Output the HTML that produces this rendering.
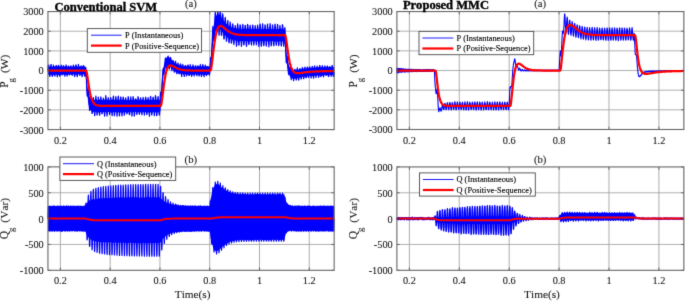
<!DOCTYPE html>
<html><head><meta charset="utf-8"><title>Fig</title>
<style>
html,body{margin:0;padding:0;background:#fff;}
svg{display:block;font-family:"Liberation Serif",serif;font-kerning:none;}
text{fill:#1a1a1a;stroke:#1a1a1a;stroke-width:0.1px;}
</style></head><body>
<svg width="685" height="302" viewBox="0 0 685 302">
<defs><filter id="sf" x="0" y="0" width="685" height="302" filterUnits="userSpaceOnUse" color-interpolation-filters="sRGB"><feConvolveMatrix order="3" kernelMatrix="0.0113 0.0838 0.0113 0.0838 0.6193 0.0838 0.0113 0.0838 0.0113" edgeMode="duplicate" preserveAlpha="false"/></filter></defs>
<rect width="685" height="302" fill="#fff"/>
<g filter="url(#sf)">

<line x1="60.39" y1="11.55" x2="60.39" y2="129.6" stroke="#8a8a8a" stroke-width="0.7"/>
<line x1="110.17" y1="11.55" x2="110.17" y2="129.6" stroke="#8a8a8a" stroke-width="0.7"/>
<line x1="159.94" y1="11.55" x2="159.94" y2="129.6" stroke="#8a8a8a" stroke-width="0.7"/>
<line x1="209.72" y1="11.55" x2="209.72" y2="129.6" stroke="#8a8a8a" stroke-width="0.7"/>
<line x1="259.49" y1="11.55" x2="259.49" y2="129.6" stroke="#8a8a8a" stroke-width="0.7"/>
<line x1="309.26" y1="11.55" x2="309.26" y2="129.6" stroke="#8a8a8a" stroke-width="0.7"/>
<line x1="47.95" y1="109.92" x2="334.15" y2="109.92" stroke="#a2a2a2" stroke-width="0.85"/>
<line x1="47.95" y1="90.25" x2="334.15" y2="90.25" stroke="#a2a2a2" stroke-width="0.85"/>
<line x1="47.95" y1="70.57" x2="334.15" y2="70.57" stroke="#a2a2a2" stroke-width="0.85"/>
<line x1="47.95" y1="50.90" x2="334.15" y2="50.90" stroke="#a2a2a2" stroke-width="0.85"/>
<line x1="47.95" y1="31.22" x2="334.15" y2="31.22" stroke="#a2a2a2" stroke-width="0.85"/>
<line x1="409.38" y1="11.55" x2="409.38" y2="129.5" stroke="#8a8a8a" stroke-width="0.7"/>
<line x1="459.28" y1="11.55" x2="459.28" y2="129.5" stroke="#8a8a8a" stroke-width="0.7"/>
<line x1="509.18" y1="11.55" x2="509.18" y2="129.5" stroke="#8a8a8a" stroke-width="0.7"/>
<line x1="559.09" y1="11.55" x2="559.09" y2="129.5" stroke="#8a8a8a" stroke-width="0.7"/>
<line x1="608.99" y1="11.55" x2="608.99" y2="129.5" stroke="#8a8a8a" stroke-width="0.7"/>
<line x1="658.90" y1="11.55" x2="658.90" y2="129.5" stroke="#8a8a8a" stroke-width="0.7"/>
<line x1="396.9" y1="109.84" x2="683.85" y2="109.84" stroke="#a2a2a2" stroke-width="0.85"/>
<line x1="396.9" y1="90.18" x2="683.85" y2="90.18" stroke="#a2a2a2" stroke-width="0.85"/>
<line x1="396.9" y1="70.53" x2="683.85" y2="70.53" stroke="#a2a2a2" stroke-width="0.85"/>
<line x1="396.9" y1="50.87" x2="683.85" y2="50.87" stroke="#a2a2a2" stroke-width="0.85"/>
<line x1="396.9" y1="31.21" x2="683.85" y2="31.21" stroke="#a2a2a2" stroke-width="0.85"/>
<line x1="60.39" y1="166.9" x2="60.39" y2="270.3" stroke="#8a8a8a" stroke-width="0.7"/>
<line x1="110.17" y1="166.9" x2="110.17" y2="270.3" stroke="#8a8a8a" stroke-width="0.7"/>
<line x1="159.94" y1="166.9" x2="159.94" y2="270.3" stroke="#8a8a8a" stroke-width="0.7"/>
<line x1="209.72" y1="166.9" x2="209.72" y2="270.3" stroke="#8a8a8a" stroke-width="0.7"/>
<line x1="259.49" y1="166.9" x2="259.49" y2="270.3" stroke="#8a8a8a" stroke-width="0.7"/>
<line x1="309.26" y1="166.9" x2="309.26" y2="270.3" stroke="#8a8a8a" stroke-width="0.7"/>
<line x1="47.95" y1="244.45" x2="334.15" y2="244.45" stroke="#a2a2a2" stroke-width="0.85"/>
<line x1="47.95" y1="218.60" x2="334.15" y2="218.60" stroke="#a2a2a2" stroke-width="0.85"/>
<line x1="47.95" y1="192.75" x2="334.15" y2="192.75" stroke="#a2a2a2" stroke-width="0.85"/>
<line x1="409.38" y1="166.95" x2="409.38" y2="270.3" stroke="#8a8a8a" stroke-width="0.7"/>
<line x1="459.28" y1="166.95" x2="459.28" y2="270.3" stroke="#8a8a8a" stroke-width="0.7"/>
<line x1="509.18" y1="166.95" x2="509.18" y2="270.3" stroke="#8a8a8a" stroke-width="0.7"/>
<line x1="559.09" y1="166.95" x2="559.09" y2="270.3" stroke="#8a8a8a" stroke-width="0.7"/>
<line x1="608.99" y1="166.95" x2="608.99" y2="270.3" stroke="#8a8a8a" stroke-width="0.7"/>
<line x1="658.90" y1="166.95" x2="658.90" y2="270.3" stroke="#8a8a8a" stroke-width="0.7"/>
<line x1="396.9" y1="244.46" x2="683.85" y2="244.46" stroke="#a2a2a2" stroke-width="0.85"/>
<line x1="396.9" y1="218.62" x2="683.85" y2="218.62" stroke="#a2a2a2" stroke-width="0.85"/>
<line x1="396.9" y1="192.79" x2="683.85" y2="192.79" stroke="#a2a2a2" stroke-width="0.85"/>
<polygon fill="#0000ff" stroke="none" points="48.0,66.7 48.2,66.3 48.4,67.1 48.7,67.1 48.9,66.9 49.2,66.9 49.4,67.1 49.7,66.1 49.9,66.2 50.2,66.2 50.4,66.2 50.7,66.0 50.9,66.9 51.2,66.5 51.4,66.7 51.7,66.7 51.9,66.3 52.2,66.7 52.4,66.0 52.7,67.0 52.9,66.9 53.2,66.1 53.4,66.8 53.7,66.7 53.9,66.6 54.2,66.3 54.4,66.1 54.7,66.3 54.9,66.9 55.2,66.1 55.4,66.8 55.7,67.0 55.9,67.1 56.2,66.1 56.4,66.5 56.7,66.8 56.9,67.0 57.2,66.0 57.4,66.2 57.7,66.2 57.9,66.6 58.2,66.9 58.4,66.7 58.7,66.4 58.9,66.4 59.1,67.0 59.4,66.1 59.6,66.4 59.9,66.5 60.1,66.4 60.4,66.5 60.6,66.0 60.9,66.9 61.1,66.3 61.4,66.4 61.6,66.0 61.9,66.3 62.1,66.9 62.4,66.7 62.6,66.1 62.9,67.0 63.1,66.2 63.4,66.5 63.6,67.1 63.9,66.2 64.1,66.9 64.4,66.7 64.6,66.5 64.9,66.7 65.1,66.1 65.4,66.0 65.6,66.0 65.9,66.5 66.1,66.2 66.4,66.8 66.6,66.6 66.9,66.5 67.1,66.6 67.4,66.9 67.6,66.1 67.9,66.4 68.1,66.7 68.4,66.8 68.6,67.0 68.9,66.6 69.1,66.7 69.4,66.1 69.6,67.0 69.9,66.9 70.1,66.4 70.3,66.8 70.6,66.7 70.8,66.0 71.1,66.9 71.3,66.9 71.6,66.7 71.8,66.7 72.1,66.5 72.3,66.3 72.6,67.0 72.8,66.9 73.1,66.0 73.3,66.3 73.6,67.0 73.8,66.4 74.1,66.1 74.3,66.8 74.6,66.6 74.8,66.2 75.1,66.8 75.3,66.3 75.6,66.6 75.8,66.4 76.1,66.4 76.3,67.0 76.6,66.3 76.8,66.2 77.1,66.9 77.3,67.0 77.6,66.5 77.8,66.5 78.1,66.6 78.3,66.1 78.6,67.1 78.8,66.4 79.1,66.1 79.3,66.2 79.6,66.3 79.8,66.9 80.1,66.9 80.3,66.6 80.6,66.2 80.8,67.0 81.0,67.1 81.3,66.1 81.5,66.7 81.8,66.4 82.0,66.0 82.3,67.0 82.5,66.7 82.8,66.1 83.0,66.9 83.3,66.1 83.5,66.3 83.8,66.7 84.0,66.2 84.3,66.6 84.5,66.1 84.8,66.0 85.0,66.4 85.3,66.3 85.5,67.6 85.8,69.4 86.0,71.5 86.3,74.2 86.5,76.7 86.8,79.7 87.0,81.7 87.3,84.2 87.5,86.7 87.8,88.7 88.0,89.8 88.3,90.8 88.5,92.1 88.8,93.2 89.0,94.8 89.3,95.0 89.5,96.7 89.8,97.4 90.0,97.8 90.3,98.3 90.5,98.5 90.8,98.4 91.0,98.2 91.3,98.6 91.5,99.0 91.8,99.7 92.0,99.1 92.2,99.2 92.5,99.1 92.7,99.5 93.0,99.8 93.2,99.9 93.5,99.7 93.7,100.0 94.0,99.2 94.2,100.2 94.5,99.6 94.7,99.9 95.0,99.9 95.2,99.8 95.5,100.0 95.7,99.6 96.0,99.7 96.2,99.9 96.5,99.9 96.7,99.8 97.0,99.6 97.2,100.2 97.5,100.3 97.7,100.2 98.0,100.0 98.2,99.8 98.5,99.9 98.7,99.5 99.0,99.7 99.2,99.7 99.5,99.8 99.7,99.3 100.0,100.4 100.2,99.9 100.5,100.0 100.7,99.3 101.0,100.1 101.2,100.0 101.5,99.6 101.7,99.9 102.0,100.3 102.2,100.2 102.5,99.8 102.7,100.0 103.0,99.8 103.2,100.2 103.4,99.3 103.7,100.0 103.9,100.0 104.2,99.7 104.4,99.4 104.7,99.4 104.9,99.8 105.2,99.4 105.4,99.7 105.7,100.0 105.9,99.9 106.2,100.1 106.4,99.5 106.7,99.8 106.9,99.8 107.2,100.0 107.4,99.6 107.7,100.1 107.9,100.1 108.2,100.4 108.4,100.3 108.7,100.1 108.9,100.1 109.2,99.9 109.4,99.7 109.7,100.1 109.9,100.2 110.2,99.7 110.4,99.6 110.7,99.4 110.9,99.8 111.2,100.4 111.4,100.0 111.7,99.6 111.9,100.0 112.2,100.3 112.4,99.3 112.7,99.4 112.9,100.1 113.2,100.3 113.4,99.9 113.7,100.1 113.9,99.8 114.1,99.6 114.4,100.1 114.6,100.0 114.9,99.7 115.1,99.8 115.4,100.4 115.6,100.1 115.9,100.3 116.1,99.4 116.4,99.9 116.6,99.5 116.9,100.1 117.1,100.4 117.4,99.4 117.6,99.4 117.9,99.8 118.1,100.3 118.4,100.4 118.6,99.7 118.9,99.8 119.1,100.0 119.4,99.8 119.6,100.4 119.9,100.2 120.1,99.3 120.4,99.9 120.6,99.9 120.9,99.3 121.1,99.9 121.4,100.4 121.6,99.6 121.9,99.8 122.1,100.1 122.4,99.8 122.6,100.1 122.9,99.6 123.1,99.3 123.4,100.4 123.6,99.6 123.9,99.4 124.1,99.6 124.4,99.8 124.6,100.1 124.9,100.0 125.1,100.3 125.3,100.4 125.6,99.6 125.8,100.3 126.1,100.4 126.3,100.1 126.6,100.4 126.8,99.7 127.1,99.8 127.3,99.9 127.6,100.3 127.8,99.8 128.1,99.6 128.3,100.0 128.6,100.1 128.8,99.9 129.1,100.1 129.3,100.0 129.6,99.8 129.8,100.4 130.1,100.1 130.3,100.3 130.6,100.2 130.8,99.5 131.1,100.0 131.3,99.9 131.6,100.1 131.8,99.3 132.1,99.4 132.3,100.4 132.6,100.1 132.8,99.9 133.1,99.5 133.3,100.1 133.6,100.2 133.8,100.3 134.1,99.4 134.3,100.0 134.6,100.0 134.8,99.9 135.1,99.3 135.3,99.6 135.6,100.2 135.8,100.2 136.0,100.3 136.3,99.4 136.5,99.9 136.8,99.6 137.0,99.4 137.3,100.4 137.5,100.2 137.8,100.0 138.0,99.5 138.3,99.9 138.5,100.1 138.8,100.4 139.0,99.9 139.3,100.2 139.5,99.3 139.8,99.4 140.0,100.0 140.3,100.3 140.5,100.0 140.8,99.3 141.0,99.7 141.3,99.9 141.5,100.0 141.8,100.2 142.0,100.3 142.3,99.9 142.5,99.3 142.8,99.3 143.0,99.4 143.3,100.0 143.5,99.7 143.8,100.2 144.0,100.1 144.3,100.2 144.5,100.0 144.8,100.4 145.0,99.4 145.3,99.3 145.5,100.2 145.8,100.1 146.0,100.2 146.3,99.6 146.5,99.3 146.8,99.3 147.0,100.4 147.2,99.3 147.5,99.9 147.7,100.3 148.0,100.1 148.2,99.8 148.5,100.0 148.7,99.7 149.0,100.3 149.2,99.7 149.5,100.0 149.7,99.4 150.0,99.7 150.2,100.4 150.5,99.3 150.7,100.2 151.0,99.8 151.2,100.0 151.5,99.8 151.7,100.3 152.0,100.1 152.2,100.2 152.5,99.9 152.7,100.0 153.0,100.0 153.2,100.0 153.5,100.0 153.7,99.5 154.0,99.9 154.2,99.7 154.5,99.8 154.7,99.8 155.0,99.4 155.2,99.3 155.5,100.4 155.7,100.0 156.0,99.3 156.2,100.2 156.5,99.8 156.7,100.0 157.0,99.7 157.2,99.5 157.5,99.7 157.7,100.2 158.0,99.7 158.2,99.6 158.4,100.3 158.7,99.7 158.9,100.4 159.2,100.0 159.4,100.0 159.7,100.3 159.9,99.6 160.2,98.9 160.4,97.2 160.7,94.7 160.9,91.9 161.2,89.1 161.4,85.7 161.7,83.3 161.9,80.6 162.2,77.8 162.4,76.1 162.7,73.1 162.9,71.5 163.2,70.1 163.4,68.5 163.7,67.0 163.9,64.8 164.2,64.3 164.4,63.4 164.7,61.5 164.9,61.4 165.2,60.5 165.4,59.8 165.7,59.4 165.9,58.9 166.2,57.7 166.4,57.3 166.7,58.1 166.9,57.5 167.2,56.8 167.4,57.4 167.7,57.6 167.9,56.6 168.2,56.8 168.4,57.7 168.7,56.9 168.9,57.4 169.1,57.4 169.4,58.1 169.6,58.0 169.9,57.5 170.1,58.3 170.4,58.6 170.6,58.3 170.9,58.8 171.1,59.2 171.4,60.0 171.6,59.4 171.9,60.2 172.1,60.4 172.4,60.7 172.6,60.8 172.9,60.5 173.1,61.1 173.4,61.0 173.6,61.1 173.9,61.6 174.1,62.4 174.4,62.6 174.6,63.0 174.9,62.2 175.1,63.2 175.4,62.6 175.6,63.5 175.9,62.9 176.1,64.0 176.4,63.4 176.6,63.3 176.9,64.0 177.1,64.3 177.4,64.1 177.6,63.9 177.9,65.0 178.1,64.4 178.4,64.8 178.6,64.4 178.9,65.3 179.1,64.7 179.4,65.1 179.6,65.1 179.9,65.3 180.1,65.5 180.3,65.8 180.6,65.3 180.8,65.6 181.1,65.1 181.3,66.1 181.6,66.2 181.8,65.6 182.1,65.5 182.3,65.7 182.6,66.0 182.8,66.5 183.1,66.5 183.3,66.1 183.6,65.6 183.8,66.5 184.1,65.9 184.3,65.8 184.6,65.8 184.8,66.0 185.1,66.1 185.3,66.0 185.6,66.3 185.8,66.2 186.1,65.8 186.3,66.0 186.6,66.8 186.8,66.5 187.1,66.6 187.3,66.9 187.6,66.9 187.8,66.5 188.1,66.7 188.3,65.8 188.6,66.7 188.8,66.7 189.1,67.0 189.3,66.2 189.6,65.9 189.8,66.1 190.1,66.0 190.3,67.0 190.6,66.9 190.8,66.7 191.1,66.6 191.3,66.9 191.5,67.0 191.8,66.5 192.0,65.9 192.3,66.6 192.5,66.9 192.8,66.8 193.0,66.9 193.3,67.1 193.5,66.3 193.8,66.3 194.0,66.0 194.3,66.6 194.5,67.0 194.8,67.0 195.0,66.5 195.3,66.2 195.5,67.0 195.8,66.2 196.0,66.9 196.3,67.1 196.5,67.0 196.8,66.3 197.0,67.1 197.3,66.5 197.5,66.0 197.8,66.6 198.0,66.0 198.3,66.8 198.5,66.3 198.8,66.0 199.0,66.8 199.3,66.1 199.5,66.1 199.8,66.1 200.0,66.6 200.3,67.1 200.5,66.8 200.8,66.7 201.0,66.8 201.3,66.3 201.5,66.4 201.8,66.9 202.0,66.6 202.2,66.1 202.5,66.4 202.7,66.2 203.0,66.1 203.2,66.5 203.5,66.3 203.7,66.5 204.0,66.9 204.2,67.0 204.5,66.5 204.7,66.2 205.0,66.1 205.2,66.2 205.5,66.6 205.7,66.3 206.0,66.6 206.2,66.2 206.5,66.8 206.7,66.6 207.0,66.3 207.2,66.1 207.5,66.2 207.7,67.0 208.0,67.0 208.2,66.9 208.5,66.8 208.7,67.0 209.0,66.0 209.2,66.5 209.5,67.1 209.7,66.7 210.0,65.8 210.2,63.4 210.5,60.6 210.7,58.1 211.0,54.6 211.2,50.5 211.5,47.7 211.7,44.3 212.0,40.8 212.2,38.6 212.5,36.4 212.7,33.4 213.0,31.5 213.2,29.4 213.4,27.4 213.7,25.6 213.9,24.3 214.2,22.2 214.4,21.9 214.7,19.6 214.9,19.0 215.2,18.5 215.4,18.0 215.7,17.1 215.9,15.7 216.2,15.9 216.4,15.4 216.7,15.4 216.9,14.5 217.2,14.7 217.4,14.6 217.7,14.8 217.9,14.7 218.2,14.7 218.4,13.8 218.7,14.4 218.9,14.1 219.2,15.0 219.4,15.0 219.7,14.8 219.9,15.2 220.2,15.7 220.4,15.9 220.7,16.9 220.9,16.2 221.2,16.5 221.4,17.1 221.7,17.9 221.9,18.3 222.2,18.7 222.4,19.2 222.7,19.7 222.9,20.1 223.2,19.9 223.4,20.2 223.7,20.8 223.9,20.9 224.1,20.6 224.4,21.8 224.6,21.4 224.9,22.4 225.1,22.4 225.4,22.6 225.6,23.5 225.9,22.9 226.1,24.0 226.4,24.0 226.6,24.1 226.9,23.9 227.1,24.1 227.4,25.0 227.6,24.9 227.9,25.5 228.1,25.5 228.4,25.8 228.6,25.7 228.9,26.1 229.1,25.5 229.4,26.5 229.6,26.0 229.9,26.0 230.1,26.3 230.4,26.3 230.6,26.5 230.9,27.2 231.1,27.1 231.4,26.9 231.6,27.4 231.9,27.2 232.1,27.3 232.4,27.5 232.6,28.1 232.9,28.0 233.1,27.5 233.4,28.1 233.6,28.0 233.9,28.5 234.1,28.1 234.4,27.7 234.6,28.0 234.9,27.8 235.1,27.9 235.3,28.5 235.6,28.8 235.8,28.1 236.1,28.0 236.3,28.3 236.6,28.8 236.8,28.3 237.1,28.6 237.3,29.1 237.6,28.8 237.8,28.4 238.1,28.6 238.3,28.7 238.6,29.1 238.8,28.8 239.1,29.1 239.3,28.7 239.6,28.8 239.8,29.4 240.1,28.8 240.3,29.2 240.6,28.6 240.8,28.4 241.1,28.7 241.3,28.7 241.6,29.3 241.8,29.2 242.1,29.4 242.3,28.5 242.6,28.4 242.8,28.4 243.1,28.8 243.3,28.7 243.6,28.8 243.8,28.5 244.1,28.6 244.3,29.0 244.6,29.0 244.8,28.6 245.1,29.3 245.3,28.8 245.6,29.1 245.8,28.8 246.1,29.1 246.3,29.3 246.5,28.6 246.8,29.0 247.0,28.8 247.3,28.9 247.5,28.6 247.8,28.7 248.0,28.4 248.3,28.8 248.5,28.6 248.8,28.6 249.0,28.8 249.3,28.4 249.5,29.4 249.8,29.4 250.0,29.0 250.3,28.7 250.5,28.8 250.8,28.5 251.0,28.8 251.3,29.2 251.5,29.3 251.8,28.4 252.0,28.8 252.3,29.6 252.5,29.2 252.8,29.0 253.0,29.1 253.3,28.5 253.5,29.3 253.8,29.3 254.0,29.6 254.3,28.8 254.5,29.1 254.8,29.5 255.0,28.9 255.3,29.4 255.5,29.4 255.8,28.7 256.0,29.6 256.3,28.5 256.5,28.6 256.8,29.3 257.0,29.3 257.2,29.0 257.5,29.5 257.7,28.6 258.0,29.0 258.2,28.6 258.5,28.6 258.7,28.9 259.0,28.8 259.2,28.4 259.5,29.3 259.7,29.3 260.0,29.0 260.2,29.4 260.5,28.8 260.7,28.5 261.0,28.9 261.2,29.2 261.5,28.9 261.7,28.9 262.0,29.6 262.2,28.7 262.5,29.3 262.7,29.3 263.0,29.5 263.2,28.7 263.5,28.7 263.7,29.4 264.0,29.1 264.2,28.7 264.5,29.0 264.7,28.8 265.0,29.1 265.2,28.7 265.5,28.7 265.7,28.7 266.0,29.5 266.2,29.0 266.5,28.9 266.7,29.5 267.0,28.9 267.2,28.7 267.5,28.9 267.7,28.5 268.0,29.3 268.2,28.7 268.4,28.7 268.7,28.7 268.9,29.1 269.2,28.9 269.4,28.6 269.7,28.4 269.9,29.2 270.2,29.2 270.4,29.4 270.7,29.3 270.9,29.3 271.2,29.2 271.4,29.3 271.7,29.4 271.9,28.9 272.2,28.9 272.4,29.2 272.7,28.8 272.9,29.3 273.2,29.1 273.4,29.5 273.7,29.5 273.9,28.9 274.2,28.7 274.4,28.5 274.7,29.5 274.9,29.6 275.2,29.1 275.4,28.8 275.7,28.5 275.9,29.1 276.2,29.0 276.4,29.6 276.7,29.3 276.9,28.5 277.2,29.3 277.4,28.6 277.7,29.4 277.9,29.4 278.2,29.2 278.4,29.2 278.7,29.1 278.9,29.1 279.1,28.9 279.4,29.3 279.6,29.0 279.9,28.9 280.1,28.7 280.4,28.4 280.6,29.0 280.9,28.6 281.1,28.6 281.4,28.9 281.6,28.5 281.9,29.5 282.1,29.3 282.4,28.7 282.6,29.5 282.9,29.4 283.1,29.5 283.4,28.6 283.6,29.1 283.9,29.3 284.1,28.6 284.4,28.8 284.6,30.2 284.9,32.3 285.1,34.4 285.4,37.2 285.6,41.3 285.9,44.8 286.1,46.7 286.4,49.8 286.6,53.0 286.9,55.2 287.1,57.2 287.4,59.1 287.6,60.0 287.9,61.2 288.1,63.1 288.4,64.4 288.6,65.3 288.9,65.4 289.1,66.3 289.4,66.6 289.6,67.2 289.9,68.2 290.1,68.6 290.3,68.2 290.6,68.4 290.8,69.5 291.1,69.5 291.3,69.6 291.6,69.3 291.8,70.0 292.1,69.7 292.3,69.8 292.6,69.4 292.8,70.5 293.1,70.0 293.3,70.0 293.6,70.1 293.8,70.5 294.1,70.1 294.3,69.8 294.6,69.4 294.8,69.5 295.1,69.5 295.3,69.5 295.6,70.5 295.8,69.5 296.1,70.2 296.3,69.5 296.6,69.6 296.8,69.4 297.1,69.8 297.3,69.8 297.6,69.6 297.8,69.2 298.1,69.4 298.3,69.6 298.6,69.9 298.8,69.4 299.1,68.9 299.3,69.7 299.6,69.0 299.8,69.0 300.1,68.7 300.3,68.9 300.6,69.0 300.8,69.1 301.1,69.2 301.3,68.9 301.5,69.3 301.8,69.2 302.0,68.5 302.3,69.4 302.5,68.3 302.8,68.5 303.0,69.3 303.3,68.7 303.5,68.7 303.8,68.5 304.0,68.7 304.3,68.0 304.5,68.6 304.8,69.0 305.0,68.7 305.3,68.7 305.5,68.8 305.8,68.9 306.0,67.9 306.3,68.8 306.5,68.7 306.8,68.7 307.0,68.0 307.3,68.2 307.5,68.2 307.8,67.8 308.0,68.1 308.3,68.1 308.5,67.8 308.8,68.2 309.0,68.3 309.3,67.5 309.5,68.5 309.8,67.7 310.0,68.4 310.3,68.3 310.5,68.2 310.8,68.1 311.0,67.7 311.3,67.6 311.5,67.2 311.8,67.4 312.0,68.3 312.2,67.8 312.5,67.4 312.7,67.1 313.0,67.7 313.2,68.1 313.5,68.1 313.7,67.3 314.0,67.3 314.2,67.5 314.5,67.4 314.7,67.2 315.0,67.5 315.2,67.8 315.5,67.3 315.7,67.9 316.0,67.2 316.2,67.6 316.5,67.5 316.7,67.3 317.0,67.2 317.2,67.6 317.5,66.9 317.7,66.9 318.0,66.8 318.2,66.9 318.5,67.3 318.7,67.6 319.0,66.9 319.2,67.3 319.5,67.6 319.7,67.3 320.0,67.4 320.2,67.3 320.5,66.7 320.7,67.3 321.0,67.4 321.2,67.0 321.5,66.8 321.7,67.0 322.0,67.7 322.2,67.4 322.5,66.7 322.7,67.1 323.0,67.7 323.2,67.0 323.4,67.0 323.7,67.5 323.9,66.9 324.2,67.5 324.4,66.6 324.7,67.0 324.9,67.6 325.2,67.1 325.4,66.7 325.7,67.5 325.9,66.7 326.2,66.7 326.4,67.6 326.7,66.7 326.9,67.7 327.2,67.0 327.4,67.0 327.7,66.5 327.9,67.0 328.2,67.1 328.4,67.4 328.7,66.8 328.9,66.6 329.2,67.2 329.4,66.5 329.7,66.7 329.9,67.1 330.2,67.4 330.4,67.2 330.7,67.0 330.9,67.5 331.2,66.5 331.4,67.2 331.7,67.3 331.9,66.9 332.2,66.7 332.4,67.4 332.7,67.1 332.9,67.1 333.2,66.6 333.4,67.3 333.7,67.1 333.9,67.3 334.2,67.0 334.2,74.8 333.9,75.6 333.7,75.2 333.4,74.7 333.2,75.5 332.9,75.2 332.7,75.1 332.4,75.2 332.2,75.2 331.9,75.7 331.7,75.0 331.4,75.4 331.2,74.8 330.9,75.6 330.7,74.8 330.4,74.6 330.2,75.1 329.9,75.2 329.7,74.8 329.4,74.8 329.2,74.8 328.9,75.6 328.7,75.7 328.4,75.3 328.2,75.7 327.9,75.5 327.7,75.3 327.4,75.2 327.2,75.3 326.9,75.8 326.7,75.6 326.4,74.8 326.2,75.5 325.9,74.7 325.7,75.0 325.4,75.8 325.2,75.2 324.9,75.2 324.7,75.6 324.4,75.0 324.2,75.0 323.9,74.8 323.7,75.7 323.4,75.3 323.2,75.9 323.0,75.8 322.7,74.9 322.5,75.9 322.2,76.0 322.0,75.9 321.7,75.4 321.5,75.7 321.2,74.9 321.0,75.0 320.7,76.0 320.5,76.0 320.2,75.3 320.0,75.8 319.7,74.9 319.5,76.0 319.2,75.4 319.0,75.1 318.7,75.1 318.5,75.4 318.2,75.2 318.0,75.7 317.7,75.3 317.5,75.2 317.2,75.3 317.0,75.6 316.7,76.2 316.5,75.2 316.2,75.7 316.0,75.5 315.7,75.9 315.5,75.3 315.2,76.0 315.0,76.2 314.7,76.1 314.5,75.5 314.2,75.9 314.0,75.9 313.7,76.3 313.5,76.4 313.2,75.3 313.0,76.3 312.7,76.2 312.5,76.4 312.2,75.9 312.0,76.1 311.8,76.5 311.5,76.2 311.3,76.5 311.0,75.9 310.8,76.0 310.5,76.3 310.3,75.8 310.0,76.0 309.8,76.0 309.5,75.7 309.3,75.6 309.0,76.1 308.8,76.3 308.5,76.9 308.3,76.8 308.0,75.8 307.8,76.3 307.5,76.5 307.3,75.9 307.0,77.0 306.8,76.0 306.5,76.1 306.3,76.5 306.0,76.2 305.8,76.4 305.5,77.2 305.3,76.8 305.0,76.6 304.8,76.8 304.5,76.8 304.3,77.4 304.0,76.8 303.8,76.9 303.5,77.1 303.3,76.9 303.0,77.2 302.8,76.8 302.5,76.7 302.3,76.9 302.0,76.8 301.8,77.7 301.5,77.0 301.3,77.6 301.1,77.8 300.8,77.6 300.6,77.9 300.3,77.1 300.1,78.0 299.8,77.5 299.6,77.3 299.3,77.7 299.1,78.0 298.8,78.2 298.6,77.7 298.3,78.1 298.1,78.2 297.8,77.9 297.6,78.1 297.3,78.7 297.1,78.1 296.8,78.4 296.6,77.9 296.3,78.9 296.1,78.0 295.8,78.0 295.6,78.6 295.3,79.0 295.1,78.5 294.8,78.5 294.6,79.1 294.3,78.1 294.1,79.0 293.8,78.9 293.6,78.6 293.3,78.3 293.1,78.7 292.8,78.5 292.6,78.9 292.3,78.2 292.1,78.8 291.8,78.0 291.6,78.0 291.3,78.2 291.1,77.2 290.8,77.1 290.6,76.8 290.3,76.7 290.1,76.8 289.9,76.3 289.6,75.6 289.4,75.8 289.1,74.4 288.9,73.4 288.6,73.0 288.4,71.9 288.1,71.7 287.9,70.6 287.6,68.7 287.4,67.7 287.1,65.9 286.9,63.7 286.6,61.7 286.4,59.9 286.1,57.9 285.9,55.0 285.6,52.0 285.4,48.7 285.1,46.1 284.9,43.9 284.6,41.7 284.4,41.6 284.1,41.7 283.9,41.6 283.6,41.8 283.4,41.1 283.1,41.6 282.9,41.2 282.6,41.3 282.4,41.1 282.1,41.4 281.9,41.9 281.6,41.7 281.4,41.5 281.1,41.4 280.9,41.1 280.6,41.0 280.4,41.6 280.1,41.2 279.9,41.1 279.6,41.0 279.4,41.5 279.1,40.8 278.9,40.9 278.7,41.4 278.4,40.7 278.2,41.5 277.9,41.9 277.7,41.9 277.4,41.3 277.2,40.7 276.9,41.0 276.7,41.8 276.4,41.7 276.2,40.8 275.9,41.3 275.7,41.7 275.4,41.0 275.2,41.0 274.9,41.7 274.7,41.3 274.4,41.1 274.2,41.6 273.9,41.7 273.7,40.9 273.4,40.7 273.2,41.9 272.9,41.0 272.7,40.9 272.4,40.9 272.2,41.8 271.9,41.5 271.7,41.5 271.4,41.7 271.2,40.9 270.9,40.8 270.7,41.0 270.4,40.8 270.2,41.4 269.9,41.2 269.7,41.8 269.4,40.9 269.2,41.5 268.9,41.1 268.7,41.3 268.4,41.6 268.2,41.7 268.0,40.9 267.7,40.7 267.5,41.6 267.2,41.1 267.0,41.5 266.7,41.1 266.5,41.4 266.2,41.2 266.0,40.7 265.7,41.3 265.5,41.0 265.2,41.4 265.0,41.1 264.7,41.3 264.5,40.9 264.2,41.4 264.0,41.1 263.7,41.5 263.5,41.6 263.2,41.5 263.0,41.0 262.7,41.5 262.5,40.9 262.2,41.8 262.0,41.5 261.7,41.4 261.5,41.8 261.2,41.7 261.0,40.7 260.7,40.8 260.5,41.0 260.2,41.2 260.0,41.9 259.7,41.6 259.5,41.6 259.2,41.0 259.0,41.7 258.7,41.8 258.5,41.5 258.2,41.1 258.0,40.9 257.7,41.6 257.5,41.8 257.2,41.0 257.0,41.8 256.8,41.1 256.5,41.3 256.3,40.7 256.0,41.0 255.8,41.2 255.5,40.8 255.3,41.6 255.0,40.9 254.8,41.6 254.5,41.3 254.3,41.1 254.0,41.6 253.8,41.1 253.5,41.6 253.3,41.7 253.0,41.5 252.8,41.3 252.5,41.6 252.3,41.0 252.0,41.6 251.8,41.1 251.5,41.7 251.3,41.7 251.0,41.0 250.8,41.6 250.5,41.3 250.3,40.7 250.0,41.0 249.8,41.3 249.5,41.2 249.3,41.0 249.0,41.5 248.8,41.8 248.5,41.3 248.3,40.9 248.0,41.1 247.8,41.6 247.5,41.2 247.3,41.4 247.0,41.6 246.8,40.9 246.5,41.1 246.3,41.6 246.1,41.1 245.8,40.9 245.6,41.5 245.3,41.0 245.1,41.3 244.8,41.2 244.6,40.9 244.3,41.1 244.1,40.8 243.8,41.3 243.6,41.3 243.3,41.0 243.1,41.3 242.8,41.0 242.6,41.0 242.3,40.7 242.1,41.1 241.8,41.3 241.6,41.0 241.3,41.7 241.1,40.8 240.8,41.4 240.6,41.3 240.3,41.0 240.1,41.1 239.8,40.9 239.6,41.6 239.3,40.5 239.1,40.7 238.8,41.5 238.6,41.2 238.3,40.5 238.1,40.8 237.8,41.4 237.6,41.6 237.3,41.4 237.1,40.5 236.8,41.1 236.6,40.6 236.3,40.6 236.1,40.9 235.8,40.6 235.6,40.2 235.3,40.3 235.1,40.5 234.9,40.5 234.6,40.8 234.4,40.2 234.1,41.1 233.9,40.2 233.6,40.3 233.4,40.9 233.1,40.3 232.9,40.6 232.6,40.3 232.4,39.8 232.1,39.6 231.9,39.8 231.6,40.3 231.4,39.8 231.1,39.6 230.9,39.3 230.6,38.9 230.4,38.8 230.1,39.4 229.9,38.9 229.6,39.4 229.4,38.3 229.1,38.9 228.9,38.7 228.6,38.3 228.4,38.1 228.1,38.5 227.9,38.1 227.6,37.4 227.4,37.6 227.1,37.1 226.9,37.7 226.6,36.5 226.4,36.7 226.1,36.5 225.9,35.7 225.6,36.2 225.4,35.4 225.1,34.9 224.9,34.8 224.6,35.3 224.4,35.0 224.1,34.5 223.9,33.7 223.7,33.9 223.4,32.9 223.2,33.0 222.9,33.0 222.7,32.2 222.4,32.5 222.2,31.4 221.9,31.5 221.7,31.2 221.4,30.7 221.2,30.4 220.9,30.3 220.7,29.5 220.4,29.7 220.2,29.5 219.9,29.2 219.7,29.1 219.4,29.3 219.2,28.8 218.9,28.0 218.7,28.7 218.4,28.0 218.2,28.0 217.9,28.1 217.7,27.8 217.4,28.5 217.2,27.9 216.9,28.1 216.7,28.5 216.4,29.0 216.2,29.8 215.9,30.4 215.7,30.9 215.4,31.4 215.2,32.3 214.9,32.2 214.7,33.8 214.4,33.9 214.2,35.3 213.9,36.9 213.7,38.4 213.4,40.2 213.2,41.9 213.0,43.4 212.7,45.6 212.5,47.9 212.2,49.6 212.0,52.3 211.7,55.1 211.5,58.3 211.2,61.2 211.0,64.1 210.7,66.3 210.5,70.1 210.2,72.0 210.0,74.2 209.7,75.2 209.5,74.2 209.2,75.1 209.0,74.8 208.7,75.1 208.5,74.2 208.2,74.2 208.0,74.6 207.7,74.3 207.5,74.5 207.2,74.6 207.0,74.9 206.7,74.8 206.5,75.0 206.2,74.6 206.0,75.0 205.7,74.7 205.5,74.3 205.2,75.0 205.0,74.5 204.7,74.6 204.5,74.1 204.2,74.7 204.0,74.5 203.7,74.8 203.5,74.4 203.2,74.5 203.0,75.2 202.7,74.5 202.5,74.4 202.2,74.6 202.0,74.1 201.8,74.2 201.5,74.6 201.3,74.7 201.0,75.1 200.8,74.9 200.5,74.1 200.3,74.3 200.0,74.9 199.8,74.7 199.5,74.5 199.3,75.0 199.0,74.9 198.8,74.1 198.5,74.5 198.3,74.9 198.0,74.3 197.8,74.2 197.5,74.6 197.3,74.7 197.0,74.6 196.8,75.1 196.5,74.0 196.3,74.2 196.0,74.9 195.8,74.1 195.5,74.5 195.3,75.0 195.0,74.1 194.8,74.8 194.5,74.5 194.3,75.1 194.0,74.8 193.8,75.1 193.5,74.6 193.3,74.9 193.0,74.2 192.8,75.2 192.5,74.4 192.3,74.6 192.0,75.0 191.8,74.8 191.5,74.9 191.3,74.5 191.1,74.5 190.8,74.8 190.6,74.0 190.3,75.0 190.1,75.0 189.8,74.1 189.6,74.2 189.3,74.5 189.1,74.1 188.8,75.0 188.6,74.6 188.3,74.1 188.1,75.0 187.8,75.0 187.6,74.1 187.3,74.5 187.1,74.9 186.8,74.9 186.6,74.5 186.3,74.9 186.1,74.1 185.8,74.3 185.6,73.9 185.3,73.9 185.1,74.4 184.8,73.8 184.6,74.4 184.3,74.6 184.1,74.6 183.8,74.4 183.6,73.8 183.3,74.4 183.1,74.4 182.8,74.2 182.6,73.9 182.3,73.6 182.1,73.9 181.8,74.2 181.6,74.2 181.3,73.4 181.1,74.0 180.8,73.2 180.6,73.6 180.3,74.0 180.1,74.0 179.9,74.0 179.6,74.0 179.4,72.8 179.1,73.6 178.9,73.2 178.6,72.6 178.4,73.6 178.1,73.1 177.9,72.6 177.6,72.8 177.4,73.1 177.1,72.4 176.9,72.0 176.6,72.2 176.4,72.1 176.1,72.1 175.9,72.0 175.6,71.7 175.4,71.3 175.1,71.8 174.9,71.1 174.6,70.9 174.4,70.6 174.1,71.1 173.9,70.6 173.6,70.2 173.4,70.4 173.1,69.8 172.9,69.1 172.6,69.0 172.4,69.3 172.1,68.8 171.9,68.3 171.6,68.0 171.4,68.3 171.1,68.1 170.9,67.8 170.6,67.2 170.4,67.1 170.1,67.4 169.9,67.4 169.6,67.3 169.4,67.1 169.1,67.1 168.9,66.7 168.7,66.7 168.4,66.6 168.2,66.8 167.9,66.6 167.7,66.5 167.4,65.9 167.2,66.0 166.9,66.3 166.7,67.2 166.4,66.7 166.2,66.8 165.9,67.4 165.7,67.6 165.4,68.0 165.2,68.9 164.9,69.3 164.7,70.4 164.4,71.7 164.2,72.6 163.9,73.8 163.7,74.8 163.4,76.1 163.2,78.4 162.9,80.3 162.7,82.7 162.4,85.1 162.2,87.7 161.9,91.0 161.7,94.1 161.4,96.6 161.2,99.9 160.9,103.5 160.7,106.5 160.4,109.8 160.2,111.6 159.9,112.2 159.7,111.6 159.4,112.5 159.2,112.1 158.9,112.3 158.7,112.1 158.4,112.5 158.2,112.6 158.0,112.0 157.7,112.2 157.5,112.2 157.2,111.6 157.0,111.6 156.7,112.4 156.5,111.6 156.2,111.8 156.0,112.6 155.7,112.1 155.5,112.4 155.2,112.3 155.0,111.8 154.7,112.6 154.5,111.7 154.2,111.6 154.0,112.6 153.7,111.5 153.5,111.5 153.2,112.1 153.0,111.9 152.7,112.1 152.5,112.5 152.2,111.7 152.0,112.3 151.7,112.3 151.5,111.8 151.2,112.5 151.0,112.1 150.7,112.6 150.5,112.1 150.2,112.5 150.0,112.4 149.7,112.7 149.5,111.6 149.2,112.5 149.0,112.2 148.7,112.4 148.5,112.7 148.2,112.4 148.0,112.5 147.7,112.6 147.5,111.7 147.2,112.7 147.0,112.5 146.8,111.8 146.5,112.1 146.3,111.7 146.0,111.8 145.8,111.8 145.5,112.6 145.3,111.9 145.0,112.3 144.8,111.8 144.5,112.2 144.3,112.1 144.0,111.8 143.8,111.8 143.5,112.1 143.3,111.7 143.0,112.4 142.8,112.5 142.5,111.8 142.3,112.0 142.0,112.6 141.8,111.8 141.5,111.9 141.3,111.6 141.0,112.5 140.8,111.9 140.5,111.6 140.3,112.2 140.0,112.6 139.8,112.1 139.5,111.7 139.3,111.6 139.0,111.7 138.8,112.6 138.5,112.0 138.3,111.9 138.0,111.7 137.8,111.8 137.5,112.4 137.3,112.5 137.0,111.8 136.8,112.0 136.5,112.3 136.3,111.7 136.0,112.0 135.8,112.0 135.6,111.6 135.3,112.2 135.1,112.0 134.8,111.6 134.6,112.0 134.3,111.7 134.1,112.6 133.8,111.5 133.6,112.3 133.3,112.4 133.1,112.0 132.8,112.1 132.6,112.2 132.3,112.7 132.1,111.8 131.8,112.1 131.6,112.4 131.3,111.8 131.1,111.6 130.8,111.6 130.6,112.3 130.3,112.7 130.1,112.2 129.8,112.4 129.6,112.6 129.3,111.8 129.1,112.6 128.8,112.0 128.6,112.3 128.3,112.4 128.1,112.6 127.8,112.4 127.6,112.2 127.3,111.7 127.1,112.1 126.8,112.6 126.6,111.6 126.3,111.8 126.1,111.8 125.8,112.6 125.6,112.5 125.3,111.9 125.1,111.7 124.9,112.5 124.6,112.2 124.4,112.7 124.1,112.2 123.9,112.4 123.6,112.6 123.4,112.5 123.1,112.2 122.9,111.9 122.6,112.6 122.4,112.6 122.1,111.8 121.9,111.8 121.6,111.6 121.4,111.6 121.1,112.1 120.9,112.5 120.6,112.4 120.4,112.5 120.1,112.6 119.9,112.4 119.6,112.7 119.4,111.9 119.1,112.3 118.9,111.9 118.6,111.9 118.4,112.3 118.1,112.2 117.9,112.6 117.6,112.1 117.4,111.7 117.1,112.7 116.9,111.7 116.6,112.6 116.4,111.6 116.1,111.6 115.9,112.2 115.6,111.8 115.4,112.5 115.1,112.0 114.9,111.7 114.6,112.6 114.4,111.8 114.1,111.6 113.9,112.6 113.7,112.4 113.4,111.6 113.2,112.2 112.9,112.4 112.7,112.1 112.4,112.5 112.2,112.5 111.9,112.2 111.7,111.9 111.4,112.0 111.2,111.9 110.9,112.4 110.7,112.3 110.4,112.5 110.2,112.2 109.9,112.7 109.7,111.8 109.4,112.1 109.2,111.9 108.9,112.1 108.7,111.6 108.4,112.1 108.2,112.3 107.9,112.5 107.7,112.0 107.4,112.3 107.2,112.4 106.9,112.3 106.7,112.6 106.4,112.4 106.2,111.8 105.9,112.1 105.7,111.6 105.4,111.7 105.2,112.4 104.9,112.5 104.7,111.7 104.4,112.5 104.2,111.6 103.9,112.6 103.7,111.8 103.4,112.2 103.2,112.4 103.0,112.3 102.7,112.3 102.5,112.2 102.2,112.4 102.0,112.6 101.7,112.1 101.5,111.9 101.2,111.8 101.0,111.9 100.7,112.5 100.5,111.9 100.2,112.0 100.0,112.0 99.7,112.1 99.5,112.0 99.2,112.4 99.0,112.7 98.7,112.3 98.5,112.5 98.2,112.5 98.0,112.5 97.7,112.5 97.5,112.6 97.2,112.5 97.0,112.4 96.7,112.0 96.5,111.6 96.2,112.2 96.0,111.7 95.7,111.6 95.5,112.0 95.2,112.2 95.0,112.5 94.7,112.1 94.5,111.5 94.2,112.2 94.0,112.1 93.7,111.5 93.5,112.5 93.2,112.0 93.0,111.3 92.7,111.8 92.5,111.2 92.2,111.4 92.0,112.0 91.8,111.7 91.5,111.1 91.3,110.4 91.0,110.8 90.8,110.0 90.5,110.4 90.3,110.0 90.0,109.8 89.8,108.2 89.5,108.0 89.3,107.1 89.0,106.8 88.8,105.2 88.5,104.3 88.3,102.8 88.0,100.8 87.8,99.0 87.5,96.9 87.3,94.0 87.0,92.0 86.8,88.9 86.5,86.5 86.3,83.1 86.0,79.6 85.8,76.9 85.5,75.5 85.3,74.1 85.0,74.4 84.8,74.7 84.5,74.9 84.3,74.8 84.0,74.2 83.8,74.1 83.5,74.1 83.3,74.4 83.0,75.1 82.8,75.2 82.5,74.9 82.3,75.0 82.0,74.9 81.8,74.5 81.5,74.3 81.3,74.7 81.0,74.2 80.8,74.2 80.6,74.2 80.3,74.9 80.1,74.4 79.8,74.2 79.6,75.1 79.3,74.5 79.1,74.3 78.8,74.0 78.6,74.3 78.3,74.8 78.1,74.3 77.8,75.0 77.6,75.1 77.3,74.4 77.1,74.5 76.8,75.2 76.6,74.2 76.3,74.4 76.1,74.5 75.8,74.5 75.6,74.5 75.3,74.2 75.1,74.1 74.8,74.4 74.6,74.4 74.3,74.5 74.1,74.1 73.8,74.2 73.6,74.1 73.3,74.6 73.1,74.1 72.8,74.7 72.6,75.0 72.3,75.1 72.1,74.9 71.8,74.3 71.6,74.3 71.3,74.7 71.1,74.1 70.8,74.7 70.6,74.1 70.3,75.0 70.1,74.2 69.9,74.0 69.6,74.6 69.4,74.0 69.1,74.8 68.9,74.3 68.6,74.6 68.4,74.9 68.1,75.1 67.9,74.5 67.6,74.2 67.4,74.6 67.1,75.1 66.9,74.8 66.6,74.8 66.4,75.1 66.1,74.2 65.9,74.6 65.6,75.2 65.4,74.6 65.1,75.2 64.9,74.5 64.6,74.7 64.4,74.4 64.1,74.2 63.9,74.9 63.6,74.7 63.4,74.0 63.1,74.7 62.9,74.1 62.6,74.4 62.4,74.2 62.1,74.9 61.9,74.7 61.6,74.9 61.4,74.9 61.1,74.1 60.9,74.2 60.6,74.9 60.4,75.0 60.1,75.2 59.9,74.8 59.6,74.2 59.4,74.4 59.1,74.2 58.9,74.8 58.7,75.2 58.4,75.0 58.2,74.7 57.9,74.8 57.7,74.6 57.4,74.9 57.2,74.4 56.9,75.0 56.7,74.8 56.4,74.1 56.2,74.7 55.9,75.0 55.7,74.1 55.4,74.3 55.2,75.1 54.9,75.2 54.7,74.8 54.4,75.2 54.2,74.7 53.9,74.7 53.7,75.1 53.4,75.0 53.2,74.7 52.9,74.5 52.7,74.9 52.4,74.1 52.2,75.0 51.9,74.1 51.7,75.0 51.4,74.6 51.2,74.8 50.9,74.9 50.7,75.1 50.4,75.1 50.2,74.3 49.9,74.4 49.7,75.0 49.4,75.0 49.2,74.4 48.9,75.0 48.7,75.0 48.4,74.8 48.2,74.4 48.0,74.7"/>
<polyline fill="none" stroke="#0000ff" stroke-width="1.25" stroke-linejoin="round" points="48.0,71.5 48.0,71.3 48.1,67.0 48.1,69.4 48.2,65.9 48.3,68.1 48.3,67.7 48.4,65.4 48.4,66.0 48.5,66.8 48.6,67.6 48.6,65.1 48.7,67.9 48.8,65.2 48.8,70.3 48.9,68.6 48.9,68.5 49.0,66.5 49.1,70.9 49.1,68.3 49.2,69.6 49.3,69.9 49.3,70.9 49.4,69.5 49.4,73.5 49.5,73.5 49.6,74.9 49.6,76.1 49.7,75.4 49.8,71.6 49.8,72.4 49.9,76.4 49.9,73.6 50.0,74.0 50.1,73.1 50.1,72.3 50.2,73.9 50.3,69.7 50.3,71.9 50.4,70.4 50.4,69.8 50.5,71.8 50.6,71.9 50.6,69.4 50.7,66.9 50.7,66.2 50.8,66.3 50.9,69.4 50.9,64.7 51.0,65.2 51.1,64.7 51.1,66.7 51.2,64.7 51.2,69.8 51.3,70.2 51.4,70.6 51.4,69.8 51.5,70.3 51.6,71.2 51.6,69.6 51.7,73.2 51.7,70.7 51.8,73.6 51.9,71.3 51.9,75.5 52.0,74.3 52.1,71.1 52.1,73.7 52.2,72.4 52.2,73.4 52.3,73.5 52.4,75.8 52.4,73.5 52.5,76.3 52.6,71.8 52.6,70.5 52.7,70.7 52.7,74.7 52.8,72.6 52.9,72.2 52.9,72.7 53.0,69.3 53.1,67.8 53.1,70.0 53.2,66.4 53.2,66.4 53.3,69.8 53.4,65.9 53.4,65.0 53.5,68.8 53.5,66.6 53.6,66.3 53.7,66.6 53.7,69.7 53.8,66.8 53.9,67.3 53.9,66.7 54.0,67.3 54.0,70.4 54.1,68.8 54.2,68.5 54.2,68.9 54.3,73.6 54.4,74.8 54.4,71.8 54.5,74.7 54.5,73.1 54.6,71.3 54.7,74.6 54.7,75.5 54.8,74.2 54.9,73.1 54.9,76.1 55.0,74.3 55.0,75.4 55.1,72.1 55.2,70.7 55.2,72.8 55.3,72.3 55.4,70.9 55.4,72.2 55.5,71.5 55.5,70.5 55.6,69.3 55.7,70.9 55.7,66.7 55.8,67.4 55.9,68.7 55.9,69.7 56.0,65.7 56.0,69.2 56.1,69.3 56.2,69.4 56.2,69.9 56.3,65.5 56.3,69.5 56.4,69.7 56.5,67.2 56.5,68.8 56.6,71.8 56.7,70.9 56.7,69.0 56.8,72.3 56.8,70.9 56.9,74.8 57.0,71.7 57.0,71.8 57.1,71.8 57.2,72.8 57.2,74.7 57.3,76.8 57.3,74.2 57.4,72.7 57.5,75.6 57.5,74.9 57.6,73.0 57.7,71.4 57.7,70.0 57.8,73.8 57.8,72.9 57.9,68.9 58.0,69.2 58.0,68.2 58.1,66.1 58.2,65.9 58.2,66.0 58.3,66.0 58.3,67.8 58.4,66.2 58.5,68.7 58.5,65.4 58.6,65.4 58.7,65.8 58.7,67.6 58.8,68.2 58.8,68.4 58.9,71.0 59.0,66.9 59.0,69.2 59.1,70.6 59.1,70.3 59.2,69.9 59.3,72.4 59.3,70.4 59.4,70.4 59.5,73.9 59.5,75.6 59.6,72.4 59.6,71.4 59.7,76.2 59.8,72.4 59.8,71.8 59.9,71.1 60.0,75.4 60.0,75.3 60.1,70.0 60.1,74.5 60.2,73.8 60.3,71.1 60.3,71.4 60.4,69.2 60.5,71.8 60.5,67.3 60.6,70.8 60.6,67.3 60.7,70.8 60.8,68.3 60.8,70.5 60.9,68.7 61.0,68.6 61.0,66.3 61.1,67.8 61.1,70.2 61.2,65.1 61.3,65.9 61.3,66.1 61.4,70.2 61.5,69.8 61.5,71.2 61.6,72.2 61.6,73.2 61.7,71.0 61.8,73.6 61.8,73.8 61.9,70.3 61.9,72.8 62.0,74.8 62.1,72.3 62.1,74.8 62.2,73.4 62.3,74.8 62.3,73.4 62.4,72.7 62.4,73.0 62.5,73.6 62.6,71.1 62.6,70.2 62.7,73.7 62.8,73.5 62.8,73.2 62.9,67.9 62.9,67.6 63.0,71.2 63.1,66.6 63.1,70.5 63.2,68.4 63.3,68.2 63.3,65.6 63.4,70.3 63.4,68.7 63.5,67.0 63.6,70.1 63.6,69.2 63.7,68.1 63.8,66.0 63.8,67.0 63.9,67.0 63.9,67.8 64.0,68.5 64.1,68.1 64.1,69.6 64.2,69.7 64.3,72.6 64.3,73.8 64.4,70.9 64.4,74.6 64.5,70.6 64.6,72.7 64.6,74.4 64.7,71.1 64.7,75.9 64.8,73.9 64.9,76.1 64.9,71.0 65.0,72.9 65.1,71.3 65.1,73.8 65.2,70.4 65.2,70.5 65.3,70.3 65.4,68.0 65.4,70.4 65.5,70.0 65.6,68.0 65.6,66.7 65.7,69.1 65.7,66.9 65.8,69.2 65.9,67.1 65.9,65.7 66.0,69.6 66.1,65.9 66.1,70.1 66.2,65.0 66.2,68.0 66.3,68.7 66.4,67.3 66.4,68.9 66.5,68.2 66.6,72.4 66.6,70.2 66.7,70.8 66.7,69.2 66.8,74.7 66.9,72.8 66.9,72.2 67.0,73.0 67.1,76.0 67.1,73.3 67.2,75.5 67.2,75.2 67.3,71.3 67.4,75.0 67.4,73.4 67.5,71.5 67.5,71.5 67.6,72.0 67.7,70.2 67.7,71.7 67.8,70.4 67.9,68.8 67.9,69.1 68.0,68.9 68.0,69.8 68.1,68.6 68.2,69.1 68.2,66.9 68.3,68.7 68.4,68.0 68.4,66.3 68.5,67.7 68.5,68.6 68.6,66.0 68.7,68.7 68.7,66.3 68.8,66.9 68.9,69.2 68.9,68.1 69.0,72.3 69.0,70.7 69.1,68.6 69.2,70.6 69.2,71.1 69.3,71.0 69.4,71.3 69.4,72.1 69.5,73.4 69.5,74.9 69.6,74.5 69.7,74.6 69.7,73.8 69.8,70.6 69.9,74.1 69.9,73.4 70.0,73.6 70.0,72.2 70.1,69.8 70.2,69.7 70.2,72.2 70.3,72.3 70.3,68.4 70.4,70.2 70.5,68.6 70.5,71.7 70.6,66.8 70.7,69.6 70.7,68.3 70.8,69.7 70.8,68.3 70.9,65.9 71.0,65.9 71.0,67.9 71.1,66.3 71.2,68.2 71.2,69.0 71.3,68.3 71.3,70.6 71.4,70.3 71.5,68.5 71.5,68.6 71.6,73.1 71.7,69.7 71.7,69.7 71.8,72.2 71.8,74.7 71.9,71.6 72.0,74.3 72.0,72.3 72.1,74.0 72.2,72.6 72.2,75.2 72.3,74.0 72.3,73.6 72.4,72.8 72.5,74.9 72.5,70.3 72.6,73.7 72.7,73.2 72.7,73.0 72.8,73.5 72.8,71.0 72.9,68.5 73.0,68.4 73.0,70.8 73.1,70.7 73.1,69.2 73.2,66.4 73.3,67.7 73.3,65.1 73.4,66.4 73.5,66.6 73.5,65.8 73.6,66.0 73.6,68.5 73.7,69.3 73.8,68.6 73.8,68.7 73.9,71.1 74.0,69.9 74.0,69.3 74.1,72.6 74.1,73.1 74.2,73.4 74.3,73.3 74.3,69.9 74.4,75.6 74.5,75.0 74.5,75.4 74.6,73.9 74.6,76.6 74.7,74.1 74.8,75.7 74.8,75.0 74.9,71.8 75.0,75.0 75.0,72.2 75.1,73.0 75.1,72.5 75.2,69.8 75.3,73.0 75.3,68.2 75.4,67.9 75.5,68.6 75.5,71.6 75.6,67.7 75.6,67.7 75.7,66.4 75.8,69.3 75.8,64.9 75.9,65.2 75.9,69.5 76.0,68.4 76.1,70.1 76.1,65.8 76.2,65.6 76.3,65.5 76.3,68.0 76.4,68.2 76.4,68.6 76.5,69.7 76.6,68.0 76.6,70.5 76.7,72.5 76.8,72.0 76.8,75.2 76.9,71.6 76.9,72.1 77.0,73.9 77.1,71.7 77.1,72.4 77.2,75.2 77.3,76.6 77.3,76.1 77.4,75.6 77.4,74.6 77.5,73.5 77.6,70.3 77.6,73.5 77.7,69.5 77.8,70.1 77.8,68.6 77.9,70.5 77.9,72.2 78.0,67.3 78.1,69.8 78.1,70.0 78.2,65.9 78.2,66.3 78.3,68.7 78.4,68.2 78.4,64.4 78.5,68.2 78.6,65.9 78.6,69.4 78.7,65.8 78.7,70.1 78.8,68.3 78.9,71.5 78.9,69.2 79.0,68.1 79.1,72.9 79.1,72.4 79.2,70.2 79.2,71.6 79.3,73.8 79.4,72.5 79.4,73.8 79.5,71.8 79.6,75.2 79.6,72.8 79.7,73.2 79.7,72.6 79.8,74.5 79.9,72.4 79.9,72.2 80.0,73.6 80.1,75.2 80.1,69.5 80.2,70.4 80.2,72.8 80.3,69.3 80.4,71.3 80.4,69.7 80.5,67.0 80.6,68.9 80.6,69.3 80.7,68.9 80.7,69.9 80.8,68.9 80.9,68.5 80.9,69.0 81.0,69.7 81.0,67.5 81.1,69.1 81.2,66.5 81.2,65.8 81.3,69.8 81.4,68.6 81.4,69.5 81.5,72.4 81.5,72.7 81.6,69.0 81.7,71.8 81.7,70.4 81.8,75.0 81.9,72.5 81.9,71.3 82.0,71.6 82.0,76.6 82.1,73.8 82.2,74.6 82.2,72.4 82.3,76.1 82.4,74.8 82.4,71.5 82.5,73.1 82.5,72.8 82.6,69.5 82.7,72.6 82.7,73.7 82.8,71.2 82.9,72.0 82.9,71.9 83.0,68.7 83.0,66.1 83.1,67.8 83.2,67.1 83.2,68.6 83.3,67.0 83.4,65.9 83.4,66.8 83.5,65.6 83.5,67.1 83.6,69.3 83.7,67.4 83.7,68.3 83.8,70.5 83.8,68.4 83.9,67.8 84.0,72.1 84.0,70.3 84.1,69.8 84.2,72.1 84.2,73.4 84.3,73.2 84.3,72.7 84.4,72.2 84.5,73.2 84.5,75.9 84.6,72.1 84.7,71.5 84.7,76.1 84.8,75.1 84.8,75.3 84.9,71.3 85.0,70.6 85.0,75.1 85.1,73.0 85.2,73.3 85.2,71.3 85.3,68.2 85.3,72.5 85.4,71.6 85.5,69.6 85.5,69.2 85.6,67.9 85.7,69.6 85.7,71.3 85.8,70.4 85.8,67.5 85.9,69.2 86.0,73.0 86.0,70.2 86.1,73.5 86.2,72.2 86.2,76.8 86.3,74.1 86.3,78.5 86.4,78.6 86.5,79.2 86.5,81.3 86.6,84.2 86.6,85.8 86.7,86.8 86.8,89.1 86.8,89.9 86.9,91.6 87.0,91.8 87.0,93.3 87.1,93.7 87.1,94.8 87.2,96.0 87.3,95.7 87.3,94.9 87.4,96.2 87.5,95.8 87.5,94.8 87.6,95.3 87.6,93.7 87.7,93.1 87.8,94.1 87.8,92.5 87.9,93.1 88.0,92.9 88.0,91.6 88.1,90.8 88.1,89.6 88.2,91.4 88.3,89.9 88.3,90.6 88.4,91.7 88.5,89.9 88.5,91.2 88.6,93.4 88.6,92.2 88.7,95.3 88.8,96.4 88.8,97.0 88.9,96.7 89.0,100.4 89.0,99.4 89.1,101.6 89.1,104.4 89.2,104.3 89.3,105.7 89.3,106.5 89.4,107.0 89.4,107.9 89.5,107.7 89.6,110.4 89.6,108.4 89.7,109.6 89.8,108.5 89.8,107.9 89.9,107.2 89.9,108.6 90.0,107.4 90.1,105.3 90.1,104.4 90.2,105.1 90.3,102.5 90.3,103.0 90.4,102.1 90.4,100.2 90.5,100.1 90.6,99.4 90.6,99.0 90.7,98.3 90.8,98.8 90.8,98.8 90.9,96.9 90.9,97.6 91.0,97.6 91.1,97.7 91.1,99.9 91.2,100.7 91.3,101.4 91.3,102.3 91.4,102.1 91.4,104.3 91.5,105.6 91.6,105.8 91.6,108.2 91.7,109.5 91.8,108.8 91.8,109.5 91.9,111.6 91.9,111.2 92.0,113.4 92.1,112.6 92.1,112.6 92.2,113.5 92.2,113.0 92.3,111.8 92.4,111.3 92.4,111.8 92.5,109.4 92.6,110.2 92.6,106.6 92.7,107.6 92.7,106.3 92.8,105.3 92.9,102.0 92.9,102.9 93.0,101.0 93.1,99.1 93.1,98.4 93.2,100.4 93.2,98.6 93.3,98.1 93.4,97.7 93.4,98.9 93.5,99.2 93.6,100.6 93.6,101.1 93.7,100.4 93.7,102.6 93.8,103.3 93.9,104.0 93.9,105.9 94.0,107.2 94.1,105.8 94.1,108.4 94.2,110.1 94.2,109.7 94.3,112.6 94.4,112.7 94.4,111.2 94.5,111.9 94.6,112.9 94.6,115.6 94.7,114.9 94.7,115.4 94.8,114.4 94.9,114.2 94.9,113.1 95.0,110.6 95.0,111.0 95.1,109.6 95.2,106.1 95.2,106.4 95.3,105.1 95.4,104.5 95.4,101.2 95.5,100.4 95.5,99.7 95.6,98.7 95.7,99.4 95.7,98.5 95.8,97.2 95.9,96.1 95.9,96.6 96.0,97.4 96.0,98.3 96.1,100.4 96.2,98.8 96.2,102.2 96.3,103.1 96.4,102.8 96.4,103.7 96.5,105.2 96.5,107.5 96.6,109.5 96.7,111.2 96.7,110.0 96.8,110.7 96.9,113.7 96.9,112.6 97.0,114.4 97.0,115.0 97.1,113.5 97.2,114.8 97.2,113.3 97.3,113.5 97.4,111.4 97.4,111.3 97.5,109.3 97.5,108.3 97.6,108.8 97.7,107.8 97.7,104.7 97.8,104.8 97.8,104.8 97.9,103.9 98.0,100.2 98.0,100.5 98.1,101.2 98.2,99.3 98.2,98.8 98.3,98.8 98.3,97.2 98.4,97.3 98.5,99.9 98.5,100.3 98.6,100.2 98.7,99.7 98.7,101.2 98.8,101.9 98.8,103.5 98.9,105.6 99.0,105.1 99.0,108.5 99.1,107.7 99.2,110.3 99.2,110.5 99.3,109.9 99.3,111.9 99.4,113.9 99.5,113.3 99.5,112.9 99.6,115.1 99.7,114.5 99.7,114.8 99.8,112.9 99.8,112.7 99.9,111.5 100.0,111.2 100.0,109.1 100.1,109.4 100.2,106.1 100.2,104.7 100.3,104.8 100.3,103.7 100.4,101.4 100.5,102.0 100.5,99.6 100.6,100.2 100.6,98.4 100.7,99.0 100.8,97.9 100.8,96.9 100.9,99.5 101.0,97.6 101.0,98.9 101.1,100.0 101.1,100.9 101.2,102.6 101.3,103.1 101.3,103.2 101.4,105.9 101.5,105.5 101.5,105.9 101.6,107.1 101.6,108.5 101.7,109.7 101.8,112.5 101.8,111.0 101.9,113.8 102.0,112.4 102.0,112.7 102.1,112.7 102.1,112.9 102.2,113.5 102.3,112.2 102.3,112.3 102.4,112.0 102.5,111.2 102.5,108.3 102.6,107.0 102.6,108.1 102.7,107.4 102.8,105.6 102.8,104.8 102.9,103.7 103.0,101.6 103.0,101.2 103.1,100.5 103.1,100.5 103.2,98.8 103.3,99.6 103.3,99.2 103.4,99.1 103.4,98.1 103.5,100.4 103.6,99.7 103.6,101.5 103.7,100.7 103.8,103.1 103.8,103.8 103.9,103.8 103.9,105.5 104.0,108.2 104.1,109.2 104.1,107.8 104.2,111.5 104.3,111.5 104.3,110.4 104.4,113.7 104.4,113.7 104.5,113.8 104.6,116.1 104.6,114.9 104.7,114.2 104.8,114.4 104.8,114.3 104.9,111.4 104.9,110.4 105.0,109.9 105.1,109.8 105.1,107.3 105.2,105.6 105.3,104.8 105.3,102.2 105.4,102.3 105.4,100.7 105.5,100.8 105.6,98.6 105.6,97.3 105.7,96.9 105.7,97.9 105.8,95.7 105.9,96.6 105.9,97.7 106.0,98.3 106.1,98.0 106.1,100.6 106.2,100.4 106.2,101.3 106.3,103.2 106.4,103.5 106.4,106.1 106.5,107.5 106.6,109.4 106.6,108.8 106.7,111.7 106.7,111.7 106.8,113.4 106.9,112.7 106.9,113.2 107.0,116.1 107.1,112.0 107.1,113.0 107.2,114.2 107.2,112.6 107.3,113.2 107.4,111.1 107.4,111.2 107.5,109.7 107.6,108.8 107.6,106.9 107.7,105.1 107.7,103.6 107.8,104.2 107.9,102.4 107.9,103.1 108.0,101.1 108.1,98.7 108.1,100.5 108.2,97.9 108.2,98.3 108.3,99.2 108.4,97.9 108.4,99.6 108.5,98.3 108.5,101.2 108.6,101.8 108.7,100.9 108.7,102.8 108.8,104.7 108.9,104.8 108.9,106.6 109.0,107.0 109.0,107.6 109.1,108.3 109.2,111.6 109.2,111.0 109.3,110.6 109.4,112.7 109.4,112.3 109.5,114.4 109.5,112.6 109.6,113.3 109.7,112.2 109.7,112.0 109.8,111.1 109.9,112.7 109.9,109.9 110.0,110.3 110.0,109.0 110.1,107.7 110.2,105.7 110.2,104.4 110.3,102.4 110.4,103.9 110.4,102.4 110.5,101.0 110.5,98.9 110.6,99.0 110.7,98.7 110.7,97.7 110.8,97.9 110.9,99.0 110.9,99.9 111.0,99.3 111.0,98.7 111.1,100.3 111.2,102.8 111.2,102.7 111.3,104.0 111.3,104.6 111.4,105.7 111.5,105.9 111.5,108.8 111.6,109.7 111.7,110.2 111.7,110.3 111.8,111.6 111.8,112.9 111.9,112.4 112.0,113.6 112.0,113.7 112.1,115.5 112.2,115.6 112.2,113.1 112.3,113.9 112.3,111.4 112.4,111.0 112.5,110.1 112.5,109.9 112.6,106.6 112.7,107.2 112.7,103.3 112.8,102.1 112.8,102.5 112.9,101.8 113.0,98.5 113.0,98.8 113.1,99.0 113.2,97.4 113.2,97.8 113.3,97.2 113.3,96.7 113.4,96.2 113.5,97.1 113.5,99.7 113.6,99.7 113.7,100.7 113.7,100.5 113.8,104.4 113.8,104.5 113.9,104.8 114.0,107.7 114.0,109.5 114.1,109.9 114.1,111.8 114.2,111.1 114.3,114.5 114.3,114.9 114.4,115.7 114.5,114.3 114.5,114.8 114.6,112.9 114.6,112.7 114.7,112.0 114.8,113.3 114.8,113.2 114.9,111.1 115.0,108.4 115.0,107.8 115.1,108.5 115.1,105.4 115.2,103.5 115.3,102.1 115.3,101.7 115.4,100.1 115.5,99.2 115.5,99.8 115.6,99.8 115.6,97.6 115.7,98.9 115.8,98.1 115.8,96.5 115.9,98.0 116.0,98.6 116.0,98.1 116.1,100.8 116.1,99.8 116.2,101.1 116.3,103.8 116.3,105.2 116.4,107.1 116.5,106.1 116.5,109.4 116.6,111.1 116.6,109.7 116.7,111.5 116.8,112.1 116.8,112.6 116.9,115.1 116.9,115.2 117.0,114.9 117.1,116.1 117.1,114.5 117.2,113.3 117.3,112.8 117.3,112.0 117.4,112.5 117.4,110.8 117.5,107.6 117.6,108.5 117.6,105.9 117.7,105.9 117.8,102.0 117.8,102.9 117.9,101.0 117.9,99.5 118.0,98.1 118.1,96.8 118.1,96.8 118.2,97.6 118.3,98.3 118.3,96.6 118.4,96.1 118.4,99.4 118.5,98.0 118.6,100.6 118.6,100.9 118.7,101.9 118.8,102.9 118.8,103.2 118.9,105.5 118.9,107.7 119.0,108.1 119.1,110.1 119.1,111.5 119.2,112.7 119.3,113.2 119.3,114.6 119.4,115.2 119.4,115.8 119.5,114.6 119.6,114.9 119.6,113.1 119.7,112.6 119.7,113.3 119.8,111.6 119.9,109.8 119.9,110.2 120.0,108.5 120.1,107.5 120.1,105.6 120.2,103.4 120.2,104.4 120.3,100.8 120.4,100.5 120.4,99.2 120.5,98.8 120.6,97.4 120.6,98.4 120.7,97.0 120.7,98.2 120.8,97.6 120.9,97.4 120.9,99.3 121.0,100.4 121.1,99.2 121.1,100.1 121.2,101.7 121.2,103.9 121.3,104.2 121.4,107.2 121.4,106.9 121.5,108.4 121.6,109.5 121.6,111.1 121.7,112.8 121.7,112.2 121.8,113.6 121.9,113.4 121.9,114.7 122.0,115.9 122.1,114.5 122.1,113.9 122.2,112.5 122.2,111.9 122.3,113.4 122.4,110.3 122.4,110.6 122.5,108.1 122.5,107.7 122.6,106.5 122.7,104.7 122.7,103.2 122.8,101.5 122.9,100.5 122.9,99.3 123.0,99.3 123.0,97.7 123.1,98.2 123.2,97.1 123.2,97.4 123.3,97.2 123.4,99.1 123.4,98.2 123.5,99.7 123.5,100.2 123.6,102.1 123.7,101.6 123.7,102.2 123.8,105.0 123.9,107.1 123.9,107.0 124.0,109.7 124.0,108.8 124.1,112.2 124.2,112.5 124.2,113.0 124.3,114.8 124.4,114.8 124.4,115.2 124.5,112.6 124.5,111.8 124.6,113.3 124.7,111.6 124.7,112.9 124.8,110.9 124.9,110.4 124.9,109.9 125.0,107.3 125.0,106.4 125.1,107.0 125.2,105.4 125.2,102.8 125.3,101.3 125.3,101.4 125.4,99.8 125.5,98.7 125.5,98.8 125.6,98.7 125.7,99.6 125.7,99.1 125.8,98.5 125.8,97.9 125.9,100.1 126.0,100.4 126.0,102.2 126.1,101.2 126.2,102.9 126.2,102.9 126.3,105.6 126.3,105.5 126.4,106.6 126.5,108.3 126.5,110.2 126.6,110.5 126.7,110.4 126.7,112.7 126.8,113.6 126.8,113.0 126.9,113.9 127.0,113.4 127.0,113.2 127.1,112.6 127.2,112.4 127.2,112.2 127.3,112.7 127.3,109.9 127.4,109.1 127.5,107.8 127.5,106.7 127.6,105.1 127.7,105.3 127.7,102.9 127.8,102.2 127.8,101.6 127.9,100.6 128.0,100.3 128.0,98.7 128.1,98.5 128.1,98.1 128.2,96.7 128.3,97.3 128.3,97.6 128.4,97.3 128.5,100.1 128.5,100.1 128.6,102.3 128.6,102.5 128.7,102.2 128.8,105.9 128.8,105.3 128.9,106.2 129.0,108.5 129.0,108.9 129.1,111.0 129.1,112.2 129.2,112.7 129.3,114.2 129.3,114.4 129.4,114.7 129.5,112.8 129.5,114.5 129.6,114.5 129.6,112.0 129.7,113.6 129.8,110.4 129.8,109.8 129.9,109.3 130.0,108.7 130.0,108.1 130.1,107.1 130.1,105.8 130.2,103.9 130.3,102.5 130.3,100.0 130.4,100.1 130.5,98.0 130.5,98.1 130.6,99.2 130.6,97.8 130.7,98.8 130.8,99.2 130.8,96.9 130.9,99.2 130.9,100.3 131.0,101.3 131.1,100.8 131.1,102.4 131.2,104.9 131.3,104.1 131.3,106.7 131.4,106.5 131.4,108.5 131.5,109.6 131.6,110.9 131.6,111.3 131.7,111.2 131.8,112.4 131.8,115.0 131.9,114.1 131.9,115.7 132.0,116.0 132.1,115.4 132.1,114.7 132.2,112.0 132.3,111.7 132.3,110.3 132.4,109.5 132.4,109.3 132.5,107.7 132.6,106.2 132.6,105.2 132.7,103.4 132.8,101.1 132.8,101.9 132.9,100.3 132.9,98.8 133.0,97.5 133.1,97.0 133.1,96.5 133.2,98.1 133.3,98.0 133.3,98.0 133.4,98.6 133.4,98.0 133.5,98.2 133.6,100.2 133.6,103.2 133.7,103.8 133.7,103.7 133.8,104.8 133.9,107.1 133.9,109.2 134.0,110.5 134.1,110.9 134.1,111.3 134.2,113.7 134.2,114.9 134.3,116.0 134.4,115.9 134.4,112.8 134.5,113.4 134.6,112.1 134.6,114.2 134.7,112.7 134.7,110.7 134.8,110.1 134.9,110.8 134.9,108.7 135.0,106.8 135.1,105.5 135.1,104.9 135.2,104.5 135.2,101.1 135.3,101.5 135.4,99.8 135.4,99.5 135.5,100.2 135.6,99.3 135.6,99.5 135.7,99.0 135.7,99.1 135.8,98.8 135.9,99.5 135.9,100.0 136.0,99.5 136.0,102.7 136.1,103.6 136.2,102.7 136.2,104.7 136.3,106.2 136.4,107.9 136.4,108.3 136.5,110.3 136.5,109.6 136.6,110.6 136.7,112.8 136.7,114.3 136.8,112.4 136.9,114.3 136.9,113.9 137.0,113.2 137.0,113.1 137.1,112.4 137.2,112.8 137.2,110.9 137.3,111.0 137.4,110.5 137.4,108.6 137.5,107.8 137.5,105.2 137.6,103.7 137.7,104.4 137.7,103.1 137.8,101.4 137.9,100.2 137.9,97.9 138.0,97.3 138.0,96.7 138.1,97.1 138.2,97.1 138.2,98.4 138.3,98.4 138.4,99.9 138.4,98.3 138.5,100.7 138.5,102.3 138.6,102.7 138.7,103.9 138.7,104.0 138.8,107.4 138.8,108.1 138.9,107.5 139.0,108.8 139.0,110.5 139.1,111.7 139.2,113.6 139.2,112.4 139.3,113.2 139.3,114.2 139.4,114.1 139.5,113.9 139.5,113.2 139.6,112.9 139.7,113.0 139.7,111.3 139.8,110.4 139.8,109.9 139.9,108.5 140.0,107.6 140.0,106.3 140.1,104.5 140.2,103.8 140.2,103.6 140.3,100.9 140.3,100.9 140.4,100.3 140.5,99.0 140.5,98.4 140.6,97.9 140.7,97.9 140.7,98.4 140.8,98.5 140.8,100.6 140.9,99.6 141.0,101.6 141.0,102.5 141.1,103.8 141.2,104.1 141.2,106.2 141.3,105.5 141.3,106.4 141.4,107.4 141.5,110.3 141.5,109.8 141.6,110.1 141.6,113.1 141.7,113.3 141.8,113.5 141.8,113.2 141.9,114.8 142.0,113.7 142.0,114.0 142.1,112.6 142.1,112.3 142.2,111.1 142.3,111.4 142.3,109.0 142.4,107.8 142.5,106.6 142.5,107.2 142.6,103.5 142.6,103.3 142.7,103.0 142.8,101.5 142.8,100.3 142.9,99.5 143.0,99.7 143.0,99.1 143.1,98.6 143.1,97.3 143.2,98.4 143.3,99.8 143.3,99.1 143.4,100.4 143.5,101.8 143.5,100.0 143.6,103.0 143.6,103.4 143.7,105.2 143.8,107.3 143.8,106.1 143.9,107.2 144.0,110.5 144.0,110.9 144.1,111.9 144.1,113.3 144.2,112.6 144.3,112.7 144.3,113.1 144.4,113.3 144.4,115.0 144.5,114.1 144.6,112.9 144.6,111.7 144.7,111.8 144.8,110.7 144.8,108.5 144.9,109.7 144.9,107.9 145.0,106.6 145.1,103.4 145.1,104.4 145.2,103.8 145.3,101.7 145.3,100.1 145.4,100.7 145.4,98.1 145.5,99.5 145.6,97.7 145.6,99.2 145.7,97.2 145.8,99.5 145.8,98.4 145.9,98.7 145.9,101.2 146.0,102.6 146.1,102.2 146.1,103.6 146.2,104.8 146.3,105.2 146.3,107.3 146.4,108.4 146.4,109.6 146.5,110.7 146.6,111.7 146.6,113.2 146.7,113.5 146.8,114.0 146.8,114.4 146.9,112.6 146.9,114.4 147.0,113.8 147.1,112.5 147.1,112.5 147.2,111.9 147.2,110.7 147.3,109.3 147.4,107.8 147.4,105.8 147.5,105.0 147.6,105.0 147.6,103.8 147.7,102.9 147.7,102.4 147.8,99.5 147.9,101.2 147.9,100.3 148.0,98.5 148.1,98.4 148.1,99.2 148.2,97.5 148.2,99.2 148.3,99.1 148.4,101.2 148.4,99.7 148.5,102.8 148.6,102.9 148.6,102.6 148.7,103.6 148.7,104.8 148.8,106.2 148.9,109.0 148.9,110.7 149.0,110.5 149.1,112.5 149.1,110.7 149.2,114.0 149.2,113.5 149.3,114.1 149.4,116.2 149.4,114.8 149.5,115.6 149.6,112.8 149.6,112.6 149.7,112.6 149.7,110.2 149.8,109.2 149.9,109.2 149.9,106.4 150.0,104.8 150.0,104.3 150.1,103.7 150.2,100.8 150.2,99.5 150.3,100.2 150.4,100.0 150.4,97.0 150.5,97.1 150.5,98.0 150.6,96.9 150.7,97.8 150.7,96.4 150.8,98.5 150.9,99.7 150.9,101.0 151.0,101.2 151.0,100.6 151.1,104.1 151.2,104.7 151.2,104.6 151.3,108.8 151.4,109.3 151.4,109.1 151.5,112.4 151.5,111.0 151.6,112.2 151.7,114.9 151.7,114.2 151.8,114.6 151.9,113.3 151.9,114.3 152.0,113.8 152.0,113.8 152.1,113.0 152.2,112.5 152.2,109.5 152.3,108.5 152.4,108.8 152.4,106.7 152.5,106.0 152.5,105.4 152.6,104.0 152.7,101.1 152.7,101.8 152.8,100.2 152.8,98.3 152.9,99.5 153.0,97.6 153.0,99.3 153.1,97.4 153.2,97.3 153.2,97.5 153.3,97.6 153.3,99.0 153.4,99.1 153.5,102.0 153.5,102.3 153.6,104.4 153.7,105.9 153.7,106.2 153.8,106.6 153.8,107.6 153.9,110.9 154.0,109.4 154.0,112.3 154.1,113.0 154.2,112.1 154.2,112.4 154.3,113.1 154.3,115.7 154.4,115.2 154.5,113.8 154.5,114.6 154.6,112.6 154.7,111.7 154.7,111.5 154.8,109.1 154.8,109.2 154.9,106.7 155.0,105.6 155.0,105.0 155.1,103.0 155.2,101.5 155.2,100.5 155.3,100.6 155.3,97.1 155.4,96.4 155.5,98.5 155.5,95.6 155.6,96.7 155.6,97.9 155.7,96.3 155.8,98.0 155.8,97.9 155.9,98.5 156.0,100.5 156.0,103.1 156.1,102.2 156.1,104.0 156.2,104.8 156.3,108.1 156.3,108.0 156.4,109.1 156.5,111.8 156.5,112.8 156.6,113.9 156.6,115.6 156.7,115.5 156.8,115.6 156.8,115.5 156.9,113.5 157.0,114.2 157.0,113.2 157.1,113.4 157.1,112.3 157.2,110.2 157.3,109.9 157.3,108.3 157.4,107.5 157.5,105.8 157.5,103.6 157.6,104.1 157.6,102.1 157.7,100.5 157.8,101.3 157.8,97.9 157.9,98.5 158.0,98.8 158.0,97.0 158.1,96.7 158.1,97.4 158.2,96.9 158.3,99.7 158.3,99.1 158.4,99.4 158.4,99.9 158.5,101.8 158.6,103.1 158.6,105.0 158.7,105.8 158.8,107.1 158.8,107.4 158.9,108.9 158.9,110.2 159.0,110.7 159.1,114.0 159.1,112.7 159.2,114.0 159.3,113.5 159.3,115.0 159.4,114.4 159.4,113.1 159.5,114.8 159.6,113.4 159.6,112.0 159.7,109.9 159.8,110.5 159.8,107.7 159.9,108.0 159.9,106.5 160.0,104.5 160.1,102.8 160.1,100.7 160.2,99.3 160.3,99.7 160.3,97.0 160.4,96.2 160.4,95.9 160.5,94.0 160.6,93.0 160.6,93.6 160.7,92.1 160.8,94.0 160.8,93.9 160.9,92.4 160.9,93.8 161.0,93.3 161.1,93.9 161.1,95.2 161.2,94.0 161.2,94.4 161.3,96.2 161.4,96.2 161.4,95.0 161.5,94.7 161.6,94.8 161.6,95.4 161.7,95.3 161.7,94.5 161.8,94.5 161.9,92.7 161.9,92.4 162.0,91.4 162.1,89.5 162.1,89.2 162.2,86.4 162.2,84.1 162.3,82.7 162.4,80.0 162.4,78.9 162.5,78.5 162.6,76.0 162.6,76.7 162.7,74.0 162.7,75.3 162.8,73.2 162.9,70.3 162.9,71.4 163.0,71.3 163.1,69.4 163.1,71.5 163.2,68.6 163.2,72.7 163.3,71.5 163.4,71.8 163.4,71.5 163.5,67.9 163.5,73.1 163.6,71.8 163.7,70.5 163.7,69.9 163.8,69.7 163.9,72.1 163.9,73.2 164.0,69.9 164.0,73.9 164.1,74.3 164.2,73.4 164.2,71.9 164.3,69.4 164.4,70.3 164.4,70.8 164.5,70.6 164.5,69.2 164.6,68.9 164.7,69.6 164.7,70.0 164.8,68.6 164.9,64.9 164.9,64.7 165.0,63.0 165.0,65.8 165.1,60.8 165.2,62.5 165.2,59.1 165.3,60.0 165.4,59.7 165.4,58.0 165.5,58.5 165.5,58.0 165.6,60.3 165.7,58.3 165.7,59.6 165.8,61.1 165.9,61.2 165.9,60.1 166.0,61.7 166.0,60.1 166.1,63.6 166.2,64.8 166.2,61.2 166.3,64.9 166.3,64.7 166.4,66.7 166.5,67.2 166.5,66.9 166.6,65.6 166.7,69.1 166.7,65.8 166.8,64.5 166.8,66.2 166.9,66.9 167.0,67.1 167.0,66.9 167.1,65.8 167.2,63.0 167.2,65.9 167.3,61.9 167.3,61.7 167.4,63.7 167.5,62.7 167.5,59.2 167.6,58.8 167.7,59.7 167.7,56.8 167.8,59.1 167.8,57.8 167.9,58.8 168.0,56.4 168.0,58.7 168.1,58.4 168.2,56.1 168.2,57.5 168.3,57.2 168.3,57.4 168.4,58.5 168.5,60.9 168.5,59.5 168.6,62.7 168.7,62.8 168.7,62.8 168.8,64.9 168.8,65.7 168.9,64.0 169.0,64.2 169.0,66.2 169.1,66.6 169.1,67.7 169.2,66.5 169.3,66.7 169.3,65.2 169.4,68.9 169.5,64.9 169.5,64.1 169.6,66.5 169.6,64.3 169.7,63.2 169.8,63.3 169.8,64.2 169.9,62.0 170.0,60.2 170.0,62.9 170.1,60.6 170.1,62.0 170.2,57.9 170.3,57.7 170.3,60.7 170.4,57.3 170.5,57.5 170.5,60.0 170.6,58.3 170.6,57.8 170.7,59.8 170.8,59.5 170.8,57.9 170.9,60.0 171.0,61.3 171.0,64.0 171.1,64.6 171.1,62.0 171.2,63.3 171.3,63.6 171.3,65.5 171.4,66.2 171.5,67.0 171.5,66.6 171.6,68.9 171.6,68.4 171.7,68.8 171.8,67.7 171.8,69.8 171.9,70.6 171.9,70.1 172.0,69.4 172.1,65.8 172.1,66.0 172.2,65.3 172.3,66.2 172.3,67.3 172.4,65.0 172.4,62.5 172.5,63.6 172.6,62.5 172.6,63.2 172.7,63.9 172.8,61.2 172.8,61.6 172.9,62.1 172.9,62.5 173.0,60.4 173.1,62.3 173.1,61.3 173.2,63.1 173.3,61.1 173.3,63.4 173.4,63.5 173.4,61.8 173.5,63.5 173.6,64.1 173.6,66.7 173.7,64.9 173.8,67.8 173.8,65.4 173.9,66.4 173.9,68.1 174.0,67.7 174.1,69.5 174.1,68.8 174.2,72.0 174.3,68.0 174.3,68.9 174.4,72.1 174.4,71.4 174.5,69.4 174.6,68.1 174.6,70.8 174.7,66.2 174.7,68.8 174.8,64.9 174.9,65.6 174.9,66.4 175.0,66.5 175.1,67.3 175.1,66.9 175.2,63.7 175.2,62.6 175.3,61.7 175.4,64.3 175.4,61.3 175.5,64.6 175.6,61.3 175.6,61.6 175.7,65.9 175.7,62.6 175.8,63.8 175.9,64.3 175.9,64.1 176.0,66.3 176.1,67.1 176.1,68.4 176.2,66.4 176.2,66.9 176.3,71.3 176.4,68.6 176.4,71.7 176.5,72.6 176.6,72.9 176.6,71.1 176.7,72.9 176.7,72.8 176.8,73.6 176.9,72.3 176.9,69.7 177.0,73.5 177.1,70.7 177.1,69.7 177.2,72.2 177.2,70.5 177.3,66.8 177.4,65.8 177.4,66.1 177.5,69.2 177.5,65.6 177.6,66.9 177.7,68.0 177.7,66.1 177.8,63.5 177.9,63.5 177.9,66.1 178.0,67.8 178.0,63.4 178.1,63.1 178.2,65.9 178.2,67.7 178.3,66.3 178.4,65.9 178.4,67.5 178.5,68.7 178.5,69.8 178.6,70.1 178.7,71.9 178.7,71.3 178.8,68.0 178.9,73.6 178.9,70.1 179.0,70.1 179.0,72.5 179.1,71.7 179.2,73.8 179.2,72.3 179.3,72.0 179.4,71.8 179.4,72.9 179.5,70.0 179.5,70.1 179.6,71.3 179.7,70.2 179.7,71.8 179.8,67.6 179.9,68.6 179.9,66.6 180.0,69.4 180.0,65.0 180.1,69.3 180.2,66.5 180.2,68.4 180.3,67.7 180.3,64.3 180.4,68.0 180.5,66.3 180.5,67.4 180.6,63.9 180.7,68.4 180.7,67.4 180.8,64.9 180.8,66.3 180.9,66.8 181.0,65.8 181.0,71.7 181.1,68.8 181.2,69.0 181.2,69.6 181.3,70.3 181.3,74.4 181.4,74.8 181.5,71.4 181.5,72.7 181.6,74.8 181.7,76.4 181.7,72.8 181.8,75.2 181.8,71.5 181.9,73.6 182.0,70.8 182.0,74.4 182.1,71.8 182.2,73.6 182.2,69.4 182.3,70.1 182.3,71.4 182.4,66.9 182.5,68.0 182.5,69.5 182.6,66.2 182.7,68.5 182.7,65.0 182.8,68.4 182.8,64.4 182.9,69.4 183.0,65.6 183.0,68.1 183.1,67.5 183.1,66.5 183.2,70.1 183.3,69.4 183.3,70.5 183.4,67.4 183.5,70.7 183.5,69.6 183.6,71.1 183.6,72.1 183.7,68.7 183.8,71.5 183.8,71.2 183.9,71.2 184.0,70.9 184.0,74.3 184.1,75.5 184.1,73.4 184.2,75.6 184.3,76.4 184.3,71.2 184.4,72.7 184.5,73.6 184.5,74.7 184.6,70.9 184.6,71.7 184.7,73.2 184.8,68.1 184.8,67.8 184.9,67.3 185.0,67.4 185.0,68.5 185.1,69.3 185.1,67.0 185.2,69.4 185.3,66.5 185.3,69.4 185.4,69.6 185.5,65.6 185.5,67.7 185.6,65.9 185.6,65.6 185.7,65.6 185.8,67.2 185.8,66.3 185.9,67.9 185.9,66.9 186.0,67.6 186.1,72.9 186.1,72.2 186.2,72.1 186.3,73.3 186.3,74.2 186.4,70.8 186.4,75.9 186.5,75.3 186.6,72.3 186.6,75.4 186.7,74.9 186.8,70.9 186.8,71.9 186.9,73.5 186.9,75.0 187.0,73.9 187.1,69.6 187.1,70.2 187.2,73.8 187.3,69.8 187.3,71.1 187.4,68.7 187.4,70.6 187.5,71.1 187.6,71.3 187.6,69.4 187.7,65.9 187.8,65.5 187.8,66.4 187.9,66.0 187.9,69.0 188.0,68.2 188.1,65.2 188.1,64.9 188.2,68.2 188.3,66.7 188.3,66.2 188.4,66.3 188.4,70.6 188.5,69.1 188.6,71.1 188.6,71.2 188.7,71.7 188.7,73.1 188.8,75.0 188.9,71.2 188.9,71.9 189.0,71.4 189.1,75.4 189.1,75.1 189.2,73.6 189.2,71.7 189.3,74.1 189.4,75.4 189.4,72.9 189.5,70.5 189.6,70.6 189.6,69.9 189.7,72.1 189.7,72.4 189.8,68.4 189.9,68.3 189.9,67.4 190.0,69.5 190.1,69.6 190.1,69.4 190.2,65.5 190.2,64.9 190.3,67.8 190.4,64.8 190.4,67.5 190.5,67.2 190.6,66.7 190.6,68.8 190.7,68.9 190.7,69.2 190.8,69.7 190.9,68.8 190.9,71.6 191.0,68.4 191.1,72.3 191.1,71.4 191.2,70.9 191.2,74.2 191.3,73.2 191.4,72.8 191.4,73.2 191.5,71.6 191.5,72.4 191.6,76.3 191.7,72.1 191.7,73.7 191.8,72.8 191.9,75.5 191.9,73.5 192.0,71.9 192.0,70.9 192.1,70.4 192.2,73.2 192.2,69.2 192.3,70.2 192.4,69.1 192.4,67.5 192.5,69.5 192.5,66.2 192.6,66.0 192.7,66.0 192.7,68.1 192.8,67.1 192.9,69.0 192.9,65.6 193.0,64.9 193.0,69.2 193.1,66.1 193.2,66.7 193.2,70.7 193.3,66.2 193.4,69.1 193.4,70.8 193.5,72.6 193.5,69.0 193.6,72.0 193.7,71.5 193.7,73.8 193.8,72.0 193.8,73.6 193.9,71.6 194.0,72.7 194.0,72.6 194.1,75.4 194.2,76.0 194.2,71.4 194.3,70.9 194.3,72.4 194.4,70.6 194.5,71.5 194.5,71.7 194.6,72.4 194.7,72.3 194.7,71.1 194.8,72.1 194.8,70.5 194.9,69.6 195.0,71.8 195.0,69.4 195.1,69.7 195.2,67.4 195.2,66.2 195.3,67.1 195.3,66.7 195.4,67.0 195.5,69.0 195.5,68.4 195.6,66.0 195.7,65.7 195.7,70.3 195.8,71.6 195.8,66.6 195.9,67.6 196.0,69.5 196.0,68.8 196.1,70.5 196.2,69.2 196.2,73.4 196.3,72.6 196.3,71.7 196.4,74.6 196.5,72.0 196.5,74.7 196.6,72.3 196.6,72.5 196.7,74.6 196.8,71.3 196.8,73.0 196.9,72.1 197.0,75.8 197.0,74.9 197.1,71.0 197.1,69.2 197.2,70.4 197.3,68.3 197.3,72.5 197.4,67.3 197.5,66.8 197.5,67.7 197.6,68.4 197.6,66.5 197.7,68.8 197.8,66.2 197.8,65.9 197.9,66.7 198.0,68.3 198.0,69.9 198.1,69.1 198.1,65.8 198.2,69.6 198.3,70.8 198.3,70.4 198.4,69.3 198.5,69.5 198.5,68.5 198.6,69.1 198.6,69.1 198.7,70.1 198.8,73.0 198.8,75.1 198.9,70.9 199.0,75.3 199.0,73.3 199.1,75.5 199.1,72.5 199.2,75.9 199.3,74.5 199.3,75.4 199.4,71.5 199.4,72.5 199.5,72.0 199.6,73.3 199.6,73.5 199.7,69.1 199.8,69.1 199.8,68.7 199.9,66.6 199.9,68.6 200.0,70.2 200.1,67.3 200.1,68.8 200.2,67.2 200.3,67.3 200.3,66.6 200.4,64.5 200.4,65.2 200.5,67.5 200.6,65.5 200.6,65.6 200.7,66.4 200.8,68.1 200.8,66.7 200.9,69.5 200.9,72.2 201.0,71.9 201.1,70.3 201.1,72.4 201.2,72.7 201.3,73.3 201.3,74.9 201.4,75.8 201.4,76.4 201.5,73.1 201.6,75.2 201.6,74.5 201.7,71.8 201.8,73.3 201.8,72.1 201.9,72.1 201.9,70.6 202.0,75.2 202.1,72.9 202.1,69.2 202.2,71.3 202.2,68.1 202.3,71.8 202.4,71.9 202.4,66.7 202.5,68.9 202.6,67.9 202.6,65.2 202.7,68.9 202.7,64.5 202.8,67.5 202.9,68.3 202.9,68.4 203.0,67.0 203.1,67.5 203.1,65.4 203.2,70.5 203.2,71.0 203.3,70.9 203.4,68.8 203.4,68.4 203.5,70.7 203.6,70.5 203.6,70.9 203.7,74.9 203.7,74.2 203.8,70.4 203.9,74.5 203.9,71.3 204.0,74.1 204.1,75.7 204.1,76.7 204.2,75.5 204.2,74.8 204.3,73.9 204.4,73.6 204.4,72.7 204.5,72.7 204.6,74.7 204.6,72.9 204.7,68.5 204.7,73.2 204.8,68.7 204.9,69.7 204.9,67.9 205.0,69.5 205.0,68.9 205.1,67.8 205.2,65.3 205.2,68.3 205.3,69.6 205.4,69.8 205.4,65.1 205.5,68.4 205.5,69.7 205.6,67.3 205.7,66.3 205.7,68.0 205.8,71.0 205.9,70.1 205.9,71.4 206.0,73.3 206.0,68.5 206.1,71.8 206.2,74.1 206.2,70.4 206.3,70.2 206.4,71.5 206.4,75.0 206.5,75.5 206.5,73.8 206.6,73.1 206.7,71.4 206.7,70.8 206.8,70.9 206.9,73.9 206.9,72.2 207.0,74.4 207.0,71.8 207.1,73.9 207.2,73.2 207.2,72.7 207.3,71.2 207.4,70.7 207.4,68.1 207.5,71.2 207.5,70.6 207.6,67.3 207.7,67.0 207.7,66.6 207.8,66.4 207.8,66.7 207.9,67.3 208.0,66.4 208.0,70.3 208.1,69.8 208.2,67.1 208.2,70.5 208.3,69.1 208.3,71.0 208.4,70.5 208.5,68.7 208.5,70.1 208.6,71.8 208.7,73.2 208.7,70.6 208.8,71.8 208.8,73.3 208.9,71.2 209.0,72.3 209.0,70.8 209.1,72.7 209.2,71.3 209.2,73.2 209.3,72.1 209.3,71.1 209.4,75.0 209.5,72.5 209.5,71.4 209.6,74.0 209.7,69.4 209.7,69.4 209.8,67.6 209.8,70.1 209.9,68.9 210.0,65.7 210.0,67.6 210.1,64.5 210.2,65.9 210.2,65.4 210.3,64.9 210.3,64.4 210.4,62.5 210.5,63.1 210.5,59.3 210.6,58.2 210.6,61.7 210.7,61.5 210.8,61.4 210.8,57.4 210.9,60.8 211.0,58.4 211.0,59.8 211.1,60.2 211.1,60.1 211.2,58.8 211.3,60.8 211.3,58.5 211.4,59.2 211.5,59.8 211.5,59.4 211.6,59.3 211.6,58.6 211.7,58.4 211.8,57.2 211.8,55.5 211.9,52.9 212.0,52.1 212.0,49.4 212.1,48.0 212.1,46.1 212.2,44.2 212.3,41.5 212.3,39.9 212.4,37.2 212.5,36.7 212.5,34.5 212.6,31.3 212.6,31.1 212.7,28.7 212.8,27.4 212.8,27.6 212.9,28.5 213.0,26.5 213.0,26.8 213.1,28.2 213.1,27.1 213.2,28.9 213.3,31.1 213.3,32.2 213.4,32.9 213.4,33.1 213.5,33.9 213.6,37.2 213.6,38.7 213.7,38.1 213.8,39.7 213.8,40.5 213.9,40.0 213.9,40.1 214.0,40.0 214.1,39.4 214.1,41.3 214.2,40.2 214.3,38.0 214.3,35.7 214.4,37.0 214.4,34.1 214.5,32.8 214.6,30.9 214.6,29.4 214.7,27.5 214.8,25.6 214.8,24.1 214.9,20.9 214.9,19.5 215.0,17.1 215.1,16.0 215.1,13.8 215.2,14.9 215.3,12.5 215.3,13.7 215.4,12.8 215.4,12.6 215.5,14.3 215.6,14.9 215.6,15.3 215.7,18.2 215.8,18.2 215.8,21.1 215.9,22.3 215.9,22.6 216.0,23.2 216.1,24.7 216.1,28.6 216.2,30.4 216.2,30.5 216.3,31.9 216.4,32.9 216.4,32.3 216.5,32.8 216.6,32.2 216.6,31.8 216.7,31.5 216.7,30.5 216.8,28.8 216.9,27.6 216.9,26.2 217.0,25.1 217.1,26.0 217.1,23.3 217.2,20.5 217.2,20.4 217.3,17.8 217.4,18.0 217.4,16.1 217.5,14.2 217.6,14.2 217.6,12.1 217.7,12.1 217.7,11.6 217.8,11.6 217.9,11.6 217.9,11.6 218.0,11.7 218.1,14.2 218.1,14.7 218.2,14.7 218.2,17.5 218.3,18.8 218.4,19.2 218.4,21.3 218.5,23.7 218.6,24.4 218.6,25.7 218.7,29.0 218.7,29.6 218.8,30.5 218.9,29.6 218.9,32.9 219.0,32.4 219.0,35.2 219.1,33.5 219.2,32.7 219.2,34.4 219.3,30.8 219.4,30.1 219.4,30.2 219.5,26.3 219.5,26.6 219.6,23.1 219.7,23.5 219.7,20.4 219.8,18.4 219.9,15.4 219.9,13.9 220.0,13.5 220.0,13.8 220.1,11.7 220.2,11.6 220.2,11.6 220.3,11.6 220.4,11.6 220.4,11.6 220.5,11.6 220.5,14.3 220.6,13.4 220.7,15.4 220.7,17.9 220.8,18.9 220.9,21.8 220.9,24.7 221.0,25.8 221.0,28.9 221.1,30.7 221.2,31.3 221.2,31.6 221.3,34.9 221.3,35.0 221.4,34.3 221.5,35.3 221.5,34.6 221.6,35.2 221.7,35.1 221.7,34.6 221.8,33.6 221.8,33.0 221.9,32.0 222.0,30.9 222.0,29.9 222.1,27.3 222.2,24.3 222.2,23.3 222.3,22.9 222.3,19.3 222.4,20.3 222.5,16.2 222.5,16.0 222.6,15.5 222.7,15.4 222.7,13.8 222.8,16.3 222.8,16.5 222.9,15.4 223.0,16.9 223.0,17.6 223.1,18.4 223.2,21.3 223.2,20.0 223.3,22.7 223.3,26.2 223.4,26.1 223.5,28.6 223.5,29.9 223.6,31.4 223.7,32.2 223.7,36.3 223.8,34.8 223.8,37.4 223.9,38.9 224.0,38.9 224.0,38.9 224.1,37.2 224.1,38.0 224.2,38.8 224.3,36.0 224.3,35.7 224.4,33.5 224.5,34.4 224.5,30.5 224.6,28.8 224.6,29.9 224.7,26.9 224.8,26.4 224.8,23.7 224.9,23.6 225.0,20.0 225.0,21.1 225.1,18.9 225.1,18.4 225.2,19.0 225.3,19.3 225.3,17.4 225.4,20.5 225.5,20.6 225.5,21.3 225.6,21.7 225.6,23.7 225.7,25.9 225.8,26.2 225.8,27.4 225.9,29.2 226.0,31.5 226.0,33.7 226.1,36.2 226.1,36.1 226.2,37.2 226.3,38.8 226.3,38.2 226.4,41.2 226.5,39.8 226.5,39.7 226.6,39.1 226.6,38.7 226.7,40.2 226.8,37.4 226.8,38.0 226.9,36.0 226.9,33.9 227.0,33.6 227.1,32.2 227.1,32.2 227.2,29.2 227.3,28.8 227.3,27.0 227.4,25.7 227.4,22.9 227.5,22.9 227.6,21.9 227.6,23.0 227.7,22.3 227.8,20.5 227.8,22.9 227.9,20.9 227.9,23.1 228.0,24.1 228.1,24.7 228.1,26.2 228.2,27.4 228.3,29.0 228.3,29.8 228.4,32.6 228.4,34.5 228.5,35.2 228.6,37.7 228.6,38.0 228.7,39.0 228.8,39.2 228.8,42.0 228.9,41.8 228.9,41.1 229.0,42.6 229.1,41.1 229.1,41.1 229.2,42.5 229.3,40.7 229.3,38.7 229.4,38.2 229.4,36.5 229.5,34.2 229.6,33.7 229.6,32.6 229.7,30.2 229.7,30.0 229.8,29.8 229.9,27.8 229.9,25.7 230.0,23.7 230.1,24.0 230.1,24.4 230.2,22.0 230.2,23.6 230.3,24.3 230.4,23.7 230.4,24.9 230.5,26.4 230.6,25.7 230.6,27.0 230.7,27.5 230.7,31.3 230.8,30.6 230.9,32.5 230.9,35.6 231.0,36.4 231.1,37.4 231.1,39.6 231.2,41.4 231.2,40.3 231.3,43.1 231.4,42.7 231.4,43.2 231.5,41.6 231.6,42.5 231.6,42.6 231.7,40.4 231.7,41.5 231.8,39.5 231.9,39.9 231.9,37.1 232.0,35.9 232.1,34.3 232.1,33.8 232.2,33.2 232.2,30.6 232.3,28.5 232.4,29.0 232.4,28.8 232.5,27.4 232.5,24.5 232.6,26.7 232.7,26.2 232.7,26.0 232.8,23.9 232.9,25.7 232.9,25.4 233.0,26.1 233.0,27.8 233.1,28.1 233.2,30.1 233.2,31.2 233.3,33.3 233.4,35.6 233.4,35.3 233.5,37.7 233.5,39.0 233.6,38.5 233.7,41.1 233.7,42.7 233.8,42.0 233.9,42.8 233.9,44.5 234.0,43.3 234.0,42.4 234.1,43.1 234.2,40.6 234.2,40.4 234.3,40.4 234.4,38.2 234.4,39.6 234.5,37.8 234.5,34.6 234.6,34.4 234.7,34.0 234.7,31.6 234.8,29.9 234.9,29.2 234.9,29.7 235.0,28.9 235.0,27.2 235.1,27.8 235.2,27.3 235.2,25.6 235.3,26.3 235.3,27.6 235.4,25.9 235.5,28.1 235.5,27.5 235.6,29.3 235.7,30.4 235.7,32.2 235.8,32.8 235.8,35.4 235.9,36.7 236.0,36.2 236.0,39.4 236.1,40.0 236.2,40.0 236.2,42.0 236.3,42.6 236.3,41.6 236.4,43.9 236.5,46.2 236.5,44.2 236.6,45.6 236.7,44.8 236.7,42.3 236.8,42.8 236.8,39.6 236.9,38.7 237.0,37.1 237.0,37.2 237.1,35.6 237.2,32.4 237.2,30.5 237.3,30.7 237.3,29.3 237.4,28.0 237.5,27.2 237.5,25.5 237.6,24.6 237.7,23.9 237.7,25.4 237.8,25.1 237.8,25.7 237.9,26.0 238.0,27.1 238.0,26.0 238.1,28.9 238.1,31.0 238.2,31.1 238.3,31.9 238.3,34.0 238.4,36.1 238.5,38.6 238.5,40.0 238.6,41.8 238.6,41.6 238.7,42.7 238.8,44.5 238.8,44.1 238.9,45.1 239.0,44.0 239.0,45.1 239.1,44.8 239.1,44.3 239.2,41.5 239.3,40.9 239.3,39.5 239.4,38.4 239.5,37.1 239.5,36.6 239.6,34.2 239.6,34.4 239.7,31.6 239.8,31.9 239.8,28.0 239.9,27.1 240.0,28.2 240.0,25.7 240.1,24.9 240.1,26.8 240.2,25.2 240.3,25.7 240.3,25.5 240.4,25.3 240.5,26.6 240.5,29.0 240.6,29.2 240.6,30.5 240.7,33.4 240.8,34.6 240.8,35.4 240.9,37.4 240.9,38.7 241.0,38.9 241.1,39.4 241.1,41.9 241.2,42.4 241.3,42.9 241.3,43.7 241.4,44.1 241.4,46.3 241.5,43.7 241.6,45.3 241.6,44.7 241.7,43.0 241.8,41.7 241.8,40.1 241.9,40.1 241.9,36.8 242.0,36.2 242.1,34.1 242.1,33.6 242.2,33.3 242.3,32.0 242.3,28.9 242.4,28.3 242.4,27.3 242.5,26.8 242.6,26.7 242.6,25.5 242.7,26.0 242.8,24.3 242.8,26.7 242.9,25.0 242.9,26.1 243.0,28.5 243.1,28.5 243.1,30.4 243.2,32.2 243.3,32.7 243.3,34.2 243.4,37.5 243.4,37.0 243.5,40.9 243.6,42.3 243.6,42.1 243.7,43.6 243.7,44.1 243.8,44.5 243.9,44.9 243.9,43.2 244.0,43.0 244.1,44.3 244.1,43.9 244.2,42.1 244.2,42.5 244.3,40.8 244.4,38.7 244.4,39.4 244.5,35.8 244.6,34.4 244.6,34.0 244.7,33.0 244.7,30.8 244.8,30.3 244.9,27.7 244.9,27.4 245.0,27.5 245.1,25.5 245.1,25.7 245.2,27.0 245.2,26.3 245.3,26.4 245.4,25.7 245.4,28.2 245.5,28.8 245.6,28.4 245.6,31.2 245.7,31.3 245.7,34.8 245.8,35.4 245.9,37.5 245.9,36.9 246.0,39.2 246.1,41.3 246.1,42.8 246.2,42.8 246.2,44.5 246.3,43.9 246.4,43.6 246.4,46.0 246.5,46.3 246.5,45.4 246.6,45.3 246.7,42.5 246.7,43.6 246.8,40.5 246.9,40.3 246.9,37.7 247.0,36.0 247.0,36.2 247.1,32.8 247.2,30.7 247.2,30.3 247.3,28.6 247.4,28.3 247.4,27.7 247.5,25.2 247.5,24.4 247.6,25.8 247.7,25.9 247.7,25.3 247.8,24.9 247.9,26.3 247.9,25.5 248.0,27.0 248.0,27.9 248.1,30.2 248.2,31.2 248.2,32.2 248.3,36.5 248.4,36.5 248.4,39.2 248.5,39.0 248.5,42.0 248.6,41.8 248.7,44.0 248.7,43.9 248.8,44.5 248.8,44.2 248.9,42.5 249.0,43.6 249.0,42.6 249.1,43.6 249.2,43.1 249.2,40.5 249.3,38.9 249.3,38.3 249.4,37.7 249.5,36.1 249.5,34.5 249.6,33.6 249.7,32.9 249.7,30.3 249.8,30.6 249.8,28.0 249.9,27.5 250.0,26.8 250.0,26.2 250.1,25.5 250.2,25.3 250.2,26.8 250.3,27.5 250.3,27.0 250.4,27.0 250.5,28.8 250.5,31.6 250.6,32.6 250.7,32.7 250.7,33.0 250.8,34.1 250.8,36.8 250.9,37.7 251.0,38.9 251.0,41.3 251.1,42.5 251.2,41.9 251.2,42.6 251.3,42.1 251.3,44.4 251.4,43.5 251.5,45.0 251.5,43.9 251.6,42.9 251.6,43.7 251.7,40.5 251.8,39.3 251.8,38.1 251.9,39.5 252.0,36.2 252.0,34.7 252.1,32.6 252.1,33.1 252.2,32.0 252.3,28.8 252.3,29.2 252.4,28.8 252.5,28.0 252.5,25.9 252.6,25.8 252.6,25.1 252.7,25.1 252.8,27.7 252.8,25.6 252.9,26.5 253.0,27.3 253.0,28.9 253.1,31.2 253.1,33.0 253.2,32.5 253.3,35.4 253.3,36.7 253.4,37.5 253.5,38.9 253.5,40.1 253.6,41.4 253.6,42.7 253.7,42.7 253.8,44.3 253.8,45.1 253.9,42.4 254.0,42.5 254.0,42.6 254.1,43.6 254.1,43.3 254.2,39.9 254.3,38.9 254.3,39.6 254.4,37.4 254.4,37.8 254.5,35.5 254.6,33.3 254.6,32.9 254.7,30.5 254.8,29.0 254.8,30.2 254.9,27.8 254.9,28.0 255.0,28.1 255.1,27.3 255.1,26.8 255.2,25.7 255.3,26.4 255.3,29.1 255.4,29.6 255.4,27.8 255.5,30.0 255.6,31.0 255.6,33.0 255.7,32.9 255.8,35.0 255.8,36.2 255.9,38.5 255.9,38.2 256.0,40.9 256.1,42.2 256.1,41.7 256.2,41.7 256.3,43.8 256.3,44.0 256.4,44.8 256.4,43.4 256.5,42.6 256.6,44.0 256.6,42.1 256.7,41.2 256.8,41.4 256.8,39.0 256.9,38.5 256.9,37.4 257.0,33.8 257.1,35.0 257.1,32.9 257.2,30.9 257.2,30.3 257.3,30.4 257.4,27.1 257.4,28.2 257.5,27.2 257.6,25.4 257.6,25.1 257.7,25.4 257.7,27.2 257.8,26.7 257.9,27.1 257.9,29.9 258.0,28.7 258.1,32.4 258.1,32.0 258.2,34.5 258.2,36.0 258.3,37.5 258.4,36.6 258.4,40.2 258.5,39.1 258.6,42.2 258.6,42.7 258.7,43.7 258.7,42.0 258.8,44.9 258.9,45.0 258.9,46.5 259.0,44.3 259.1,44.2 259.1,44.7 259.2,42.8 259.2,42.5 259.3,40.4 259.4,39.9 259.4,36.4 259.5,34.9 259.6,34.1 259.6,33.2 259.7,29.0 259.7,29.8 259.8,27.9 259.9,27.7 259.9,25.8 260.0,25.1 260.0,24.3 260.1,24.7 260.2,25.1 260.2,24.0 260.3,26.1 260.4,26.8 260.4,27.5 260.5,29.4 260.5,29.6 260.6,33.0 260.7,34.0 260.7,35.4 260.8,37.6 260.9,37.6 260.9,40.5 261.0,41.8 261.0,43.0 261.1,43.0 261.2,45.7 261.2,44.6 261.3,44.7 261.4,45.9 261.4,46.1 261.5,43.9 261.5,44.7 261.6,44.1 261.7,43.5 261.7,40.8 261.8,38.5 261.9,37.2 261.9,36.5 262.0,35.3 262.0,32.2 262.1,31.6 262.2,29.3 262.2,28.7 262.3,27.5 262.4,26.4 262.4,27.2 262.5,26.3 262.5,26.4 262.6,23.8 262.7,23.8 262.7,25.3 262.8,27.1 262.8,28.1 262.9,28.2 263.0,29.5 263.0,31.4 263.1,33.2 263.2,33.2 263.2,34.3 263.3,38.0 263.3,38.8 263.4,40.3 263.5,41.0 263.5,42.0 263.6,43.6 263.7,43.1 263.7,45.1 263.8,45.7 263.8,43.9 263.9,43.6 264.0,43.1 264.0,44.6 264.1,43.7 264.2,42.0 264.2,39.4 264.3,39.1 264.3,37.7 264.4,37.1 264.5,33.8 264.5,34.6 264.6,32.1 264.7,30.4 264.7,28.7 264.8,27.6 264.8,27.8 264.9,27.4 265.0,24.8 265.0,25.6 265.1,26.3 265.2,26.8 265.2,25.3 265.3,25.7 265.3,27.3 265.4,28.8 265.5,29.1 265.5,29.5 265.6,32.0 265.6,32.9 265.7,34.1 265.8,35.9 265.8,38.1 265.9,40.4 266.0,40.2 266.0,40.9 266.1,41.5 266.1,44.6 266.2,45.3 266.3,44.1 266.3,44.0 266.4,46.0 266.5,44.1 266.5,44.5 266.6,41.6 266.6,42.4 266.7,42.1 266.8,38.8 266.8,38.7 266.9,36.9 267.0,36.2 267.0,34.1 267.1,33.2 267.1,31.4 267.2,29.2 267.3,28.8 267.3,26.8 267.4,25.3 267.5,25.7 267.5,26.9 267.6,24.1 267.6,26.4 267.7,26.3 267.8,26.4 267.8,26.9 267.9,28.7 268.0,29.6 268.0,30.4 268.1,32.3 268.1,34.3 268.2,35.4 268.3,37.0 268.3,38.8 268.4,39.3 268.4,40.8 268.5,42.3 268.6,42.4 268.6,42.9 268.7,44.0 268.8,45.2 268.8,44.6 268.9,46.8 268.9,44.4 269.0,44.9 269.1,44.1 269.1,41.7 269.2,41.0 269.3,38.7 269.3,37.4 269.4,37.9 269.4,35.2 269.5,32.7 269.6,33.1 269.6,30.2 269.7,27.5 269.8,28.4 269.8,27.6 269.9,26.3 269.9,25.5 270.0,25.2 270.1,24.7 270.1,23.7 270.2,25.0 270.3,25.4 270.3,27.6 270.4,28.9 270.4,27.6 270.5,30.8 270.6,30.6 270.6,34.0 270.7,34.8 270.8,36.4 270.8,39.6 270.9,41.2 270.9,41.6 271.0,43.8 271.1,44.4 271.1,45.5 271.2,45.8 271.2,45.8 271.3,45.0 271.4,44.8 271.4,44.0 271.5,42.9 271.6,44.0 271.6,40.3 271.7,40.8 271.7,38.2 271.8,39.4 271.9,37.9 271.9,36.3 272.0,32.5 272.1,32.5 272.1,30.0 272.2,29.2 272.2,29.8 272.3,28.1 272.4,27.4 272.4,26.5 272.5,25.3 272.6,27.1 272.6,24.8 272.7,26.4 272.7,27.3 272.8,27.1 272.9,29.2 272.9,29.1 273.0,31.2 273.1,32.4 273.1,34.6 273.2,36.0 273.2,35.6 273.3,37.8 273.4,39.6 273.4,39.8 273.5,40.5 273.6,43.6 273.6,42.0 273.7,45.4 273.7,44.0 273.8,45.7 273.9,45.7 273.9,44.6 274.0,43.7 274.0,43.4 274.1,41.6 274.2,39.7 274.2,40.6 274.3,39.0 274.4,36.4 274.4,35.4 274.5,34.1 274.5,32.1 274.6,30.1 274.7,28.2 274.7,26.9 274.8,26.2 274.9,26.8 274.9,24.6 275.0,24.8 275.0,26.2 275.1,24.1 275.2,26.4 275.2,25.8 275.3,26.6 275.4,27.0 275.4,28.9 275.5,29.3 275.5,33.3 275.6,34.9 275.7,36.0 275.7,36.5 275.8,38.4 275.9,40.8 275.9,41.8 276.0,41.9 276.0,43.5 276.1,43.2 276.2,44.7 276.2,43.9 276.3,44.6 276.4,45.2 276.4,45.2 276.5,45.0 276.5,44.0 276.6,42.8 276.7,41.5 276.7,40.7 276.8,38.4 276.8,37.9 276.9,34.1 277.0,33.4 277.0,33.2 277.1,31.0 277.2,29.9 277.2,29.0 277.3,27.0 277.3,27.0 277.4,26.5 277.5,24.5 277.5,25.2 277.6,24.6 277.7,25.6 277.7,26.1 277.8,27.5 277.8,28.2 277.9,29.2 278.0,31.0 278.0,31.1 278.1,34.3 278.2,36.0 278.2,37.2 278.3,37.5 278.3,38.8 278.4,40.9 278.5,42.7 278.5,43.0 278.6,43.3 278.7,45.6 278.7,44.7 278.8,43.9 278.8,44.7 278.9,45.0 279.0,43.1 279.0,43.5 279.1,42.1 279.1,40.5 279.2,38.1 279.3,39.0 279.3,37.8 279.4,35.0 279.5,32.4 279.5,33.6 279.6,30.5 279.6,31.0 279.7,28.4 279.8,28.7 279.8,26.4 279.9,26.7 280.0,25.5 280.0,26.6 280.1,27.2 280.1,27.2 280.2,27.5 280.3,28.6 280.3,29.4 280.4,29.6 280.5,31.1 280.5,31.4 280.6,33.7 280.6,35.0 280.7,36.0 280.8,37.0 280.8,39.1 280.9,41.9 281.0,41.8 281.0,44.0 281.1,43.1 281.1,45.2 281.2,44.2 281.3,45.9 281.3,43.8 281.4,45.6 281.5,43.4 281.5,42.4 281.6,42.7 281.6,40.6 281.7,40.1 281.8,38.9 281.8,37.4 281.9,36.5 281.9,33.1 282.0,33.4 282.1,31.6 282.1,30.6 282.2,27.4 282.3,27.2 282.3,26.6 282.4,25.7 282.4,24.7 282.5,25.1 282.6,25.5 282.6,26.4 282.7,26.4 282.8,25.9 282.8,28.1 282.9,29.5 282.9,29.6 283.0,33.4 283.1,34.9 283.1,34.3 283.2,35.4 283.3,39.4 283.3,40.9 283.4,42.3 283.4,41.8 283.5,44.1 283.6,43.7 283.6,43.9 283.7,46.1 283.8,44.5 283.8,46.1 283.9,44.9 283.9,44.8 284.0,44.0 284.1,42.8 284.1,42.7 284.2,40.1 284.3,39.0 284.3,37.2 284.4,36.1 284.4,34.1 284.5,31.6 284.6,29.6 284.6,30.8 284.7,28.1 284.7,28.3 284.8,29.5 284.9,29.8 284.9,27.7 285.0,30.1 285.1,31.3 285.1,30.9 285.2,32.2 285.2,33.3 285.3,36.1 285.4,38.5 285.4,40.5 285.5,42.9 285.6,44.0 285.6,45.4 285.7,49.6 285.7,50.9 285.8,52.9 285.9,55.4 285.9,55.8 286.0,56.4 286.1,59.3 286.1,59.4 286.2,59.8 286.2,62.2 286.3,60.8 286.4,61.4 286.4,61.7 286.5,63.0 286.6,62.5 286.6,62.7 286.7,59.6 286.7,59.4 286.8,61.6 286.9,59.4 286.9,60.2 287.0,57.6 287.1,58.1 287.1,56.2 287.2,57.0 287.2,59.6 287.3,58.5 287.4,57.8 287.4,56.6 287.5,59.5 287.5,60.9 287.6,61.1 287.7,62.0 287.7,63.2 287.8,63.2 287.9,64.6 287.9,64.3 288.0,63.3 288.0,64.0 288.1,69.0 288.2,67.8 288.2,68.2 288.3,71.8 288.4,70.6 288.4,73.0 288.5,72.7 288.5,73.5 288.6,71.2 288.7,74.7 288.7,72.5 288.8,72.4 288.9,73.8 288.9,70.4 289.0,73.7 289.0,73.5 289.1,71.3 289.2,72.2 289.2,70.6 289.3,73.4 289.4,73.1 289.4,69.5 289.5,71.1 289.5,68.2 289.6,71.3 289.7,70.9 289.7,67.3 289.8,69.9 289.9,71.1 289.9,70.5 290.0,67.6 290.0,70.4 290.1,69.0 290.2,67.8 290.2,69.4 290.3,69.0 290.3,68.3 290.4,72.4 290.5,69.9 290.5,72.2 290.6,74.6 290.7,75.5 290.7,75.1 290.8,76.6 290.8,73.8 290.9,75.4 291.0,78.5 291.0,74.4 291.1,76.2 291.2,77.1 291.2,79.6 291.3,77.9 291.3,75.5 291.4,77.0 291.5,77.3 291.5,76.2 291.6,76.0 291.7,75.1 291.7,76.7 291.8,76.3 291.8,76.4 291.9,71.5 292.0,75.1 292.0,73.2 292.1,71.0 292.2,70.9 292.2,68.5 292.3,71.6 292.3,71.9 292.4,71.5 292.5,69.8 292.5,70.9 292.6,70.2 292.7,69.3 292.7,71.5 292.8,70.2 292.8,74.1 292.9,72.0 293.0,70.8 293.0,71.3 293.1,73.8 293.1,72.4 293.2,76.9 293.3,77.2 293.3,77.1 293.4,77.3 293.5,76.2 293.5,78.4 293.6,80.7 293.6,77.6 293.7,79.1 293.8,75.7 293.8,79.0 293.9,78.3 294.0,78.9 294.0,77.7 294.1,75.8 294.1,77.0 294.2,77.6 294.3,74.4 294.3,73.1 294.4,75.7 294.5,73.6 294.5,74.9 294.6,74.8 294.6,72.5 294.7,72.6 294.8,69.4 294.8,73.5 294.9,70.2 295.0,69.7 295.0,71.4 295.1,71.0 295.1,72.5 295.2,72.8 295.3,74.1 295.3,70.2 295.4,75.1 295.5,75.0 295.5,72.6 295.6,74.4 295.6,74.7 295.7,76.3 295.8,77.5 295.8,74.6 295.9,78.5 295.9,77.9 296.0,75.9 296.1,78.4 296.1,75.2 296.2,80.0 296.3,78.1 296.3,77.9 296.4,77.8 296.4,76.1 296.5,79.4 296.6,76.3 296.6,74.5 296.7,77.7 296.8,74.5 296.8,74.4 296.9,73.9 296.9,72.6 297.0,71.5 297.1,70.6 297.1,69.1 297.2,69.9 297.3,67.8 297.3,69.2 297.4,71.1 297.4,71.7 297.5,72.1 297.6,71.2 297.6,72.2 297.7,69.7 297.8,70.0 297.8,70.9 297.9,72.6 297.9,72.8 298.0,74.5 298.1,71.7 298.1,77.0 298.2,76.0 298.3,75.3 298.3,77.9 298.4,74.9 298.4,77.2 298.5,78.1 298.6,79.9 298.6,78.9 298.7,77.4 298.7,78.9 298.8,80.0 298.9,77.0 298.9,78.1 299.0,74.8 299.1,75.1 299.1,74.4 299.2,72.9 299.2,72.7 299.3,74.5 299.4,72.6 299.4,73.6 299.5,73.3 299.6,72.7 299.6,72.7 299.7,71.6 299.7,71.3 299.8,68.7 299.9,70.8 299.9,71.8 300.0,69.9 300.1,71.2 300.1,68.8 300.2,71.6 300.2,70.3 300.3,72.7 300.4,71.7 300.4,70.2 300.5,73.8 300.6,73.2 300.6,74.3 300.7,76.9 300.7,77.7 300.8,73.9 300.9,77.0 300.9,75.6 301.0,77.4 301.1,75.4 301.1,78.9 301.2,76.7 301.2,76.3 301.3,74.9 301.4,78.7 301.4,76.7 301.5,75.7 301.5,74.7 301.6,76.6 301.7,74.0 301.7,72.7 301.8,71.9 301.9,74.1 301.9,72.4 302.0,72.7 302.0,71.7 302.1,71.5 302.2,68.0 302.2,72.7 302.3,67.5 302.4,72.2 302.4,71.9 302.5,71.3 302.5,71.0 302.6,68.2 302.7,68.5 302.7,68.3 302.8,71.6 302.9,74.0 302.9,71.3 303.0,70.3 303.0,75.0 303.1,71.7 303.2,76.6 303.2,73.2 303.3,74.9 303.4,73.1 303.4,73.6 303.5,78.2 303.5,76.0 303.6,77.5 303.7,76.7 303.7,78.7 303.8,76.9 303.9,76.5 303.9,78.3 304.0,75.4 304.0,72.8 304.1,76.7 304.2,71.5 304.2,73.4 304.3,74.3 304.3,69.7 304.4,71.7 304.5,71.4 304.5,71.3 304.6,68.1 304.7,71.8 304.7,71.0 304.8,70.4 304.8,71.5 304.9,67.2 305.0,69.2 305.0,68.7 305.1,67.4 305.2,69.8 305.2,71.3 305.3,70.3 305.3,71.0 305.4,72.5 305.5,73.4 305.5,73.3 305.6,71.8 305.7,75.4 305.7,71.5 305.8,76.0 305.8,76.2 305.9,77.4 306.0,76.2 306.0,76.5 306.1,75.0 306.2,74.2 306.2,77.7 306.3,74.5 306.3,76.9 306.4,76.1 306.5,77.2 306.5,72.6 306.6,74.8 306.6,72.5 306.7,75.5 306.8,71.3 306.8,73.2 306.9,71.4 307.0,69.6 307.0,71.8 307.1,69.4 307.1,67.4 307.2,70.7 307.3,68.8 307.3,70.2 307.4,70.3 307.5,68.5 307.5,68.8 307.6,68.0 307.6,67.2 307.7,68.4 307.8,70.8 307.8,70.6 307.9,70.1 308.0,69.8 308.0,71.2 308.1,72.8 308.1,75.4 308.2,72.0 308.3,75.6 308.3,75.4 308.4,73.2 308.5,77.2 308.5,73.6 308.6,77.4 308.6,77.4 308.7,75.1 308.8,73.5 308.8,75.4 308.9,72.8 309.0,74.8 309.0,72.2 309.1,75.6 309.1,74.2 309.2,74.6 309.3,70.8 309.3,71.8 309.4,70.3 309.4,72.1 309.5,69.0 309.6,67.2 309.6,71.8 309.7,70.3 309.8,67.1 309.8,67.1 309.9,66.9 309.9,70.5 310.0,68.8 310.1,71.5 310.1,69.9 310.2,69.4 310.3,71.5 310.3,71.0 310.4,71.8 310.4,73.7 310.5,74.3 310.6,70.9 310.6,75.6 310.7,70.7 310.8,71.6 310.8,71.4 310.9,72.8 310.9,77.3 311.0,76.9 311.1,75.9 311.1,77.3 311.2,77.9 311.3,73.1 311.3,72.9 311.4,73.4 311.4,75.8 311.5,72.1 311.6,71.8 311.6,73.9 311.7,74.4 311.8,73.8 311.8,71.8 311.9,68.9 311.9,72.5 312.0,70.1 312.1,70.1 312.1,66.8 312.2,70.5 312.2,67.5 312.3,69.2 312.4,67.4 312.4,66.5 312.5,66.6 312.6,66.7 312.6,70.0 312.7,70.4 312.7,71.7 312.8,71.5 312.9,72.7 312.9,69.6 313.0,74.2 313.1,74.0 313.1,71.3 313.2,71.9 313.2,71.3 313.3,74.9 313.4,77.1 313.4,73.3 313.5,76.3 313.6,73.8 313.6,78.1 313.7,78.0 313.7,74.7 313.8,74.0 313.9,74.4 313.9,74.2 314.0,73.4 314.1,75.4 314.1,75.2 314.2,73.1 314.2,71.4 314.3,72.5 314.4,72.3 314.4,70.2 314.5,69.9 314.6,70.3 314.6,66.3 314.7,65.9 314.7,70.6 314.8,68.0 314.9,69.3 314.9,68.8 315.0,70.6 315.0,70.6 315.1,71.1 315.2,71.0 315.2,68.6 315.3,72.2 315.4,68.3 315.4,69.4 315.5,72.9 315.5,71.1 315.6,70.3 315.7,75.4 315.7,73.4 315.8,74.4 315.9,75.6 315.9,76.1 316.0,77.4 316.0,74.4 316.1,76.7 316.2,75.4 316.2,72.5 316.3,75.5 316.4,75.4 316.4,71.6 316.5,73.1 316.5,72.7 316.6,74.1 316.7,71.3 316.7,72.2 316.8,70.7 316.9,71.0 316.9,72.2 317.0,67.4 317.0,68.0 317.1,66.2 317.2,69.5 317.2,69.4 317.3,70.1 317.4,69.1 317.4,69.0 317.5,69.9 317.5,69.7 317.6,69.8 317.7,67.1 317.7,69.7 317.8,68.2 317.8,72.9 317.9,72.6 318.0,69.0 318.0,74.5 318.1,74.9 318.2,72.9 318.2,74.6 318.3,75.6 318.3,73.6 318.4,73.9 318.5,76.4 318.5,74.6 318.6,75.3 318.7,73.1 318.7,77.3 318.8,76.1 318.8,74.0 318.9,76.6 319.0,71.7 319.0,70.5 319.1,73.5 319.2,70.5 319.2,72.8 319.3,68.4 319.3,71.9 319.4,72.5 319.5,71.6 319.5,69.1 319.6,71.0 319.7,65.5 319.7,67.2 319.8,67.4 319.8,67.1 319.9,68.2 320.0,65.8 320.0,67.0 320.1,68.8 320.2,70.0 320.2,71.2 320.3,70.7 320.3,71.1 320.4,73.1 320.5,69.0 320.5,73.3 320.6,72.3 320.6,75.4 320.7,73.2 320.8,73.1 320.8,76.6 320.9,72.0 321.0,76.7 321.0,76.2 321.1,73.2 321.1,75.4 321.2,72.3 321.3,75.6 321.3,74.9 321.4,72.5 321.5,71.2 321.5,70.7 321.6,73.5 321.6,71.6 321.7,71.8 321.8,69.9 321.8,71.8 321.9,68.0 322.0,68.3 322.0,70.9 322.1,69.8 322.1,69.4 322.2,65.9 322.3,68.4 322.3,67.5 322.4,65.8 322.5,68.9 322.5,66.0 322.6,69.9 322.6,71.7 322.7,71.6 322.8,68.8 322.8,71.0 322.9,69.0 323.0,71.1 323.0,70.8 323.1,73.1 323.1,72.2 323.2,72.0 323.3,74.2 323.3,73.9 323.4,72.2 323.4,71.9 323.5,75.2 323.6,76.8 323.6,72.5 323.7,74.5 323.8,71.5 323.8,72.3 323.9,74.2 323.9,71.2 324.0,72.4 324.1,71.0 324.1,69.6 324.2,70.8 324.3,68.3 324.3,70.8 324.4,70.5 324.4,68.6 324.5,69.6 324.6,67.6 324.6,68.3 324.7,66.9 324.8,66.3 324.8,67.7 324.9,65.9 324.9,66.7 325.0,66.5 325.1,71.4 325.1,71.7 325.2,68.6 325.3,70.7 325.3,68.2 325.4,71.3 325.4,69.9 325.5,73.1 325.6,71.5 325.6,70.4 325.7,71.0 325.8,74.1 325.8,73.8 325.9,73.8 325.9,75.0 326.0,74.4 326.1,71.9 326.1,72.3 326.2,75.3 326.2,73.1 326.3,71.4 326.4,74.3 326.4,71.2 326.5,71.0 326.6,70.1 326.6,74.0 326.7,68.8 326.7,68.0 326.8,71.6 326.9,69.0 326.9,71.5 327.0,68.3 327.1,67.4 327.1,66.9 327.2,66.1 327.2,69.1 327.3,70.0 327.4,66.2 327.4,70.7 327.5,69.7 327.6,70.0 327.6,67.3 327.7,69.6 327.7,67.8 327.8,69.2 327.9,68.7 327.9,69.6 328.0,69.6 328.1,73.4 328.1,73.4 328.2,72.3 328.2,73.0 328.3,72.2 328.4,72.3 328.4,75.3 328.5,76.5 328.6,72.9 328.6,73.1 328.7,75.3 328.7,76.3 328.8,76.3 328.9,74.7 328.9,74.2 329.0,74.1 329.0,74.6 329.1,73.4 329.2,72.0 329.2,72.9 329.3,71.8 329.4,70.1 329.4,67.4 329.5,66.9 329.5,69.1 329.6,70.4 329.7,69.5 329.7,67.1 329.8,68.5 329.9,67.7 329.9,66.9 330.0,67.5 330.0,66.6 330.1,71.2 330.2,70.4 330.2,72.3 330.3,70.0 330.4,70.0 330.4,72.5 330.5,74.0 330.5,72.2 330.6,74.3 330.7,74.6 330.7,73.9 330.8,71.1 330.9,74.6 330.9,72.9 331.0,74.8 331.0,74.8 331.1,76.3 331.2,75.9 331.2,72.5 331.3,74.1 331.4,74.6 331.4,70.3 331.5,70.4 331.5,73.4 331.6,71.9 331.7,70.7 331.7,72.4 331.8,70.5 331.8,70.8 331.9,67.4 332.0,71.0 332.0,65.7 332.1,69.6 332.2,68.9 332.2,70.2 332.3,65.5 332.3,66.0 332.4,70.4 332.5,68.0 332.5,69.0 332.6,68.2 332.7,70.1 332.7,67.1 332.8,71.6 332.8,68.8 332.9,72.3 333.0,70.7 333.0,72.4 333.1,72.4 333.2,72.8 333.2,72.6 333.3,76.0 333.3,76.4 333.4,71.5 333.5,75.6 333.5,75.6 333.6,76.2 333.7,73.8 333.7,71.7 333.8,74.6 333.8,74.7 333.9,74.1 334.0,75.4 334.0,74.5 334.1,74.1 334.2,72.0"/>
<polyline fill="none" stroke="#ff0000" stroke-width="2.25" stroke-linejoin="round" points="47.95,70.57 48.45,70.57 48.95,70.57 49.44,70.57 49.94,70.57 50.44,70.57 50.94,70.57 51.43,70.57 51.93,70.57 52.43,70.57 52.93,70.57 53.43,70.57 53.92,70.57 54.42,70.57 54.92,70.57 55.42,70.57 55.91,70.57 56.41,70.57 56.91,70.57 57.41,70.57 57.90,70.57 58.40,70.57 58.90,70.57 59.40,70.57 59.90,70.57 60.39,70.57 60.89,70.57 61.39,70.57 61.89,70.57 62.38,70.57 62.88,70.57 63.38,70.57 63.88,70.57 64.38,70.57 64.87,70.57 65.37,70.57 65.87,70.57 66.37,70.57 66.86,70.57 67.36,70.57 67.86,70.57 68.36,70.57 68.86,70.57 69.35,70.57 69.85,70.57 70.35,70.57 70.85,70.57 71.34,70.57 71.84,70.57 72.34,70.57 72.84,70.57 73.33,70.57 73.83,70.57 74.33,70.57 74.83,70.57 75.33,70.57 75.82,70.57 76.32,70.57 76.82,70.57 77.32,70.57 77.81,70.57 78.31,70.57 78.81,70.57 79.31,70.57 79.81,70.57 80.30,70.57 80.80,70.57 81.30,70.57 81.80,70.57 82.29,70.57 82.79,70.57 83.29,70.57 83.79,70.57 84.28,70.57 84.78,70.57 85.28,70.57 85.78,70.57 86.28,70.86 86.77,72.75 87.27,75.69 87.77,79.07 88.27,82.52 88.76,85.84 89.26,88.89 89.76,91.61 90.26,94.00 90.76,96.06 91.25,97.81 91.75,99.28 92.25,100.52 92.75,101.54 93.24,102.38 93.74,103.08 94.24,103.64 94.74,104.10 95.24,104.48 95.73,104.78 96.23,105.02 96.73,105.22 97.23,105.38 97.72,105.50 98.22,105.60 98.72,105.68 99.22,105.75 99.71,105.80 100.21,105.84 100.71,105.87 101.21,105.90 101.71,105.92 102.20,105.93 102.70,105.94 103.20,105.95 103.70,105.96 104.19,105.97 104.69,105.97 105.19,105.98 105.69,105.98 106.19,105.98 106.68,105.98 107.18,105.98 107.68,105.99 108.18,105.99 108.67,105.99 109.17,105.99 109.67,105.99 110.17,105.99 110.67,105.99 111.16,105.99 111.66,105.99 112.16,105.99 112.66,105.99 113.15,105.99 113.65,105.99 114.15,105.99 114.65,105.99 115.14,105.99 115.64,105.99 116.14,105.99 116.64,105.99 117.14,105.99 117.63,105.99 118.13,105.99 118.63,105.99 119.13,105.99 119.62,105.99 120.12,105.99 120.62,105.99 121.12,105.99 121.62,105.99 122.11,105.99 122.61,105.99 123.11,105.99 123.61,105.99 124.10,105.99 124.60,105.99 125.10,105.99 125.60,105.99 126.10,105.99 126.59,105.99 127.09,105.99 127.59,105.99 128.09,105.99 128.58,105.99 129.08,105.99 129.58,105.99 130.08,105.99 130.57,105.99 131.07,105.99 131.57,105.99 132.07,105.99 132.57,105.99 133.06,105.99 133.56,105.99 134.06,105.99 134.56,105.99 135.05,105.99 135.55,105.99 136.05,105.99 136.55,105.99 137.05,105.99 137.54,105.99 138.04,105.99 138.54,105.99 139.04,105.99 139.53,105.99 140.03,105.99 140.53,105.99 141.03,105.99 141.52,105.99 142.02,105.99 142.52,105.99 143.02,105.99 143.52,105.99 144.01,105.99 144.51,105.99 145.01,105.99 145.51,105.99 146.00,105.99 146.50,105.99 147.00,105.99 147.50,105.99 148.00,105.99 148.49,105.99 148.99,105.99 149.49,105.99 149.99,105.99 150.48,105.99 150.98,105.99 151.48,105.99 151.98,105.99 152.48,105.99 152.97,105.99 153.47,105.99 153.97,105.99 154.47,105.99 154.96,105.99 155.46,105.99 155.96,105.99 156.46,105.99 156.95,105.99 157.45,105.99 157.95,105.99 158.45,105.99 158.95,105.99 159.44,105.99 159.94,105.99 160.44,105.99 160.94,105.70 161.43,103.72 161.93,100.52 162.43,96.69 162.93,92.63 163.43,88.60 163.92,84.78 164.42,81.28 164.92,78.17 165.42,75.45 165.91,73.12 166.41,71.18 166.91,69.59 167.41,68.33 167.91,67.34 168.40,66.60 168.90,66.08 169.40,65.73 169.90,65.54 170.39,65.46 170.89,65.49 171.39,65.59 171.89,65.76 172.38,65.96 172.88,66.20 173.38,66.46 173.88,66.73 174.38,67.00 174.87,67.27 175.37,67.54 175.87,67.79 176.37,68.04 176.86,68.27 177.36,68.49 177.86,68.69 178.36,68.88 178.86,69.05 179.35,69.21 179.85,69.36 180.35,69.49 180.85,69.61 181.34,69.72 181.84,69.82 182.34,69.90 182.84,69.98 183.34,70.05 183.83,70.12 184.33,70.17 184.83,70.22 185.33,70.26 185.82,70.30 186.32,70.34 186.82,70.37 187.32,70.39 187.81,70.42 188.31,70.44 188.81,70.46 189.31,70.47 189.81,70.49 190.30,70.50 190.80,70.51 191.30,70.52 191.80,70.52 192.29,70.53 192.79,70.54 193.29,70.54 193.79,70.55 194.29,70.55 194.78,70.55 195.28,70.56 195.78,70.56 196.28,70.56 196.77,70.56 197.27,70.57 197.77,70.57 198.27,70.57 198.76,70.57 199.26,70.57 199.76,70.57 200.26,70.57 200.76,70.57 201.25,70.57 201.75,70.57 202.25,70.57 202.75,70.57 203.24,70.57 203.74,70.57 204.24,70.57 204.74,70.57 205.24,70.57 205.73,70.57 206.23,70.57 206.73,70.57 207.23,70.57 207.72,70.57 208.22,70.57 208.72,70.57 209.22,70.57 209.72,70.57 210.21,70.57 210.71,70.28 211.21,68.29 211.71,65.06 212.20,61.15 212.70,56.95 213.20,52.73 213.70,48.68 214.19,44.89 214.69,41.46 215.19,38.40 215.69,35.72 216.19,33.43 216.68,31.51 217.18,29.93 217.68,28.66 218.18,27.67 218.67,26.94 219.17,26.42 219.67,26.10 220.17,25.94 220.67,25.92 221.16,26.01 221.66,26.19 222.16,26.45 222.66,26.77 223.15,27.13 223.65,27.52 224.15,27.93 224.65,28.35 225.15,28.78 225.64,29.20 226.14,29.61 226.64,30.02 227.14,30.41 227.63,30.78 228.13,31.14 228.63,31.47 229.13,31.79 229.62,32.08 230.12,32.36 230.62,32.61 231.12,32.85 231.62,33.07 232.11,33.27 232.61,33.46 233.11,33.63 233.61,33.78 234.10,33.92 234.60,34.05 235.10,34.16 235.60,34.27 236.10,34.36 236.59,34.45 237.09,34.53 237.59,34.60 238.09,34.66 238.58,34.71 239.08,34.76 239.58,34.81 240.08,34.85 240.58,34.88 241.07,34.92 241.57,34.94 242.07,34.97 242.57,34.99 243.06,35.01 243.56,35.03 244.06,35.04 244.56,35.06 245.05,35.07 245.55,35.08 246.05,35.09 246.55,35.10 247.05,35.11 247.54,35.11 248.04,35.12 248.54,35.12 249.04,35.13 249.53,35.13 250.03,35.14 250.53,35.14 251.03,35.14 251.53,35.14 252.02,35.15 252.52,35.15 253.02,35.15 253.52,35.15 254.01,35.15 254.51,35.15 255.01,35.15 255.51,35.15 256.00,35.16 256.50,35.16 257.00,35.16 257.50,35.16 258.00,35.16 258.49,35.16 258.99,35.16 259.49,35.16 259.99,35.16 260.48,35.16 260.98,35.16 261.48,35.16 261.98,35.16 262.48,35.16 262.97,35.16 263.47,35.16 263.97,35.16 264.47,35.16 264.96,35.16 265.46,35.16 265.96,35.16 266.46,35.16 266.96,35.16 267.45,35.16 267.95,35.16 268.45,35.16 268.95,35.16 269.44,35.16 269.94,35.16 270.44,35.16 270.94,35.16 271.43,35.16 271.93,35.16 272.43,35.16 272.93,35.16 273.43,35.16 273.92,35.16 274.42,35.16 274.92,35.16 275.42,35.16 275.91,35.16 276.41,35.16 276.91,35.16 277.41,35.16 277.91,35.16 278.40,35.16 278.90,35.16 279.40,35.16 279.90,35.16 280.39,35.16 280.89,35.16 281.39,35.16 281.89,35.16 282.39,35.16 282.88,35.16 283.38,35.16 283.88,35.16 284.38,35.16 284.87,35.16 285.37,35.49 285.87,37.55 286.37,40.71 286.86,44.35 287.36,48.10 287.86,51.70 288.36,55.04 288.86,58.03 289.35,60.67 289.85,62.95 290.35,64.91 290.85,66.56 291.34,67.93 291.84,69.08 292.34,70.02 292.84,70.78 293.34,71.40 293.83,71.89 294.33,72.27 294.83,72.57 295.33,72.79 295.82,72.96 296.32,73.07 296.82,73.14 297.32,73.19 297.82,73.20 298.31,73.19 298.81,73.17 299.31,73.14 299.81,73.09 300.30,73.03 300.80,72.97 301.30,72.91 301.80,72.84 302.29,72.77 302.79,72.70 303.29,72.63 303.79,72.56 304.29,72.49 304.78,72.43 305.28,72.36 305.78,72.30 306.28,72.24 306.77,72.18 307.27,72.12 307.77,72.07 308.27,72.02 308.77,71.97 309.26,71.92 309.76,71.87 310.26,71.83 310.76,71.79 311.25,71.75 311.75,71.71 312.25,71.68 312.75,71.64 313.24,71.61 313.74,71.58 314.24,71.55 314.74,71.52 315.24,71.49 315.73,71.47 316.23,71.44 316.73,71.42 317.23,71.40 317.72,71.38 318.22,71.35 318.72,71.34 319.22,71.32 319.72,71.30 320.21,71.28 320.71,71.26 321.21,71.25 321.71,71.23 322.20,71.22 322.70,71.20 323.20,71.19 323.70,71.18 324.20,71.16 324.69,71.15 325.19,71.14 325.69,71.13 326.19,71.12 326.68,71.10 327.18,71.09 327.68,71.08 328.18,71.07 328.67,71.06 329.17,71.05 329.67,71.04 330.17,71.03 330.67,71.02 331.16,71.02 331.66,71.01 332.16,71.00 332.66,70.99 333.15,70.98 333.65,70.97 334.15,70.97"/>
<polyline fill="none" stroke="#0000ff" stroke-width="1.1" stroke-linejoin="round" points="396.9,68.0 397.0,72.4 397.0,70.3 397.1,72.1 397.1,72.9 397.2,68.8 397.3,72.4 397.3,72.4 397.4,68.9 397.5,71.8 397.5,72.0 397.6,68.3 397.6,72.1 397.7,68.9 397.8,71.5 397.8,70.2 397.9,71.5 398.0,71.3 398.0,68.4 398.1,68.5 398.1,72.1 398.2,69.4 398.3,72.3 398.3,71.5 398.4,72.6 398.5,69.8 398.5,69.5 398.6,69.4 398.6,69.2 398.7,71.0 398.8,72.0 398.8,72.8 398.9,70.8 399.0,68.5 399.0,70.8 399.1,70.0 399.1,68.6 399.2,68.9 399.3,69.5 399.3,70.1 399.4,71.7 399.5,69.4 399.5,70.9 399.6,69.6 399.6,71.7 399.7,68.6 399.8,72.0 399.8,69.3 399.9,68.9 400.0,72.0 400.0,69.0 400.1,69.9 400.1,70.1 400.2,71.6 400.3,71.2 400.3,71.6 400.4,70.8 400.5,69.9 400.5,69.6 400.6,69.7 400.6,71.1 400.7,71.2 400.8,69.5 400.8,68.6 400.9,71.6 401.0,70.9 401.0,71.4 401.1,68.6 401.1,72.4 401.2,69.0 401.3,69.5 401.3,71.2 401.4,69.8 401.5,71.0 401.5,70.0 401.6,70.8 401.6,68.9 401.7,70.7 401.8,69.3 401.8,70.2 401.9,71.0 402.0,68.8 402.0,71.7 402.1,69.0 402.1,68.7 402.2,69.2 402.3,70.1 402.3,70.1 402.4,69.0 402.5,70.8 402.5,69.3 402.6,69.5 402.6,69.2 402.7,70.7 402.8,70.0 402.8,72.0 402.9,72.0 403.0,71.9 403.0,69.7 403.1,71.0 403.1,69.1 403.2,72.0 403.3,71.7 403.3,69.4 403.4,70.8 403.4,71.5 403.5,69.6 403.6,71.4 403.6,68.9 403.7,71.3 403.8,69.3 403.8,70.6 403.9,69.1 403.9,71.2 404.0,69.1 404.1,71.2 404.1,70.7 404.2,70.1 404.3,70.3 404.3,70.0 404.4,69.9 404.4,71.3 404.5,72.1 404.6,69.8 404.6,70.2 404.7,70.3 404.8,70.5 404.8,69.2 404.9,71.2 404.9,69.2 405.0,71.6 405.1,69.9 405.1,69.1 405.2,71.6 405.3,69.7 405.3,71.2 405.4,71.9 405.4,70.7 405.5,69.9 405.6,71.2 405.6,69.1 405.7,72.0 405.8,71.2 405.8,71.0 405.9,70.9 405.9,71.1 406.0,72.0 406.1,71.4 406.1,71.2 406.2,70.0 406.3,70.9 406.3,69.9 406.4,70.7 406.4,71.0 406.5,71.5 406.6,71.3 406.6,69.3 406.7,70.7 406.8,71.1 406.8,71.3 406.9,69.4 406.9,69.9 407.0,70.0 407.1,69.6 407.1,71.3 407.2,69.9 407.3,71.7 407.3,70.1 407.4,71.0 407.4,70.1 407.5,71.3 407.6,70.9 407.6,70.0 407.7,69.3 407.8,71.0 407.8,71.4 407.9,71.6 407.9,70.1 408.0,69.4 408.1,71.9 408.1,71.0 408.2,71.4 408.3,69.3 408.3,71.5 408.4,71.7 408.4,69.8 408.5,69.2 408.6,69.8 408.6,71.6 408.7,70.8 408.8,70.5 408.8,69.5 408.9,69.8 408.9,71.7 409.0,70.6 409.1,69.8 409.1,70.4 409.2,70.1 409.3,69.3 409.3,69.3 409.4,69.6 409.4,70.3 409.5,71.0 409.6,71.4 409.6,71.4 409.7,70.2 409.8,69.8 409.8,69.6 409.9,69.5 409.9,71.1 410.0,70.9 410.1,71.3 410.1,70.4 410.2,69.4 410.2,69.9 410.3,70.7 410.4,71.4 410.4,69.7 410.5,69.5 410.6,69.9 410.6,71.0 410.7,70.8 410.7,70.3 410.8,69.5 410.9,71.2 410.9,70.7 411.0,71.6 411.1,71.8 411.1,71.2 411.2,69.8 411.2,70.1 411.3,70.6 411.4,70.7 411.4,71.1 411.5,69.9 411.6,70.6 411.6,71.6 411.7,70.2 411.7,69.3 411.8,71.6 411.9,69.3 411.9,71.5 412.0,71.0 412.1,69.4 412.1,69.4 412.2,71.3 412.2,70.0 412.3,70.3 412.4,70.8 412.4,69.9 412.5,70.2 412.6,71.2 412.6,70.5 412.7,70.0 412.7,70.2 412.8,70.4 412.9,70.0 412.9,71.4 413.0,71.6 413.1,71.6 413.1,70.2 413.2,70.7 413.2,69.7 413.3,69.4 413.4,71.4 413.4,70.8 413.5,70.7 413.6,70.4 413.6,69.6 413.7,70.3 413.7,71.0 413.8,70.2 413.9,70.9 413.9,70.4 414.0,71.4 414.1,70.4 414.1,70.6 414.2,70.2 414.2,70.4 414.3,70.4 414.4,70.0 414.4,71.3 414.5,70.0 414.6,70.2 414.6,70.1 414.7,70.7 414.7,71.4 414.8,69.6 414.9,69.8 414.9,69.5 415.0,70.6 415.1,69.7 415.1,69.7 415.2,70.4 415.2,69.6 415.3,69.8 415.4,71.4 415.4,71.3 415.5,70.7 415.6,70.5 415.6,70.2 415.7,70.4 415.7,69.7 415.8,69.9 415.9,71.4 415.9,70.9 416.0,69.7 416.1,70.0 416.1,71.6 416.2,70.3 416.2,71.3 416.3,70.5 416.4,69.5 416.4,71.4 416.5,69.8 416.5,70.6 416.6,69.5 416.7,69.8 416.7,71.5 416.8,70.2 416.9,69.8 416.9,71.0 417.0,70.1 417.0,71.0 417.1,71.1 417.2,70.9 417.2,71.0 417.3,69.5 417.4,71.1 417.4,70.7 417.5,70.6 417.5,70.1 417.6,69.5 417.7,70.3 417.7,69.8 417.8,71.3 417.9,70.2 417.9,71.2 418.0,69.8 418.0,70.3 418.1,71.3 418.2,69.8 418.2,70.5 418.3,70.6 418.4,71.4 418.4,69.7 418.5,70.5 418.5,69.8 418.6,71.4 418.7,70.2 418.7,70.8 418.8,70.4 418.9,70.3 418.9,69.9 419.0,69.7 419.0,71.2 419.1,69.8 419.2,71.3 419.2,71.5 419.3,70.9 419.4,71.0 419.4,70.0 419.5,70.4 419.5,70.8 419.6,69.9 419.7,69.6 419.7,70.2 419.8,70.2 419.9,69.8 419.9,70.9 420.0,69.5 420.0,71.2 420.1,71.4 420.2,69.9 420.2,71.2 420.3,70.9 420.4,70.5 420.4,71.3 420.5,70.7 420.5,70.8 420.6,71.4 420.7,70.3 420.7,70.6 420.8,71.2 420.9,69.9 420.9,70.7 421.0,71.5 421.0,69.8 421.1,70.7 421.2,71.3 421.2,70.9 421.3,71.0 421.4,71.4 421.4,70.9 421.5,71.2 421.5,71.1 421.6,70.2 421.7,71.2 421.7,71.5 421.8,71.2 421.9,70.9 421.9,71.2 422.0,70.3 422.0,69.8 422.1,69.9 422.2,70.6 422.2,70.0 422.3,70.0 422.4,70.3 422.4,69.9 422.5,70.8 422.5,70.0 422.6,70.5 422.7,70.1 422.7,70.1 422.8,71.4 422.9,69.9 422.9,71.4 423.0,70.7 423.0,70.3 423.1,69.9 423.2,71.4 423.2,70.2 423.3,70.8 423.3,71.4 423.4,70.9 423.5,70.3 423.5,71.3 423.6,69.9 423.7,71.4 423.7,71.0 423.8,70.9 423.8,71.4 423.9,69.7 424.0,69.6 424.0,69.7 424.1,71.1 424.2,69.9 424.2,70.8 424.3,70.9 424.3,70.2 424.4,71.3 424.5,71.5 424.5,69.7 424.6,70.8 424.7,70.0 424.7,70.7 424.8,71.3 424.8,70.6 424.9,71.2 425.0,71.3 425.0,71.4 425.1,70.7 425.2,71.0 425.2,70.8 425.3,69.6 425.3,69.9 425.4,70.1 425.5,71.0 425.5,70.0 425.6,70.1 425.7,70.5 425.7,71.0 425.8,71.1 425.8,70.7 425.9,70.9 426.0,69.8 426.0,70.6 426.1,70.2 426.2,69.8 426.2,70.3 426.3,71.2 426.3,70.9 426.4,69.7 426.5,71.4 426.5,71.1 426.6,70.3 426.7,69.9 426.7,69.9 426.8,70.1 426.8,70.1 426.9,70.8 427.0,71.4 427.0,70.3 427.1,71.3 427.2,70.0 427.2,71.2 427.3,71.4 427.3,69.6 427.4,71.1 427.5,70.4 427.5,71.3 427.6,69.6 427.7,71.4 427.7,70.2 427.8,69.9 427.8,70.9 427.9,71.4 428.0,71.4 428.0,71.3 428.1,70.0 428.2,70.5 428.2,69.8 428.3,70.3 428.3,70.3 428.4,71.1 428.5,71.0 428.5,69.6 428.6,69.7 428.7,70.6 428.7,70.0 428.8,70.1 428.8,70.9 428.9,71.1 429.0,70.1 429.0,69.7 429.1,69.6 429.2,70.8 429.2,71.3 429.3,70.9 429.3,71.3 429.4,69.6 429.5,70.9 429.5,69.9 429.6,71.0 429.6,69.7 429.7,70.5 429.8,69.9 429.8,70.3 429.9,70.0 430.0,71.3 430.0,71.3 430.1,70.8 430.1,69.8 430.2,69.8 430.3,70.1 430.3,70.3 430.4,71.4 430.5,69.7 430.5,70.2 430.6,70.3 430.6,69.9 430.7,71.0 430.8,70.3 430.8,70.2 430.9,70.1 431.0,71.3 431.0,70.1 431.1,69.8 431.1,70.3 431.2,71.1 431.3,69.8 431.3,71.3 431.4,71.0 431.5,69.9 431.5,70.4 431.6,70.8 431.6,70.0 431.7,70.3 431.8,71.2 431.8,71.0 431.9,70.0 432.0,70.0 432.0,71.3 432.1,70.5 432.1,70.1 432.2,70.8 432.3,71.3 432.3,70.7 432.4,69.7 432.5,70.1 432.5,71.0 432.6,69.9 432.6,70.2 432.7,70.9 432.8,70.9 432.8,71.1 432.9,70.7 433.0,70.8 433.0,70.9 433.1,69.8 433.1,70.0 433.2,70.5 433.3,69.7 433.3,70.2 433.4,69.7 433.5,69.9 433.5,70.3 433.6,70.2 433.6,70.0 433.7,70.1 433.8,69.8 433.8,70.8 433.9,70.8 434.0,71.0 434.0,69.8 434.1,69.8 434.1,70.6 434.2,70.7 434.3,71.2 434.3,70.3 434.4,70.8 434.5,71.6 434.5,73.0 434.6,74.5 434.6,75.8 434.7,77.2 434.8,78.7 434.8,80.3 434.9,81.4 435.0,82.3 435.0,83.5 435.1,84.2 435.1,85.2 435.2,85.7 435.3,86.7 435.3,87.3 435.4,87.7 435.5,87.8 435.5,88.2 435.6,88.1 435.6,88.8 435.7,89.8 435.8,91.1 435.8,91.9 435.9,92.2 436.0,92.9 436.0,92.0 436.1,93.7 436.1,93.3 436.2,93.0 436.3,93.7 436.3,92.5 436.4,92.3 436.4,92.8 436.5,92.2 436.6,91.3 436.6,90.6 436.7,90.5 436.8,90.6 436.8,91.1 436.9,89.7 436.9,89.6 437.0,89.6 437.1,90.2 437.1,89.7 437.2,90.3 437.3,91.4 437.3,91.9 437.4,93.0 437.4,92.9 437.5,94.2 437.6,93.9 437.6,95.9 437.7,97.2 437.8,97.3 437.8,98.9 437.9,99.4 437.9,101.1 438.0,101.7 438.1,104.0 438.1,105.0 438.2,106.4 438.3,106.1 438.3,107.6 438.4,107.8 438.4,109.2 438.5,108.9 438.6,109.5 438.6,110.5 438.7,111.4 438.8,111.6 438.8,111.5 438.9,111.7 438.9,110.9 439.0,110.8 439.1,110.5 439.1,110.8 439.2,110.5 439.3,109.7 439.3,108.8 439.4,109.0 439.4,108.6 439.5,109.0 439.6,109.3 439.6,109.0 439.7,108.8 439.8,109.2 439.8,108.0 439.9,108.5 439.9,108.3 440.0,108.0 440.1,108.2 440.1,107.8 440.2,107.8 440.3,108.7 440.3,108.3 440.4,108.7 440.4,109.1 440.5,109.1 440.6,109.5 440.6,110.1 440.7,109.7 440.8,109.8 440.8,111.0 440.9,110.0 440.9,110.8 441.0,109.8 441.1,110.3 441.1,111.1 441.2,111.0 441.3,110.5 441.3,110.9 441.4,109.9 441.4,109.9 441.5,109.2 441.6,110.0 441.6,109.1 441.7,108.7 441.8,108.1 441.8,107.4 441.9,108.1 441.9,107.7 442.0,106.9 442.1,107.1 442.1,106.7 442.2,105.3 442.3,105.3 442.3,105.5 442.4,106.2 442.4,104.5 442.5,105.8 442.6,105.8 442.6,106.5 442.7,106.2 442.7,106.8 442.8,105.9 442.9,106.8 442.9,107.0 443.0,106.2 443.1,108.0 443.1,107.4 443.2,107.4 443.2,107.9 443.3,107.9 443.4,108.9 443.4,109.5 443.5,109.1 443.6,108.7 443.6,108.9 443.7,109.3 443.7,108.7 443.8,109.2 443.9,108.6 443.9,108.3 444.0,109.2 444.1,109.0 444.1,106.9 444.2,108.0 444.2,107.1 444.3,106.8 444.4,105.6 444.4,106.5 444.5,105.4 444.6,104.9 444.6,105.2 444.7,104.2 444.7,103.5 444.8,104.4 444.9,104.0 444.9,103.5 445.0,103.8 445.1,103.4 445.1,104.4 445.2,104.6 445.2,104.5 445.3,104.0 445.4,105.4 445.4,105.8 445.5,105.3 445.6,106.0 445.6,107.5 445.7,107.5 445.7,106.9 445.8,108.7 445.9,108.0 445.9,109.0 446.0,108.5 446.1,109.7 446.1,108.9 446.2,108.7 446.2,109.7 446.3,108.0 446.4,109.2 446.4,109.2 446.5,107.7 446.6,108.0 446.6,108.4 446.7,106.9 446.7,106.3 446.8,105.1 446.9,104.8 446.9,104.5 447.0,104.6 447.1,103.6 447.1,103.7 447.2,103.8 447.2,102.9 447.3,103.7 447.4,103.3 447.4,103.9 447.5,103.6 447.6,102.9 447.6,102.7 447.7,103.3 447.7,104.6 447.8,104.3 447.9,105.1 447.9,105.7 448.0,105.6 448.1,105.8 448.1,105.8 448.2,107.7 448.2,107.4 448.3,107.3 448.4,108.3 448.4,108.5 448.5,108.3 448.6,109.7 448.6,108.4 448.7,109.4 448.7,108.6 448.8,108.5 448.9,108.4 448.9,108.0 449.0,108.1 449.1,108.6 449.1,107.5 449.2,106.9 449.2,106.9 449.3,105.7 449.4,105.3 449.4,104.7 449.5,104.0 449.5,104.3 449.6,103.4 449.7,104.2 449.7,102.8 449.8,102.4 449.9,102.6 449.9,102.3 450.0,103.0 450.0,103.2 450.1,102.7 450.2,104.1 450.2,103.4 450.3,104.8 450.4,103.9 450.4,104.7 450.5,105.0 450.5,106.7 450.6,106.7 450.7,106.9 450.7,107.6 450.8,107.2 450.9,108.8 450.9,108.9 451.0,109.6 451.0,108.5 451.1,109.2 451.2,109.0 451.2,108.7 451.3,109.9 451.4,108.7 451.4,108.3 451.5,107.3 451.5,108.5 451.6,108.0 451.7,107.2 451.7,106.1 451.8,106.4 451.9,104.5 451.9,104.4 452.0,105.3 452.0,103.8 452.1,103.8 452.2,103.9 452.2,102.6 452.3,102.5 452.4,102.6 452.4,103.0 452.5,103.1 452.5,103.6 452.6,103.8 452.7,103.4 452.7,104.1 452.8,104.5 452.9,104.0 452.9,105.5 453.0,106.0 453.0,106.1 453.1,106.6 453.2,106.7 453.2,108.1 453.3,108.6 453.4,109.1 453.4,108.5 453.5,107.8 453.5,108.7 453.6,108.4 453.7,108.8 453.7,109.5 453.8,109.1 453.9,109.0 453.9,108.9 454.0,107.9 454.0,107.5 454.1,107.3 454.2,107.6 454.2,106.0 454.3,105.5 454.4,105.4 454.4,104.7 454.5,103.9 454.5,104.2 454.6,104.0 454.7,102.7 454.7,102.6 454.8,102.2 454.9,102.9 454.9,101.5 455.0,102.6 455.0,102.2 455.1,102.0 455.2,103.2 455.2,103.7 455.3,103.8 455.4,104.7 455.4,105.4 455.5,104.8 455.5,105.7 455.6,107.4 455.7,106.9 455.7,107.7 455.8,107.4 455.8,108.3 455.9,109.3 456.0,108.6 456.0,108.2 456.1,108.9 456.2,108.5 456.2,109.9 456.3,109.5 456.3,108.3 456.4,108.9 456.5,108.5 456.5,107.9 456.6,107.6 456.7,106.6 456.7,106.0 456.8,105.6 456.8,105.1 456.9,104.6 457.0,103.5 457.0,104.1 457.1,103.9 457.2,102.2 457.2,102.4 457.3,102.2 457.3,101.9 457.4,102.2 457.5,102.6 457.5,102.5 457.6,103.2 457.7,103.8 457.7,104.0 457.8,103.6 457.8,104.8 457.9,105.8 458.0,105.7 458.0,105.6 458.1,105.7 458.2,107.1 458.2,106.7 458.3,108.2 458.3,107.9 458.4,108.4 458.5,108.8 458.5,108.8 458.6,108.8 458.7,109.1 458.7,109.4 458.8,108.2 458.8,108.6 458.9,108.8 459.0,108.6 459.0,108.0 459.1,107.8 459.2,106.7 459.2,106.4 459.3,106.1 459.3,105.0 459.4,104.8 459.5,103.7 459.5,104.4 459.6,104.2 459.7,102.8 459.7,102.3 459.8,102.8 459.8,102.9 459.9,103.4 460.0,102.8 460.0,102.0 460.1,103.3 460.2,103.7 460.2,102.7 460.3,104.4 460.3,105.0 460.4,104.6 460.5,104.7 460.5,105.4 460.6,107.0 460.7,107.4 460.7,107.3 460.8,108.3 460.8,108.1 460.9,108.9 461.0,108.9 461.0,109.5 461.1,109.6 461.2,109.0 461.2,109.4 461.3,109.0 461.3,109.3 461.4,108.2 461.5,107.8 461.5,108.0 461.6,108.4 461.7,107.5 461.7,106.2 461.8,106.0 461.8,104.9 461.9,105.2 462.0,104.4 462.0,104.2 462.1,103.2 462.1,103.3 462.2,102.6 462.3,102.3 462.3,102.4 462.4,102.4 462.5,103.4 462.5,102.3 462.6,103.4 462.6,103.6 462.7,102.9 462.8,103.0 462.8,104.1 462.9,105.5 463.0,104.7 463.0,106.9 463.1,107.4 463.1,106.7 463.2,107.1 463.3,107.9 463.3,107.8 463.4,108.4 463.5,109.6 463.5,109.2 463.6,108.7 463.6,109.2 463.7,108.9 463.8,109.1 463.8,109.7 463.9,107.9 464.0,108.7 464.0,108.6 464.1,107.9 464.1,107.1 464.2,106.6 464.3,106.4 464.3,105.8 464.4,104.8 464.5,105.1 464.5,104.1 464.6,104.3 464.6,103.5 464.7,103.5 464.8,102.0 464.8,102.2 464.9,101.7 465.0,102.0 465.0,102.5 465.1,102.8 465.1,103.0 465.2,103.4 465.3,103.3 465.3,104.7 465.4,104.2 465.5,104.4 465.5,105.2 465.6,106.2 465.6,106.7 465.7,107.0 465.8,108.2 465.8,107.9 465.9,109.6 466.0,109.6 466.0,109.0 466.1,108.8 466.1,110.0 466.2,109.0 466.3,108.9 466.3,109.6 466.4,109.5 466.5,108.4 466.5,107.3 466.6,106.4 466.6,106.8 466.7,106.7 466.8,105.3 466.8,106.1 466.9,105.0 467.0,104.4 467.0,104.4 467.1,104.0 467.1,103.1 467.2,102.1 467.3,102.8 467.3,103.3 467.4,102.6 467.5,102.4 467.5,102.7 467.6,101.9 467.6,103.1 467.7,103.0 467.8,103.4 467.8,104.7 467.9,105.0 468.0,105.3 468.0,106.4 468.1,106.9 468.1,107.7 468.2,108.1 468.3,108.7 468.3,108.7 468.4,109.5 468.5,108.4 468.5,109.5 468.6,110.1 468.6,109.1 468.7,108.8 468.8,108.3 468.8,109.3 468.9,108.9 468.9,108.0 469.0,107.8 469.1,107.3 469.1,106.2 469.2,105.4 469.3,106.5 469.3,105.8 469.4,104.1 469.4,105.3 469.5,104.1 469.6,102.9 469.6,103.7 469.7,102.9 469.8,102.0 469.8,102.6 469.9,103.2 469.9,103.0 470.0,102.7 470.1,103.7 470.1,102.8 470.2,104.0 470.3,103.9 470.3,103.7 470.4,104.7 470.4,104.9 470.5,106.3 470.6,106.8 470.6,107.0 470.7,107.7 470.8,107.3 470.8,108.7 470.9,108.1 470.9,109.2 471.0,109.2 471.1,108.7 471.1,108.6 471.2,109.6 471.3,108.6 471.3,108.9 471.4,108.3 471.4,108.6 471.5,107.4 471.6,108.4 471.6,106.2 471.7,106.1 471.8,105.6 471.8,106.1 471.9,104.7 471.9,104.9 472.0,103.4 472.1,103.3 472.1,103.8 472.2,102.4 472.3,102.3 472.3,102.7 472.4,102.1 472.4,102.1 472.5,102.9 472.6,102.7 472.6,102.8 472.7,103.0 472.8,103.4 472.8,105.0 472.9,104.4 472.9,104.9 473.0,105.7 473.1,105.6 473.1,107.3 473.2,108.3 473.3,108.0 473.3,108.7 473.4,109.2 473.4,109.0 473.5,108.3 473.6,109.0 473.6,108.5 473.7,109.5 473.8,109.2 473.8,109.5 473.9,109.6 473.9,108.0 474.0,107.9 474.1,107.6 474.1,106.5 474.2,106.1 474.3,106.2 474.3,104.7 474.4,104.5 474.4,105.1 474.5,103.2 474.6,103.9 474.6,102.7 474.7,102.4 474.8,101.9 474.8,103.0 474.9,102.1 474.9,102.7 475.0,102.2 475.1,103.4 475.1,102.3 475.2,102.8 475.2,103.7 475.3,104.3 475.4,104.7 475.4,104.7 475.5,106.8 475.6,106.1 475.6,107.4 475.7,107.6 475.7,107.3 475.8,108.8 475.9,109.4 475.9,108.8 476.0,109.0 476.1,109.7 476.1,109.1 476.2,109.7 476.2,110.1 476.3,109.1 476.4,109.2 476.4,108.1 476.5,108.1 476.6,107.8 476.6,106.2 476.7,106.4 476.7,106.6 476.8,104.5 476.9,104.6 476.9,103.4 477.0,103.7 477.1,103.4 477.1,103.2 477.2,102.3 477.2,103.0 477.3,101.9 477.4,102.9 477.4,102.1 477.5,102.3 477.6,102.6 477.6,103.6 477.7,102.7 477.7,104.1 477.8,104.9 477.9,104.7 477.9,106.0 478.0,105.6 478.1,106.0 478.1,107.2 478.2,107.8 478.2,108.5 478.3,108.2 478.4,108.4 478.4,108.2 478.5,109.3 478.6,109.8 478.6,109.0 478.7,108.7 478.7,108.6 478.8,108.9 478.9,109.0 478.9,107.8 479.0,107.3 479.1,107.8 479.1,106.4 479.2,106.1 479.2,105.0 479.3,105.7 479.4,105.0 479.4,104.9 479.5,104.2 479.6,102.8 479.6,103.3 479.7,102.0 479.7,102.7 479.8,102.0 479.9,102.8 479.9,102.4 480.0,102.6 480.1,103.2 480.1,103.5 480.2,103.8 480.2,104.4 480.3,103.7 480.4,104.2 480.4,104.8 480.5,106.8 480.6,105.8 480.6,106.4 480.7,106.9 480.7,107.9 480.8,109.0 480.9,108.9 480.9,109.4 481.0,109.5 481.1,110.2 481.1,108.5 481.2,109.6 481.2,108.8 481.3,109.7 481.4,108.3 481.4,107.9 481.5,108.5 481.6,108.0 481.6,106.6 481.7,107.1 481.7,106.8 481.8,106.0 481.9,105.4 481.9,104.0 482.0,103.6 482.0,103.1 482.1,103.6 482.2,102.1 482.2,102.2 482.3,103.2 482.4,102.8 482.4,102.4 482.5,102.5 482.5,103.1 482.6,103.2 482.7,103.7 482.7,104.0 482.8,104.7 482.9,104.3 482.9,104.8 483.0,106.0 483.0,105.7 483.1,106.5 483.2,107.2 483.2,107.9 483.3,108.1 483.4,107.9 483.4,108.4 483.5,109.9 483.5,109.8 483.6,108.5 483.7,108.7 483.7,109.2 483.8,109.1 483.9,107.8 483.9,109.1 484.0,108.6 484.0,108.0 484.1,106.3 484.2,106.0 484.2,105.6 484.3,105.7 484.4,105.2 484.4,105.1 484.5,104.4 484.5,104.0 484.6,103.2 484.7,103.1 484.7,101.7 484.8,101.9 484.9,102.5 484.9,103.1 485.0,102.7 485.0,103.5 485.1,103.1 485.2,103.7 485.2,103.2 485.3,104.9 485.4,104.0 485.4,105.3 485.5,105.9 485.5,106.6 485.6,106.6 485.7,108.1 485.7,108.6 485.8,109.3 485.9,108.8 485.9,108.7 486.0,109.1 486.0,108.6 486.1,109.2 486.2,109.3 486.2,109.4 486.3,109.6 486.4,108.5 486.4,108.7 486.5,108.8 486.5,108.3 486.6,107.3 486.7,106.2 486.7,106.5 486.8,105.6 486.9,105.2 486.9,103.6 487.0,104.2 487.0,103.7 487.1,103.7 487.2,102.9 487.2,102.7 487.3,101.7 487.4,101.6 487.4,102.8 487.5,101.8 487.5,103.4 487.6,103.0 487.7,102.9 487.7,104.7 487.8,103.4 487.9,104.9 487.9,105.5 488.0,105.3 488.0,106.0 488.1,107.5 488.2,107.3 488.2,107.6 488.3,108.5 488.3,107.8 488.4,109.7 488.5,108.6 488.5,109.0 488.6,109.4 488.7,109.0 488.7,109.4 488.8,109.0 488.8,109.4 488.9,108.0 489.0,108.2 489.0,107.8 489.1,106.3 489.2,106.6 489.2,105.1 489.3,105.6 489.3,104.6 489.4,104.2 489.5,103.9 489.5,102.6 489.6,102.8 489.7,102.1 489.7,102.5 489.8,103.3 489.8,102.8 489.9,103.2 490.0,102.3 490.0,102.2 490.1,103.0 490.2,103.3 490.2,104.3 490.3,104.6 490.3,105.5 490.4,105.4 490.5,105.9 490.5,106.0 490.6,107.2 490.7,106.6 490.7,108.6 490.8,108.8 490.8,108.3 490.9,109.1 491.0,109.6 491.0,109.5 491.1,109.5 491.2,108.8 491.2,109.8 491.3,109.4 491.3,108.4 491.4,108.2 491.5,107.9 491.5,107.8 491.6,107.2 491.7,105.9 491.7,105.1 491.8,105.9 491.8,104.2 491.9,104.6 492.0,103.8 492.0,104.0 492.1,104.0 492.2,103.4 492.2,103.2 492.3,102.5 492.3,102.6 492.4,102.0 492.5,103.0 492.5,102.5 492.6,103.6 492.7,103.6 492.7,104.4 492.8,103.9 492.8,105.0 492.9,105.2 493.0,106.0 493.0,106.7 493.1,107.2 493.2,107.2 493.2,108.1 493.3,108.7 493.3,109.6 493.4,109.1 493.5,109.2 493.5,109.5 493.6,110.0 493.7,108.5 493.7,109.1 493.8,109.5 493.8,108.1 493.9,109.0 494.0,107.4 494.0,107.0 494.1,107.7 494.2,105.4 494.2,105.3 494.3,105.8 494.3,104.6 494.4,104.1 494.5,104.6 494.5,104.1 494.6,103.4 494.7,102.6 494.7,102.4 494.8,101.7 494.8,102.6 494.9,102.4 495.0,102.7 495.0,103.3 495.1,102.8 495.1,103.3 495.2,103.4 495.3,105.2 495.3,105.0 495.4,105.1 495.5,105.8 495.5,105.7 495.6,107.1 495.6,107.7 495.7,108.4 495.8,108.3 495.8,109.0 495.9,108.7 496.0,109.2 496.0,110.0 496.1,109.8 496.1,109.2 496.2,108.7 496.3,108.4 496.3,108.5 496.4,109.1 496.5,108.5 496.5,106.7 496.6,106.7 496.6,107.0 496.7,105.9 496.8,106.1 496.8,104.2 496.9,103.8 497.0,103.4 497.0,103.4 497.1,103.3 497.1,102.0 497.2,102.8 497.3,102.2 497.3,102.8 497.4,103.0 497.5,102.4 497.5,103.0 497.6,102.8 497.6,103.4 497.7,103.2 497.8,103.9 497.8,104.8 497.9,105.4 498.0,106.2 498.0,106.9 498.1,106.1 498.1,107.3 498.2,107.6 498.3,108.2 498.3,109.2 498.4,108.7 498.5,109.5 498.5,108.8 498.6,110.0 498.6,109.7 498.7,108.9 498.8,108.4 498.8,109.0 498.9,107.7 499.0,107.6 499.0,107.7 499.1,107.9 499.1,105.5 499.2,105.6 499.3,104.9 499.3,105.1 499.4,104.9 499.5,103.8 499.5,103.2 499.6,103.3 499.6,102.1 499.7,102.5 499.8,103.0 499.8,102.8 499.9,101.8 500.0,102.2 500.0,102.6 500.1,103.7 500.1,103.1 500.2,103.6 500.3,104.3 500.3,104.5 500.4,105.6 500.5,105.4 500.5,107.4 500.6,107.4 500.6,107.3 500.7,108.2 500.8,107.9 500.8,108.4 500.9,108.6 501.0,109.3 501.0,109.2 501.1,109.3 501.1,109.7 501.2,109.7 501.3,109.2 501.3,108.4 501.4,108.0 501.4,108.2 501.5,108.0 501.6,107.7 501.6,107.2 501.7,106.3 501.8,105.1 501.8,104.1 501.9,104.3 501.9,104.3 502.0,103.3 502.1,103.6 502.1,103.5 502.2,103.5 502.3,102.5 502.3,102.2 502.4,102.9 502.4,102.1 502.5,103.2 502.6,103.4 502.6,103.4 502.7,104.7 502.8,104.5 502.8,104.8 502.9,105.0 502.9,105.4 503.0,106.3 503.1,107.8 503.1,108.2 503.2,107.3 503.3,109.1 503.3,109.2 503.4,108.3 503.4,109.6 503.5,108.5 503.6,109.2 503.6,109.5 503.7,109.4 503.8,108.7 503.8,108.3 503.9,108.6 503.9,108.2 504.0,107.7 504.1,106.5 504.1,106.9 504.2,106.1 504.3,104.6 504.3,104.6 504.4,104.0 504.4,103.5 504.5,103.3 504.6,103.2 504.6,102.5 504.7,102.1 504.8,103.0 504.8,102.9 504.9,102.7 504.9,102.4 505.0,102.9 505.1,103.1 505.1,103.7 505.2,103.0 505.3,105.2 505.3,105.3 505.4,104.8 505.4,105.8 505.5,106.7 505.6,106.2 505.6,108.2 505.7,108.9 505.8,107.6 505.8,107.9 505.9,109.1 505.9,109.3 506.0,108.9 506.1,109.8 506.1,109.6 506.2,109.6 506.3,109.2 506.3,109.3 506.4,108.5 506.4,108.1 506.5,106.6 506.6,107.4 506.6,106.1 506.7,106.4 506.8,105.5 506.8,105.4 506.9,103.5 506.9,104.6 507.0,103.5 507.1,102.6 507.1,102.2 507.2,102.3 507.3,103.0 507.3,102.0 507.4,102.4 507.4,102.7 507.5,102.3 507.6,103.7 507.6,103.0 507.7,103.4 507.8,103.8 507.8,105.1 507.9,104.9 507.9,106.1 508.0,106.7 508.1,106.4 508.1,106.9 508.2,108.4 508.2,108.3 508.3,108.4 508.4,108.8 508.4,109.7 508.5,109.4 508.6,109.0 508.6,108.9 508.7,109.7 508.7,109.4 508.8,108.3 508.9,108.5 508.9,108.2 509.0,107.8 509.1,107.3 509.1,107.2 509.2,105.9 509.2,105.2 509.3,103.1 509.4,102.3 509.4,100.2 509.5,97.1 509.6,96.2 509.6,94.1 509.7,93.4 509.7,91.0 509.8,91.0 509.9,88.6 509.9,88.3 510.0,87.6 510.1,88.0 510.1,87.1 510.2,86.7 510.2,87.4 510.3,87.2 510.4,88.3 510.4,87.9 510.5,87.5 510.6,87.3 510.6,87.6 510.7,87.1 510.7,87.1 510.8,87.2 510.9,86.7 510.9,86.8 511.0,87.0 511.1,86.8 511.1,86.6 511.2,86.4 511.2,86.8 511.3,86.5 511.4,86.8 511.4,86.3 511.5,86.7 511.6,86.1 511.6,86.1 511.7,85.7 511.7,85.4 511.8,84.9 511.9,84.3 511.9,83.6 512.0,82.7 512.1,81.9 512.1,80.8 512.2,79.6 512.2,78.6 512.3,77.6 512.4,76.6 512.4,75.4 512.5,74.5 512.6,73.9 512.6,72.8 512.7,71.7 512.7,71.2 512.8,70.2 512.9,69.4 512.9,68.7 513.0,68.1 513.1,67.3 513.1,66.9 513.2,66.1 513.2,65.8 513.3,65.4 513.4,64.8 513.4,64.3 513.5,63.8 513.6,63.7 513.6,63.4 513.7,63.2 513.7,62.9 513.8,62.8 513.9,62.4 513.9,62.1 514.0,62.1 514.1,62.2 514.1,62.2 514.2,61.6 514.2,61.4 514.3,60.7 514.4,60.1 514.4,59.7 514.5,59.6 514.5,59.1 514.6,59.2 514.7,58.9 514.7,59.0 514.8,59.4 514.9,59.1 514.9,59.7 515.0,59.5 515.0,60.4 515.1,60.4 515.2,61.1 515.2,61.4 515.3,62.0 515.4,62.2 515.4,63.0 515.5,63.3 515.5,63.7 515.6,64.6 515.7,64.7 515.7,65.4 515.8,65.4 515.9,65.6 515.9,66.3 516.0,66.1 516.0,66.4 516.1,66.6 516.2,66.3 516.2,66.6 516.3,66.6 516.4,66.5 516.4,66.0 516.5,65.8 516.5,66.0 516.6,65.8 516.7,65.5 516.7,65.2 516.8,65.5 516.9,65.0 516.9,64.7 517.0,65.0 517.0,64.9 517.1,64.6 517.2,64.9 517.2,65.0 517.3,64.9 517.4,65.2 517.4,65.3 517.5,65.7 517.5,65.8 517.6,66.2 517.7,66.3 517.7,66.8 517.8,66.8 517.9,67.4 517.9,67.5 518.0,68.1 518.0,68.2 518.1,68.7 518.2,68.8 518.2,69.0 518.3,69.5 518.4,69.5 518.4,69.4 518.5,69.9 518.5,69.8 518.6,69.6 518.7,69.9 518.7,70.1 518.8,69.7 518.9,69.7 518.9,69.3 519.0,69.4 519.0,69.2 519.1,69.3 519.2,68.8 519.2,68.7 519.3,69.0 519.4,68.6 519.4,68.4 519.5,68.4 519.5,68.2 519.6,68.6 519.7,68.4 519.7,68.4 519.8,68.6 519.9,68.4 519.9,68.6 520.0,68.6 520.0,68.7 520.1,68.8 520.2,69.3 520.2,69.5 520.3,69.3 520.4,69.5 520.4,70.0 520.5,70.2 520.5,70.1 520.6,70.4 520.7,70.2 520.7,70.7 520.8,70.4 520.8,70.6 520.9,70.7 521.0,70.7 521.0,70.7 521.1,70.9 521.2,70.8 521.2,71.0 521.3,70.9 521.3,70.4 521.4,70.4 521.5,70.3 521.5,70.6 521.6,70.2 521.7,70.1 521.7,70.1 521.8,70.1 521.8,69.8 521.9,70.1 522.0,69.8 522.0,69.9 522.1,69.7 522.2,69.6 522.2,69.7 522.3,69.5 522.3,69.5 522.4,69.6 522.5,69.6 522.5,69.8 522.6,70.0 522.7,69.8 522.7,70.3 522.8,70.1 522.8,70.2 522.9,70.6 523.0,70.6 523.0,70.4 523.1,70.4 523.2,70.8 523.2,70.7 523.3,70.7 523.3,70.8 523.4,70.9 523.5,70.8 523.5,70.8 523.6,70.7 523.7,70.8 523.7,70.8 523.8,71.0 523.8,70.9 523.9,70.5 524.0,70.8 524.0,70.6 524.1,70.3 524.2,70.6 524.2,70.3 524.3,70.5 524.3,70.2 524.4,70.1 524.5,70.0 524.5,70.0 524.6,70.1 524.7,70.1 524.7,70.3 524.8,70.3 524.8,70.0 524.9,70.4 525.0,69.9 525.0,70.4 525.1,70.1 525.2,70.3 525.2,70.3 525.3,70.2 525.3,70.6 525.4,70.3 525.5,70.4 525.5,70.6 525.6,70.6 525.7,70.7 525.7,70.5 525.8,70.8 525.8,70.9 525.9,70.8 526.0,70.6 526.0,70.6 526.1,70.7 526.2,70.8 526.2,70.6 526.3,70.7 526.3,70.5 526.4,70.5 526.5,70.5 526.5,70.3 526.6,70.5 526.7,70.2 526.7,70.4 526.8,70.6 526.8,70.3 526.9,70.2 527.0,70.4 527.0,70.5 527.1,70.4 527.2,70.1 527.2,70.4 527.3,70.6 527.3,70.1 527.4,70.0 527.5,70.1 527.5,70.2 527.6,70.2 527.6,70.4 527.7,70.3 527.8,70.3 527.8,70.6 527.9,70.7 528.0,70.4 528.0,70.5 528.1,70.3 528.1,70.7 528.2,70.7 528.3,70.9 528.3,71.0 528.4,70.9 528.5,70.6 528.5,70.4 528.6,70.9 528.6,70.9 528.7,70.6 528.8,70.8 528.8,70.9 528.9,70.4 529.0,70.8 529.0,70.6 529.1,70.4 529.1,70.4 529.2,70.2 529.3,70.4 529.3,70.6 529.4,70.7 529.5,70.3 529.5,70.4 529.6,70.5 529.6,70.6 529.7,70.5 529.8,70.5 529.8,70.5 529.9,70.5 530.0,70.3 530.0,70.4 530.1,70.2 530.1,70.4 530.2,70.6 530.3,70.3 530.3,70.4 530.4,70.3 530.5,70.7 530.5,70.3 530.6,70.5 530.6,70.7 530.7,70.7 530.8,70.8 530.8,70.9 530.9,70.8 531.0,70.7 531.0,70.6 531.1,70.7 531.1,70.9 531.2,70.8 531.3,70.9 531.3,70.8 531.4,70.7 531.5,70.5 531.5,70.7 531.6,70.3 531.6,70.3 531.7,70.4 531.8,70.7 531.8,70.7 531.9,70.5 532.0,70.2 532.0,70.2 532.1,70.3 532.1,70.2 532.2,70.7 532.3,70.4 532.3,70.5 532.4,70.6 532.5,70.4 532.5,70.4 532.6,70.2 532.6,70.7 532.7,70.6 532.8,70.7 532.8,70.7 532.9,70.6 533.0,70.6 533.0,70.3 533.1,70.7 533.1,70.6 533.2,70.8 533.3,70.7 533.3,70.7 533.4,70.6 533.5,70.7 533.5,70.7 533.6,70.6 533.6,70.9 533.7,70.4 533.8,70.8 533.8,70.6 533.9,70.3 533.9,70.7 534.0,70.8 534.1,70.5 534.1,70.5 534.2,70.6 534.3,70.7 534.3,70.4 534.4,70.4 534.4,70.6 534.5,70.4 534.6,70.3 534.6,70.5 534.7,70.5 534.8,70.4 534.8,70.5 534.9,70.7 534.9,70.3 535.0,70.7 535.1,70.4 535.1,70.5 535.2,70.3 535.3,70.5 535.3,70.3 535.4,70.5 535.4,70.7 535.5,70.4 535.6,70.4 535.6,70.5 535.7,70.3 535.8,70.4 535.8,70.3 535.9,70.7 535.9,70.3 536.0,70.4 536.1,70.3 536.1,70.6 536.2,70.5 536.3,70.3 536.3,70.5 536.4,70.7 536.4,70.7 536.5,70.3 536.6,70.4 536.6,70.8 536.7,70.7 536.8,70.5 536.8,70.7 536.9,70.5 536.9,70.4 537.0,70.7 537.1,70.6 537.1,70.3 537.2,70.7 537.3,70.7 537.3,70.3 537.4,70.4 537.4,70.5 537.5,70.3 537.6,70.7 537.6,70.8 537.7,70.3 537.8,70.4 537.8,70.6 537.9,70.5 537.9,70.8 538.0,70.6 538.1,70.5 538.1,70.4 538.2,70.6 538.3,70.8 538.3,70.8 538.4,70.7 538.4,70.5 538.5,70.4 538.6,70.4 538.6,70.3 538.7,70.4 538.8,70.4 538.8,70.5 538.9,70.4 538.9,70.4 539.0,70.3 539.1,70.7 539.1,70.4 539.2,70.7 539.3,70.7 539.3,70.3 539.4,70.6 539.4,70.5 539.5,70.7 539.6,70.5 539.6,70.8 539.7,70.5 539.8,70.3 539.8,70.4 539.9,70.4 539.9,70.5 540.0,70.6 540.1,70.4 540.1,70.6 540.2,70.6 540.3,70.5 540.3,70.3 540.4,70.4 540.4,70.4 540.5,70.7 540.6,70.4 540.6,70.6 540.7,70.5 540.7,70.5 540.8,70.4 540.9,70.8 540.9,70.8 541.0,70.7 541.1,70.7 541.1,70.4 541.2,70.7 541.2,70.8 541.3,70.5 541.4,70.8 541.4,70.4 541.5,70.6 541.6,70.6 541.6,70.5 541.7,70.3 541.7,70.6 541.8,70.7 541.9,70.6 541.9,70.4 542.0,70.3 542.1,70.7 542.1,70.8 542.2,70.6 542.2,70.6 542.3,70.4 542.4,70.4 542.4,70.4 542.5,70.6 542.6,70.6 542.6,70.3 542.7,70.8 542.7,70.8 542.8,70.8 542.9,70.4 542.9,70.5 543.0,70.4 543.1,70.4 543.1,70.4 543.2,70.5 543.2,70.6 543.3,70.7 543.4,70.6 543.4,70.7 543.5,70.3 543.6,70.4 543.6,70.7 543.7,70.5 543.7,70.5 543.8,70.5 543.9,70.3 543.9,70.7 544.0,70.5 544.1,70.5 544.1,70.3 544.2,70.7 544.2,70.4 544.3,70.7 544.4,70.5 544.4,70.3 544.5,70.4 544.6,70.8 544.6,70.3 544.7,70.5 544.7,70.5 544.8,70.3 544.9,70.5 544.9,70.7 545.0,70.6 545.1,70.4 545.1,70.6 545.2,70.7 545.2,70.6 545.3,70.7 545.4,70.7 545.4,70.7 545.5,70.5 545.6,70.6 545.6,70.7 545.7,70.4 545.7,70.5 545.8,70.4 545.9,70.7 545.9,70.5 546.0,70.7 546.1,70.5 546.1,70.6 546.2,70.5 546.2,70.5 546.3,70.3 546.4,70.5 546.4,70.6 546.5,70.4 546.6,70.7 546.6,70.4 546.7,70.5 546.7,70.7 546.8,70.4 546.9,70.7 546.9,70.8 547.0,70.6 547.0,70.5 547.1,70.4 547.2,70.6 547.2,70.5 547.3,70.3 547.4,70.2 547.4,70.4 547.5,70.6 547.5,70.5 547.6,70.4 547.7,70.3 547.7,70.3 547.8,70.6 547.9,70.6 547.9,70.6 548.0,70.4 548.0,70.3 548.1,70.5 548.2,70.6 548.2,70.4 548.3,70.6 548.4,70.5 548.4,70.7 548.5,70.7 548.5,70.6 548.6,70.7 548.7,70.7 548.7,70.3 548.8,70.4 548.9,70.6 548.9,70.3 549.0,70.7 549.0,70.6 549.1,70.3 549.2,70.3 549.2,70.4 549.3,70.7 549.4,70.5 549.4,70.8 549.5,70.8 549.5,70.3 549.6,70.8 549.7,70.7 549.7,70.7 549.8,70.4 549.9,70.5 549.9,70.7 550.0,70.6 550.0,70.3 550.1,70.7 550.2,70.8 550.2,70.4 550.3,70.7 550.4,70.5 550.4,70.7 550.5,70.8 550.5,70.4 550.6,70.4 550.7,70.6 550.7,70.7 550.8,70.3 550.9,70.7 550.9,70.7 551.0,70.6 551.0,70.7 551.1,70.7 551.2,70.3 551.2,70.8 551.3,70.3 551.4,70.5 551.4,70.8 551.5,70.7 551.5,70.4 551.6,70.5 551.7,70.7 551.7,70.6 551.8,70.3 551.9,70.4 551.9,70.4 552.0,70.3 552.0,70.7 552.1,70.6 552.2,70.3 552.2,70.6 552.3,70.6 552.4,70.4 552.4,70.2 552.5,70.3 552.5,70.4 552.6,70.6 552.7,70.4 552.7,70.7 552.8,70.7 552.9,70.7 552.9,70.4 553.0,70.3 553.0,70.4 553.1,70.7 553.2,70.4 553.2,70.6 553.3,70.3 553.4,70.5 553.4,70.7 553.5,70.6 553.5,70.8 553.6,70.6 553.7,70.6 553.7,70.5 553.8,70.4 553.8,70.3 553.9,70.4 554.0,70.5 554.0,70.6 554.1,70.7 554.2,70.5 554.2,70.8 554.3,70.8 554.3,70.4 554.4,70.7 554.5,70.3 554.5,70.4 554.6,70.5 554.7,70.3 554.7,70.7 554.8,70.6 554.8,70.5 554.9,70.3 555.0,70.8 555.0,70.5 555.1,70.3 555.2,70.7 555.2,70.4 555.3,70.4 555.3,70.6 555.4,70.5 555.5,70.3 555.5,70.5 555.6,70.5 555.7,70.5 555.7,70.8 555.8,70.4 555.8,70.8 555.9,70.3 556.0,70.3 556.0,70.4 556.1,70.3 556.2,70.5 556.2,70.6 556.3,70.5 556.3,70.4 556.4,70.7 556.5,70.4 556.5,70.6 556.6,70.5 556.7,70.7 556.7,70.6 556.8,70.3 556.8,70.4 556.9,70.8 557.0,70.4 557.0,70.3 557.1,70.4 557.2,70.4 557.2,70.7 557.3,70.4 557.3,70.6 557.4,70.3 557.5,70.4 557.5,70.6 557.6,70.3 557.7,70.4 557.7,70.7 557.8,70.7 557.8,70.8 557.9,70.4 558.0,70.8 558.0,70.6 558.1,70.4 558.2,70.6 558.2,70.6 558.3,70.8 558.3,70.8 558.4,70.5 558.5,70.7 558.5,70.3 558.6,70.8 558.7,70.6 558.7,70.7 558.8,70.3 558.8,70.4 558.9,70.7 559.0,70.8 559.0,70.8 559.1,70.4 559.2,70.0 559.2,69.2 559.3,68.0 559.3,66.6 559.4,65.0 559.5,63.8 559.5,62.0 559.6,60.7 559.7,59.5 559.7,58.7 559.8,57.7 559.8,56.4 559.9,55.6 560.0,55.0 560.0,54.4 560.1,54.0 560.1,53.3 560.2,53.0 560.3,50.8 560.3,51.7 560.4,52.3 560.5,53.1 560.5,52.9 560.6,54.4 560.6,54.6 560.7,55.5 560.8,55.4 560.8,55.7 560.9,55.6 561.0,55.4 561.0,56.1 561.1,55.6 561.1,55.3 561.2,54.4 561.3,54.1 561.3,52.6 561.4,52.1 561.5,50.8 561.5,50.3 561.6,48.8 561.6,47.1 561.7,46.0 561.8,44.7 561.8,42.4 561.9,41.7 562.0,40.2 562.0,38.8 562.1,37.2 562.1,35.9 562.2,35.4 562.3,33.6 562.3,33.5 562.4,32.6 562.5,32.3 562.5,31.4 562.6,31.0 562.6,31.4 562.7,31.7 562.8,31.5 562.8,32.2 562.9,31.5 563.0,32.4 563.0,33.3 563.1,33.3 563.1,33.1 563.2,33.0 563.3,33.6 563.3,33.0 563.4,32.2 563.5,32.5 563.5,31.8 563.6,31.9 563.6,31.1 563.7,30.4 563.8,29.7 563.8,27.8 563.9,27.3 564.0,26.4 564.0,25.1 564.1,24.1 564.1,22.8 564.2,20.5 564.3,19.0 564.3,17.5 564.4,16.8 564.5,16.4 564.5,14.5 564.6,15.1 564.6,14.7 564.7,13.9 564.8,14.0 564.8,14.4 564.9,15.0 565.0,16.0 565.0,17.7 565.1,17.9 565.1,19.5 565.2,21.1 565.3,21.9 565.3,23.2 565.4,25.6 565.5,26.3 565.5,27.9 565.6,28.9 565.6,30.4 565.7,30.4 565.8,32.0 565.8,32.0 565.9,33.1 566.0,33.2 566.0,32.5 566.1,32.8 566.1,31.3 566.2,30.7 566.3,30.5 566.3,29.6 566.4,29.1 566.5,26.9 566.5,26.0 566.6,25.0 566.6,23.2 566.7,22.5 566.8,21.5 566.8,19.9 566.9,19.4 566.9,18.9 567.0,18.3 567.1,18.1 567.1,18.1 567.2,17.0 567.3,17.3 567.3,17.6 567.4,18.5 567.4,19.3 567.5,20.4 567.6,21.4 567.6,22.2 567.7,23.8 567.8,25.5 567.8,25.9 567.9,27.0 567.9,28.2 568.0,30.1 568.1,30.6 568.1,31.4 568.2,32.5 568.3,33.1 568.3,33.4 568.4,33.5 568.4,34.4 568.5,34.1 568.6,33.9 568.6,33.6 568.7,32.7 568.8,31.9 568.8,31.5 568.9,29.9 568.9,29.3 569.0,28.7 569.1,27.4 569.1,25.6 569.2,24.9 569.3,23.3 569.3,22.8 569.4,21.5 569.4,21.6 569.5,20.5 569.6,20.5 569.6,20.5 569.7,20.5 569.8,20.0 569.8,21.4 569.9,20.8 569.9,22.1 570.0,22.4 570.1,23.1 570.1,24.0 570.2,25.3 570.3,26.7 570.3,27.5 570.4,28.4 570.4,29.8 570.5,31.2 570.6,32.5 570.6,33.6 570.7,33.2 570.8,34.0 570.8,34.5 570.9,35.0 570.9,34.6 571.0,35.3 571.1,35.3 571.1,34.6 571.2,33.4 571.3,33.1 571.3,32.0 571.4,32.0 571.4,30.1 571.5,29.2 571.6,28.6 571.6,28.0 571.7,26.3 571.8,25.6 571.8,24.3 571.9,23.4 571.9,22.7 572.0,23.3 572.1,22.1 572.1,22.2 572.2,21.6 572.3,22.0 572.3,22.6 572.4,23.2 572.4,23.5 572.5,24.0 572.6,24.4 572.6,26.4 572.7,26.7 572.8,28.0 572.8,29.6 572.9,30.0 572.9,30.9 573.0,32.5 573.1,33.3 573.1,33.8 573.2,34.1 573.2,34.7 573.3,35.3 573.4,36.1 573.4,35.5 573.5,35.8 573.6,35.8 573.6,35.2 573.7,35.0 573.7,33.7 573.8,33.4 573.9,32.4 573.9,31.1 574.0,30.1 574.1,29.2 574.1,28.6 574.2,27.7 574.2,27.3 574.3,26.0 574.4,25.4 574.4,24.7 574.5,23.7 574.6,23.8 574.6,23.4 574.7,24.2 574.7,23.6 574.8,23.7 574.9,24.1 574.9,25.6 575.0,25.4 575.1,25.9 575.1,27.8 575.2,28.2 575.2,29.9 575.3,30.0 575.4,30.8 575.4,32.5 575.5,33.0 575.6,34.6 575.6,34.6 575.7,35.8 575.7,36.2 575.8,36.3 575.9,37.0 575.9,37.2 576.0,36.9 576.1,36.8 576.1,36.8 576.2,36.1 576.2,35.1 576.3,34.3 576.4,34.1 576.4,32.7 576.5,31.5 576.6,31.2 576.6,30.0 576.7,29.4 576.7,27.9 576.8,27.4 576.9,26.4 576.9,25.8 577.0,25.4 577.1,25.1 577.1,25.3 577.2,24.9 577.2,25.2 577.3,25.3 577.4,25.6 577.4,26.3 577.5,26.5 577.6,27.3 577.6,29.0 577.7,29.4 577.7,30.3 577.8,31.5 577.9,32.5 577.9,33.2 578.0,34.1 578.1,35.3 578.1,35.5 578.2,36.1 578.2,36.9 578.3,37.1 578.4,37.6 578.4,37.7 578.5,37.4 578.6,37.2 578.6,37.0 578.7,36.6 578.7,35.8 578.8,35.1 578.9,34.2 578.9,33.8 579.0,32.7 579.1,31.9 579.1,31.1 579.2,29.4 579.2,28.5 579.3,28.2 579.4,27.4 579.4,27.7 579.5,25.8 579.5,26.3 579.6,25.8 579.7,26.2 579.7,26.5 579.8,26.3 579.9,26.3 579.9,26.7 580.0,27.4 580.0,28.6 580.1,29.3 580.2,30.5 580.2,31.6 580.3,32.0 580.4,33.6 580.4,34.4 580.5,35.5 580.5,36.3 580.6,36.5 580.7,37.1 580.7,37.5 580.8,37.9 580.9,38.5 580.9,38.0 581.0,39.0 581.0,38.6 581.1,38.5 581.2,37.0 581.2,37.0 581.3,35.6 581.4,35.3 581.4,34.7 581.5,33.1 581.5,32.4 581.6,31.3 581.7,31.0 581.7,30.0 581.8,29.6 581.9,28.5 581.9,27.9 582.0,27.4 582.0,27.0 582.1,26.7 582.2,26.4 582.2,27.3 582.3,27.3 582.4,26.8 582.4,28.0 582.5,28.0 582.5,28.8 582.6,29.9 582.7,30.9 582.7,31.7 582.8,33.1 582.9,33.4 582.9,34.4 583.0,35.5 583.0,36.9 583.1,37.8 583.2,37.7 583.2,38.3 583.3,38.9 583.4,39.1 583.4,39.2 583.5,38.6 583.5,38.3 583.6,38.1 583.7,38.2 583.7,37.3 583.8,36.5 583.9,36.2 583.9,35.2 584.0,33.6 584.0,33.9 584.1,31.7 584.2,31.6 584.2,30.4 584.3,29.9 584.4,29.3 584.4,28.4 584.5,28.3 584.5,27.9 584.6,27.4 584.7,27.0 584.7,27.8 584.8,27.7 584.9,27.4 584.9,28.1 585.0,28.6 585.0,29.7 585.1,30.3 585.2,31.4 585.2,32.4 585.3,33.2 585.4,34.5 585.4,35.5 585.5,36.4 585.5,37.0 585.6,37.7 585.7,38.0 585.7,38.7 585.8,39.1 585.9,39.2 585.9,40.0 586.0,39.2 586.0,39.5 586.1,38.4 586.2,38.1 586.2,38.2 586.3,37.1 586.3,36.8 586.4,35.8 586.5,34.6 586.5,33.6 586.6,32.7 586.7,32.0 586.7,30.7 586.8,30.1 586.8,29.5 586.9,29.1 587.0,28.6 587.0,28.0 587.1,28.2 587.2,27.4 587.2,27.8 587.3,27.6 587.3,28.6 587.4,29.2 587.5,29.3 587.5,29.8 587.6,31.2 587.7,31.8 587.7,32.5 587.8,33.5 587.8,34.7 587.9,35.8 588.0,36.5 588.0,37.6 588.1,38.0 588.2,38.2 588.2,38.5 588.3,39.8 588.3,39.4 588.4,40.0 588.5,39.3 588.5,39.4 588.6,39.4 588.7,38.0 588.7,38.5 588.8,37.1 588.8,36.8 588.9,35.2 589.0,34.9 589.0,33.6 589.1,33.2 589.2,32.0 589.2,31.0 589.3,30.1 589.3,29.4 589.4,29.2 589.5,28.5 589.5,28.1 589.6,27.5 589.7,27.9 589.7,28.6 589.8,28.5 589.8,28.2 589.9,29.7 590.0,29.9 590.0,30.1 590.1,30.8 590.2,32.0 590.2,33.1 590.3,34.2 590.3,34.5 590.4,35.7 590.5,36.6 590.5,37.4 590.6,37.4 590.7,38.5 590.7,39.0 590.8,39.8 590.8,39.9 590.9,40.1 591.0,40.2 591.0,39.9 591.1,39.4 591.2,38.7 591.2,38.2 591.3,37.2 591.3,37.3 591.4,35.7 591.5,34.3 591.5,34.1 591.6,33.5 591.7,31.5 591.7,31.7 591.8,30.3 591.8,29.6 591.9,28.5 592.0,28.5 592.0,27.9 592.1,28.5 592.2,27.3 592.2,28.2 592.3,28.1 592.3,28.3 592.4,28.9 592.5,29.8 592.5,30.8 592.6,30.8 592.6,32.2 592.7,32.5 592.8,33.8 592.8,35.3 592.9,36.2 593.0,36.5 593.0,37.4 593.1,38.6 593.1,38.2 593.2,38.7 593.3,39.7 593.3,39.3 593.4,39.6 593.5,39.9 593.5,39.4 593.6,39.1 593.6,38.8 593.7,38.8 593.8,36.9 593.8,36.6 593.9,35.8 594.0,34.9 594.0,33.6 594.1,33.4 594.1,31.6 594.2,31.5 594.3,30.1 594.3,29.4 594.4,29.9 594.5,29.1 594.5,28.7 594.6,28.5 594.6,28.3 594.7,27.6 594.8,28.0 594.8,28.5 594.9,29.5 595.0,30.0 595.0,30.5 595.1,31.0 595.1,31.7 595.2,32.7 595.3,34.3 595.3,34.9 595.4,35.9 595.5,36.7 595.5,37.2 595.6,38.3 595.6,38.9 595.7,39.2 595.8,40.0 595.8,39.6 595.9,39.9 596.0,40.5 596.0,39.4 596.1,38.8 596.1,38.7 596.2,38.3 596.3,37.1 596.3,36.8 596.4,36.0 596.5,34.8 596.5,33.6 596.6,33.0 596.6,32.1 596.7,31.8 596.8,30.4 596.8,29.5 596.9,29.6 597.0,29.4 597.0,29.1 597.1,27.6 597.1,27.9 597.2,28.5 597.3,27.8 597.3,28.2 597.4,29.6 597.5,29.9 597.5,30.7 597.6,31.4 597.6,32.1 597.7,32.7 597.8,34.2 597.8,34.7 597.9,36.6 598.0,36.9 598.0,37.7 598.1,38.8 598.1,38.9 598.2,40.0 598.3,39.2 598.3,39.7 598.4,40.1 598.5,40.0 598.5,39.9 598.6,39.2 598.6,39.2 598.7,38.6 598.8,37.1 598.8,36.5 598.9,35.5 599.0,35.7 599.0,34.7 599.1,33.0 599.1,31.6 599.2,32.0 599.3,30.6 599.3,29.9 599.4,29.7 599.4,29.0 599.5,28.5 599.6,28.0 599.6,28.5 599.7,28.5 599.8,28.9 599.8,28.7 599.9,28.9 599.9,29.9 600.0,30.3 600.1,32.0 600.1,32.5 600.2,33.1 600.3,34.3 600.3,35.1 600.4,36.2 600.4,37.0 600.5,37.4 600.6,37.9 600.6,38.6 600.7,39.1 600.8,39.8 600.8,39.5 600.9,39.8 600.9,39.8 601.0,39.6 601.1,39.6 601.1,38.6 601.2,38.4 601.3,37.8 601.3,36.8 601.4,35.6 601.4,35.0 601.5,34.6 601.6,33.6 601.6,32.1 601.7,31.2 601.8,30.8 601.8,30.1 601.9,29.7 601.9,29.3 602.0,28.4 602.1,28.4 602.1,28.2 602.2,28.0 602.3,28.5 602.3,28.7 602.4,29.2 602.4,30.4 602.5,30.3 602.6,31.5 602.6,32.5 602.7,32.7 602.8,33.9 602.8,34.8 602.9,35.4 602.9,37.3 603.0,38.1 603.1,38.1 603.1,39.3 603.2,38.8 603.3,39.0 603.3,39.7 603.4,39.8 603.4,39.9 603.5,39.4 603.6,39.3 603.6,39.3 603.7,38.2 603.8,37.6 603.8,37.2 603.9,36.1 603.9,34.9 604.0,33.6 604.1,33.6 604.1,31.9 604.2,31.3 604.3,30.9 604.3,30.1 604.4,29.4 604.4,29.3 604.5,28.6 604.6,28.5 604.6,28.1 604.7,28.6 604.8,28.6 604.8,29.0 604.9,29.0 604.9,29.8 605.0,30.8 605.1,31.6 605.1,32.4 605.2,33.1 605.3,34.6 605.3,34.8 605.4,36.4 605.4,36.6 605.5,37.9 605.6,38.5 605.6,38.9 605.7,39.3 605.7,40.0 605.8,39.7 605.9,39.3 605.9,39.7 606.0,40.0 606.1,40.1 606.1,38.4 606.2,38.6 606.2,37.4 606.3,36.7 606.4,35.6 606.4,35.0 606.5,34.2 606.6,33.7 606.6,32.8 606.7,32.1 606.7,31.0 606.8,29.5 606.9,29.8 606.9,29.1 607.0,28.6 607.1,28.1 607.1,27.9 607.2,28.2 607.2,28.2 607.3,28.6 607.4,29.3 607.4,29.9 607.5,30.2 607.6,31.6 607.6,32.0 607.7,33.3 607.7,34.5 607.8,34.9 607.9,36.1 607.9,36.7 608.0,37.6 608.1,38.1 608.1,39.0 608.2,40.1 608.2,39.8 608.3,39.6 608.4,40.2 608.4,39.6 608.5,40.2 608.6,39.0 608.6,39.0 608.7,38.3 608.7,37.6 608.8,37.0 608.9,36.4 608.9,34.8 609.0,34.0 609.1,33.1 609.1,32.5 609.2,31.1 609.2,30.3 609.3,30.3 609.4,28.8 609.4,29.2 609.5,28.4 609.6,29.0 609.6,27.9 609.7,28.7 609.7,28.1 609.8,29.1 609.9,29.8 609.9,30.0 610.0,30.5 610.1,31.7 610.1,31.9 610.2,33.0 610.2,34.1 610.3,35.0 610.4,35.8 610.4,37.3 610.5,37.6 610.6,38.4 610.6,38.9 610.7,39.6 610.7,39.9 610.8,40.2 610.9,40.1 610.9,39.8 611.0,39.3 611.1,40.1 611.1,39.0 611.2,38.9 611.2,38.0 611.3,36.8 611.4,36.0 611.4,34.6 611.5,33.8 611.6,33.5 611.6,32.5 611.7,32.0 611.7,31.0 611.8,29.8 611.9,29.1 611.9,28.6 612.0,28.2 612.1,28.5 612.1,27.9 612.2,28.0 612.2,28.0 612.3,29.5 612.4,29.3 612.4,30.1 612.5,30.3 612.5,31.5 612.6,32.6 612.7,32.8 612.7,34.0 612.8,34.6 612.9,35.5 612.9,36.8 613.0,37.1 613.0,38.1 613.1,39.5 613.2,39.5 613.2,39.7 613.3,39.6 613.4,40.1 613.4,39.6 613.5,40.0 613.5,38.7 613.6,38.8 613.7,37.9 613.7,38.0 613.8,36.8 613.9,36.0 613.9,35.1 614.0,34.1 614.0,32.8 614.1,31.9 614.2,31.6 614.2,31.1 614.3,29.7 614.4,28.8 614.4,28.5 614.5,28.6 614.5,28.2 614.6,27.8 614.7,28.1 614.7,28.4 614.8,28.8 614.9,29.2 614.9,29.8 615.0,30.5 615.0,31.6 615.1,32.6 615.2,32.8 615.2,33.8 615.3,35.4 615.4,35.6 615.4,36.6 615.5,38.0 615.5,38.4 615.6,39.3 615.7,39.3 615.7,40.0 615.8,39.6 615.9,39.4 615.9,40.3 616.0,40.2 616.0,39.2 616.1,39.6 616.2,38.4 616.2,37.8 616.3,36.6 616.4,35.9 616.4,35.0 616.5,33.8 616.5,33.2 616.6,32.9 616.7,31.7 616.7,30.6 616.8,30.0 616.9,28.8 616.9,28.6 617.0,28.9 617.0,28.1 617.1,28.6 617.2,28.6 617.2,28.9 617.3,28.5 617.4,29.5 617.4,30.2 617.5,31.1 617.5,32.0 617.6,32.3 617.7,32.8 617.7,34.0 617.8,35.0 617.9,36.1 617.9,36.5 618.0,37.6 618.0,38.3 618.1,39.1 618.2,39.6 618.2,40.1 618.3,39.6 618.4,40.7 618.4,40.2 618.5,39.8 618.5,39.2 618.6,38.5 618.7,37.9 618.7,37.7 618.8,37.1 618.8,36.2 618.9,35.5 619.0,34.4 619.0,32.8 619.1,32.0 619.2,31.1 619.2,30.9 619.3,30.2 619.3,29.1 619.4,29.3 619.5,28.5 619.5,27.9 619.6,28.7 619.7,28.1 619.7,28.4 619.8,28.6 619.8,29.1 619.9,29.9 620.0,31.0 620.0,31.4 620.1,32.7 620.2,33.5 620.2,34.0 620.3,34.9 620.3,36.2 620.4,36.2 620.5,37.1 620.5,37.8 620.6,39.2 620.7,39.0 620.7,39.7 620.8,40.1 620.8,40.2 620.9,39.5 621.0,39.7 621.0,38.9 621.1,39.4 621.2,38.6 621.2,37.5 621.3,36.9 621.3,36.0 621.4,35.6 621.5,34.3 621.5,33.6 621.6,32.8 621.7,30.8 621.7,30.8 621.8,30.1 621.8,29.9 621.9,28.3 622.0,28.0 622.0,28.1 622.1,28.2 622.2,28.0 622.2,28.2 622.3,28.4 622.3,30.0 622.4,30.1 622.5,30.6 622.5,31.6 622.6,32.3 622.7,33.2 622.7,34.0 622.8,35.1 622.8,36.1 622.9,37.4 623.0,37.9 623.0,38.5 623.1,38.3 623.2,39.9 623.2,39.3 623.3,40.1 623.3,40.2 623.4,39.7 623.5,39.9 623.5,39.7 623.6,39.0 623.7,38.4 623.7,37.6 623.8,36.6 623.8,36.5 623.9,34.6 624.0,33.9 624.0,33.5 624.1,32.4 624.2,31.5 624.2,30.1 624.3,29.8 624.3,29.1 624.4,28.4 624.5,28.4 624.5,29.0 624.6,28.1 624.7,28.8 624.7,28.8 624.8,28.7 624.8,29.5 624.9,29.7 625.0,30.2 625.0,31.2 625.1,31.8 625.2,33.4 625.2,34.4 625.3,34.6 625.3,35.9 625.4,37.2 625.5,37.8 625.5,38.4 625.6,39.2 625.6,38.8 625.7,40.0 625.8,40.1 625.8,39.8 625.9,40.1 626.0,39.4 626.0,39.8 626.1,39.2 626.1,38.3 626.2,37.7 626.3,37.0 626.3,36.1 626.4,34.9 626.5,34.4 626.5,33.3 626.6,32.3 626.6,31.1 626.7,30.6 626.8,29.8 626.8,29.6 626.9,29.2 627.0,28.1 627.0,28.4 627.1,29.0 627.1,28.5 627.2,28.9 627.3,29.2 627.3,29.7 627.4,29.3 627.5,30.5 627.5,30.9 627.6,32.1 627.6,33.3 627.7,34.5 627.8,35.0 627.8,35.7 627.9,37.3 628.0,37.9 628.0,38.4 628.1,38.7 628.1,39.2 628.2,39.7 628.3,39.8 628.3,40.0 628.4,39.3 628.5,39.7 628.5,39.4 628.6,38.5 628.6,38.6 628.7,37.4 628.8,37.5 628.8,35.9 628.9,34.9 629.0,34.5 629.0,33.7 629.1,33.0 629.1,31.1 629.2,30.6 629.3,30.0 629.3,28.9 629.4,28.8 629.5,28.8 629.5,28.9 629.6,27.9 629.6,28.5 629.7,28.6 629.8,29.3 629.8,29.3 629.9,29.6 630.0,30.1 630.0,31.9 630.1,32.4 630.1,33.7 630.2,33.9 630.3,34.9 630.3,36.0 630.4,36.6 630.5,38.1 630.5,38.7 630.6,39.0 630.6,39.6 630.7,39.9 630.8,40.3 630.8,39.5 630.9,40.3 631.0,39.5 631.0,39.8 631.1,38.5 631.1,39.0 631.2,37.8 631.3,37.2 631.3,35.8 631.4,35.7 631.5,34.4 631.5,32.8 631.6,32.4 631.6,31.6 631.7,31.1 631.8,29.9 631.8,29.3 631.9,29.6 631.9,28.5 632.0,28.8 632.1,27.6 632.1,28.2 632.2,28.6 632.3,29.1 632.3,29.2 632.4,29.5 632.4,31.0 632.5,31.8 632.6,32.5 632.6,33.0 632.7,33.7 632.8,34.6 632.8,36.3 632.9,37.0 632.9,37.4 633.0,38.2 633.1,39.2 633.1,39.0 633.2,39.9 633.3,39.8 633.3,40.2 633.4,39.6 633.4,40.2 633.5,39.1 633.6,38.9 633.6,38.0 633.7,37.6 633.8,37.3 633.8,35.9 633.9,34.4 633.9,34.4 634.0,33.4 634.1,33.4 634.1,33.9 634.2,35.1 634.3,35.5 634.3,36.9 634.4,37.7 634.4,38.6 634.5,39.3 634.6,39.7 634.6,41.5 634.7,43.3 634.8,43.8 634.8,45.0 634.9,46.2 634.9,47.6 635.0,48.5 635.1,49.6 635.1,52.9 635.2,53.2 635.3,53.3 635.3,54.0 635.4,54.1 635.4,54.4 635.5,54.5 635.6,54.5 635.6,54.2 635.7,54.6 635.8,54.6 635.8,54.8 635.9,54.5 635.9,54.9 636.0,54.9 636.1,54.9 636.1,55.0 636.2,55.1 636.3,55.0 636.3,55.2 636.4,55.5 636.4,55.2 636.5,55.8 636.6,56.4 636.6,56.6 636.7,57.3 636.8,57.9 636.8,58.9 636.9,59.9 636.9,60.4 637.0,61.4 637.1,62.0 637.1,63.2 637.2,64.1 637.3,65.0 637.3,65.7 637.4,66.5 637.4,67.1 637.5,67.9 637.6,68.3 637.6,69.4 637.7,69.6 637.8,70.5 637.8,71.0 637.9,71.3 637.9,71.9 638.0,72.2 638.1,72.9 638.1,73.4 638.2,73.6 638.2,73.9 638.3,74.6 638.4,74.8 638.4,74.6 638.5,75.0 638.6,75.2 638.6,75.7 638.7,75.4 638.7,76.0 638.8,76.2 638.9,76.2 638.9,76.3 639.0,76.5 639.1,76.2 639.1,76.2 639.2,76.6 639.2,76.5 639.3,76.3 639.4,76.6 639.4,76.5 639.5,76.7 639.6,76.5 639.6,76.6 639.7,76.3 639.7,76.6 639.8,76.7 639.9,76.1 639.9,76.5 640.0,76.2 640.1,76.1 640.1,76.2 640.2,75.8 640.2,76.1 640.3,76.1 640.4,76.1 640.4,75.6 640.5,75.9 640.6,75.4 640.6,75.6 640.7,75.2 640.7,75.6 640.8,75.1 640.9,75.0 640.9,75.0 641.0,75.3 641.1,74.7 641.1,74.7 641.2,75.0 641.2,74.5 641.3,74.9 641.4,74.8 641.4,74.8 641.5,74.4 641.6,74.4 641.6,74.5 641.7,74.2 641.7,73.9 641.8,74.3 641.9,73.9 641.9,74.1 642.0,73.9 642.1,73.9 642.1,73.9 642.2,74.0 642.2,73.6 642.3,73.6 642.4,73.4 642.4,73.6 642.5,73.1 642.6,73.6 642.6,73.5 642.7,73.2 642.7,73.4 642.8,73.3 642.9,73.1 642.9,72.9 643.0,72.8 643.1,73.0 643.1,72.8 643.2,73.1 643.2,72.6 643.3,72.7 643.4,72.5 643.4,72.9 643.5,72.7 643.6,72.5 643.6,72.8 643.7,72.4 643.7,72.4 643.8,72.3 643.9,72.6 643.9,72.3 644.0,72.4 644.1,72.6 644.1,72.5 644.2,72.1 644.2,72.3 644.3,72.4 644.4,72.3 644.4,72.1 644.5,72.4 644.6,72.3 644.6,72.1 644.7,71.9 644.7,72.0 644.8,71.8 644.9,72.2 644.9,72.1 645.0,72.1 645.0,72.1 645.1,72.1 645.2,71.8 645.2,72.1 645.3,72.0 645.4,71.9 645.4,71.6 645.5,72.0 645.5,71.8 645.6,72.0 645.7,71.7 645.7,71.9 645.8,72.1 645.9,71.8 645.9,71.9 646.0,71.9 646.0,71.9 646.1,72.0 646.2,71.6 646.2,71.7 646.3,71.7 646.4,71.7 646.4,71.8 646.5,71.7 646.5,71.7 646.6,71.5 646.7,71.8 646.7,71.9 646.8,71.9 646.9,71.8 646.9,71.6 647.0,71.6 647.0,71.5 647.1,71.6 647.2,71.9 647.2,71.7 647.3,71.7 647.4,71.8 647.4,71.6 647.5,71.5 647.5,71.9 647.6,71.6 647.7,71.8 647.7,71.4 647.8,71.6 647.9,71.8 647.9,71.6 648.0,71.7 648.0,71.7 648.1,71.5 648.2,71.6 648.2,71.3 648.3,71.3 648.4,71.4 648.4,71.6 648.5,71.3 648.5,71.8 648.6,71.4 648.7,71.6 648.7,71.3 648.8,71.8 648.9,71.5 648.9,71.8 649.0,71.6 649.0,71.5 649.1,71.7 649.2,71.4 649.2,71.5 649.3,71.7 649.4,71.5 649.4,71.5 649.5,71.8 649.5,71.4 649.6,71.4 649.7,71.3 649.7,71.3 649.8,71.6 649.9,71.4 649.9,71.4 650.0,71.7 650.0,71.4 650.1,71.6 650.2,71.5 650.2,71.4 650.3,71.5 650.4,71.6 650.4,71.3 650.5,71.7 650.5,71.4 650.6,71.7 650.7,71.2 650.7,71.2 650.8,71.4 650.9,71.3 650.9,71.3 651.0,71.4 651.0,71.3 651.1,71.2 651.2,71.6 651.2,71.3 651.3,71.6 651.3,71.5 651.4,71.5 651.5,71.4 651.5,71.4 651.6,71.2 651.7,71.3 651.7,71.7 651.8,71.6 651.8,71.7 651.9,71.3 652.0,71.5 652.0,71.2 652.1,71.6 652.2,71.2 652.2,71.3 652.3,71.3 652.3,71.4 652.4,71.2 652.5,71.6 652.5,71.2 652.6,71.2 652.7,71.4 652.7,71.3 652.8,71.6 652.8,71.4 652.9,71.4 653.0,71.5 653.0,71.7 653.1,71.2 653.2,71.2 653.2,71.5 653.3,71.4 653.3,71.4 653.4,71.2 653.5,71.4 653.5,71.3 653.6,71.2 653.7,71.6 653.7,71.3 653.8,71.2 653.8,71.2 653.9,71.2 654.0,71.6 654.0,71.2 654.1,71.5 654.2,71.2 654.2,71.2 654.3,71.4 654.3,71.3 654.4,71.4 654.5,71.1 654.5,71.3 654.6,71.6 654.7,71.3 654.7,71.6 654.8,71.6 654.8,71.4 654.9,71.4 655.0,71.6 655.0,71.4 655.1,71.5 655.2,71.5 655.2,71.4 655.3,71.6 655.3,71.6 655.4,71.5 655.5,71.2 655.5,71.1 655.6,71.2 655.7,71.6 655.7,71.2 655.8,71.2 655.8,71.1 655.9,71.2 656.0,71.5 656.0,71.3 656.1,71.4 656.2,71.6 656.2,71.3 656.3,71.5 656.3,71.1 656.4,71.2 656.5,71.1 656.5,71.6 656.6,71.2 656.7,71.1 656.7,71.3 656.8,71.4 656.8,71.3 656.9,71.3 657.0,71.3 657.0,71.4 657.1,71.2 657.2,71.1 657.2,71.4 657.3,71.1 657.3,71.5 657.4,71.2 657.5,71.4 657.5,71.3 657.6,71.4 657.7,71.5 657.7,71.5 657.8,71.0 657.8,71.3 657.9,71.0 658.0,71.3 658.0,71.1 658.1,71.3 658.1,71.0 658.2,71.3 658.3,71.4 658.3,71.4 658.4,71.5 658.5,71.5 658.5,71.2 658.6,71.3 658.6,71.0 658.7,71.4 658.8,71.0 658.8,71.4 658.9,71.4 659.0,71.3 659.0,71.4 659.1,71.3 659.1,71.1 659.2,71.5 659.3,71.4 659.3,71.5 659.4,71.1 659.5,71.4 659.5,71.2 659.6,71.0 659.6,71.3 659.7,71.4 659.8,71.4 659.8,71.0 659.9,71.4 660.0,71.0 660.0,71.4 660.1,71.4 660.1,71.1 660.2,71.1 660.3,71.3 660.3,71.1 660.4,71.4 660.5,71.0 660.5,71.2 660.6,71.0 660.6,71.1 660.7,71.2 660.8,71.0 660.8,71.1 660.9,71.4 661.0,71.1 661.0,71.3 661.1,71.1 661.1,70.9 661.2,71.1 661.3,71.0 661.3,71.3 661.4,71.4 661.5,71.4 661.5,71.4 661.6,71.3 661.6,71.3 661.7,71.3 661.8,71.1 661.8,71.0 661.9,71.0 662.0,71.0 662.0,71.0 662.1,71.0 662.1,71.2 662.2,71.2 662.3,71.4 662.3,71.4 662.4,71.0 662.5,71.3 662.5,70.9 662.6,71.2 662.6,71.4 662.7,71.0 662.8,71.0 662.8,70.9 662.9,71.1 663.0,70.9 663.0,71.1 663.1,71.3 663.1,71.2 663.2,71.0 663.3,70.9 663.3,70.9 663.4,70.9 663.5,71.1 663.5,71.1 663.6,71.1 663.6,70.9 663.7,71.2 663.8,71.4 663.8,71.2 663.9,71.0 664.0,70.9 664.0,70.9 664.1,71.0 664.1,70.9 664.2,70.9 664.3,70.9 664.3,71.0 664.4,70.8 664.4,70.9 664.5,71.4 664.6,71.3 664.6,70.8 664.7,71.0 664.8,71.3 664.8,70.9 664.9,71.3 664.9,71.1 665.0,71.1 665.1,71.2 665.1,71.2 665.2,71.3 665.3,71.1 665.3,71.3 665.4,71.0 665.4,71.2 665.5,70.9 665.6,70.8 665.6,70.8 665.7,70.9 665.8,70.9 665.8,71.3 665.9,70.8 665.9,71.0 666.0,71.0 666.1,71.0 666.1,71.2 666.2,71.1 666.3,71.3 666.3,70.8 666.4,71.0 666.4,71.2 666.5,70.8 666.6,71.0 666.6,70.9 666.7,70.9 666.8,70.9 666.8,71.1 666.9,71.1 666.9,71.3 667.0,71.0 667.1,71.2 667.1,71.1 667.2,70.8 667.3,70.8 667.3,70.8 667.4,71.2 667.4,70.8 667.5,71.2 667.6,70.8 667.6,70.9 667.7,70.7 667.8,70.7 667.8,71.0 667.9,71.1 667.9,70.8 668.0,71.1 668.1,71.1 668.1,71.0 668.2,71.2 668.3,71.0 668.3,71.2 668.4,71.0 668.4,70.8 668.5,70.8 668.6,70.7 668.6,70.9 668.7,70.8 668.8,71.0 668.8,70.8 668.9,71.2 668.9,71.2 669.0,71.2 669.1,71.0 669.1,71.2 669.2,70.9 669.3,71.1 669.3,70.9 669.4,70.9 669.4,70.9 669.5,70.9 669.6,70.8 669.6,71.0 669.7,70.9 669.8,71.1 669.8,71.0 669.9,71.2 669.9,70.7 670.0,70.7 670.1,71.2 670.1,71.2 670.2,71.0 670.3,70.9 670.3,71.0 670.4,71.0 670.4,70.9 670.5,71.0 670.6,71.0 670.6,71.2 670.7,70.9 670.8,71.2 670.8,70.7 670.9,70.9 670.9,71.0 671.0,70.8 671.1,70.7 671.1,71.1 671.2,71.0 671.2,70.7 671.3,70.7 671.4,71.0 671.4,71.0 671.5,70.7 671.6,71.1 671.6,71.1 671.7,70.9 671.7,70.9 671.8,70.9 671.9,70.8 671.9,70.7 672.0,71.0 672.1,71.0 672.1,70.7 672.2,71.0 672.2,70.7 672.3,70.8 672.4,70.7 672.4,70.8 672.5,71.1 672.6,70.8 672.6,70.9 672.7,71.1 672.7,71.1 672.8,71.0 672.9,71.1 672.9,71.1 673.0,70.7 673.1,70.6 673.1,70.6 673.2,70.9 673.2,70.8 673.3,71.1 673.4,71.1 673.4,70.7 673.5,70.8 673.6,70.8 673.6,70.7 673.7,70.7 673.7,70.8 673.8,71.1 673.9,70.8 673.9,70.7 674.0,70.7 674.1,70.6 674.1,70.9 674.2,70.9 674.2,71.1 674.3,70.9 674.4,70.8 674.4,70.6 674.5,70.6 674.6,71.1 674.6,71.1 674.7,70.9 674.7,70.7 674.8,71.0 674.9,70.7 674.9,70.8 675.0,70.6 675.1,70.9 675.1,70.9 675.2,71.1 675.2,70.8 675.3,70.7 675.4,70.8 675.4,70.8 675.5,70.6 675.6,70.7 675.6,70.9 675.7,70.6 675.7,70.7 675.8,70.9 675.9,71.0 675.9,70.7 676.0,70.8 676.1,70.8 676.1,71.0 676.2,70.7 676.2,70.6 676.3,70.9 676.4,70.9 676.4,70.6 676.5,70.6 676.6,71.0 676.6,70.8 676.7,70.9 676.7,70.9 676.8,70.8 676.9,70.7 676.9,70.9 677.0,70.9 677.1,70.6 677.1,70.7 677.2,70.9 677.2,71.0 677.3,70.9 677.4,70.6 677.4,70.6 677.5,71.0 677.5,70.8 677.6,71.1 677.7,70.6 677.7,70.6 677.8,71.0 677.9,70.9 677.9,70.9 678.0,71.0 678.0,70.7 678.1,70.9 678.2,71.1 678.2,71.0 678.3,70.7 678.4,70.7 678.4,71.1 678.5,70.8 678.5,70.7 678.6,70.7 678.7,70.7 678.7,70.6 678.8,70.9 678.9,70.6 678.9,70.8 679.0,71.0 679.0,70.7 679.1,70.9 679.2,70.7 679.2,70.9 679.3,70.8 679.4,70.7 679.4,70.7 679.5,70.9 679.5,70.7 679.6,70.9 679.7,70.6 679.7,70.9 679.8,71.0 679.9,71.0 679.9,70.7 680.0,70.9 680.0,70.7 680.1,70.9 680.2,70.8 680.2,70.6 680.3,70.5 680.4,71.0 680.4,70.5 680.5,70.8 680.5,70.6 680.6,70.5 680.7,70.9 680.7,70.8 680.8,70.5 680.9,70.7 680.9,70.5 681.0,70.6 681.0,70.5 681.1,70.7 681.2,71.0 681.2,70.5 681.3,70.9 681.4,70.9 681.4,70.8 681.5,70.9 681.5,70.9 681.6,70.7 681.7,70.5 681.7,70.9 681.8,70.8 681.9,70.7 681.9,70.9 682.0,70.7 682.0,70.5 682.1,71.0 682.2,70.7 682.2,70.9 682.3,70.6 682.4,70.9 682.4,70.6 682.5,70.8 682.5,70.5 682.6,70.8 682.7,70.7 682.7,71.0 682.8,70.9 682.9,70.8 682.9,70.5 683.0,70.7 683.0,70.6 683.1,70.5 683.2,71.0 683.2,70.8 683.3,70.5 683.4,70.6 683.4,70.7 683.5,70.8 683.5,70.7 683.6,71.0 683.7,70.9 683.7,70.8 683.8,70.9 683.9,70.9"/>
<polyline fill="none" stroke="#ff0000" stroke-width="2.25" stroke-linejoin="round" points="396.90,70.53 397.40,70.53 397.90,70.53 398.40,70.53 398.90,70.53 399.40,70.53 399.89,70.53 400.39,70.53 400.89,70.53 401.39,70.53 401.89,70.53 402.39,70.53 402.89,70.53 403.39,70.53 403.89,70.53 404.39,70.53 404.88,70.53 405.38,70.53 405.88,70.53 406.38,70.53 406.88,70.53 407.38,70.53 407.88,70.53 408.38,70.53 408.88,70.53 409.38,70.53 409.88,70.53 410.37,70.53 410.87,70.53 411.37,70.53 411.87,70.53 412.37,70.53 412.87,70.53 413.37,70.53 413.87,70.53 414.37,70.53 414.87,70.53 415.36,70.53 415.86,70.53 416.36,70.53 416.86,70.53 417.36,70.53 417.86,70.53 418.36,70.53 418.86,70.53 419.36,70.53 419.86,70.53 420.36,70.53 420.85,70.53 421.35,70.53 421.85,70.53 422.35,70.53 422.85,70.53 423.35,70.53 423.85,70.53 424.35,70.53 424.85,70.53 425.35,70.53 425.84,70.53 426.34,70.53 426.84,70.53 427.34,70.53 427.84,70.53 428.34,70.53 428.84,70.53 429.34,70.53 429.84,70.53 430.34,70.53 430.83,70.53 431.33,70.53 431.83,70.53 432.33,70.53 432.83,70.53 433.33,70.53 433.83,70.53 434.33,70.53 434.83,70.53 435.33,70.53 435.83,71.52 436.32,74.88 436.82,79.20 437.32,83.64 437.82,87.77 438.32,91.38 438.82,94.43 439.32,96.93 439.82,98.95 440.32,100.56 440.82,101.82 441.31,102.80 441.81,103.56 442.31,104.14 442.81,104.58 443.31,104.91 443.81,105.17 444.31,105.36 444.81,105.50 445.31,105.61 445.81,105.68 446.31,105.74 446.80,105.79 447.30,105.82 447.80,105.84 448.30,105.86 448.80,105.87 449.30,105.88 449.80,105.89 450.30,105.90 450.80,105.90 451.30,105.90 451.79,105.90 452.29,105.91 452.79,105.91 453.29,105.91 453.79,105.91 454.29,105.91 454.79,105.91 455.29,105.91 455.79,105.91 456.29,105.91 456.79,105.91 457.28,105.91 457.78,105.91 458.28,105.91 458.78,105.91 459.28,105.91 459.78,105.91 460.28,105.91 460.78,105.91 461.28,105.91 461.78,105.91 462.27,105.91 462.77,105.91 463.27,105.91 463.77,105.91 464.27,105.91 464.77,105.91 465.27,105.91 465.77,105.91 466.27,105.91 466.77,105.91 467.27,105.91 467.76,105.91 468.26,105.91 468.76,105.91 469.26,105.91 469.76,105.91 470.26,105.91 470.76,105.91 471.26,105.91 471.76,105.91 472.26,105.91 472.75,105.91 473.25,105.91 473.75,105.91 474.25,105.91 474.75,105.91 475.25,105.91 475.75,105.91 476.25,105.91 476.75,105.91 477.25,105.91 477.75,105.91 478.24,105.91 478.74,105.91 479.24,105.91 479.74,105.91 480.24,105.91 480.74,105.91 481.24,105.91 481.74,105.91 482.24,105.91 482.74,105.91 483.23,105.91 483.73,105.91 484.23,105.91 484.73,105.91 485.23,105.91 485.73,105.91 486.23,105.91 486.73,105.91 487.23,105.91 487.73,105.91 488.22,105.91 488.72,105.91 489.22,105.91 489.72,105.91 490.22,105.91 490.72,105.91 491.22,105.91 491.72,105.91 492.22,105.91 492.72,105.91 493.22,105.91 493.71,105.91 494.21,105.91 494.71,105.91 495.21,105.91 495.71,105.91 496.21,105.91 496.71,105.91 497.21,105.91 497.71,105.91 498.21,105.91 498.70,105.91 499.20,105.91 499.70,105.91 500.20,105.91 500.70,105.91 501.20,105.91 501.70,105.91 502.20,105.91 502.70,105.91 503.20,105.91 503.70,105.91 504.19,105.91 504.69,105.91 505.19,105.91 505.69,105.91 506.19,105.91 506.69,105.91 507.19,105.91 507.69,105.91 508.19,105.91 508.69,105.91 509.18,105.91 509.68,105.91 510.18,105.91 510.68,104.89 511.18,101.36 511.68,96.62 512.18,91.53 512.68,86.59 513.18,82.06 513.68,78.07 514.18,74.65 514.67,71.80 515.17,69.49 515.67,67.65 516.17,66.24 516.67,65.20 517.17,64.47 517.67,64.00 518.17,63.74 518.67,63.66 519.17,63.72 519.66,63.88 520.16,64.12 520.66,64.43 521.16,64.77 521.66,65.14 522.16,65.52 522.66,65.90 523.16,66.28 523.66,66.65 524.16,67.00 524.66,67.33 525.15,67.64 525.65,67.94 526.15,68.21 526.65,68.45 527.15,68.68 527.65,68.89 528.15,69.08 528.65,69.24 529.15,69.40 529.65,69.53 530.14,69.65 530.64,69.76 531.14,69.86 531.64,69.94 532.14,70.02 532.64,70.08 533.14,70.14 533.64,70.19 534.14,70.24 534.64,70.28 535.14,70.31 535.63,70.34 536.13,70.36 536.63,70.39 537.13,70.41 537.63,70.42 538.13,70.44 538.63,70.45 539.13,70.46 539.63,70.47 540.13,70.48 540.62,70.48 541.12,70.49 541.62,70.50 542.12,70.50 542.62,70.50 543.12,70.51 543.62,70.51 544.12,70.51 544.62,70.51 545.12,70.52 545.61,70.52 546.11,70.52 546.61,70.52 547.11,70.52 547.61,70.52 548.11,70.52 548.61,70.52 549.11,70.52 549.61,70.52 550.11,70.52 550.61,70.52 551.10,70.52 551.60,70.52 552.10,70.52 552.60,70.52 553.10,70.52 553.60,70.52 554.10,70.52 554.60,70.52 555.10,70.52 555.60,70.52 556.09,70.52 556.59,70.52 557.09,70.52 557.59,70.52 558.09,70.52 558.59,70.52 559.09,70.52 559.59,70.52 560.09,70.52 560.59,69.52 561.09,66.04 561.58,61.43 562.08,56.50 562.58,51.71 563.08,47.29 563.58,43.33 564.08,39.86 564.58,36.87 565.08,34.31 565.58,32.16 566.08,30.36 566.57,28.89 567.07,27.70 567.57,26.76 568.07,26.03 568.57,25.51 569.07,25.15 569.57,24.94 570.07,24.85 570.57,24.88 571.07,24.99 571.57,25.18 572.06,25.44 572.56,25.74 573.06,26.09 573.56,26.46 574.06,26.86 574.56,27.27 575.06,27.69 575.56,28.11 576.06,28.53 576.56,28.94 577.05,29.35 577.55,29.74 578.05,30.12 578.55,30.48 579.05,30.83 579.55,31.16 580.05,31.47 580.55,31.76 581.05,32.04 581.55,32.30 582.05,32.54 582.54,32.76 583.04,32.97 583.54,33.16 584.04,33.34 584.54,33.50 585.04,33.66 585.54,33.79 586.04,33.92 586.54,34.04 587.04,34.14 587.53,34.24 588.03,34.33 588.53,34.41 589.03,34.48 589.53,34.55 590.03,34.61 590.53,34.66 591.03,34.71 591.53,34.76 592.03,34.80 592.53,34.83 593.02,34.87 593.52,34.90 594.02,34.92 594.52,34.95 595.02,34.97 595.52,34.99 596.02,35.00 596.52,35.02 597.02,35.03 597.52,35.04 598.01,35.05 598.51,35.06 599.01,35.07 599.51,35.08 600.01,35.09 600.51,35.09 601.01,35.10 601.51,35.10 602.01,35.11 602.51,35.11 603.00,35.11 603.50,35.12 604.00,35.12 604.50,35.12 605.00,35.12 605.50,35.13 606.00,35.13 606.50,35.13 607.00,35.13 607.50,35.13 608.00,35.13 608.49,35.13 608.99,35.13 609.49,35.13 609.99,35.14 610.49,35.14 610.99,35.14 611.49,35.14 611.99,35.14 612.49,35.14 612.99,35.14 613.48,35.14 613.98,35.14 614.48,35.14 614.98,35.14 615.48,35.14 615.98,35.14 616.48,35.14 616.98,35.14 617.48,35.14 617.98,35.14 618.48,35.14 618.97,35.14 619.47,35.14 619.97,35.14 620.47,35.14 620.97,35.14 621.47,35.14 621.97,35.14 622.47,35.14 622.97,35.14 623.47,35.14 623.96,35.14 624.46,35.14 624.96,35.14 625.46,35.14 625.96,35.14 626.46,35.14 626.96,35.14 627.46,35.14 627.96,35.14 628.46,35.14 628.96,35.14 629.45,35.14 629.95,35.14 630.45,35.14 630.95,35.14 631.45,35.14 631.95,35.14 632.45,35.14 632.95,35.14 633.45,35.14 633.95,35.14 634.44,35.14 634.94,35.14 635.44,36.23 635.94,39.78 636.44,44.37 636.94,49.12 637.44,53.57 637.94,57.50 638.44,60.87 638.94,63.67 639.44,65.97 639.93,67.82 640.43,69.30 640.93,70.46 641.43,71.37 641.93,72.08 642.43,72.62 642.93,73.03 643.43,73.33 643.93,73.55 644.43,73.70 644.92,73.79 645.42,73.85 645.92,73.87 646.42,73.86 646.92,73.83 647.42,73.79 647.92,73.73 648.42,73.67 648.92,73.59 649.42,73.51 649.92,73.43 650.41,73.34 650.91,73.26 651.41,73.17 651.91,73.08 652.41,72.99 652.91,72.91 653.41,72.82 653.91,72.74 654.41,72.66 654.91,72.59 655.40,72.51 655.90,72.44 656.40,72.37 656.90,72.31 657.40,72.24 657.90,72.18 658.40,72.12 658.90,72.07 659.40,72.01 659.90,71.96 660.39,71.92 660.89,71.87 661.39,71.83 661.89,71.78 662.39,71.74 662.89,71.71 663.39,71.67 663.89,71.64 664.39,71.60 664.89,71.57 665.39,71.54 665.88,71.51 666.38,71.49 666.88,71.46 667.38,71.44 667.88,71.41 668.38,71.39 668.88,71.37 669.38,71.35 669.88,71.33 670.38,71.31 670.87,71.29 671.37,71.27 671.87,71.26 672.37,71.24 672.87,71.22 673.37,71.21 673.87,71.19 674.37,71.18 674.87,71.16 675.37,71.15 675.87,71.14 676.36,71.13 676.86,71.11 677.36,71.10 677.86,71.09 678.36,71.08 678.86,71.07 679.36,71.06 679.86,71.05 680.36,71.03 680.86,71.02 681.35,71.01 681.85,71.01 682.35,71.00 682.85,70.99 683.35,70.98 683.85,70.97"/>
<polygon fill="#0000ff" stroke="none" points="48.0,205.5 48.2,206.4 48.4,206.3 48.7,206.4 48.9,205.8 49.2,205.8 49.4,205.2 49.7,206.1 49.9,206.3 50.2,205.3 50.4,206.2 50.7,205.7 50.9,206.3 51.2,205.5 51.4,206.3 51.7,206.4 51.9,206.2 52.2,205.4 52.4,205.8 52.7,205.7 52.9,206.2 53.2,205.3 53.4,205.3 53.7,206.0 53.9,205.5 54.2,205.3 54.4,205.8 54.7,205.8 54.9,205.7 55.2,206.4 55.4,206.3 55.7,205.8 55.9,205.9 56.2,206.1 56.4,205.8 56.7,205.8 56.9,205.9 57.2,205.4 57.4,206.3 57.7,205.3 57.9,205.5 58.2,206.1 58.4,205.7 58.7,205.5 58.9,205.8 59.1,206.3 59.4,206.0 59.6,205.8 59.9,205.6 60.1,205.9 60.4,205.7 60.6,205.5 60.9,205.5 61.1,205.5 61.4,205.9 61.6,205.4 61.9,206.2 62.1,205.7 62.4,206.2 62.6,206.3 62.9,205.8 63.1,205.7 63.4,205.3 63.6,205.5 63.9,205.5 64.1,205.9 64.4,205.9 64.6,205.5 64.9,205.4 65.1,206.1 65.4,206.3 65.6,206.1 65.9,206.0 66.1,205.2 66.4,205.4 66.6,205.4 66.9,205.2 67.1,205.3 67.4,206.2 67.6,206.1 67.9,205.5 68.1,205.3 68.4,206.0 68.6,205.2 68.9,206.2 69.1,206.4 69.4,205.3 69.6,206.0 69.9,206.3 70.1,205.3 70.3,206.1 70.6,205.4 70.8,205.3 71.1,206.0 71.3,206.0 71.6,205.6 71.8,206.2 72.1,205.3 72.3,205.2 72.6,206.4 72.8,205.4 73.1,206.1 73.3,205.9 73.6,206.2 73.8,205.4 74.1,205.7 74.3,205.7 74.6,205.6 74.8,206.0 75.1,205.4 75.3,206.4 75.6,205.8 75.8,205.9 76.1,205.9 76.3,205.8 76.6,205.6 76.8,206.1 77.1,205.8 77.3,206.0 77.6,205.2 77.8,205.4 78.1,206.4 78.3,206.4 78.6,206.1 78.8,205.6 79.1,205.2 79.3,205.3 79.6,206.4 79.8,206.2 80.1,205.2 80.3,205.9 80.6,205.7 80.8,205.9 81.0,205.8 81.3,206.3 81.5,205.4 81.8,205.9 82.0,205.8 82.3,206.1 82.5,206.2 82.8,206.1 83.0,205.9 83.3,206.3 83.5,205.6 83.8,206.1 84.0,205.3 84.3,205.4 84.5,205.3 84.8,205.7 85.0,205.7 85.3,206.0 85.5,205.8 85.8,204.3 86.0,204.0 86.3,204.0 86.5,203.2 86.8,202.5 87.0,203.1 87.3,202.9 87.5,202.2 87.8,202.2 88.0,201.1 88.3,201.0 88.5,201.8 88.8,201.3 89.0,200.7 89.3,200.8 89.5,200.1 89.8,200.0 90.0,201.1 90.3,199.8 90.5,200.7 90.8,200.5 91.0,199.8 91.3,199.8 91.5,200.3 91.8,199.2 92.0,199.8 92.2,199.5 92.5,200.0 92.7,199.1 93.0,199.1 93.2,199.6 93.5,199.4 93.7,199.9 94.0,198.9 94.2,199.7 94.5,198.8 94.7,199.6 95.0,199.1 95.2,198.6 95.5,199.5 95.7,199.4 96.0,199.0 96.2,198.8 96.5,199.5 96.7,199.0 97.0,199.2 97.2,199.1 97.5,199.1 97.7,198.6 98.0,198.5 98.2,199.1 98.5,199.0 98.7,198.3 99.0,198.1 99.2,198.6 99.5,198.0 99.7,198.4 100.0,198.8 100.2,198.0 100.5,198.9 100.7,198.0 101.0,198.0 101.2,198.6 101.5,199.0 101.7,197.9 102.0,198.4 102.2,198.6 102.5,198.2 102.7,197.8 103.0,198.0 103.2,198.2 103.4,197.9 103.7,198.1 103.9,198.4 104.2,197.8 104.4,198.2 104.7,198.0 104.9,198.5 105.2,197.9 105.4,197.7 105.7,198.3 105.9,197.7 106.2,197.6 106.4,198.0 106.7,198.2 106.9,198.3 107.2,198.6 107.4,198.2 107.7,198.3 107.9,198.3 108.2,198.2 108.4,198.3 108.7,197.7 108.9,198.0 109.2,197.7 109.4,198.5 109.7,197.5 109.9,198.3 110.2,198.2 110.4,197.7 110.7,197.6 110.9,197.7 111.2,197.9 111.4,198.2 111.7,198.4 111.9,198.2 112.2,198.2 112.4,197.8 112.7,197.6 112.9,197.6 113.2,198.2 113.4,197.8 113.7,197.3 113.9,197.7 114.1,198.2 114.4,197.4 114.6,198.0 114.9,197.3 115.1,197.5 115.4,198.2 115.6,198.3 115.9,198.0 116.1,197.2 116.4,197.1 116.6,197.7 116.9,198.2 117.1,197.7 117.4,197.3 117.6,197.6 117.9,198.2 118.1,197.7 118.4,197.1 118.6,198.2 118.9,198.0 119.1,197.3 119.4,197.4 119.6,197.1 119.9,198.1 120.1,197.6 120.4,197.6 120.6,197.5 120.9,198.1 121.1,197.4 121.4,197.1 121.6,197.8 121.9,197.1 122.1,197.6 122.4,197.3 122.6,197.3 122.9,197.2 123.1,197.1 123.4,197.6 123.6,197.9 123.9,197.8 124.1,198.0 124.4,198.1 124.6,197.0 124.9,197.4 125.1,197.8 125.3,197.7 125.6,197.9 125.8,197.0 126.1,197.0 126.3,197.7 126.6,197.0 126.8,198.0 127.1,197.3 127.3,197.8 127.6,197.0 127.8,198.0 128.1,197.7 128.3,197.2 128.6,197.9 128.8,197.3 129.1,197.2 129.3,197.0 129.6,196.9 129.8,197.9 130.1,197.9 130.3,197.7 130.6,197.4 130.8,197.1 131.1,197.0 131.3,196.9 131.6,197.7 131.8,197.5 132.1,196.8 132.3,197.4 132.6,197.1 132.8,197.1 133.1,197.8 133.3,197.2 133.6,197.6 133.8,197.4 134.1,196.8 134.3,197.6 134.6,197.0 134.8,197.2 135.1,198.0 135.3,197.9 135.6,197.4 135.8,197.2 136.0,197.0 136.3,197.5 136.5,197.5 136.8,196.9 137.0,197.9 137.3,197.3 137.5,197.1 137.8,197.6 138.0,196.9 138.3,197.2 138.5,197.7 138.8,197.1 139.0,197.2 139.3,197.9 139.5,197.7 139.8,197.9 140.0,197.8 140.3,197.0 140.5,197.5 140.8,197.8 141.0,197.2 141.3,197.9 141.5,197.7 141.8,197.1 142.0,197.5 142.3,197.9 142.5,197.8 142.8,197.4 143.0,197.4 143.3,197.1 143.5,197.1 143.8,197.5 144.0,196.8 144.3,197.5 144.5,197.6 144.8,197.9 145.0,197.3 145.3,197.2 145.5,197.1 145.8,197.1 146.0,197.0 146.3,196.8 146.5,197.2 146.8,196.7 147.0,197.0 147.2,197.8 147.5,197.4 147.7,197.1 148.0,197.7 148.2,196.9 148.5,197.0 148.7,197.2 149.0,197.7 149.2,197.2 149.5,196.9 149.7,197.1 150.0,197.6 150.2,196.7 150.5,197.3 150.7,196.9 151.0,197.0 151.2,196.9 151.5,197.6 151.7,197.9 152.0,196.9 152.2,197.1 152.5,197.5 152.7,197.6 153.0,197.3 153.2,196.8 153.5,197.7 153.7,196.8 154.0,197.5 154.2,196.9 154.5,197.6 154.7,197.1 155.0,197.2 155.2,196.8 155.5,196.7 155.7,197.1 156.0,197.0 156.2,197.5 156.5,197.7 156.7,197.1 157.0,197.7 157.2,197.6 157.5,197.2 157.7,197.8 158.0,197.8 158.2,197.1 158.4,197.3 158.7,197.7 158.9,197.2 159.2,197.0 159.4,197.3 159.7,197.8 159.9,197.7 160.2,197.3 160.4,198.4 160.7,197.7 160.9,198.1 161.2,199.2 161.4,199.4 161.7,198.7 161.9,199.1 162.2,199.2 162.4,199.7 162.7,200.1 162.9,200.6 163.2,200.9 163.4,200.4 163.7,200.5 163.9,200.7 164.2,201.4 164.4,201.0 164.7,201.2 164.9,201.7 165.2,202.2 165.4,201.3 165.7,201.8 165.9,202.0 166.2,202.8 166.4,202.2 166.7,202.4 166.9,202.7 167.2,202.5 167.4,202.3 167.7,202.4 167.9,203.5 168.2,203.6 168.4,203.4 168.7,203.0 168.9,203.8 169.1,203.8 169.4,203.8 169.6,203.6 169.9,203.2 170.1,203.6 170.4,203.8 170.6,203.9 170.9,203.8 171.1,203.7 171.4,204.2 171.6,204.0 171.9,203.9 172.1,204.5 172.4,204.5 172.6,204.9 172.9,204.8 173.1,204.4 173.4,204.1 173.6,204.7 173.9,204.6 174.1,204.5 174.4,204.8 174.6,204.5 174.9,205.3 175.1,205.3 175.4,204.3 175.6,204.7 175.9,205.6 176.1,205.0 176.4,204.6 176.6,204.6 176.9,204.5 177.1,205.2 177.4,205.6 177.6,204.7 177.9,204.6 178.1,205.7 178.4,205.5 178.6,205.5 178.9,205.5 179.1,204.9 179.4,205.5 179.6,205.9 179.9,205.0 180.1,205.4 180.3,205.0 180.6,205.2 180.8,204.8 181.1,205.4 181.3,205.5 181.6,204.9 181.8,205.9 182.1,205.6 182.3,204.9 182.6,204.9 182.8,205.2 183.1,205.3 183.3,205.1 183.6,205.1 183.8,205.4 184.1,205.6 184.3,205.6 184.6,205.8 184.8,205.8 185.1,205.3 185.3,206.2 185.6,205.2 185.8,205.9 186.1,205.6 186.3,206.0 186.6,205.3 186.8,205.4 187.1,206.1 187.3,205.7 187.6,205.7 187.8,205.6 188.1,206.3 188.3,205.4 188.6,205.5 188.8,205.6 189.1,205.9 189.3,205.6 189.6,205.6 189.8,205.9 190.1,205.8 190.3,205.1 190.6,205.9 190.8,205.7 191.1,205.9 191.3,205.5 191.5,205.8 191.8,205.2 192.0,206.1 192.3,205.9 192.5,205.1 192.8,205.5 193.0,205.4 193.3,205.8 193.5,206.3 193.8,206.3 194.0,205.4 194.3,205.1 194.5,205.8 194.8,205.5 195.0,205.9 195.3,205.4 195.5,206.0 195.8,205.9 196.0,205.4 196.3,205.8 196.5,205.7 196.8,206.3 197.0,206.0 197.3,206.1 197.5,205.9 197.8,206.2 198.0,205.2 198.3,205.4 198.5,205.4 198.8,205.9 199.0,205.6 199.3,206.0 199.5,206.1 199.8,205.3 200.0,205.4 200.3,205.3 200.5,205.6 200.8,205.6 201.0,205.2 201.3,205.7 201.5,206.1 201.8,206.2 202.0,205.3 202.2,206.2 202.5,206.3 202.7,205.7 203.0,206.3 203.2,205.9 203.5,206.0 203.7,206.0 204.0,205.5 204.2,206.0 204.5,205.3 204.7,205.4 205.0,205.4 205.2,206.1 205.5,206.0 205.7,206.1 206.0,205.9 206.2,206.1 206.5,205.9 206.7,205.7 207.0,205.7 207.2,205.5 207.5,205.4 207.7,206.0 208.0,205.3 208.2,205.9 208.5,206.2 208.7,206.0 209.0,206.1 209.2,206.1 209.5,206.3 209.7,205.3 210.0,204.2 210.2,201.6 210.5,200.0 210.7,198.4 211.0,197.7 211.2,196.8 211.5,194.7 211.7,193.5 212.0,192.3 212.2,191.8 212.5,190.5 212.7,190.3 213.0,189.8 213.2,188.9 213.4,187.5 213.7,187.0 213.9,187.2 214.2,186.5 214.4,185.9 214.7,185.0 214.9,184.8 215.2,185.2 215.4,185.0 215.7,184.0 215.9,184.0 216.2,183.9 216.4,184.3 216.7,183.6 216.9,184.5 217.2,184.6 217.4,183.6 217.7,184.6 217.9,184.8 218.2,183.9 218.4,184.5 218.7,184.0 218.9,184.8 219.2,184.7 219.4,185.1 219.7,185.2 219.9,185.7 220.2,186.1 220.4,185.8 220.7,186.1 220.9,186.1 221.2,186.9 221.4,186.9 221.7,187.3 221.9,187.7 222.2,187.6 222.4,188.0 222.7,188.1 222.9,187.8 223.2,188.1 223.4,188.6 223.7,189.1 223.9,188.2 224.1,188.3 224.4,189.3 224.6,189.2 224.9,189.9 225.1,189.5 225.4,190.2 225.6,190.0 225.9,189.6 226.1,190.0 226.4,190.8 226.6,190.2 226.9,191.1 227.1,190.7 227.4,191.4 227.6,190.8 227.9,191.8 228.1,191.8 228.4,191.4 228.6,192.3 228.9,191.5 229.1,192.1 229.4,191.6 229.6,192.4 229.9,192.1 230.1,192.3 230.4,192.0 230.6,192.8 230.9,193.2 231.1,192.1 231.4,193.0 231.6,192.4 231.9,193.1 232.1,193.2 232.4,193.3 232.6,192.7 232.9,193.5 233.1,192.9 233.4,193.2 233.6,193.2 233.9,192.9 234.1,194.0 234.4,193.2 234.6,193.3 234.9,193.8 235.1,194.1 235.3,193.1 235.6,193.5 235.8,193.0 236.1,193.6 236.3,193.8 236.6,193.6 236.8,193.2 237.1,194.1 237.3,193.2 237.6,194.0 237.8,193.9 238.1,193.8 238.3,194.3 238.6,194.2 238.8,194.1 239.1,194.2 239.3,194.5 239.6,193.7 239.8,193.5 240.1,194.3 240.3,194.6 240.6,193.9 240.8,194.1 241.1,194.5 241.3,193.6 241.6,193.9 241.8,193.7 242.1,194.6 242.3,194.2 242.6,193.9 242.8,194.2 243.1,193.7 243.3,193.6 243.6,193.8 243.8,194.3 244.1,194.3 244.3,194.1 244.6,194.6 244.8,194.0 245.1,193.9 245.3,194.7 245.6,193.9 245.8,194.0 246.1,193.9 246.3,194.6 246.5,193.9 246.8,194.5 247.0,194.3 247.3,193.7 247.5,193.9 247.8,194.3 248.0,193.7 248.3,194.7 248.5,194.7 248.8,193.8 249.0,194.4 249.3,193.9 249.5,194.8 249.8,194.7 250.0,194.2 250.3,194.3 250.5,194.0 250.8,194.2 251.0,193.7 251.3,194.8 251.5,194.3 251.8,194.0 252.0,194.8 252.3,193.7 252.5,194.0 252.8,194.3 253.0,194.1 253.3,194.5 253.5,194.3 253.8,194.6 254.0,194.8 254.3,194.6 254.5,193.9 254.8,194.5 255.0,194.0 255.3,193.7 255.5,194.7 255.8,194.0 256.0,194.3 256.3,194.1 256.5,193.7 256.8,193.9 257.0,193.8 257.2,194.7 257.5,193.8 257.7,193.7 258.0,193.7 258.2,193.9 258.5,193.8 258.7,194.2 259.0,193.7 259.2,193.9 259.5,194.7 259.7,194.4 260.0,194.7 260.2,193.7 260.5,194.9 260.7,194.2 261.0,194.0 261.2,194.3 261.5,193.7 261.7,194.4 262.0,194.4 262.2,194.6 262.5,193.8 262.7,194.1 263.0,194.0 263.2,194.1 263.5,194.3 263.7,194.9 264.0,193.9 264.2,193.7 264.5,194.6 264.7,194.1 265.0,194.1 265.2,194.8 265.5,194.2 265.7,194.0 266.0,193.8 266.2,194.2 266.5,194.9 266.7,194.2 267.0,193.7 267.2,194.2 267.5,194.1 267.7,194.9 268.0,193.8 268.2,194.4 268.4,194.7 268.7,193.8 268.9,194.5 269.2,193.8 269.4,194.5 269.7,194.6 269.9,193.7 270.2,194.8 270.4,194.3 270.7,194.1 270.9,193.7 271.2,194.2 271.4,194.3 271.7,194.5 271.9,194.5 272.2,194.5 272.4,194.3 272.7,194.8 272.9,193.8 273.2,193.7 273.4,194.4 273.7,194.0 273.9,193.7 274.2,193.9 274.4,194.3 274.7,194.8 274.9,194.4 275.2,194.5 275.4,194.8 275.7,194.7 275.9,194.2 276.2,194.0 276.4,194.8 276.7,194.5 276.9,194.8 277.2,194.0 277.4,194.0 277.7,194.6 277.9,194.0 278.2,194.3 278.4,193.8 278.7,193.8 278.9,193.8 279.1,194.0 279.4,193.6 279.6,194.1 279.9,194.0 280.1,194.8 280.4,194.2 280.6,194.0 280.9,193.8 281.1,194.7 281.4,193.7 281.6,194.5 281.9,194.6 282.1,194.8 282.4,194.5 282.6,193.8 282.9,194.2 283.1,194.8 283.4,194.4 283.6,194.3 283.9,193.9 284.1,194.1 284.4,194.6 284.6,195.6 284.9,197.1 285.1,198.8 285.4,199.0 285.6,199.9 285.9,200.4 286.1,201.3 286.4,201.6 286.6,202.6 286.9,202.6 287.1,203.8 287.4,203.2 287.6,204.4 287.9,203.9 288.1,204.1 288.4,204.9 288.6,204.6 288.9,205.0 289.1,204.4 289.4,205.0 289.6,205.0 289.9,205.5 290.1,204.9 290.3,205.5 290.6,204.8 290.8,204.9 291.1,205.9 291.3,205.7 291.6,205.9 291.8,205.0 292.1,205.3 292.3,206.1 292.6,205.4 292.8,205.3 293.1,206.2 293.3,206.0 293.6,206.0 293.8,206.1 294.1,206.2 294.3,205.5 294.6,206.1 294.8,205.5 295.1,205.8 295.3,206.2 295.6,205.8 295.8,205.3 296.1,205.3 296.3,205.2 296.6,205.7 296.8,206.2 297.1,206.2 297.3,205.4 297.6,205.7 297.8,205.3 298.1,205.3 298.3,205.6 298.6,205.4 298.8,205.8 299.1,205.3 299.3,205.8 299.6,205.7 299.8,205.2 300.1,205.4 300.3,205.7 300.6,206.2 300.8,206.3 301.1,205.3 301.3,206.4 301.5,205.7 301.8,205.6 302.0,206.0 302.3,206.2 302.5,205.7 302.8,205.2 303.0,205.8 303.3,205.7 303.5,205.9 303.8,206.2 304.0,205.7 304.3,205.5 304.5,205.8 304.8,205.4 305.0,205.2 305.3,206.3 305.5,206.1 305.8,205.6 306.0,205.8 306.3,206.3 306.5,206.0 306.8,206.0 307.0,205.3 307.3,206.3 307.5,205.3 307.8,205.3 308.0,206.0 308.3,205.8 308.5,205.7 308.8,205.3 309.0,206.1 309.3,205.8 309.5,205.9 309.8,205.3 310.0,205.3 310.3,206.2 310.5,205.7 310.8,205.7 311.0,206.3 311.3,205.8 311.5,206.3 311.8,206.1 312.0,205.9 312.2,206.3 312.5,206.1 312.7,206.0 313.0,206.4 313.2,205.3 313.5,205.3 313.7,205.6 314.0,205.5 314.2,206.2 314.5,205.8 314.7,206.4 315.0,206.2 315.2,206.4 315.5,205.5 315.7,205.4 316.0,206.3 316.2,206.3 316.5,206.3 316.7,205.3 317.0,206.1 317.2,205.9 317.5,205.4 317.7,206.4 318.0,205.7 318.2,205.8 318.5,206.2 318.7,205.7 319.0,205.4 319.2,206.3 319.5,206.3 319.7,205.7 320.0,205.5 320.2,205.4 320.5,205.2 320.7,205.4 321.0,205.8 321.2,205.8 321.5,205.8 321.7,206.0 322.0,205.4 322.2,206.3 322.5,205.5 322.7,206.3 323.0,206.1 323.2,205.8 323.4,205.3 323.7,205.3 323.9,205.4 324.2,205.8 324.4,205.6 324.7,206.2 324.9,205.7 325.2,205.4 325.4,205.7 325.7,205.8 325.9,206.0 326.2,205.9 326.4,206.0 326.7,205.7 326.9,205.3 327.2,206.0 327.4,205.8 327.7,205.5 327.9,206.2 328.2,205.7 328.4,205.8 328.7,205.5 328.9,205.6 329.2,206.4 329.4,206.1 329.7,206.4 329.9,205.6 330.2,205.6 330.4,205.7 330.7,205.4 330.9,205.3 331.2,206.0 331.4,205.4 331.7,205.8 331.9,205.3 332.2,206.4 332.4,206.3 332.7,205.6 332.9,206.2 333.2,205.6 333.4,206.3 333.7,205.4 333.9,205.8 334.2,206.4 334.2,230.8 333.9,231.5 333.7,231.8 333.4,231.2 333.2,231.1 332.9,231.7 332.7,231.3 332.4,231.7 332.2,231.7 331.9,231.8 331.7,230.8 331.4,231.5 331.2,231.8 330.9,231.6 330.7,230.8 330.4,231.6 330.2,231.5 329.9,231.7 329.7,231.8 329.4,231.6 329.2,231.0 328.9,231.5 328.7,231.9 328.4,231.7 328.2,230.9 327.9,230.8 327.7,231.9 327.4,230.9 327.2,230.8 326.9,230.8 326.7,231.2 326.4,230.8 326.2,231.7 325.9,230.9 325.7,231.4 325.4,231.3 325.2,231.5 324.9,231.7 324.7,231.4 324.4,231.5 324.2,230.9 323.9,230.9 323.7,231.8 323.4,231.6 323.2,230.9 323.0,231.3 322.7,231.7 322.5,231.7 322.2,231.6 322.0,230.9 321.7,231.5 321.5,231.1 321.2,230.8 321.0,231.8 320.7,231.6 320.5,231.1 320.2,230.8 320.0,231.2 319.7,230.9 319.5,231.9 319.2,231.4 319.0,231.7 318.7,231.4 318.5,231.4 318.2,230.9 318.0,232.0 317.7,230.9 317.5,231.4 317.2,231.4 317.0,231.2 316.7,230.9 316.5,231.4 316.2,231.4 316.0,231.9 315.7,231.4 315.5,231.8 315.2,231.5 315.0,231.0 314.7,230.9 314.5,231.2 314.2,230.9 314.0,231.3 313.7,230.9 313.5,231.4 313.2,231.2 313.0,230.8 312.7,230.8 312.5,231.0 312.2,231.7 312.0,231.5 311.8,231.6 311.5,230.8 311.3,232.0 311.0,231.1 310.8,231.9 310.5,231.6 310.3,231.1 310.0,230.8 309.8,231.0 309.5,230.9 309.3,230.8 309.0,231.9 308.8,231.0 308.5,232.0 308.3,232.0 308.0,231.2 307.8,231.4 307.5,230.8 307.3,231.0 307.0,231.7 306.8,231.7 306.5,231.1 306.3,231.6 306.0,230.8 305.8,231.7 305.5,231.8 305.3,230.9 305.0,232.0 304.8,230.9 304.5,230.9 304.3,230.8 304.0,231.9 303.8,231.5 303.5,231.8 303.3,231.7 303.0,231.2 302.8,230.8 302.5,231.3 302.3,231.3 302.0,231.6 301.8,231.9 301.5,230.8 301.3,231.9 301.1,231.8 300.8,231.3 300.6,231.3 300.3,231.8 300.1,231.6 299.8,231.2 299.6,231.8 299.3,231.5 299.1,231.2 298.8,231.7 298.6,231.1 298.3,231.4 298.1,230.8 297.8,231.9 297.6,230.7 297.3,231.5 297.1,231.8 296.8,231.0 296.6,231.4 296.3,231.7 296.1,231.8 295.8,231.7 295.6,231.5 295.3,231.0 295.1,230.7 294.8,231.5 294.6,231.5 294.3,230.7 294.1,231.3 293.8,231.5 293.6,230.6 293.3,231.5 293.1,231.0 292.8,230.7 292.6,230.6 292.3,231.6 292.1,231.0 291.8,231.5 291.6,231.7 291.3,231.7 291.1,231.1 290.8,231.2 290.6,230.6 290.3,230.5 290.1,231.6 289.9,230.8 289.6,231.1 289.4,231.4 289.1,231.1 288.9,230.9 288.6,230.7 288.4,231.2 288.1,231.1 287.9,231.7 287.6,232.0 287.4,231.8 287.1,232.5 286.9,232.1 286.6,233.1 286.4,233.2 286.1,232.8 285.9,233.6 285.6,234.7 285.4,235.4 285.1,236.6 284.9,237.4 284.6,238.5 284.4,240.3 284.1,240.5 283.9,239.6 283.6,240.2 283.4,240.1 283.1,240.3 282.9,239.6 282.6,240.0 282.4,240.3 282.1,240.0 281.9,240.1 281.6,239.5 281.4,240.0 281.1,240.4 280.9,239.8 280.6,239.9 280.4,240.1 280.1,239.8 279.9,240.7 279.6,240.4 279.4,240.0 279.1,240.1 278.9,239.8 278.7,240.6 278.4,239.8 278.2,239.5 277.9,239.5 277.7,239.7 277.4,240.4 277.2,240.6 276.9,240.1 276.7,239.6 276.4,240.6 276.2,240.1 275.9,240.5 275.7,240.0 275.4,240.2 275.2,239.6 274.9,240.1 274.7,240.5 274.4,239.6 274.2,239.6 273.9,240.3 273.7,240.6 273.4,240.1 273.2,239.7 272.9,239.5 272.7,240.5 272.4,239.6 272.2,239.9 271.9,240.7 271.7,240.6 271.4,240.0 271.2,239.6 270.9,240.7 270.7,240.5 270.4,239.9 270.2,240.1 269.9,240.0 269.7,240.4 269.4,240.2 269.2,239.6 268.9,240.0 268.7,240.0 268.4,240.2 268.2,240.3 268.0,240.1 267.7,240.5 267.5,240.3 267.2,240.4 267.0,239.7 266.7,239.6 266.5,239.5 266.2,240.4 266.0,239.8 265.7,240.1 265.5,240.1 265.2,240.1 265.0,239.9 264.7,239.8 264.5,240.2 264.2,239.9 264.0,240.1 263.7,240.1 263.5,240.6 263.2,240.5 263.0,240.0 262.7,239.9 262.5,240.3 262.2,240.0 262.0,240.2 261.7,239.7 261.5,239.7 261.2,240.3 261.0,239.8 260.7,239.4 260.5,239.7 260.2,239.5 260.0,240.7 259.7,240.3 259.5,239.8 259.2,240.5 259.0,240.3 258.7,239.8 258.5,240.3 258.2,240.3 258.0,240.1 257.7,240.0 257.5,239.5 257.2,240.1 257.0,239.9 256.8,240.3 256.5,240.6 256.3,240.5 256.0,239.8 255.8,239.8 255.5,240.2 255.3,240.3 255.0,239.9 254.8,239.7 254.5,240.0 254.3,240.4 254.0,240.1 253.8,240.4 253.5,239.6 253.3,240.6 253.0,240.0 252.8,240.6 252.5,240.7 252.3,240.3 252.0,239.9 251.8,240.4 251.5,240.5 251.3,240.6 251.0,240.0 250.8,240.5 250.5,240.3 250.3,240.5 250.0,240.3 249.8,240.4 249.5,239.9 249.3,239.7 249.0,240.5 248.8,240.7 248.5,239.8 248.3,239.5 248.0,240.3 247.8,239.9 247.5,240.5 247.3,240.6 247.0,240.0 246.8,239.7 246.5,240.3 246.3,239.6 246.1,240.6 245.8,240.3 245.6,239.7 245.3,240.2 245.1,240.4 244.8,240.1 244.6,240.1 244.3,240.5 244.1,240.0 243.8,240.5 243.6,239.7 243.3,239.6 243.1,239.9 242.8,240.0 242.6,240.7 242.3,239.8 242.1,240.4 241.8,239.7 241.6,240.2 241.3,239.6 241.1,239.8 240.8,239.7 240.6,239.7 240.3,240.7 240.1,239.9 239.8,239.9 239.6,240.3 239.3,240.0 239.1,239.8 238.8,239.8 238.6,240.3 238.3,241.0 238.1,240.7 237.8,240.1 237.6,240.1 237.3,240.9 237.1,240.7 236.8,240.4 236.6,241.0 236.3,240.8 236.1,240.9 235.8,240.2 235.6,240.2 235.3,240.8 235.1,240.7 234.9,240.4 234.6,240.9 234.4,241.0 234.1,241.1 233.9,241.4 233.6,240.8 233.4,240.9 233.1,240.7 232.9,241.2 232.6,241.7 232.4,241.4 232.1,241.3 231.9,242.0 231.6,241.8 231.4,242.0 231.1,241.3 230.9,241.5 230.6,241.7 230.4,241.6 230.1,242.1 229.9,241.8 229.6,242.5 229.4,242.3 229.1,242.2 228.9,242.7 228.6,242.6 228.4,242.5 228.1,243.0 227.9,243.0 227.6,243.5 227.4,243.7 227.1,243.0 226.9,243.0 226.6,244.0 226.4,243.6 226.1,244.3 225.9,244.8 225.6,244.3 225.4,244.6 225.1,244.9 224.9,245.0 224.6,244.6 224.4,245.8 224.1,245.3 223.9,245.8 223.7,246.0 223.4,246.1 223.2,245.8 222.9,247.1 222.7,246.2 222.4,247.6 222.2,246.7 221.9,247.2 221.7,248.1 221.4,248.4 221.2,247.9 220.9,248.6 220.7,248.3 220.4,248.9 220.2,248.8 219.9,249.0 219.7,249.5 219.4,249.4 219.2,250.4 218.9,250.1 218.7,250.0 218.4,250.8 218.2,250.5 217.9,250.2 217.7,250.6 217.4,251.5 217.2,251.1 216.9,250.8 216.7,250.9 216.4,250.6 216.2,250.7 215.9,251.1 215.7,250.5 215.4,250.7 215.2,251.2 214.9,251.1 214.7,250.7 214.4,250.0 214.2,250.0 213.9,249.3 213.7,249.3 213.4,248.5 213.2,248.3 213.0,246.7 212.7,246.0 212.5,245.3 212.2,244.6 212.0,244.3 211.7,242.9 211.5,242.3 211.2,240.1 211.0,239.3 210.7,238.7 210.5,237.1 210.2,234.7 210.0,232.7 209.7,231.4 209.5,231.2 209.2,231.8 209.0,231.9 208.7,231.7 208.5,231.7 208.2,231.5 208.0,231.3 207.7,231.5 207.5,231.8 207.2,231.9 207.0,230.8 206.7,231.7 206.5,231.8 206.2,230.8 206.0,230.9 205.7,231.5 205.5,231.6 205.2,231.4 205.0,231.6 204.7,231.3 204.5,232.0 204.2,231.1 204.0,231.4 203.7,231.1 203.5,231.2 203.2,230.9 203.0,230.8 202.7,231.2 202.5,230.8 202.2,231.6 202.0,231.4 201.8,231.7 201.5,231.5 201.3,232.0 201.0,231.0 200.8,232.0 200.5,231.1 200.3,231.0 200.0,231.7 199.8,230.8 199.5,231.9 199.3,231.3 199.0,231.5 198.8,231.0 198.5,231.5 198.3,231.6 198.0,231.4 197.8,230.9 197.5,231.2 197.3,231.2 197.0,231.9 196.8,231.1 196.5,231.6 196.3,231.3 196.0,231.6 195.8,230.9 195.5,231.9 195.3,231.3 195.0,230.8 194.8,230.9 194.5,232.1 194.3,232.0 194.0,231.9 193.8,231.4 193.5,231.2 193.3,232.0 193.0,231.5 192.8,231.0 192.5,231.4 192.3,231.8 192.0,231.9 191.8,231.9 191.5,231.9 191.3,231.7 191.1,231.3 190.8,232.0 190.6,232.0 190.3,231.9 190.1,231.5 189.8,231.7 189.6,232.0 189.3,231.7 189.1,231.3 188.8,231.7 188.6,232.0 188.3,231.8 188.1,231.0 187.8,231.6 187.6,232.1 187.3,231.4 187.1,231.9 186.8,230.9 186.6,232.1 186.3,231.5 186.1,231.4 185.8,232.1 185.6,232.1 185.3,231.4 185.1,232.1 184.8,231.6 184.6,231.0 184.3,232.0 184.1,232.1 183.8,231.2 183.6,231.4 183.3,231.4 183.1,231.4 182.8,231.9 182.6,231.3 182.3,231.3 182.1,231.9 181.8,232.1 181.6,231.5 181.3,231.8 181.1,232.1 180.8,231.8 180.6,232.0 180.3,232.1 180.1,231.6 179.9,232.2 179.6,232.2 179.4,231.8 179.1,232.4 178.9,231.6 178.6,232.2 178.4,231.8 178.1,232.0 177.9,231.9 177.6,232.3 177.4,232.1 177.1,232.4 176.9,232.0 176.6,232.4 176.4,231.8 176.1,232.5 175.9,231.7 175.6,232.2 175.4,232.0 175.1,232.9 174.9,232.3 174.6,232.3 174.4,232.2 174.1,233.1 173.9,232.7 173.6,232.3 173.4,232.6 173.1,232.7 172.9,232.6 172.6,232.7 172.4,232.7 172.1,232.6 171.9,232.8 171.6,233.2 171.4,233.4 171.1,233.8 170.9,233.3 170.6,234.0 170.4,233.1 170.1,233.9 169.9,233.7 169.6,234.1 169.4,233.5 169.1,233.8 168.9,233.5 168.7,234.5 168.4,234.6 168.2,234.6 167.9,234.0 167.7,234.9 167.4,235.1 167.2,234.9 166.9,235.4 166.7,234.7 166.4,235.9 166.2,235.9 165.9,236.2 165.7,236.0 165.4,236.8 165.2,235.8 164.9,236.7 164.7,236.4 164.4,236.9 164.2,237.5 163.9,238.0 163.7,238.2 163.4,238.1 163.2,238.0 162.9,239.3 162.7,239.1 162.4,239.3 162.2,239.2 161.9,240.0 161.7,240.3 161.4,240.3 161.2,240.6 160.9,241.7 160.7,242.0 160.4,243.0 160.2,242.7 159.9,243.8 159.7,242.7 159.4,243.6 159.2,242.8 158.9,243.8 158.7,242.9 158.4,243.3 158.2,242.6 158.0,243.3 157.7,242.6 157.5,242.7 157.2,243.3 157.0,242.9 156.7,242.9 156.5,243.4 156.2,242.7 156.0,242.9 155.7,243.1 155.5,243.0 155.2,242.9 155.0,243.0 154.7,243.8 154.5,242.9 154.2,243.7 154.0,243.0 153.7,242.9 153.5,243.2 153.2,242.8 153.0,243.5 152.7,243.4 152.5,242.7 152.2,243.4 152.0,243.5 151.7,243.3 151.5,243.5 151.2,242.7 151.0,243.7 150.7,243.0 150.5,243.6 150.2,242.6 150.0,242.8 149.7,243.3 149.5,243.1 149.2,243.3 149.0,243.6 148.7,243.4 148.5,243.4 148.2,242.7 148.0,243.4 147.7,242.7 147.5,243.4 147.2,242.9 147.0,242.9 146.8,243.3 146.5,242.6 146.3,243.5 146.0,242.7 145.8,242.8 145.5,243.7 145.3,243.5 145.0,243.6 144.8,242.7 144.5,242.6 144.3,243.6 144.0,242.7 143.8,242.5 143.5,242.9 143.3,243.7 143.0,243.7 142.8,243.7 142.5,242.6 142.3,242.6 142.0,242.9 141.8,242.6 141.5,242.9 141.3,242.6 141.0,242.7 140.8,243.6 140.5,242.8 140.3,243.7 140.0,243.6 139.8,242.7 139.5,243.2 139.3,242.9 139.0,243.5 138.8,242.7 138.5,242.9 138.3,243.4 138.0,243.6 137.8,243.1 137.5,242.8 137.3,242.6 137.0,243.2 136.8,243.2 136.5,242.6 136.3,242.5 136.0,243.6 135.8,242.9 135.6,243.3 135.3,242.9 135.1,243.7 134.8,242.7 134.6,243.2 134.3,242.8 134.1,243.6 133.8,242.6 133.6,243.1 133.3,243.5 133.1,243.3 132.8,242.6 132.6,242.5 132.3,243.2 132.1,242.5 131.8,242.6 131.6,242.9 131.3,242.5 131.1,242.7 130.8,242.5 130.6,243.1 130.3,242.9 130.1,242.6 129.8,242.8 129.6,243.6 129.3,242.9 129.1,243.5 128.8,242.8 128.6,243.3 128.3,242.8 128.1,243.1 127.8,242.8 127.6,243.4 127.3,243.0 127.1,243.4 126.8,242.7 126.6,243.1 126.3,243.4 126.1,242.9 125.8,243.6 125.6,243.2 125.3,242.7 125.1,242.8 124.9,243.4 124.6,243.1 124.4,242.4 124.1,242.5 123.9,243.3 123.6,242.3 123.4,242.5 123.1,243.1 122.9,242.7 122.6,243.1 122.4,242.4 122.1,242.6 121.9,243.1 121.6,242.4 121.4,243.4 121.1,242.9 120.9,242.4 120.6,243.0 120.4,242.5 120.1,243.3 119.9,242.2 119.6,243.3 119.4,242.3 119.1,242.3 118.9,242.7 118.6,242.6 118.4,243.3 118.1,242.6 117.9,242.4 117.6,243.3 117.4,242.2 117.1,242.9 116.9,243.2 116.6,242.3 116.4,243.2 116.1,242.7 115.9,242.6 115.6,242.1 115.4,242.7 115.1,242.4 114.9,243.3 114.6,242.5 114.4,243.0 114.1,242.3 113.9,242.8 113.7,242.4 113.4,242.9 113.2,243.2 112.9,242.7 112.7,242.6 112.4,242.8 112.2,243.2 111.9,242.4 111.7,242.3 111.4,242.7 111.2,242.5 110.9,242.6 110.7,242.1 110.4,242.5 110.2,242.0 109.9,242.8 109.7,243.1 109.4,243.1 109.2,242.8 108.9,242.6 108.7,242.7 108.4,242.8 108.2,242.3 107.9,242.3 107.7,242.8 107.4,242.7 107.2,241.8 106.9,242.3 106.7,242.5 106.4,242.3 106.2,242.1 105.9,242.6 105.7,242.2 105.4,241.9 105.2,242.7 104.9,241.9 104.7,242.3 104.4,241.7 104.2,241.7 103.9,242.3 103.7,242.6 103.4,242.4 103.2,242.3 103.0,241.7 102.7,242.4 102.5,242.0 102.2,242.7 102.0,242.2 101.7,242.3 101.5,242.4 101.2,241.5 101.0,242.4 100.7,242.3 100.5,242.4 100.2,242.1 100.0,241.4 99.7,242.3 99.5,242.3 99.2,242.2 99.0,242.0 98.7,241.6 98.5,242.2 98.2,242.1 98.0,241.3 97.7,241.6 97.5,241.6 97.2,241.1 97.0,241.7 96.7,241.9 96.5,241.0 96.2,241.0 96.0,241.8 95.7,241.3 95.5,241.2 95.2,241.3 95.0,241.2 94.7,241.8 94.5,241.6 94.2,240.7 94.0,240.9 93.7,241.0 93.5,240.5 93.2,240.3 93.0,240.6 92.7,240.3 92.5,240.8 92.2,240.6 92.0,240.4 91.8,240.2 91.5,240.4 91.3,239.7 91.0,240.3 90.8,239.0 90.5,239.6 90.3,239.2 90.0,238.7 89.8,238.5 89.5,239.0 89.3,238.7 89.0,237.6 88.8,238.3 88.5,237.8 88.3,236.8 88.0,237.2 87.8,236.3 87.5,236.3 87.3,236.2 87.0,235.6 86.8,234.2 86.5,234.2 86.3,233.5 86.0,232.7 85.8,232.5 85.5,231.7 85.3,231.7 85.0,231.5 84.8,231.9 84.5,231.1 84.3,231.0 84.0,231.8 83.8,231.9 83.5,231.7 83.3,230.9 83.0,232.0 82.8,230.9 82.5,231.9 82.3,230.9 82.0,231.7 81.8,231.2 81.5,231.7 81.3,231.3 81.0,231.2 80.8,231.0 80.6,231.8 80.3,231.5 80.1,231.0 79.8,231.1 79.6,231.6 79.3,231.1 79.1,231.2 78.8,231.0 78.6,231.2 78.3,231.1 78.1,231.5 77.8,231.7 77.6,231.2 77.3,231.2 77.1,231.4 76.8,231.8 76.6,231.1 76.3,231.5 76.1,231.9 75.8,231.3 75.6,231.2 75.3,231.6 75.1,231.0 74.8,231.1 74.6,231.8 74.3,231.2 74.1,231.2 73.8,230.9 73.6,231.3 73.3,230.8 73.1,231.1 72.8,231.0 72.6,231.1 72.3,231.5 72.1,231.3 71.8,231.8 71.6,230.9 71.3,230.8 71.1,231.0 70.8,230.9 70.6,231.2 70.3,231.8 70.1,231.0 69.9,231.3 69.6,231.9 69.4,230.8 69.1,230.9 68.9,230.8 68.6,231.6 68.4,230.9 68.1,231.9 67.9,231.5 67.6,231.2 67.4,231.3 67.1,231.6 66.9,231.3 66.6,231.0 66.4,231.2 66.1,230.8 65.9,231.7 65.6,231.5 65.4,231.4 65.1,231.2 64.9,231.5 64.6,230.8 64.4,231.6 64.1,231.1 63.9,231.2 63.6,231.0 63.4,230.9 63.1,231.1 62.9,231.7 62.6,231.8 62.4,231.1 62.1,231.9 61.9,231.6 61.6,232.0 61.4,231.9 61.1,231.7 60.9,230.9 60.6,231.5 60.4,231.4 60.1,231.4 59.9,231.2 59.6,231.4 59.4,231.1 59.1,230.9 58.9,231.0 58.7,231.1 58.4,231.5 58.2,231.5 57.9,232.0 57.7,231.3 57.4,231.5 57.2,231.1 56.9,231.5 56.7,231.7 56.4,231.1 56.2,231.2 55.9,231.3 55.7,230.8 55.4,231.2 55.2,231.1 54.9,232.0 54.7,231.8 54.4,232.0 54.2,231.2 53.9,231.0 53.7,231.3 53.4,231.3 53.2,231.6 52.9,231.7 52.7,231.1 52.4,231.7 52.2,231.1 51.9,230.8 51.7,231.9 51.4,231.0 51.2,231.6 50.9,231.3 50.7,231.4 50.4,231.0 50.2,231.7 49.9,231.8 49.7,231.5 49.4,230.9 49.2,231.2 48.9,231.1 48.7,231.6 48.4,231.1 48.2,231.4 48.0,231.6"/>
<polyline fill="none" stroke="#0000ff" stroke-width="1.2" stroke-linejoin="round" points="48.0,218.6 48.1,214.8 48.2,211.4 48.3,208.7 48.4,206.9 48.6,206.3 48.7,206.9 48.8,208.7 48.9,211.4 49.1,214.8 49.2,218.6 49.3,222.4 49.4,225.8 49.6,228.5 49.7,230.3 49.8,230.9 49.9,230.3 50.1,228.5 50.2,225.8 50.3,222.4 50.4,218.6 50.6,214.8 50.7,211.4 50.8,208.7 50.9,206.9 51.1,206.3 51.2,206.9 51.3,208.7 51.4,211.4 51.6,214.8 51.7,218.6 51.8,222.4 51.9,225.8 52.1,228.5 52.2,230.3 52.3,230.9 52.4,230.3 52.6,228.5 52.7,225.8 52.8,222.4 52.9,218.6 53.1,214.8 53.2,211.4 53.3,208.7 53.4,206.9 53.5,206.3 53.7,206.9 53.8,208.7 53.9,211.4 54.0,214.8 54.2,218.6 54.3,222.4 54.4,225.8 54.5,228.5 54.7,230.3 54.8,230.9 54.9,230.3 55.0,228.5 55.2,225.8 55.3,222.4 55.4,218.6 55.5,214.8 55.7,211.4 55.8,208.7 55.9,206.9 56.0,206.3 56.2,206.9 56.3,208.7 56.4,211.4 56.5,214.8 56.7,218.6 56.8,222.4 56.9,225.8 57.0,228.5 57.2,230.3 57.3,230.9 57.4,230.3 57.5,228.5 57.7,225.8 57.8,222.4 57.9,218.6 58.0,214.8 58.2,211.4 58.3,208.7 58.4,206.9 58.5,206.3 58.7,206.9 58.8,208.7 58.9,211.4 59.0,214.8 59.1,218.6 59.3,222.4 59.4,225.8 59.5,228.5 59.6,230.3 59.8,230.9 59.9,230.3 60.0,228.5 60.1,225.8 60.3,222.4 60.4,218.6 60.5,214.8 60.6,211.4 60.8,208.7 60.9,206.9 61.0,206.3 61.1,206.9 61.3,208.7 61.4,211.4 61.5,214.8 61.6,218.6 61.8,222.4 61.9,225.8 62.0,228.5 62.1,230.3 62.3,230.9 62.4,230.3 62.5,228.5 62.6,225.8 62.8,222.4 62.9,218.6 63.0,214.8 63.1,211.4 63.3,208.7 63.4,206.9 63.5,206.3 63.6,206.9 63.8,208.7 63.9,211.4 64.0,214.8 64.1,218.6 64.3,222.4 64.4,225.8 64.5,228.5 64.6,230.3 64.7,230.9 64.9,230.3 65.0,228.5 65.1,225.8 65.2,222.4 65.4,218.6 65.5,214.8 65.6,211.4 65.7,208.7 65.9,206.9 66.0,206.3 66.1,206.9 66.2,208.7 66.4,211.4 66.5,214.8 66.6,218.6 66.7,222.4 66.9,225.8 67.0,228.5 67.1,230.3 67.2,230.9 67.4,230.3 67.5,228.5 67.6,225.8 67.7,222.4 67.9,218.6 68.0,214.8 68.1,211.4 68.2,208.7 68.4,206.9 68.5,206.3 68.6,206.9 68.7,208.7 68.9,211.4 69.0,214.8 69.1,218.6 69.2,222.4 69.4,225.8 69.5,228.5 69.6,230.3 69.7,230.9 69.9,230.3 70.0,228.5 70.1,225.8 70.2,222.4 70.3,218.6 70.5,214.8 70.6,211.4 70.7,208.7 70.8,206.9 71.0,206.3 71.1,206.9 71.2,208.7 71.3,211.4 71.5,214.8 71.6,218.6 71.7,222.4 71.8,225.8 72.0,228.5 72.1,230.3 72.2,230.9 72.3,230.3 72.5,228.5 72.6,225.8 72.7,222.4 72.8,218.6 73.0,214.8 73.1,211.4 73.2,208.7 73.3,206.9 73.5,206.3 73.6,206.9 73.7,208.7 73.8,211.4 74.0,214.8 74.1,218.6 74.2,222.4 74.3,225.8 74.5,228.5 74.6,230.3 74.7,230.9 74.8,230.3 75.0,228.5 75.1,225.8 75.2,222.4 75.3,218.6 75.5,214.8 75.6,211.4 75.7,208.7 75.8,206.9 75.9,206.3 76.1,206.9 76.2,208.7 76.3,211.4 76.4,214.8 76.6,218.6 76.7,222.4 76.8,225.8 76.9,228.5 77.1,230.3 77.2,230.9 77.3,230.3 77.4,228.5 77.6,225.8 77.7,222.4 77.8,218.6 77.9,214.8 78.1,211.4 78.2,208.7 78.3,206.9 78.4,206.3 78.6,206.9 78.7,208.7 78.8,211.4 78.9,214.8 79.1,218.6 79.2,222.4 79.3,225.8 79.4,228.5 79.6,230.3 79.7,230.9 79.8,230.3 79.9,228.5 80.1,225.8 80.2,222.4 80.3,218.6 80.4,214.8 80.6,211.4 80.7,208.7 80.8,206.9 80.9,206.3 81.0,206.9 81.2,208.7 81.3,211.4 81.4,214.8 81.5,218.6 81.7,222.4 81.8,225.8 81.9,228.5 82.0,230.3 82.2,230.9 82.3,230.3 82.4,228.5 82.5,225.8 82.7,222.4 82.8,218.6 82.9,214.8 83.0,211.4 83.2,208.7 83.3,206.9 83.4,206.3 83.5,206.9 83.7,208.7 83.8,211.4 83.9,214.8 84.0,218.6 84.2,222.4 84.3,225.8 84.4,228.5 84.5,230.3 84.7,230.9 84.8,230.3 84.9,228.5 85.0,225.8 85.2,222.4 85.3,218.6 85.4,214.6 85.5,210.5 85.7,207.0 85.8,204.3 85.9,203.0 86.0,203.2 86.2,205.0 86.3,208.5 86.4,213.2 86.5,218.8 86.6,224.7 86.8,230.4 86.9,235.1 87.0,238.4 87.1,239.9 87.3,239.3 87.4,236.6 87.5,232.1 87.6,226.1 87.8,219.2 87.9,212.1 88.0,205.5 88.1,200.0 88.3,196.4 88.4,195.0 88.5,195.9 88.6,199.2 88.8,204.6 88.9,211.6 89.0,219.5 89.1,227.6 89.3,235.0 89.4,241.0 89.5,245.0 89.6,246.5 89.8,245.4 89.9,241.7 90.0,235.8 90.1,228.3 90.3,219.8 90.4,211.2 90.5,203.3 90.6,197.0 90.8,192.8 90.9,191.3 91.0,192.6 91.1,196.6 91.3,202.9 91.4,211.0 91.5,220.0 91.6,229.0 91.8,237.3 91.9,243.9 92.0,248.2 92.1,249.8 92.2,248.4 92.4,244.3 92.5,237.7 92.6,229.4 92.7,220.1 92.9,210.7 93.0,202.2 93.1,195.4 93.2,191.0 93.4,189.4 93.5,190.9 93.6,195.2 93.7,202.0 93.9,210.6 94.0,220.1 94.1,229.8 94.2,238.5 94.4,245.4 94.5,249.9 94.6,251.5 94.7,250.1 94.9,245.6 95.0,238.7 95.1,229.9 95.2,220.2 95.4,210.4 95.5,201.5 95.6,194.5 95.7,189.9 95.9,188.3 96.0,189.8 96.1,194.3 96.2,201.4 96.4,210.3 96.5,220.2 96.6,230.2 96.7,239.1 96.9,246.3 97.0,250.9 97.1,252.5 97.2,251.0 97.4,246.4 97.5,239.3 97.6,230.3 97.7,220.2 97.8,210.2 98.0,201.1 98.1,193.9 98.2,189.2 98.3,187.6 98.5,189.2 98.6,193.8 98.7,201.0 98.8,210.1 99.0,220.2 99.1,230.4 99.2,239.6 99.3,246.9 99.5,251.5 99.6,253.2 99.7,251.6 99.8,246.9 100.0,239.7 100.1,230.5 100.2,220.2 100.3,210.0 100.5,200.8 100.6,193.4 100.7,188.7 100.8,187.1 101.0,188.7 101.1,193.4 101.2,200.7 101.3,210.0 101.5,220.2 101.6,230.6 101.7,239.9 101.8,247.3 102.0,252.0 102.1,253.7 102.2,252.1 102.3,247.3 102.5,239.9 102.6,230.6 102.7,220.3 102.8,209.9 103.0,200.5 103.1,193.1 103.2,188.3 103.3,186.6 103.4,188.3 103.6,193.0 103.7,200.5 103.8,209.8 103.9,220.3 104.1,230.7 104.2,240.1 104.3,247.6 104.4,252.4 104.6,254.0 104.7,252.4 104.8,247.6 104.9,240.1 105.1,230.7 105.2,220.3 105.3,209.8 105.4,200.3 105.6,192.8 105.7,188.0 105.8,186.3 105.9,187.9 106.1,192.8 106.2,200.3 106.3,209.7 106.4,220.3 106.6,230.8 106.7,240.3 106.8,247.8 106.9,252.7 107.1,254.4 107.2,252.7 107.3,247.9 107.4,240.3 107.6,230.8 107.7,220.3 107.8,209.7 107.9,200.2 108.1,192.6 108.2,187.7 108.3,186.0 108.4,187.7 108.5,192.5 108.7,200.1 108.8,209.7 108.9,220.3 109.0,230.9 109.2,240.4 109.3,248.0 109.4,252.9 109.5,254.6 109.7,253.0 109.8,248.1 109.9,240.5 110.0,230.9 110.2,220.3 110.3,209.6 110.4,200.0 110.5,192.4 110.7,187.5 110.8,185.8 110.9,187.4 111.0,192.3 111.2,200.0 111.3,209.6 111.4,220.3 111.5,230.9 111.7,240.6 111.8,248.2 111.9,253.1 112.0,254.8 112.2,253.2 112.3,248.3 112.4,240.6 112.5,231.0 112.7,220.3 112.8,209.5 112.9,199.9 113.0,192.2 113.2,187.3 113.3,185.6 113.4,187.3 113.5,192.2 113.7,199.8 113.8,209.5 113.9,220.3 114.0,231.0 114.1,240.7 114.3,248.4 114.4,253.3 114.5,255.0 114.6,253.3 114.8,248.4 114.9,240.7 115.0,231.0 115.1,220.3 115.3,209.5 115.4,199.8 115.5,192.1 115.6,187.1 115.8,185.4 115.9,187.1 116.0,192.0 116.1,199.7 116.3,209.5 116.4,220.3 116.5,231.0 116.6,240.8 116.8,248.5 116.9,253.5 117.0,255.2 117.1,253.5 117.3,248.5 117.4,240.8 117.5,231.1 117.6,220.3 117.8,209.4 117.9,199.7 118.0,191.9 118.1,186.9 118.3,185.2 118.4,186.9 118.5,191.9 118.6,199.7 118.8,209.4 118.9,220.3 119.0,231.1 119.1,240.9 119.3,248.6 119.4,253.6 119.5,255.4 119.6,253.6 119.7,248.7 119.9,240.9 120.0,231.1 120.1,220.3 120.2,209.4 120.4,199.6 120.5,191.8 120.6,186.8 120.7,185.1 120.9,186.8 121.0,191.8 121.1,199.6 121.2,209.4 121.4,220.3 121.5,231.1 121.6,240.9 121.7,248.7 121.9,253.7 122.0,255.5 122.1,253.8 122.2,248.8 122.4,241.0 122.5,231.1 122.6,220.3 122.7,209.4 122.9,199.5 123.0,191.7 123.1,186.7 123.2,185.0 123.4,186.7 123.5,191.7 123.6,199.5 123.7,209.3 123.9,220.3 124.0,231.2 124.1,241.0 124.2,248.8 124.4,253.9 124.5,255.6 124.6,253.9 124.7,248.8 124.9,241.0 125.0,231.2 125.1,220.3 125.2,209.3 125.3,199.5 125.5,191.6 125.6,186.6 125.7,184.9 125.8,186.6 126.0,191.6 126.1,199.4 126.2,209.3 126.3,220.3 126.5,231.2 126.6,241.1 126.7,248.9 126.8,253.9 127.0,255.7 127.1,254.0 127.2,248.9 127.3,241.1 127.5,231.2 127.6,220.3 127.7,209.3 127.8,199.4 128.0,191.6 128.1,186.5 128.2,184.8 128.3,186.5 128.5,191.6 128.6,199.4 128.7,209.3 128.8,220.3 129.0,231.2 129.1,241.1 129.2,249.0 129.3,254.0 129.5,255.8 129.6,254.0 129.7,249.0 129.8,241.1 130.0,231.2 130.1,220.3 130.2,209.3 130.3,199.4 130.5,191.5 130.6,186.5 130.7,184.7 130.8,186.4 130.9,191.5 131.1,199.4 131.2,209.3 131.3,220.3 131.4,231.2 131.6,241.2 131.7,249.0 131.8,254.1 131.9,255.8 132.1,254.1 132.2,249.0 132.3,241.2 132.4,231.3 132.6,220.3 132.7,209.3 132.8,199.3 132.9,191.4 133.1,186.4 133.2,184.6 133.3,186.4 133.4,191.4 133.6,199.3 133.7,209.2 133.8,220.3 133.9,231.3 134.1,241.2 134.2,249.1 134.3,254.1 134.4,255.9 134.6,254.2 134.7,249.1 134.8,241.2 134.9,231.3 135.1,220.3 135.2,209.2 135.3,199.3 135.4,191.4 135.6,186.3 135.7,184.6 135.8,186.3 135.9,191.4 136.0,199.3 136.2,209.2 136.3,220.3 136.4,231.3 136.5,241.2 136.7,249.1 136.8,254.2 136.9,255.9 137.0,254.2 137.2,249.1 137.3,241.2 137.4,231.3 137.5,220.3 137.7,209.2 137.8,199.3 137.9,191.4 138.0,186.3 138.2,184.5 138.3,186.3 138.4,191.4 138.5,199.3 138.7,209.2 138.8,220.3 138.9,231.3 139.0,241.3 139.2,249.2 139.3,254.2 139.4,256.0 139.5,254.2 139.7,249.2 139.8,241.3 139.9,231.3 140.0,220.3 140.2,209.2 140.3,199.2 140.4,191.3 140.5,186.2 140.7,184.5 140.8,186.2 140.9,191.3 141.0,199.2 141.2,209.2 141.3,220.3 141.4,231.3 141.5,241.3 141.6,249.2 141.8,254.3 141.9,256.0 142.0,254.3 142.1,249.2 142.3,241.3 142.4,231.3 142.5,220.3 142.6,209.2 142.8,199.2 142.9,191.3 143.0,186.2 143.1,184.5 143.3,186.2 143.4,191.3 143.5,199.2 143.6,209.2 143.8,220.3 143.9,231.3 144.0,241.3 144.1,249.2 144.3,254.3 144.4,256.1 144.5,254.3 144.6,249.2 144.8,241.3 144.9,231.3 145.0,220.3 145.1,209.2 145.3,199.2 145.4,191.3 145.5,186.2 145.6,184.4 145.8,186.2 145.9,191.3 146.0,199.2 146.1,209.2 146.3,220.3 146.4,231.3 146.5,241.3 146.6,249.3 146.8,254.3 146.9,256.1 147.0,254.3 147.1,249.3 147.2,241.3 147.4,231.3 147.5,220.3 147.6,209.2 147.7,199.2 147.9,191.2 148.0,186.2 148.1,184.4 148.2,186.1 148.4,191.2 148.5,199.2 148.6,209.2 148.7,220.3 148.9,231.3 149.0,241.3 149.1,249.3 149.2,254.4 149.4,256.1 149.5,254.4 149.6,249.3 149.7,241.3 149.9,231.3 150.0,220.3 150.1,209.2 150.2,199.2 150.4,191.2 150.5,186.1 150.6,184.4 150.7,186.1 150.9,191.2 151.0,199.2 151.1,209.2 151.2,220.3 151.4,231.3 151.5,241.4 151.6,249.3 151.7,254.4 151.9,256.1 152.0,254.4 152.1,249.3 152.2,241.4 152.4,231.3 152.5,220.3 152.6,209.2 152.7,199.2 152.8,191.2 153.0,186.1 153.1,184.4 153.2,186.1 153.3,191.2 153.5,199.1 153.6,209.2 153.7,220.3 153.8,231.4 154.0,241.4 154.1,249.3 154.2,254.4 154.3,256.2 154.5,254.4 154.6,249.3 154.7,241.4 154.8,231.4 155.0,220.3 155.1,209.2 155.2,199.1 155.3,191.2 155.5,186.1 155.6,184.3 155.7,186.1 155.8,191.2 156.0,199.1 156.1,209.2 156.2,220.3 156.3,231.4 156.5,241.4 156.6,249.3 156.7,254.4 156.8,256.2 157.0,254.4 157.1,249.3 157.2,241.4 157.3,231.4 157.5,220.3 157.6,209.1 157.7,199.1 157.8,191.2 158.0,186.1 158.1,184.3 158.2,186.1 158.3,191.2 158.4,199.1 158.6,209.1 158.7,220.3 158.8,231.4 158.9,241.4 159.1,249.3 159.2,254.4 159.3,256.2 159.4,254.4 159.6,249.3 159.7,241.4 159.8,231.4 159.9,220.3 160.1,209.3 160.2,199.6 160.3,192.2 160.4,187.7 160.6,186.4 160.7,188.4 160.8,193.5 160.9,201.0 161.1,210.1 161.2,220.0 161.3,229.7 161.4,238.2 161.6,244.8 161.7,248.8 161.8,249.9 161.9,248.0 162.1,243.5 162.2,236.8 162.3,228.6 162.4,219.7 162.6,211.0 162.7,203.3 162.8,197.3 162.9,193.7 163.1,192.6 163.2,194.1 163.3,198.1 163.4,204.1 163.5,211.4 163.7,219.3 163.8,227.1 163.9,234.0 164.0,239.3 164.2,242.6 164.3,243.5 164.4,242.1 164.5,238.5 164.7,233.0 164.8,226.3 164.9,219.1 165.0,211.9 165.2,205.6 165.3,200.7 165.4,197.7 165.5,196.7 165.7,198.0 165.8,201.3 165.9,206.2 166.0,212.3 166.2,218.9 166.3,225.4 166.4,231.2 166.5,235.7 166.7,238.5 166.8,239.3 166.9,238.2 167.0,235.1 167.2,230.6 167.3,224.9 167.4,218.8 167.5,212.7 167.7,207.3 167.8,203.1 167.9,200.5 168.0,199.7 168.2,200.7 168.3,203.5 168.4,207.8 168.5,213.0 168.7,218.7 168.8,224.4 168.9,229.4 169.0,233.3 169.1,235.8 169.3,236.5 169.4,235.6 169.5,233.0 169.6,229.0 169.8,224.1 169.9,218.7 170.0,213.3 170.1,208.6 170.3,204.9 170.4,202.5 170.5,201.8 170.6,202.7 170.8,205.1 170.9,208.9 171.0,213.5 171.1,218.6 171.3,223.7 171.4,228.2 171.5,231.8 171.6,234.0 171.8,234.7 171.9,233.8 172.0,231.5 172.1,227.9 172.3,223.5 172.4,218.6 172.5,213.8 172.6,209.5 172.8,206.1 172.9,203.9 173.0,203.2 173.1,204.0 173.3,206.2 173.4,209.7 173.5,213.9 173.6,218.6 173.8,223.3 173.9,227.4 174.0,230.7 174.1,232.8 174.3,233.5 174.4,232.7 174.5,230.5 174.6,227.3 174.7,223.1 174.9,218.6 175.0,214.1 175.1,210.1 175.2,206.9 175.4,204.9 175.5,204.2 175.6,204.9 175.7,207.0 175.9,210.2 176.0,214.2 176.1,218.6 176.2,223.0 176.4,226.9 176.5,230.0 176.6,232.0 176.7,232.6 176.9,231.9 177.0,229.9 177.1,226.8 177.2,222.9 177.4,218.6 177.5,214.3 177.6,210.5 177.7,207.5 177.9,205.5 178.0,204.9 178.1,205.6 178.2,207.5 178.4,210.6 178.5,214.4 178.6,218.6 178.7,222.8 178.9,226.6 179.0,229.5 179.1,231.4 179.2,232.1 179.4,231.4 179.5,229.5 179.6,226.5 179.7,222.7 179.9,218.6 180.0,214.5 180.1,210.8 180.2,207.8 180.3,206.0 180.5,205.3 180.6,206.0 180.7,207.9 180.8,210.8 181.0,214.5 181.1,218.6 181.2,222.7 181.3,226.3 181.5,229.2 181.6,231.1 181.7,231.7 181.8,231.0 182.0,229.2 182.1,226.3 182.2,222.6 182.3,218.6 182.5,214.6 182.6,211.0 182.7,208.1 182.8,206.3 183.0,205.7 183.1,206.3 183.2,208.2 183.3,211.0 183.5,214.6 183.6,218.6 183.7,222.6 183.8,226.2 184.0,229.0 184.1,230.8 184.2,231.4 184.3,230.8 184.5,229.0 184.6,226.1 184.7,222.5 184.8,218.6 185.0,214.7 185.1,211.1 185.2,208.3 185.3,206.5 185.5,205.9 185.6,206.5 185.7,208.3 185.8,211.1 185.9,214.7 186.1,218.6 186.2,222.5 186.3,226.0 186.4,228.8 186.6,230.6 186.7,231.2 186.8,230.6 186.9,228.8 187.1,226.0 187.2,222.5 187.3,218.6 187.4,214.7 187.6,211.2 187.7,208.4 187.8,206.6 187.9,206.0 188.1,206.6 188.2,208.4 188.3,211.2 188.4,214.7 188.6,218.6 188.7,222.5 188.8,226.0 188.9,228.7 189.1,230.5 189.2,231.1 189.3,230.5 189.4,228.7 189.6,225.9 189.7,222.5 189.8,218.6 189.9,214.7 190.1,211.3 190.2,208.5 190.3,206.7 190.4,206.1 190.6,206.7 190.7,208.5 190.8,211.3 190.9,214.8 191.1,218.6 191.2,222.4 191.3,225.9 191.4,228.7 191.5,230.4 191.7,231.0 191.8,230.4 191.9,228.7 192.0,225.9 192.2,222.4 192.3,218.6 192.4,214.8 192.5,211.3 192.7,208.6 192.8,206.8 192.9,206.2 193.0,206.8 193.2,208.6 193.3,211.3 193.4,214.8 193.5,218.6 193.7,222.4 193.8,225.9 193.9,228.6 194.0,230.4 194.2,231.0 194.3,230.4 194.4,228.6 194.5,225.9 194.7,222.4 194.8,218.6 194.9,214.8 195.0,211.3 195.2,208.6 195.3,206.8 195.4,206.2 195.5,206.8 195.7,208.6 195.8,211.3 195.9,214.8 196.0,218.6 196.2,222.4 196.3,225.9 196.4,228.6 196.5,230.3 196.6,230.9 196.8,230.3 196.9,228.6 197.0,225.9 197.1,222.4 197.3,218.6 197.4,214.8 197.5,211.4 197.6,208.6 197.8,206.9 197.9,206.3 198.0,206.9 198.1,208.6 198.3,211.4 198.4,214.8 198.5,218.6 198.6,222.4 198.8,225.8 198.9,228.6 199.0,230.3 199.1,230.9 199.3,230.3 199.4,228.6 199.5,225.8 199.6,222.4 199.8,218.6 199.9,214.8 200.0,211.4 200.1,208.6 200.3,206.9 200.4,206.3 200.5,206.9 200.6,208.6 200.8,211.4 200.9,214.8 201.0,218.6 201.1,222.4 201.3,225.8 201.4,228.5 201.5,230.3 201.6,230.9 201.8,230.3 201.9,228.5 202.0,225.8 202.1,222.4 202.2,218.6 202.4,214.8 202.5,211.4 202.6,208.7 202.7,206.9 202.9,206.3 203.0,206.9 203.1,208.7 203.2,211.4 203.4,214.8 203.5,218.6 203.6,222.4 203.7,225.8 203.9,228.5 204.0,230.3 204.1,230.9 204.2,230.3 204.4,228.5 204.5,225.8 204.6,222.4 204.7,218.6 204.9,214.8 205.0,211.4 205.1,208.7 205.2,206.9 205.4,206.3 205.5,206.9 205.6,208.7 205.7,211.4 205.9,214.8 206.0,218.6 206.1,222.4 206.2,225.8 206.4,228.5 206.5,230.3 206.6,230.9 206.7,230.3 206.9,228.5 207.0,225.8 207.1,222.4 207.2,218.6 207.4,214.8 207.5,211.4 207.6,208.7 207.7,206.9 207.8,206.3 208.0,206.9 208.1,208.7 208.2,211.4 208.3,214.8 208.5,218.6 208.6,222.4 208.7,225.8 208.8,228.5 209.0,230.3 209.1,230.9 209.2,230.3 209.3,228.5 209.5,225.8 209.6,222.4 209.7,218.6 209.8,214.5 210.0,210.1 210.1,206.0 210.2,202.8 210.3,201.1 210.5,201.0 210.6,202.9 210.7,206.7 210.8,212.0 211.0,218.5 211.1,225.4 211.2,232.1 211.3,237.8 211.5,241.8 211.6,243.7 211.7,243.0 211.8,239.8 212.0,234.3 212.1,226.9 212.2,218.3 212.3,209.4 212.5,201.1 212.6,194.2 212.7,189.6 212.8,187.6 213.0,188.7 213.1,192.8 213.2,199.5 213.3,208.2 213.4,218.1 213.6,228.2 213.7,237.5 213.8,245.1 213.9,250.0 214.1,251.9 214.2,250.5 214.3,245.8 214.4,238.3 214.6,228.7 214.7,217.9 214.8,207.0 214.9,197.0 215.1,189.1 215.2,183.9 215.3,182.0 215.4,183.6 215.6,188.6 215.7,196.5 215.8,206.5 215.9,217.7 216.1,228.9 216.2,239.0 216.3,247.1 216.4,252.3 216.6,254.0 216.7,252.3 216.8,247.1 216.9,239.0 217.1,228.8 217.2,217.6 217.3,206.3 217.4,196.2 217.6,188.2 217.7,183.1 217.8,181.4 217.9,183.2 218.1,188.3 218.2,196.3 218.3,206.4 218.4,217.5 218.6,228.5 218.7,238.4 218.8,246.2 218.9,251.1 219.0,252.7 219.2,250.9 219.3,245.8 219.4,238.0 219.5,228.2 219.7,217.4 219.8,206.7 219.9,197.0 220.0,189.5 220.2,184.7 220.3,183.1 220.4,184.9 220.5,189.9 220.7,197.4 220.8,206.9 220.9,217.3 221.0,227.6 221.2,236.9 221.3,244.1 221.4,248.7 221.5,250.2 221.7,248.5 221.8,243.7 221.9,236.4 222.0,227.3 222.2,217.3 222.3,207.3 222.4,198.4 222.5,191.5 222.7,187.1 222.8,185.6 222.9,187.3 223.0,191.9 223.2,198.9 223.3,207.6 223.4,217.2 223.5,226.8 223.7,235.3 223.8,242.0 223.9,246.3 224.0,247.6 224.1,246.0 224.3,241.6 224.4,234.9 224.5,226.5 224.6,217.2 224.8,208.0 224.9,199.8 225.0,193.3 225.1,189.2 225.3,187.9 225.4,189.4 225.5,193.7 225.6,200.1 225.8,208.3 225.9,217.2 226.0,226.1 226.1,234.0 226.3,240.3 226.4,244.2 226.5,245.5 226.6,244.1 226.8,240.0 226.9,233.7 227.0,225.8 227.1,217.2 227.3,208.6 227.4,200.9 227.5,194.8 227.6,190.9 227.8,189.7 227.9,191.1 228.0,195.0 228.1,201.1 228.3,208.8 228.4,217.2 228.5,225.5 228.6,233.0 228.8,239.0 228.9,242.7 229.0,244.0 229.1,242.6 229.3,238.8 229.4,232.8 229.5,225.4 229.6,217.2 229.7,209.0 229.9,201.6 230.0,195.8 230.1,192.2 230.2,190.9 230.4,192.3 230.5,196.0 230.6,201.8 230.7,209.1 230.9,217.2 231.0,225.2 231.1,232.4 231.2,238.1 231.4,241.7 231.5,242.9 231.6,241.6 231.7,237.9 231.9,232.2 232.0,225.1 232.1,217.2 232.2,209.3 232.4,202.2 232.5,196.6 232.6,193.0 232.7,191.8 232.9,193.0 233.0,196.7 233.1,202.3 233.2,209.3 233.4,217.2 233.5,224.9 233.6,232.0 233.7,237.5 233.9,241.1 234.0,242.3 234.1,241.0 234.2,237.4 234.4,231.9 234.5,224.9 234.6,217.2 234.7,209.4 234.9,202.5 235.0,197.0 235.1,193.5 235.2,192.3 235.3,193.5 235.5,197.1 235.6,202.6 235.7,209.5 235.8,217.2 236.0,224.8 236.1,231.7 236.2,237.1 236.3,240.6 236.5,241.8 236.6,240.6 236.7,237.1 236.8,231.6 237.0,224.8 237.1,217.2 237.2,209.6 237.3,202.7 237.5,197.3 237.6,193.8 237.7,192.6 237.8,193.8 238.0,197.3 238.1,202.8 238.2,209.6 238.3,217.2 238.5,224.7 238.6,231.5 238.7,236.9 238.8,240.4 239.0,241.6 239.1,240.4 239.2,236.9 239.3,231.5 239.5,224.7 239.6,217.2 239.7,209.6 239.8,202.8 240.0,197.5 240.1,194.0 240.2,192.8 240.3,194.0 240.5,197.5 240.6,202.9 240.7,209.6 240.8,217.2 240.9,224.7 241.1,231.4 241.2,236.8 241.3,240.2 241.4,241.4 241.6,240.2 241.7,236.8 241.8,231.4 241.9,224.6 242.1,217.2 242.2,209.7 242.3,202.9 242.4,197.6 242.6,194.1 242.7,192.9 242.8,194.1 242.9,197.6 243.1,202.9 243.2,209.7 243.3,217.2 243.4,224.6 243.6,231.4 243.7,236.7 243.8,240.1 243.9,241.3 244.1,240.1 244.2,236.7 244.3,231.4 244.4,224.6 244.6,217.2 244.7,209.7 244.8,203.0 244.9,197.6 245.1,194.2 245.2,193.0 245.3,194.2 245.4,197.6 245.6,203.0 245.7,209.7 245.8,217.2 245.9,224.6 246.1,231.3 246.2,236.7 246.3,240.1 246.4,241.3 246.5,240.1 246.7,236.7 246.8,231.3 246.9,224.6 247.0,217.2 247.2,209.7 247.3,203.0 247.4,197.7 247.5,194.2 247.7,193.1 247.8,194.2 247.9,197.7 248.0,203.0 248.2,209.7 248.3,217.2 248.4,224.6 248.5,231.3 248.7,236.6 248.8,240.1 248.9,241.2 249.0,240.1 249.2,236.6 249.3,231.3 249.4,224.6 249.5,217.2 249.7,209.7 249.8,203.0 249.9,197.7 250.0,194.3 250.2,193.1 250.3,194.3 250.4,197.7 250.5,203.0 250.7,209.7 250.8,217.2 250.9,224.6 251.0,231.3 251.2,236.6 251.3,240.0 251.4,241.2 251.5,240.0 251.6,236.6 251.8,231.3 251.9,224.6 252.0,217.2 252.1,209.7 252.3,203.0 252.4,197.7 252.5,194.3 252.6,193.1 252.8,194.3 252.9,197.7 253.0,203.0 253.1,209.7 253.3,217.2 253.4,224.6 253.5,231.3 253.6,236.6 253.8,240.0 253.9,241.2 254.0,240.0 254.1,236.6 254.3,231.3 254.4,224.6 254.5,217.2 254.6,209.7 254.8,203.0 254.9,197.7 255.0,194.3 255.1,193.1 255.3,194.3 255.4,197.7 255.5,203.0 255.6,209.7 255.8,217.2 255.9,224.6 256.0,231.3 256.1,236.6 256.3,240.0 256.4,241.2 256.5,240.0 256.6,236.6 256.8,231.3 256.9,224.6 257.0,217.2 257.1,209.7 257.2,203.0 257.4,197.7 257.5,194.3 257.6,193.1 257.7,194.3 257.9,197.7 258.0,203.0 258.1,209.7 258.2,217.2 258.4,224.6 258.5,231.3 258.6,236.6 258.7,240.0 258.9,241.2 259.0,240.0 259.1,236.6 259.2,231.3 259.4,224.6 259.5,217.2 259.6,209.7 259.7,203.0 259.9,197.7 260.0,194.3 260.1,193.1 260.2,194.3 260.4,197.7 260.5,203.0 260.6,209.7 260.7,217.2 260.9,224.6 261.0,231.3 261.1,236.6 261.2,240.0 261.4,241.2 261.5,240.0 261.6,236.6 261.7,231.3 261.9,224.6 262.0,217.2 262.1,209.7 262.2,203.0 262.4,197.7 262.5,194.3 262.6,193.1 262.7,194.3 262.8,197.7 263.0,203.0 263.1,209.7 263.2,217.2 263.3,224.6 263.5,231.3 263.6,236.6 263.7,240.0 263.8,241.2 264.0,240.0 264.1,236.6 264.2,231.3 264.3,224.6 264.5,217.2 264.6,209.7 264.7,203.0 264.8,197.7 265.0,194.3 265.1,193.1 265.2,194.3 265.3,197.7 265.5,203.0 265.6,209.7 265.7,217.2 265.8,224.6 266.0,231.3 266.1,236.6 266.2,240.0 266.3,241.2 266.5,240.0 266.6,236.6 266.7,231.3 266.8,224.6 267.0,217.2 267.1,209.7 267.2,203.0 267.3,197.7 267.5,194.3 267.6,193.1 267.7,194.3 267.8,197.7 268.0,203.0 268.1,209.7 268.2,217.2 268.3,224.6 268.4,231.3 268.6,236.6 268.7,240.0 268.8,241.2 268.9,240.0 269.1,236.6 269.2,231.3 269.3,224.6 269.4,217.2 269.6,209.7 269.7,203.0 269.8,197.7 269.9,194.3 270.1,193.1 270.2,194.3 270.3,197.7 270.4,203.0 270.6,209.7 270.7,217.2 270.8,224.6 270.9,231.3 271.1,236.6 271.2,240.0 271.3,241.2 271.4,240.0 271.6,236.6 271.7,231.3 271.8,224.6 271.9,217.2 272.1,209.7 272.2,203.0 272.3,197.7 272.4,194.3 272.6,193.1 272.7,194.3 272.8,197.7 272.9,203.0 273.1,209.7 273.2,217.2 273.3,224.6 273.4,231.3 273.6,236.6 273.7,240.0 273.8,241.2 273.9,240.0 274.0,236.6 274.2,231.3 274.3,224.6 274.4,217.2 274.5,209.7 274.7,203.0 274.8,197.7 274.9,194.3 275.0,193.1 275.2,194.3 275.3,197.7 275.4,203.0 275.5,209.7 275.7,217.2 275.8,224.6 275.9,231.3 276.0,236.6 276.2,240.0 276.3,241.2 276.4,240.0 276.5,236.6 276.7,231.3 276.8,224.6 276.9,217.2 277.0,209.7 277.2,203.0 277.3,197.7 277.4,194.3 277.5,193.1 277.7,194.3 277.8,197.7 277.9,203.0 278.0,209.7 278.2,217.2 278.3,224.6 278.4,231.3 278.5,236.6 278.7,240.0 278.8,241.2 278.9,240.0 279.0,236.6 279.1,231.3 279.3,224.6 279.4,217.2 279.5,209.7 279.6,203.0 279.8,197.7 279.9,194.3 280.0,193.1 280.1,194.3 280.3,197.7 280.4,203.0 280.5,209.7 280.6,217.2 280.8,224.6 280.9,231.3 281.0,236.6 281.1,240.0 281.3,241.2 281.4,240.0 281.5,236.6 281.6,231.3 281.8,224.6 281.9,217.2 282.0,209.7 282.1,203.0 282.3,197.7 282.4,194.3 282.5,193.1 282.6,194.3 282.8,197.7 282.9,203.0 283.0,209.7 283.1,217.2 283.3,224.6 283.4,231.3 283.5,236.6 283.6,240.0 283.8,241.2 283.9,240.0 284.0,236.6 284.1,231.3 284.3,224.6 284.4,217.2 284.5,210.0 284.6,204.1 284.7,199.8 284.9,197.5 285.0,197.2 285.1,198.7 285.2,202.0 285.4,206.5 285.5,211.8 285.6,217.3 285.7,222.6 285.9,227.1 286.0,230.5 286.1,232.5 286.2,233.0 286.4,232.0 286.5,229.7 286.6,226.2 286.7,222.0 286.9,217.5 287.0,213.1 287.1,209.3 287.2,206.3 287.4,204.5 287.5,203.9 287.6,204.7 287.7,206.8 287.9,209.9 288.0,213.7 288.1,217.8 288.2,221.9 288.4,225.5 288.5,228.4 288.6,230.2 288.7,230.8 288.9,230.1 289.0,228.3 289.1,225.5 289.2,221.9 289.4,218.0 289.5,214.1 289.6,210.6 289.7,207.9 289.9,206.1 290.0,205.6 290.1,206.2 290.2,208.0 290.3,210.8 290.5,214.3 290.6,218.2 290.7,222.0 290.8,225.5 291.0,228.3 291.1,230.0 291.2,230.6 291.3,230.0 291.5,228.3 291.6,225.6 291.7,222.1 291.8,218.3 292.0,214.5 292.1,211.1 292.2,208.4 292.3,206.6 292.5,206.0 292.6,206.7 292.7,208.4 292.8,211.2 293.0,214.6 293.1,218.4 293.2,222.2 293.3,225.6 293.5,228.4 293.6,230.1 293.7,230.7 293.8,230.1 294.0,228.4 294.1,225.7 294.2,222.3 294.3,218.5 294.5,214.7 294.6,211.3 294.7,208.6 294.8,206.8 295.0,206.2 295.1,206.8 295.2,208.6 295.3,211.3 295.5,214.7 295.6,218.5 295.7,222.3 295.8,225.7 295.9,228.4 296.1,230.2 296.2,230.8 296.3,230.2 296.4,228.5 296.6,225.7 296.7,222.3 296.8,218.5 296.9,214.8 297.1,211.3 297.2,208.6 297.3,206.9 297.4,206.3 297.6,206.9 297.7,208.6 297.8,211.4 297.9,214.8 298.1,218.6 298.2,222.4 298.3,225.8 298.4,228.5 298.6,230.2 298.7,230.8 298.8,230.2 298.9,228.5 299.1,225.8 299.2,222.4 299.3,218.6 299.4,214.8 299.6,211.4 299.7,208.7 299.8,206.9 299.9,206.3 300.1,206.9 300.2,208.7 300.3,211.4 300.4,214.8 300.6,218.6 300.7,222.4 300.8,225.8 300.9,228.5 301.1,230.2 301.2,230.8 301.3,230.2 301.4,228.5 301.5,225.8 301.7,222.4 301.8,218.6 301.9,214.8 302.0,211.4 302.2,208.7 302.3,206.9 302.4,206.3 302.5,206.9 302.7,208.7 302.8,211.4 302.9,214.8 303.0,218.6 303.2,222.4 303.3,225.8 303.4,228.5 303.5,230.3 303.7,230.9 303.8,230.3 303.9,228.5 304.0,225.8 304.2,222.4 304.3,218.6 304.4,214.8 304.5,211.4 304.7,208.7 304.8,206.9 304.9,206.3 305.0,206.9 305.2,208.7 305.3,211.4 305.4,214.8 305.5,218.6 305.7,222.4 305.8,225.8 305.9,228.5 306.0,230.3 306.2,230.9 306.3,230.3 306.4,228.5 306.5,225.8 306.6,222.4 306.8,218.6 306.9,214.8 307.0,211.4 307.1,208.7 307.3,206.9 307.4,206.3 307.5,206.9 307.6,208.7 307.8,211.4 307.9,214.8 308.0,218.6 308.1,222.4 308.3,225.8 308.4,228.5 308.5,230.3 308.6,230.9 308.8,230.3 308.9,228.5 309.0,225.8 309.1,222.4 309.3,218.6 309.4,214.8 309.5,211.4 309.6,208.7 309.8,206.9 309.9,206.3 310.0,206.9 310.1,208.7 310.3,211.4 310.4,214.8 310.5,218.6 310.6,222.4 310.8,225.8 310.9,228.5 311.0,230.3 311.1,230.9 311.3,230.3 311.4,228.5 311.5,225.8 311.6,222.4 311.8,218.6 311.9,214.8 312.0,211.4 312.1,208.7 312.2,206.9 312.4,206.3 312.5,206.9 312.6,208.7 312.7,211.4 312.9,214.8 313.0,218.6 313.1,222.4 313.2,225.8 313.4,228.5 313.5,230.3 313.6,230.9 313.7,230.3 313.9,228.5 314.0,225.8 314.1,222.4 314.2,218.6 314.4,214.8 314.5,211.4 314.6,208.7 314.7,206.9 314.9,206.3 315.0,206.9 315.1,208.7 315.2,211.4 315.4,214.8 315.5,218.6 315.6,222.4 315.7,225.8 315.9,228.5 316.0,230.3 316.1,230.9 316.2,230.3 316.4,228.5 316.5,225.8 316.6,222.4 316.7,218.6 316.9,214.8 317.0,211.4 317.1,208.7 317.2,206.9 317.4,206.3 317.5,206.9 317.6,208.7 317.7,211.4 317.8,214.8 318.0,218.6 318.1,222.4 318.2,225.8 318.3,228.5 318.5,230.3 318.6,230.9 318.7,230.3 318.8,228.5 319.0,225.8 319.1,222.4 319.2,218.6 319.3,214.8 319.5,211.4 319.6,208.7 319.7,206.9 319.8,206.3 320.0,206.9 320.1,208.7 320.2,211.4 320.3,214.8 320.5,218.6 320.6,222.4 320.7,225.8 320.8,228.5 321.0,230.3 321.1,230.9 321.2,230.3 321.3,228.5 321.5,225.8 321.6,222.4 321.7,218.6 321.8,214.8 322.0,211.4 322.1,208.7 322.2,206.9 322.3,206.3 322.5,206.9 322.6,208.7 322.7,211.4 322.8,214.8 323.0,218.6 323.1,222.4 323.2,225.8 323.3,228.5 323.4,230.3 323.6,230.9 323.7,230.3 323.8,228.5 323.9,225.8 324.1,222.4 324.2,218.6 324.3,214.8 324.4,211.4 324.6,208.7 324.7,206.9 324.8,206.3 324.9,206.9 325.1,208.7 325.2,211.4 325.3,214.8 325.4,218.6 325.6,222.4 325.7,225.8 325.8,228.5 325.9,230.3 326.1,230.9 326.2,230.3 326.3,228.5 326.4,225.8 326.6,222.4 326.7,218.6 326.8,214.8 326.9,211.4 327.1,208.7 327.2,206.9 327.3,206.3 327.4,206.9 327.6,208.7 327.7,211.4 327.8,214.8 327.9,218.6 328.1,222.4 328.2,225.8 328.3,228.5 328.4,230.3 328.6,230.9 328.7,230.3 328.8,228.5 328.9,225.8 329.0,222.4 329.2,218.6 329.3,214.8 329.4,211.4 329.5,208.7 329.7,206.9 329.8,206.3 329.9,206.9 330.0,208.7 330.2,211.4 330.3,214.8 330.4,218.6 330.5,222.4 330.7,225.8 330.8,228.5 330.9,230.3 331.0,230.9 331.2,230.3 331.3,228.5 331.4,225.8 331.5,222.4 331.7,218.6 331.8,214.8 331.9,211.4 332.0,208.7 332.2,206.9 332.3,206.3 332.4,206.9 332.5,208.7 332.7,211.4 332.8,214.8 332.9,218.6 333.0,222.4 333.2,225.8 333.3,228.5 333.4,230.3 333.5,230.9 333.7,230.3 333.8,228.5 333.9,225.8 334.0,222.4 334.2,218.6"/>
<polyline fill="none" stroke="#ff0000" stroke-width="2.0" stroke-linejoin="round" points="47.95,218.60 48.45,218.60 48.95,218.60 49.44,218.60 49.94,218.60 50.44,218.60 50.94,218.60 51.43,218.60 51.93,218.60 52.43,218.60 52.93,218.60 53.43,218.60 53.92,218.60 54.42,218.60 54.92,218.60 55.42,218.60 55.91,218.60 56.41,218.60 56.91,218.60 57.41,218.60 57.90,218.60 58.40,218.60 58.90,218.60 59.40,218.60 59.90,218.60 60.39,218.60 60.89,218.60 61.39,218.60 61.89,218.60 62.38,218.60 62.88,218.60 63.38,218.60 63.88,218.60 64.38,218.60 64.87,218.60 65.37,218.60 65.87,218.60 66.37,218.60 66.86,218.60 67.36,218.60 67.86,218.60 68.36,218.60 68.86,218.60 69.35,218.60 69.85,218.60 70.35,218.60 70.85,218.60 71.34,218.60 71.84,218.60 72.34,218.60 72.84,218.60 73.33,218.60 73.83,218.60 74.33,218.60 74.83,218.60 75.33,218.60 75.82,218.60 76.32,218.60 76.82,218.60 77.32,218.60 77.81,218.60 78.31,218.60 78.81,218.60 79.31,218.60 79.81,218.60 80.30,218.60 80.80,218.60 81.30,218.60 81.80,218.60 82.29,218.60 82.79,218.60 83.29,218.60 83.79,218.60 84.28,218.60 84.78,218.60 85.28,218.60 85.78,218.64 86.28,218.75 86.77,218.89 87.27,219.04 87.77,219.19 88.27,219.33 88.76,219.46 89.26,219.58 89.76,219.69 90.26,219.78 90.76,219.86 91.25,219.92 91.75,219.98 92.25,220.03 92.75,220.07 93.24,220.10 93.74,220.13 94.24,220.15 94.74,220.17 95.24,220.19 95.73,220.20 96.23,220.21 96.73,220.22 97.23,220.23 97.72,220.23 98.22,220.24 98.72,220.24 99.22,220.24 99.71,220.24 100.21,220.25 100.71,220.25 101.21,220.25 101.71,220.25 102.20,220.25 102.70,220.25 103.20,220.25 103.70,220.25 104.19,220.25 104.69,220.25 105.19,220.25 105.69,220.25 106.19,220.25 106.68,220.25 107.18,220.25 107.68,220.25 108.18,220.25 108.67,220.25 109.17,220.25 109.67,220.25 110.17,220.25 110.67,220.25 111.16,220.25 111.66,220.25 112.16,220.25 112.66,220.25 113.15,220.25 113.65,220.25 114.15,220.25 114.65,220.25 115.14,220.25 115.64,220.25 116.14,220.25 116.64,220.25 117.14,220.25 117.63,220.25 118.13,220.25 118.63,220.25 119.13,220.25 119.62,220.25 120.12,220.25 120.62,220.25 121.12,220.25 121.62,220.25 122.11,220.25 122.61,220.25 123.11,220.25 123.61,220.25 124.10,220.25 124.60,220.25 125.10,220.25 125.60,220.25 126.10,220.25 126.59,220.25 127.09,220.25 127.59,220.25 128.09,220.25 128.58,220.25 129.08,220.25 129.58,220.25 130.08,220.25 130.57,220.25 131.07,220.25 131.57,220.25 132.07,220.25 132.57,220.25 133.06,220.25 133.56,220.25 134.06,220.25 134.56,220.25 135.05,220.25 135.55,220.25 136.05,220.25 136.55,220.25 137.05,220.25 137.54,220.25 138.04,220.25 138.54,220.25 139.04,220.25 139.53,220.25 140.03,220.25 140.53,220.25 141.03,220.25 141.52,220.25 142.02,220.25 142.52,220.25 143.02,220.25 143.52,220.25 144.01,220.25 144.51,220.25 145.01,220.25 145.51,220.25 146.00,220.25 146.50,220.25 147.00,220.25 147.50,220.25 148.00,220.25 148.49,220.25 148.99,220.25 149.49,220.25 149.99,220.25 150.48,220.25 150.98,220.25 151.48,220.25 151.98,220.25 152.48,220.25 152.97,220.25 153.47,220.25 153.97,220.25 154.47,220.25 154.96,220.25 155.46,220.25 155.96,220.25 156.46,220.25 156.95,220.25 157.45,220.25 157.95,220.25 158.45,220.25 158.95,220.25 159.44,220.25 159.94,220.25 160.44,220.21 160.94,220.11 161.43,219.97 161.93,219.82 162.43,219.67 162.93,219.52 163.43,219.39 163.92,219.27 164.42,219.17 164.92,219.08 165.42,219.00 165.91,218.93 166.41,218.87 166.91,218.82 167.41,218.78 167.91,218.75 168.40,218.72 168.90,218.70 169.40,218.68 169.90,218.67 170.39,218.65 170.89,218.64 171.39,218.64 171.89,218.63 172.38,218.62 172.88,218.62 173.38,218.62 173.88,218.61 174.38,218.61 174.87,218.61 175.37,218.61 175.87,218.60 176.37,218.60 176.86,218.60 177.36,218.60 177.86,218.60 178.36,218.60 178.86,218.60 179.35,218.60 179.85,218.60 180.35,218.60 180.85,218.60 181.34,218.60 181.84,218.60 182.34,218.60 182.84,218.60 183.34,218.60 183.83,218.60 184.33,218.60 184.83,218.60 185.33,218.60 185.82,218.60 186.32,218.60 186.82,218.60 187.32,218.60 187.81,218.60 188.31,218.60 188.81,218.60 189.31,218.60 189.81,218.60 190.30,218.60 190.80,218.60 191.30,218.60 191.80,218.60 192.29,218.60 192.79,218.60 193.29,218.60 193.79,218.60 194.29,218.60 194.78,218.60 195.28,218.60 195.78,218.60 196.28,218.60 196.77,218.60 197.27,218.60 197.77,218.60 198.27,218.60 198.76,218.60 199.26,218.60 199.76,218.60 200.26,218.60 200.76,218.60 201.25,218.60 201.75,218.60 202.25,218.60 202.75,218.60 203.24,218.60 203.74,218.60 204.24,218.60 204.74,218.60 205.24,218.60 205.73,218.60 206.23,218.60 206.73,218.60 207.23,218.60 207.72,218.60 208.22,218.60 208.72,218.60 209.22,218.60 209.72,218.60 210.21,218.58 210.71,218.54 211.21,218.47 211.71,218.39 212.20,218.31 212.70,218.22 213.20,218.13 213.70,218.04 214.19,217.96 214.69,217.88 215.19,217.81 215.69,217.74 216.19,217.68 216.68,217.62 217.18,217.57 217.68,217.52 218.18,217.48 218.67,217.44 219.17,217.41 219.67,217.38 220.17,217.35 220.67,217.33 221.16,217.30 221.66,217.28 222.16,217.27 222.66,217.25 223.15,217.24 223.65,217.23 224.15,217.22 224.65,217.21 225.15,217.20 225.64,217.20 226.14,217.19 226.64,217.19 227.14,217.18 227.63,217.18 228.13,217.17 228.63,217.17 229.13,217.17 229.62,217.17 230.12,217.16 230.62,217.16 231.12,217.16 231.62,217.16 232.11,217.16 232.61,217.16 233.11,217.16 233.61,217.16 234.10,217.16 234.60,217.16 235.10,217.16 235.60,217.15 236.10,217.15 236.59,217.15 237.09,217.15 237.59,217.15 238.09,217.15 238.58,217.15 239.08,217.15 239.58,217.15 240.08,217.15 240.58,217.15 241.07,217.15 241.57,217.15 242.07,217.15 242.57,217.15 243.06,217.15 243.56,217.15 244.06,217.15 244.56,217.15 245.05,217.15 245.55,217.15 246.05,217.15 246.55,217.15 247.05,217.15 247.54,217.15 248.04,217.15 248.54,217.15 249.04,217.15 249.53,217.15 250.03,217.15 250.53,217.15 251.03,217.15 251.53,217.15 252.02,217.15 252.52,217.15 253.02,217.15 253.52,217.15 254.01,217.15 254.51,217.15 255.01,217.15 255.51,217.15 256.00,217.15 256.50,217.15 257.00,217.15 257.50,217.15 258.00,217.15 258.49,217.15 258.99,217.15 259.49,217.15 259.99,217.15 260.48,217.15 260.98,217.15 261.48,217.15 261.98,217.15 262.48,217.15 262.97,217.15 263.47,217.15 263.97,217.15 264.47,217.15 264.96,217.15 265.46,217.15 265.96,217.15 266.46,217.15 266.96,217.15 267.45,217.15 267.95,217.15 268.45,217.15 268.95,217.15 269.44,217.15 269.94,217.15 270.44,217.15 270.94,217.15 271.43,217.15 271.93,217.15 272.43,217.15 272.93,217.15 273.43,217.15 273.92,217.15 274.42,217.15 274.92,217.15 275.42,217.15 275.91,217.15 276.41,217.15 276.91,217.15 277.41,217.15 277.91,217.15 278.40,217.15 278.90,217.15 279.40,217.15 279.90,217.15 280.39,217.15 280.89,217.15 281.39,217.15 281.89,217.15 282.39,217.15 282.88,217.15 283.38,217.15 283.88,217.15 284.38,217.15 284.87,217.18 285.37,217.24 285.87,217.33 286.37,217.43 286.86,217.53 287.36,217.64 287.86,217.74 288.36,217.84 288.86,217.93 289.35,218.01 289.85,218.09 290.35,218.15 290.85,218.21 291.34,218.27 291.84,218.31 292.34,218.35 292.84,218.39 293.34,218.42 293.83,218.44 294.33,218.47 294.83,218.49 295.33,218.50 295.82,218.52 296.32,218.53 296.82,218.54 297.32,218.55 297.82,218.56 298.31,218.56 298.81,218.57 299.31,218.57 299.81,218.58 300.30,218.58 300.80,218.59 301.30,218.59 301.80,218.59 302.29,218.59 302.79,218.59 303.29,218.59 303.79,218.59 304.29,218.60 304.78,218.60 305.28,218.60 305.78,218.60 306.28,218.60 306.77,218.60 307.27,218.60 307.77,218.60 308.27,218.60 308.77,218.60 309.26,218.60 309.76,218.60 310.26,218.60 310.76,218.60 311.25,218.60 311.75,218.60 312.25,218.60 312.75,218.60 313.24,218.60 313.74,218.60 314.24,218.60 314.74,218.60 315.24,218.60 315.73,218.60 316.23,218.60 316.73,218.60 317.23,218.60 317.72,218.60 318.22,218.60 318.72,218.60 319.22,218.60 319.72,218.60 320.21,218.60 320.71,218.60 321.21,218.60 321.71,218.60 322.20,218.60 322.70,218.60 323.20,218.60 323.70,218.60 324.20,218.60 324.69,218.60 325.19,218.60 325.69,218.60 326.19,218.60 326.68,218.60 327.18,218.60 327.68,218.60 328.18,218.60 328.67,218.60 329.17,218.60 329.67,218.60 330.17,218.60 330.67,218.60 331.16,218.60 331.66,218.60 332.16,218.60 332.66,218.60 333.15,218.60 333.65,218.60 334.15,218.60"/>
<polygon fill="#0000ff" stroke="none" points="396.9,218.4 397.1,218.5 397.4,218.2 397.6,218.2 397.9,218.4 398.1,218.4 398.4,218.2 398.6,218.5 398.9,218.3 399.1,218.4 399.4,218.1 399.6,218.3 399.9,218.4 400.1,218.3 400.4,218.3 400.6,218.1 400.9,218.5 401.1,218.3 401.4,218.2 401.6,218.4 401.9,218.3 402.1,218.4 402.4,218.4 402.6,218.5 402.9,218.2 403.1,218.5 403.4,218.2 403.6,218.4 403.9,218.3 404.1,218.5 404.4,218.4 404.6,218.2 404.9,218.4 405.1,218.2 405.4,218.2 405.6,218.1 405.9,218.4 406.1,218.1 406.4,218.1 406.6,218.4 406.9,218.5 407.1,218.5 407.4,218.3 407.6,218.1 407.9,218.3 408.1,218.4 408.4,218.2 408.6,218.1 408.9,218.2 409.1,218.3 409.4,218.5 409.6,218.1 409.9,218.2 410.1,218.5 410.4,218.2 410.6,218.2 410.9,218.3 411.1,218.4 411.4,218.4 411.6,218.4 411.9,218.3 412.1,218.5 412.4,218.3 412.6,218.4 412.9,218.5 413.1,218.4 413.4,218.5 413.6,218.4 413.9,218.2 414.1,218.5 414.4,218.5 414.6,218.4 414.9,218.1 415.1,218.2 415.4,218.3 415.6,218.5 415.9,218.5 416.1,218.1 416.4,218.3 416.6,218.4 416.9,218.3 417.1,218.4 417.4,218.4 417.6,218.2 417.9,218.2 418.1,218.2 418.4,218.1 418.6,218.5 418.9,218.3 419.1,218.2 419.4,218.4 419.6,218.2 419.9,218.3 420.1,218.3 420.4,218.5 420.6,218.1 420.9,218.1 421.1,218.4 421.4,218.4 421.6,218.1 421.9,218.3 422.1,218.3 422.4,218.2 422.6,218.2 422.9,218.3 423.1,218.2 423.3,218.2 423.6,218.1 423.8,218.1 424.1,218.2 424.3,218.4 424.6,218.2 424.8,218.5 425.1,218.1 425.3,218.5 425.6,218.4 425.8,218.5 426.1,218.4 426.3,218.2 426.6,218.3 426.8,218.5 427.1,218.2 427.3,218.5 427.6,218.5 427.8,218.5 428.1,218.3 428.3,218.2 428.6,218.4 428.8,218.5 429.1,218.4 429.3,218.5 429.6,218.3 429.8,218.3 430.1,218.4 430.3,218.5 430.6,218.2 430.8,218.4 431.1,218.2 431.3,218.4 431.6,218.2 431.8,218.1 432.1,218.2 432.3,218.4 432.6,218.5 432.8,218.3 433.1,218.3 433.3,218.2 433.6,218.4 433.8,218.2 434.1,218.4 434.3,218.2 434.6,217.8 434.8,218.0 435.1,217.5 435.3,217.5 435.6,217.7 435.8,217.5 436.1,217.2 436.3,217.2 436.6,217.5 436.8,217.2 437.1,217.2 437.3,217.3 437.6,217.4 437.8,217.4 438.1,217.4 438.3,217.7 438.6,217.4 438.8,217.3 439.1,217.3 439.3,217.5 439.6,217.7 439.8,217.3 440.1,217.6 440.3,217.4 440.6,217.4 440.8,217.4 441.1,217.6 441.3,217.4 441.6,217.4 441.8,217.4 442.1,217.4 442.3,217.4 442.6,217.6 442.8,217.3 443.1,217.3 443.3,217.5 443.6,217.2 443.8,217.5 444.1,217.2 444.3,217.5 444.6,217.5 444.8,217.1 445.1,217.3 445.3,217.1 445.6,217.2 445.8,217.1 446.1,217.1 446.3,217.1 446.6,217.0 446.8,217.3 447.1,217.2 447.3,217.0 447.6,217.2 447.8,217.0 448.1,217.0 448.3,217.1 448.6,217.0 448.8,217.2 449.1,217.0 449.3,217.0 449.5,217.3 449.8,217.1 450.0,217.1 450.3,216.9 450.5,217.1 450.8,217.2 451.0,216.8 451.3,217.1 451.5,216.9 451.8,217.0 452.0,217.0 452.3,217.1 452.5,216.9 452.8,216.8 453.0,216.8 453.3,216.9 453.5,217.1 453.8,217.1 454.0,217.0 454.3,217.0 454.5,216.7 454.8,217.0 455.0,216.8 455.3,217.0 455.5,216.9 455.8,216.8 456.0,216.7 456.3,216.7 456.5,216.6 456.8,216.7 457.0,217.0 457.3,216.6 457.5,216.9 457.8,216.8 458.0,216.6 458.3,216.8 458.5,216.8 458.8,216.7 459.0,216.8 459.3,216.8 459.5,216.8 459.8,216.8 460.0,216.8 460.3,216.7 460.5,216.9 460.8,216.5 461.0,216.9 461.3,216.5 461.5,216.6 461.8,216.8 462.0,216.8 462.3,216.6 462.5,216.6 462.8,216.5 463.0,216.7 463.3,216.7 463.5,216.8 463.8,216.8 464.0,216.6 464.3,216.6 464.5,216.5 464.8,216.5 465.0,216.7 465.3,216.9 465.5,216.7 465.8,216.7 466.0,216.6 466.3,216.6 466.5,216.8 466.8,216.5 467.0,216.8 467.3,216.6 467.5,216.7 467.8,216.5 468.0,216.7 468.3,216.8 468.5,216.7 468.8,216.4 469.0,216.5 469.3,216.4 469.5,216.6 469.8,216.6 470.0,216.7 470.3,216.8 470.5,216.4 470.8,216.5 471.0,216.6 471.3,216.6 471.5,216.7 471.8,216.5 472.0,216.6 472.3,216.7 472.5,216.4 472.8,216.5 473.0,216.7 473.3,216.6 473.5,216.7 473.8,216.4 474.0,216.5 474.3,216.4 474.5,216.5 474.8,216.6 475.0,216.4 475.2,216.5 475.5,216.3 475.7,216.7 476.0,216.6 476.2,216.5 476.5,216.5 476.7,216.5 477.0,216.4 477.2,216.7 477.5,216.3 477.7,216.6 478.0,216.6 478.2,216.7 478.5,216.5 478.7,216.6 479.0,216.6 479.2,216.4 479.5,216.5 479.7,216.6 480.0,216.5 480.2,216.7 480.5,216.6 480.7,216.6 481.0,216.6 481.2,216.6 481.5,216.5 481.7,216.7 482.0,216.5 482.2,216.3 482.5,216.4 482.7,216.4 483.0,216.3 483.2,216.3 483.5,216.3 483.7,216.3 484.0,216.4 484.2,216.4 484.5,216.3 484.7,216.6 485.0,216.3 485.2,216.3 485.5,216.4 485.7,216.3 486.0,216.3 486.2,216.4 486.5,216.6 486.7,216.4 487.0,216.5 487.2,216.4 487.5,216.6 487.7,216.4 488.0,216.3 488.2,216.3 488.5,216.3 488.7,216.6 489.0,216.4 489.2,216.6 489.5,216.3 489.7,216.3 490.0,216.3 490.2,216.5 490.5,216.6 490.7,216.3 491.0,216.6 491.2,216.3 491.5,216.5 491.7,216.6 492.0,216.3 492.2,216.3 492.5,216.3 492.7,216.3 493.0,216.3 493.2,216.3 493.5,216.5 493.7,216.3 494.0,216.4 494.2,216.6 494.5,216.5 494.7,216.6 495.0,216.5 495.2,216.2 495.5,216.5 495.7,216.3 496.0,216.4 496.2,216.6 496.5,216.4 496.7,216.4 497.0,216.2 497.2,216.4 497.5,216.3 497.7,216.3 498.0,216.2 498.2,216.5 498.5,216.2 498.7,216.5 499.0,216.5 499.2,216.4 499.5,216.3 499.7,216.4 500.0,216.4 500.2,216.6 500.5,216.6 500.7,216.2 501.0,216.3 501.2,216.4 501.4,216.3 501.7,216.2 501.9,216.3 502.2,216.6 502.4,216.3 502.7,216.3 502.9,216.4 503.2,216.4 503.4,216.4 503.7,216.6 503.9,216.3 504.2,216.2 504.4,216.4 504.7,216.4 504.9,216.2 505.2,216.4 505.4,216.6 505.7,216.5 505.9,216.5 506.2,216.4 506.4,216.5 506.7,216.2 506.9,216.6 507.2,216.2 507.4,216.4 507.7,216.4 507.9,216.4 508.2,216.6 508.4,216.4 508.7,216.5 508.9,216.5 509.2,216.5 509.4,216.5 509.7,216.2 509.9,216.2 510.2,216.2 510.4,216.3 510.7,216.0 510.9,216.1 511.2,216.3 511.4,216.3 511.7,216.4 511.9,216.2 512.2,216.2 512.4,216.4 512.7,216.3 512.9,216.4 513.2,216.3 513.4,216.6 513.7,216.6 513.9,216.4 514.2,216.7 514.4,216.7 514.7,216.5 514.9,216.8 515.2,216.9 515.4,216.8 515.7,216.9 515.9,217.0 516.2,217.0 516.4,216.9 516.7,216.8 516.9,217.1 517.2,217.2 517.4,217.2 517.7,217.2 517.9,217.2 518.2,217.0 518.4,217.1 518.7,217.3 518.9,217.1 519.2,217.2 519.4,217.2 519.7,217.2 519.9,217.2 520.2,217.6 520.4,217.4 520.7,217.3 520.9,217.5 521.2,217.5 521.4,217.5 521.7,217.7 521.9,217.5 522.2,217.6 522.4,217.9 522.7,217.6 522.9,217.6 523.2,217.7 523.4,217.8 523.7,218.0 523.9,217.8 524.2,217.9 524.4,218.0 524.7,217.7 524.9,217.8 525.2,217.8 525.4,217.9 525.7,218.0 525.9,218.1 526.2,217.8 526.4,218.0 526.7,218.1 526.9,217.9 527.2,218.0 527.4,217.9 527.6,217.9 527.9,217.9 528.1,218.1 528.4,218.1 528.6,218.2 528.9,218.2 529.1,218.0 529.4,217.9 529.6,218.0 529.9,218.1 530.1,218.1 530.4,218.3 530.6,218.0 530.9,218.3 531.1,218.2 531.4,217.9 531.6,218.1 531.9,218.2 532.1,218.0 532.4,218.1 532.6,218.2 532.9,218.1 533.1,218.2 533.4,218.1 533.6,218.4 533.9,218.1 534.1,218.3 534.4,218.3 534.6,218.3 534.9,218.1 535.1,218.0 535.4,218.2 535.6,218.1 535.9,218.2 536.1,218.2 536.4,218.1 536.6,218.1 536.9,218.2 537.1,218.1 537.4,218.4 537.6,218.2 537.9,218.3 538.1,218.3 538.4,218.3 538.6,218.4 538.9,218.3 539.1,218.4 539.4,218.1 539.6,218.3 539.9,218.3 540.1,218.4 540.4,218.2 540.6,218.3 540.9,218.4 541.1,218.1 541.4,218.4 541.6,218.5 541.9,218.4 542.1,218.2 542.4,218.1 542.6,218.1 542.9,218.3 543.1,218.3 543.4,218.5 543.6,218.3 543.9,218.2 544.1,218.2 544.4,218.2 544.6,218.4 544.9,218.4 545.1,218.3 545.4,218.3 545.6,218.3 545.9,218.1 546.1,218.4 546.4,218.5 546.6,218.3 546.9,218.5 547.1,218.5 547.4,218.3 547.6,218.2 547.9,218.3 548.1,218.4 548.4,218.3 548.6,218.4 548.9,218.5 549.1,218.3 549.4,218.3 549.6,218.4 549.9,218.3 550.1,218.2 550.4,218.5 550.6,218.5 550.9,218.3 551.1,218.3 551.4,218.1 551.6,218.2 551.9,218.4 552.1,218.2 552.4,218.3 552.6,218.2 552.9,218.4 553.1,218.4 553.4,218.2 553.6,218.4 553.8,218.5 554.1,218.5 554.3,218.3 554.6,218.3 554.8,218.3 555.1,218.4 555.3,218.5 555.6,218.4 555.8,218.1 556.1,218.2 556.3,218.2 556.6,218.1 556.8,218.2 557.1,218.5 557.3,218.4 557.6,218.2 557.8,218.2 558.1,218.2 558.3,218.2 558.6,218.3 558.8,218.4 559.1,217.6 559.3,216.7 559.6,216.0 559.8,215.8 560.1,215.3 560.3,214.7 560.6,214.5 560.8,214.4 561.1,214.3 561.3,213.9 561.6,213.7 561.8,213.8 562.1,213.4 562.3,213.6 562.6,213.3 562.8,213.4 563.1,213.4 563.3,213.3 563.6,213.1 563.8,212.9 564.1,212.9 564.3,213.0 564.6,213.0 564.8,213.1 565.1,213.1 565.3,212.7 565.6,213.0 565.8,212.9 566.1,212.8 566.3,212.8 566.6,212.6 566.8,212.9 567.1,212.9 567.3,212.8 567.6,212.7 567.8,212.7 568.1,212.6 568.3,212.9 568.6,212.7 568.8,212.8 569.1,213.0 569.3,212.9 569.6,212.7 569.8,213.0 570.1,212.7 570.3,212.9 570.6,213.0 570.8,212.6 571.1,212.6 571.3,212.8 571.6,212.8 571.8,212.8 572.1,212.7 572.3,212.9 572.6,212.7 572.8,212.8 573.1,212.8 573.3,212.9 573.6,212.8 573.8,213.0 574.1,212.7 574.3,212.8 574.6,212.8 574.8,212.7 575.1,212.8 575.3,212.8 575.6,212.9 575.8,212.9 576.1,212.9 576.3,212.8 576.6,212.7 576.8,212.7 577.1,212.7 577.3,212.6 577.6,212.6 577.8,212.7 578.1,212.7 578.3,212.9 578.6,212.8 578.8,212.7 579.1,212.6 579.3,213.0 579.5,212.8 579.8,212.9 580.0,213.0 580.3,212.8 580.5,213.0 580.8,212.8 581.0,213.0 581.3,212.9 581.5,212.7 581.8,212.8 582.0,212.9 582.3,213.0 582.5,213.0 582.8,212.7 583.0,212.8 583.3,213.0 583.5,212.8 583.8,213.0 584.0,212.9 584.3,212.8 584.5,212.7 584.8,212.7 585.0,212.7 585.3,212.9 585.5,212.9 585.8,212.7 586.0,212.8 586.3,213.0 586.5,212.9 586.8,212.9 587.0,212.9 587.3,212.9 587.5,213.0 587.8,212.7 588.0,212.7 588.3,213.0 588.5,212.7 588.8,212.9 589.0,212.7 589.3,213.0 589.5,212.7 589.8,212.7 590.0,212.8 590.3,212.7 590.5,212.8 590.8,212.7 591.0,212.9 591.3,212.7 591.5,212.8 591.8,212.8 592.0,212.7 592.3,212.9 592.5,212.8 592.8,213.0 593.0,212.9 593.3,212.8 593.5,213.0 593.8,213.0 594.0,212.7 594.3,213.0 594.5,212.6 594.8,212.9 595.0,212.7 595.3,212.9 595.5,212.9 595.8,212.8 596.0,212.7 596.3,212.7 596.5,212.6 596.8,213.0 597.0,213.0 597.3,212.8 597.5,212.9 597.8,213.0 598.0,212.8 598.3,212.7 598.5,212.7 598.8,212.9 599.0,212.8 599.3,212.8 599.5,213.0 599.8,212.8 600.0,213.0 600.3,212.8 600.5,212.8 600.8,212.9 601.0,212.7 601.3,212.9 601.5,213.0 601.8,212.9 602.0,213.0 602.3,213.0 602.5,212.8 602.8,212.8 603.0,212.7 603.3,212.7 603.5,212.9 603.8,213.0 604.0,212.9 604.3,212.9 604.5,213.0 604.8,212.8 605.0,212.6 605.3,213.0 605.5,212.9 605.7,212.8 606.0,212.8 606.2,212.8 606.5,212.7 606.7,212.8 607.0,212.9 607.2,213.0 607.5,213.0 607.7,213.0 608.0,212.9 608.2,212.7 608.5,212.9 608.7,213.0 609.0,213.0 609.2,212.8 609.5,212.9 609.7,212.8 610.0,213.0 610.2,213.0 610.5,213.0 610.7,212.9 611.0,212.7 611.2,212.6 611.5,212.7 611.7,212.9 612.0,212.8 612.2,213.0 612.5,212.8 612.7,213.0 613.0,213.0 613.2,212.7 613.5,213.0 613.7,212.9 614.0,212.8 614.2,212.9 614.5,212.9 614.7,212.9 615.0,212.9 615.2,213.0 615.5,212.9 615.7,212.7 616.0,212.7 616.2,212.9 616.5,213.0 616.7,212.9 617.0,213.0 617.2,212.7 617.5,212.9 617.7,212.8 618.0,212.8 618.2,212.9 618.5,213.0 618.7,212.8 619.0,213.0 619.2,212.7 619.5,213.0 619.7,212.9 620.0,212.9 620.2,212.8 620.5,213.0 620.7,213.0 621.0,212.7 621.2,213.0 621.5,213.0 621.7,212.9 622.0,213.0 622.2,212.8 622.5,212.9 622.7,212.8 623.0,212.9 623.2,212.8 623.5,212.9 623.7,213.0 624.0,212.7 624.2,212.8 624.5,212.9 624.7,212.8 625.0,212.7 625.2,212.8 625.5,212.8 625.7,213.0 626.0,212.8 626.2,213.0 626.5,212.6 626.7,212.8 627.0,213.0 627.2,212.7 627.5,213.0 627.7,212.8 628.0,212.8 628.2,213.0 628.5,212.7 628.7,212.7 629.0,212.6 629.2,212.8 629.5,212.8 629.7,212.9 630.0,213.0 630.2,212.8 630.5,212.7 630.7,212.7 631.0,212.9 631.2,212.9 631.5,212.9 631.7,213.0 631.9,213.0 632.2,212.7 632.4,212.9 632.7,213.0 632.9,212.7 633.2,212.7 633.4,212.8 633.7,212.8 633.9,216.1 634.2,216.1 634.4,216.4 634.7,216.6 634.9,216.8 635.2,216.7 635.4,216.9 635.7,217.0 635.9,217.4 636.2,217.3 636.4,217.4 636.7,217.6 636.9,217.3 637.2,217.5 637.4,217.5 637.7,217.8 637.9,218.0 638.2,217.9 638.4,218.0 638.7,218.0 638.9,217.9 639.2,218.1 639.4,218.0 639.7,217.8 639.9,218.1 640.2,218.1 640.4,218.3 640.7,218.2 640.9,218.1 641.2,218.2 641.4,218.1 641.7,218.3 641.9,218.1 642.2,218.1 642.4,218.1 642.7,218.1 642.9,218.1 643.2,218.2 643.4,218.4 643.7,218.1 643.9,218.3 644.2,218.5 644.4,218.4 644.7,218.3 644.9,218.3 645.2,218.2 645.4,218.3 645.7,218.1 645.9,218.1 646.2,218.4 646.4,218.2 646.7,218.2 646.9,218.4 647.2,218.1 647.4,218.3 647.7,218.3 647.9,218.5 648.2,218.5 648.4,218.3 648.7,218.3 648.9,218.2 649.2,218.2 649.4,218.5 649.7,218.5 649.9,218.4 650.2,218.2 650.4,218.4 650.7,218.5 650.9,218.5 651.2,218.2 651.4,218.3 651.7,218.3 651.9,218.1 652.2,218.3 652.4,218.5 652.7,218.4 652.9,218.2 653.2,218.5 653.4,218.1 653.7,218.1 653.9,218.4 654.2,218.1 654.4,218.3 654.7,218.4 654.9,218.2 655.2,218.2 655.4,218.2 655.7,218.1 655.9,218.2 656.2,218.5 656.4,218.4 656.7,218.3 656.9,218.4 657.2,218.3 657.4,218.4 657.7,218.3 657.9,218.5 658.1,218.3 658.4,218.2 658.6,218.4 658.9,218.2 659.1,218.5 659.4,218.2 659.6,218.4 659.9,218.3 660.1,218.3 660.4,218.2 660.6,218.3 660.9,218.3 661.1,218.4 661.4,218.4 661.6,218.2 661.9,218.3 662.1,218.3 662.4,218.1 662.6,218.3 662.9,218.3 663.1,218.2 663.4,218.4 663.6,218.1 663.9,218.3 664.1,218.4 664.4,218.1 664.6,218.1 664.9,218.4 665.1,218.3 665.4,218.3 665.6,218.5 665.9,218.3 666.1,218.2 666.4,218.2 666.6,218.1 666.9,218.3 667.1,218.4 667.4,218.3 667.6,218.4 667.9,218.4 668.1,218.5 668.4,218.3 668.6,218.5 668.9,218.1 669.1,218.2 669.4,218.2 669.6,218.2 669.9,218.4 670.1,218.5 670.4,218.2 670.6,218.4 670.9,218.3 671.1,218.3 671.4,218.3 671.6,218.4 671.9,218.1 672.1,218.1 672.4,218.3 672.6,218.4 672.9,218.4 673.1,218.3 673.4,218.4 673.6,218.2 673.9,218.4 674.1,218.1 674.4,218.2 674.6,218.4 674.9,218.2 675.1,218.5 675.4,218.1 675.6,218.3 675.9,218.2 676.1,218.4 676.4,218.3 676.6,218.4 676.9,218.5 677.1,218.5 677.4,218.3 677.6,218.2 677.9,218.2 678.1,218.4 678.4,218.2 678.6,218.3 678.9,218.4 679.1,218.5 679.4,218.4 679.6,218.3 679.9,218.4 680.1,218.4 680.4,218.2 680.6,218.2 680.9,218.4 681.1,218.3 681.4,218.4 681.6,218.4 681.9,218.2 682.1,218.4 682.4,218.1 682.6,218.5 682.9,218.5 683.1,218.3 683.4,218.2 683.6,218.5 683.9,218.3 683.9,218.8 683.6,218.8 683.4,218.9 683.1,219.0 682.9,218.9 682.6,219.0 682.4,219.1 682.1,219.0 681.9,219.1 681.6,219.0 681.4,218.8 681.1,218.9 680.9,218.7 680.6,218.7 680.4,218.9 680.1,219.0 679.9,219.1 679.6,218.8 679.4,219.0 679.1,218.9 678.9,219.0 678.6,218.8 678.4,218.8 678.1,219.0 677.9,218.8 677.6,218.8 677.4,218.9 677.1,219.0 676.9,219.0 676.6,219.0 676.4,218.9 676.1,218.7 675.9,218.9 675.6,219.1 675.4,218.8 675.1,218.8 674.9,219.1 674.6,219.1 674.4,219.0 674.1,218.7 673.9,219.1 673.6,218.7 673.4,218.8 673.1,218.8 672.9,218.9 672.6,219.0 672.4,219.1 672.1,218.9 671.9,218.8 671.6,218.8 671.4,218.8 671.1,218.8 670.9,219.1 670.6,218.9 670.4,219.1 670.1,219.1 669.9,219.1 669.6,219.1 669.4,219.0 669.1,219.0 668.9,219.0 668.6,218.8 668.4,218.8 668.1,219.0 667.9,218.7 667.6,218.7 667.4,218.9 667.1,219.0 666.9,218.8 666.6,218.9 666.4,219.0 666.1,219.0 665.9,219.1 665.6,219.0 665.4,218.8 665.1,219.1 664.9,219.0 664.6,218.9 664.4,219.1 664.1,218.9 663.9,218.9 663.6,219.0 663.4,218.9 663.1,219.0 662.9,218.8 662.6,218.9 662.4,218.9 662.1,218.8 661.9,219.0 661.6,219.1 661.4,218.9 661.1,219.1 660.9,219.1 660.6,219.0 660.4,219.1 660.1,219.0 659.9,218.7 659.6,219.1 659.4,218.9 659.1,218.8 658.9,218.8 658.6,219.0 658.4,218.8 658.1,218.9 657.9,219.0 657.7,218.8 657.4,218.7 657.2,219.1 656.9,219.0 656.7,219.0 656.4,219.0 656.2,219.1 655.9,218.9 655.7,218.9 655.4,219.1 655.2,219.1 654.9,219.0 654.7,219.1 654.4,218.9 654.2,219.0 653.9,219.1 653.7,219.1 653.4,219.1 653.2,218.8 652.9,219.1 652.7,218.8 652.4,218.9 652.2,218.9 651.9,218.9 651.7,219.0 651.4,219.1 651.2,218.9 650.9,219.1 650.7,219.1 650.4,218.7 650.2,219.0 649.9,218.8 649.7,218.9 649.4,218.8 649.2,219.1 648.9,218.7 648.7,219.1 648.4,219.0 648.2,219.0 647.9,218.8 647.7,218.8 647.4,218.9 647.2,218.8 646.9,218.8 646.7,219.0 646.4,218.8 646.2,218.7 645.9,218.8 645.7,218.9 645.4,219.0 645.2,218.7 644.9,218.9 644.7,218.7 644.4,219.0 644.2,219.0 643.9,218.9 643.7,219.0 643.4,218.8 643.2,218.9 642.9,218.8 642.7,218.7 642.4,218.8 642.2,218.9 641.9,218.8 641.7,218.6 641.4,218.9 641.2,218.8 640.9,218.9 640.7,218.6 640.4,218.8 640.2,218.5 639.9,218.7 639.7,218.6 639.4,218.8 639.2,218.7 638.9,218.5 638.7,218.6 638.4,218.4 638.2,218.7 637.9,218.4 637.7,218.6 637.4,218.5 637.2,218.6 636.9,218.3 636.7,218.5 636.4,218.4 636.2,218.2 635.9,218.3 635.7,218.4 635.4,218.1 635.2,218.1 634.9,218.2 634.7,218.5 634.4,218.2 634.2,218.3 633.9,218.7 633.7,220.3 633.4,220.3 633.2,220.1 632.9,220.4 632.7,220.1 632.4,220.1 632.2,220.1 631.9,220.3 631.7,220.1 631.5,220.3 631.2,220.0 631.0,220.3 630.7,220.1 630.5,220.4 630.2,220.1 630.0,220.1 629.7,220.1 629.5,220.2 629.2,220.2 629.0,220.1 628.7,220.3 628.5,220.4 628.2,220.1 628.0,220.4 627.7,220.2 627.5,220.4 627.2,220.3 627.0,220.4 626.7,220.4 626.5,220.2 626.2,220.4 626.0,220.1 625.7,220.3 625.5,220.1 625.2,220.3 625.0,220.4 624.7,220.2 624.5,220.4 624.2,220.3 624.0,220.1 623.7,220.3 623.5,220.2 623.2,220.1 623.0,220.3 622.7,220.3 622.5,220.1 622.2,220.4 622.0,220.1 621.7,220.3 621.5,220.3 621.2,220.2 621.0,220.4 620.7,220.1 620.5,220.1 620.2,220.4 620.0,220.3 619.7,220.0 619.5,220.3 619.2,220.3 619.0,220.2 618.7,220.0 618.5,220.3 618.2,220.4 618.0,220.2 617.7,220.1 617.5,220.4 617.2,220.4 617.0,220.1 616.7,220.2 616.5,220.1 616.2,220.0 616.0,220.4 615.7,220.3 615.5,220.4 615.2,220.4 615.0,220.3 614.7,220.1 614.5,220.3 614.2,220.4 614.0,220.3 613.7,220.2 613.5,220.3 613.2,220.2 613.0,220.4 612.7,220.2 612.5,220.0 612.2,220.3 612.0,220.2 611.7,220.1 611.5,220.2 611.2,220.2 611.0,220.2 610.7,220.3 610.5,220.3 610.2,220.3 610.0,220.2 609.7,220.4 609.5,220.3 609.2,220.3 609.0,220.3 608.7,220.2 608.5,220.0 608.2,220.2 608.0,220.2 607.7,220.1 607.5,220.1 607.2,220.4 607.0,220.3 606.7,220.4 606.5,220.1 606.2,220.3 606.0,220.2 605.7,220.4 605.5,220.0 605.3,220.1 605.0,220.1 604.8,220.2 604.5,220.3 604.3,220.1 604.0,220.3 603.8,220.1 603.5,220.4 603.3,220.3 603.0,220.2 602.8,220.1 602.5,220.4 602.3,220.4 602.0,220.3 601.8,220.1 601.5,220.2 601.3,220.3 601.0,220.3 600.8,220.4 600.5,220.2 600.3,220.2 600.0,220.3 599.8,220.3 599.5,220.1 599.3,220.4 599.0,220.4 598.8,220.0 598.5,220.2 598.3,220.1 598.0,220.3 597.8,220.4 597.5,220.2 597.3,220.1 597.0,220.3 596.8,220.4 596.5,220.1 596.3,220.2 596.0,220.4 595.8,220.3 595.5,220.3 595.3,220.4 595.0,220.0 594.8,220.3 594.5,220.4 594.3,220.0 594.0,220.4 593.8,220.3 593.5,220.2 593.3,220.1 593.0,220.4 592.8,220.3 592.5,220.2 592.3,220.3 592.0,220.3 591.8,220.0 591.5,220.1 591.3,220.1 591.0,220.3 590.8,220.1 590.5,220.0 590.3,220.3 590.0,220.2 589.8,220.4 589.5,220.3 589.3,220.4 589.0,220.1 588.8,220.0 588.5,220.3 588.3,220.2 588.0,220.4 587.8,220.1 587.5,220.1 587.3,220.3 587.0,220.4 586.8,220.4 586.5,220.1 586.3,220.3 586.0,220.2 585.8,220.3 585.5,220.4 585.3,220.3 585.0,220.2 584.8,220.2 584.5,220.1 584.3,220.0 584.0,220.0 583.8,220.4 583.5,220.4 583.3,220.3 583.0,220.3 582.8,220.1 582.5,220.1 582.3,220.1 582.0,220.3 581.8,220.1 581.5,220.4 581.3,220.3 581.0,220.4 580.8,220.2 580.5,220.1 580.3,220.3 580.0,220.3 579.8,220.3 579.5,220.0 579.3,220.3 579.1,220.3 578.8,220.1 578.6,220.1 578.3,220.1 578.1,220.1 577.8,220.1 577.6,220.1 577.3,220.2 577.1,220.3 576.8,220.2 576.6,220.3 576.3,220.1 576.1,220.1 575.8,220.2 575.6,220.2 575.3,220.3 575.1,220.0 574.8,220.3 574.6,220.5 574.3,220.1 574.1,220.3 573.8,220.3 573.6,220.3 573.3,220.5 573.1,220.2 572.8,220.3 572.6,220.4 572.3,220.2 572.1,220.4 571.8,220.2 571.6,220.2 571.3,220.2 571.1,220.5 570.8,220.5 570.6,220.1 570.3,220.5 570.1,220.3 569.8,220.3 569.6,220.3 569.3,220.3 569.1,220.2 568.8,220.3 568.6,220.5 568.3,220.6 568.1,220.6 567.8,220.3 567.6,220.4 567.3,220.6 567.1,220.3 566.8,220.4 566.6,220.5 566.3,220.6 566.1,220.7 565.8,220.5 565.6,220.7 565.3,220.7 565.1,220.7 564.8,220.6 564.6,220.8 564.3,220.8 564.1,220.8 563.8,220.8 563.6,220.9 563.3,220.9 563.1,220.9 562.8,220.7 562.6,220.9 562.3,220.8 562.1,220.9 561.8,220.9 561.6,220.9 561.3,220.9 561.1,221.0 560.8,220.7 560.6,220.8 560.3,220.4 560.1,220.0 559.8,219.9 559.6,219.3 559.3,218.9 559.1,218.3 558.8,218.9 558.6,218.9 558.3,219.0 558.1,219.0 557.8,219.0 557.6,219.1 557.3,219.1 557.1,218.9 556.8,218.7 556.6,219.0 556.3,219.0 556.1,218.8 555.8,218.9 555.6,219.0 555.3,218.9 555.1,219.1 554.8,219.1 554.6,219.0 554.3,219.1 554.1,219.0 553.8,218.9 553.6,219.1 553.4,218.7 553.1,218.9 552.9,219.0 552.6,218.9 552.4,218.9 552.1,218.8 551.9,218.9 551.6,219.0 551.4,219.0 551.1,219.1 550.9,218.9 550.6,218.9 550.4,219.0 550.1,218.8 549.9,219.1 549.6,218.9 549.4,218.8 549.1,219.0 548.9,219.1 548.6,218.8 548.4,218.9 548.1,219.1 547.9,218.9 547.6,218.8 547.4,218.8 547.1,218.9 546.9,219.1 546.6,218.8 546.4,218.9 546.1,219.0 545.9,219.0 545.6,219.0 545.4,219.1 545.1,218.8 544.9,218.8 544.6,218.9 544.4,219.1 544.1,219.0 543.9,218.9 543.6,219.0 543.4,219.1 543.1,219.1 542.9,218.9 542.6,219.1 542.4,218.8 542.1,219.0 541.9,218.8 541.6,219.0 541.4,219.0 541.1,218.9 540.9,219.1 540.6,219.1 540.4,218.9 540.1,219.0 539.9,218.8 539.6,219.2 539.4,219.0 539.1,219.2 538.9,219.0 538.6,219.0 538.4,219.2 538.1,219.2 537.9,219.0 537.6,219.1 537.4,219.0 537.1,219.0 536.9,218.9 536.6,219.2 536.4,219.0 536.1,219.2 535.9,218.8 535.6,218.9 535.4,219.1 535.1,219.0 534.9,218.9 534.6,219.2 534.4,219.0 534.1,219.2 533.9,219.2 533.6,218.9 533.4,219.1 533.1,219.1 532.9,219.2 532.6,219.2 532.4,218.9 532.1,219.1 531.9,219.1 531.6,219.2 531.4,219.3 531.1,219.1 530.9,219.1 530.6,219.1 530.4,219.3 530.1,219.0 529.9,219.2 529.6,219.2 529.4,219.2 529.1,219.0 528.9,219.4 528.6,219.3 528.4,219.3 528.1,219.1 527.9,219.4 527.6,219.1 527.4,219.1 527.2,219.4 526.9,219.3 526.7,219.1 526.4,219.3 526.2,219.1 525.9,219.3 525.7,219.2 525.4,219.3 525.2,219.3 524.9,219.4 524.7,219.3 524.4,219.5 524.2,219.4 523.9,219.4 523.7,219.5 523.4,219.5 523.2,219.5 522.9,219.4 522.7,219.5 522.4,219.6 522.2,219.7 521.9,219.7 521.7,219.8 521.4,219.8 521.2,219.9 520.9,219.9 520.7,219.6 520.4,219.9 520.2,219.9 519.9,219.8 519.7,220.0 519.4,219.9 519.2,220.1 518.9,220.1 518.7,220.1 518.4,220.2 518.2,220.3 517.9,220.1 517.7,220.3 517.4,220.3 517.2,220.3 516.9,220.5 516.7,220.7 516.4,220.6 516.2,221.0 515.9,220.8 515.7,220.9 515.4,220.9 515.2,221.1 514.9,221.3 514.7,221.4 514.4,221.7 514.2,221.6 513.9,221.6 513.7,221.7 513.4,221.9 513.2,222.1 512.9,222.2 512.7,222.4 512.4,222.7 512.2,222.9 511.9,222.8 511.7,223.3 511.4,223.3 511.2,223.7 510.9,223.6 510.7,224.1 510.4,224.1 510.2,224.2 509.9,224.3 509.7,224.1 509.4,224.3 509.2,224.0 508.9,224.2 508.7,224.0 508.4,224.0 508.2,224.2 507.9,224.3 507.7,224.1 507.4,224.0 507.2,224.4 506.9,224.0 506.7,224.0 506.4,224.0 506.2,224.1 505.9,224.3 505.7,224.1 505.4,224.3 505.2,224.2 504.9,224.3 504.7,224.2 504.4,224.0 504.2,224.1 503.9,224.1 503.7,224.1 503.4,224.1 503.2,224.3 502.9,224.1 502.7,224.3 502.4,224.0 502.2,224.0 501.9,224.4 501.7,224.1 501.4,224.3 501.2,224.2 501.0,224.1 500.7,224.3 500.5,224.1 500.2,224.1 500.0,224.1 499.7,224.4 499.5,224.1 499.2,224.1 499.0,224.0 498.7,224.2 498.5,224.4 498.2,224.3 498.0,224.1 497.7,224.3 497.5,224.1 497.2,224.0 497.0,224.2 496.7,224.3 496.5,224.2 496.2,224.0 496.0,224.0 495.7,224.2 495.5,224.2 495.2,224.2 495.0,224.0 494.7,224.0 494.5,223.9 494.2,224.0 494.0,224.1 493.7,224.2 493.5,224.2 493.2,224.2 493.0,224.0 492.7,224.0 492.5,224.3 492.2,224.2 492.0,224.3 491.7,224.3 491.5,224.2 491.2,224.0 491.0,224.3 490.7,224.0 490.5,224.3 490.2,224.2 490.0,224.2 489.7,224.1 489.5,224.2 489.2,224.1 489.0,224.0 488.7,224.2 488.5,224.3 488.2,224.1 488.0,224.3 487.7,224.0 487.5,224.2 487.2,224.3 487.0,223.9 486.7,224.1 486.5,224.1 486.2,224.1 486.0,224.2 485.7,224.0 485.5,224.0 485.2,224.0 485.0,224.0 484.7,223.9 484.5,224.0 484.2,224.2 484.0,224.1 483.7,223.9 483.5,224.1 483.2,223.9 483.0,224.0 482.7,224.1 482.5,224.2 482.2,224.0 482.0,223.9 481.7,224.0 481.5,224.0 481.2,224.2 481.0,224.1 480.7,224.2 480.5,224.1 480.2,224.0 480.0,224.3 479.7,224.2 479.5,224.0 479.2,223.9 479.0,224.2 478.7,224.2 478.5,224.2 478.2,224.0 478.0,223.9 477.7,224.0 477.5,224.2 477.2,224.1 477.0,224.2 476.7,224.2 476.5,224.0 476.2,224.0 476.0,224.0 475.7,224.0 475.5,223.9 475.2,224.0 475.0,224.2 474.8,224.1 474.5,223.8 474.3,224.1 474.0,224.1 473.8,224.0 473.5,223.9 473.3,223.9 473.0,223.9 472.8,223.8 472.5,224.0 472.3,224.2 472.0,224.2 471.8,223.9 471.5,223.8 471.3,224.0 471.0,224.1 470.8,223.8 470.5,223.8 470.3,224.0 470.0,224.0 469.8,224.0 469.5,224.0 469.3,224.0 469.0,223.8 468.8,224.0 468.5,224.0 468.3,223.9 468.0,224.0 467.8,223.8 467.5,223.9 467.3,224.0 467.0,224.1 466.8,223.9 466.5,223.8 466.3,223.9 466.0,223.9 465.8,223.9 465.5,223.8 465.3,224.0 465.0,223.9 464.8,223.8 464.5,223.7 464.3,223.8 464.0,224.1 463.8,223.9 463.5,223.9 463.3,223.9 463.0,223.9 462.8,223.7 462.5,223.9 462.3,224.0 462.0,223.8 461.8,223.9 461.5,223.7 461.3,223.8 461.0,223.8 460.8,223.7 460.5,223.7 460.3,223.9 460.0,224.0 459.8,223.6 459.5,223.6 459.3,224.0 459.0,223.7 458.8,223.9 458.5,223.9 458.3,223.8 458.0,223.8 457.8,223.9 457.5,223.6 457.3,223.7 457.0,223.6 456.8,223.6 456.5,223.7 456.3,223.6 456.0,223.6 455.8,223.7 455.5,223.6 455.3,223.7 455.0,223.6 454.8,223.8 454.5,223.8 454.3,223.5 454.0,223.8 453.8,223.5 453.5,223.7 453.3,223.6 453.0,223.6 452.8,223.6 452.5,223.5 452.3,223.6 452.0,223.7 451.8,223.5 451.5,223.6 451.3,223.6 451.0,223.4 450.8,223.7 450.5,223.4 450.3,223.4 450.0,223.7 449.8,223.4 449.5,223.4 449.3,223.3 449.1,223.5 448.8,223.6 448.6,223.6 448.3,223.6 448.1,223.2 447.8,223.6 447.6,223.5 447.3,223.5 447.1,223.2 446.8,223.2 446.6,223.2 446.3,223.3 446.1,223.5 445.8,223.2 445.6,223.3 445.3,223.3 445.1,223.1 444.8,223.4 444.6,223.3 444.3,223.3 444.1,223.0 443.8,223.3 443.6,223.2 443.3,223.2 443.1,223.0 442.8,223.2 442.6,223.1 442.3,223.0 442.1,223.0 441.8,222.9 441.6,222.9 441.3,223.0 441.1,222.8 440.8,222.7 440.6,222.8 440.3,223.0 440.1,222.8 439.8,222.5 439.6,222.5 439.3,222.8 439.1,222.5 438.8,222.6 438.6,222.2 438.3,222.1 438.1,222.2 437.8,222.0 437.6,222.0 437.3,222.0 437.1,221.5 436.8,221.6 436.6,221.4 436.3,221.2 436.1,220.9 435.8,220.5 435.6,220.3 435.3,220.3 435.1,219.9 434.8,219.5 434.6,219.3 434.3,219.1 434.1,219.0 433.8,218.8 433.6,219.0 433.3,219.0 433.1,218.8 432.8,218.9 432.6,218.8 432.3,218.8 432.1,219.1 431.8,218.8 431.6,219.0 431.3,218.9 431.1,219.1 430.8,219.1 430.6,218.7 430.3,219.0 430.1,218.9 429.8,218.8 429.6,218.8 429.3,218.9 429.1,219.1 428.8,218.8 428.6,218.8 428.3,218.8 428.1,218.8 427.8,218.9 427.6,218.9 427.3,218.9 427.1,218.9 426.8,219.1 426.6,219.0 426.3,219.1 426.1,219.0 425.8,219.0 425.6,218.9 425.3,219.0 425.1,219.0 424.8,219.1 424.6,219.0 424.3,219.0 424.1,219.1 423.8,218.7 423.6,219.0 423.3,218.9 423.1,219.0 422.9,218.8 422.6,218.9 422.4,218.8 422.1,218.9 421.9,218.9 421.6,218.8 421.4,219.0 421.1,218.8 420.9,218.8 420.6,219.0 420.4,219.0 420.1,218.8 419.9,218.8 419.6,218.9 419.4,218.9 419.1,218.8 418.9,219.0 418.6,219.1 418.4,218.9 418.1,218.8 417.9,219.1 417.6,219.1 417.4,219.1 417.1,218.8 416.9,218.9 416.6,218.8 416.4,218.9 416.1,218.8 415.9,219.0 415.6,218.8 415.4,219.0 415.1,218.8 414.9,219.0 414.6,219.1 414.4,219.1 414.1,218.8 413.9,219.1 413.6,218.8 413.4,219.1 413.1,218.8 412.9,219.0 412.6,218.9 412.4,218.8 412.1,218.9 411.9,218.8 411.6,219.0 411.4,219.0 411.1,218.9 410.9,219.1 410.6,218.8 410.4,218.9 410.1,219.1 409.9,219.1 409.6,218.7 409.4,218.9 409.1,219.0 408.9,218.9 408.6,219.1 408.4,218.8 408.1,218.9 407.9,218.8 407.6,219.0 407.4,219.0 407.1,219.0 406.9,219.0 406.6,219.1 406.4,218.8 406.1,219.0 405.9,219.0 405.6,219.0 405.4,218.9 405.1,219.1 404.9,219.1 404.6,218.9 404.4,218.9 404.1,218.7 403.9,219.0 403.6,219.1 403.4,218.9 403.1,219.0 402.9,218.9 402.6,219.0 402.4,218.8 402.1,218.9 401.9,219.1 401.6,219.1 401.4,219.0 401.1,219.0 400.9,218.9 400.6,218.9 400.4,219.0 400.1,218.8 399.9,219.1 399.6,219.0 399.4,218.9 399.1,219.0 398.9,219.0 398.6,218.9 398.4,218.8 398.1,218.9 397.9,219.1 397.6,219.1 397.4,219.0 397.1,219.1 396.9,219.0"/>
<polyline fill="none" stroke="#0000ff" stroke-width="1.3" stroke-linejoin="round" points="396.9,218.2 397.0,219.1 397.1,219.7 397.3,217.7 397.4,219.4 397.5,218.9 397.6,218.4 397.8,218.2 397.9,219.0 398.0,219.4 398.1,219.4 398.3,218.2 398.4,217.7 398.5,217.8 398.6,219.7 398.8,219.2 398.9,217.7 399.0,219.4 399.1,217.9 399.3,217.8 399.4,218.5 399.5,219.1 399.6,218.8 399.8,219.1 399.9,219.2 400.0,217.7 400.1,219.5 400.3,218.2 400.4,218.0 400.5,219.0 400.6,218.5 400.8,218.7 400.9,219.6 401.0,219.0 401.1,219.3 401.3,217.8 401.4,217.6 401.5,219.5 401.6,219.3 401.8,217.6 401.9,219.3 402.0,218.4 402.1,218.5 402.3,218.8 402.4,217.7 402.5,218.8 402.6,218.3 402.8,218.7 402.9,219.4 403.0,218.2 403.1,218.3 403.3,217.7 403.4,219.4 403.5,219.1 403.6,218.5 403.8,218.1 403.9,218.1 404.0,219.3 404.1,217.9 404.3,219.6 404.4,219.7 404.5,217.7 404.6,218.1 404.8,218.1 404.9,218.3 405.0,218.4 405.1,217.8 405.3,217.7 405.4,218.5 405.5,218.1 405.6,217.8 405.8,217.9 405.9,218.9 406.0,218.5 406.1,217.9 406.3,217.6 406.4,217.6 406.5,217.8 406.6,219.6 406.8,217.6 406.9,219.5 407.0,218.2 407.1,218.1 407.3,217.8 407.4,218.8 407.5,218.8 407.6,218.2 407.8,219.7 407.9,218.7 408.0,219.7 408.1,219.1 408.3,219.0 408.4,218.3 408.5,217.9 408.6,217.8 408.8,218.7 408.9,219.6 409.0,219.2 409.1,217.7 409.3,219.2 409.4,217.9 409.5,218.5 409.6,217.9 409.8,218.4 409.9,219.0 410.0,219.6 410.1,219.7 410.2,217.6 410.4,219.5 410.5,219.3 410.6,219.0 410.7,218.1 410.9,218.6 411.0,219.4 411.1,219.4 411.2,218.7 411.4,217.7 411.5,217.6 411.6,218.5 411.7,217.9 411.9,217.9 412.0,217.9 412.1,217.5 412.2,218.3 412.4,217.5 412.5,219.7 412.6,217.5 412.7,219.6 412.9,218.0 413.0,219.6 413.1,218.8 413.2,219.4 413.4,218.9 413.5,218.3 413.6,218.8 413.7,219.5 413.9,218.1 414.0,218.7 414.1,219.2 414.2,218.0 414.4,218.3 414.5,217.9 414.6,219.2 414.7,217.5 414.9,217.9 415.0,219.7 415.1,219.2 415.2,218.3 415.4,217.8 415.5,219.4 415.6,218.0 415.7,218.2 415.9,219.3 416.0,217.9 416.1,219.0 416.2,217.9 416.4,219.2 416.5,218.2 416.6,217.9 416.7,218.8 416.9,219.3 417.0,219.5 417.1,219.6 417.2,217.6 417.4,219.0 417.5,219.6 417.6,218.6 417.7,218.3 417.9,217.7 418.0,219.4 418.1,219.6 418.2,217.7 418.4,219.0 418.5,217.7 418.6,218.5 418.7,217.8 418.9,219.7 419.0,219.3 419.1,217.7 419.2,219.3 419.4,217.9 419.5,218.0 419.6,219.3 419.7,218.5 419.9,218.4 420.0,217.6 420.1,217.6 420.2,218.3 420.4,218.2 420.5,217.7 420.6,217.8 420.7,217.9 420.9,218.4 421.0,217.5 421.1,217.6 421.2,218.7 421.4,218.0 421.5,217.7 421.6,219.4 421.7,219.0 421.9,219.1 422.0,217.9 422.1,219.7 422.2,219.2 422.4,218.6 422.5,218.9 422.6,219.4 422.7,217.7 422.9,218.1 423.0,219.2 423.1,219.6 423.2,219.1 423.3,217.8 423.5,218.6 423.6,218.2 423.7,217.9 423.8,219.7 424.0,219.5 424.1,219.6 424.2,219.5 424.3,219.6 424.5,218.3 424.6,218.9 424.7,218.8 424.8,218.2 425.0,218.4 425.1,219.6 425.2,217.9 425.3,218.8 425.5,219.2 425.6,218.5 425.7,218.4 425.8,219.2 426.0,219.0 426.1,218.3 426.2,218.4 426.3,218.6 426.5,219.3 426.6,218.2 426.7,218.0 426.8,218.4 427.0,218.5 427.1,219.5 427.2,219.1 427.3,217.6 427.5,219.1 427.6,219.2 427.7,218.4 427.8,218.0 428.0,217.6 428.1,217.9 428.2,218.9 428.3,218.7 428.5,217.7 428.6,217.7 428.7,218.0 428.8,217.5 429.0,217.5 429.1,219.1 429.2,219.1 429.3,218.0 429.5,218.6 429.6,218.7 429.7,219.7 429.8,219.4 430.0,218.8 430.1,218.9 430.2,218.1 430.3,217.9 430.5,219.4 430.6,219.0 430.7,219.5 430.8,218.2 431.0,218.3 431.1,218.3 431.2,219.3 431.3,218.1 431.5,218.4 431.6,219.0 431.7,219.4 431.8,218.2 432.0,218.1 432.1,218.7 432.2,219.7 432.3,219.4 432.5,219.6 432.6,218.9 432.7,217.9 432.8,218.7 433.0,219.7 433.1,217.5 433.2,219.5 433.3,217.6 433.5,219.7 433.6,218.9 433.7,218.4 433.8,218.2 434.0,217.7 434.1,219.7 434.2,219.3 434.3,218.1 434.5,218.2 434.6,217.5 434.7,217.5 434.8,216.9 435.0,216.0 435.1,215.9 435.2,216.0 435.3,217.0 435.5,217.8 435.6,218.8 435.7,220.1 435.8,221.7 436.0,224.0 436.1,225.3 436.2,225.7 436.3,225.5 436.4,224.0 436.6,223.5 436.7,221.5 436.8,219.3 436.9,217.1 437.1,215.6 437.2,213.8 437.3,212.1 437.4,211.4 437.6,212.7 437.7,213.3 437.8,215.6 437.9,217.3 438.1,219.7 438.2,222.7 438.3,225.0 438.4,227.0 438.6,228.1 438.7,228.7 438.8,227.9 438.9,227.2 439.1,225.2 439.2,222.9 439.3,219.6 439.4,217.9 439.6,214.7 439.7,212.1 439.8,211.8 439.9,210.4 440.1,210.9 440.2,212.5 440.3,214.7 440.4,217.5 440.6,219.7 440.7,223.1 440.8,225.8 440.9,228.3 441.1,228.9 441.2,230.0 441.3,229.5 441.4,228.5 441.6,226.4 441.7,223.3 441.8,220.0 441.9,217.2 442.1,215.0 442.2,212.0 442.3,211.1 442.4,209.6 442.6,210.6 442.7,212.6 442.8,214.5 442.9,217.6 443.1,220.7 443.2,223.5 443.3,226.8 443.4,228.0 443.6,230.5 443.7,230.8 443.8,230.4 443.9,228.2 444.1,226.8 444.2,223.7 444.3,220.0 444.4,216.8 444.6,213.8 444.7,212.1 444.8,209.9 444.9,209.9 445.1,210.0 445.2,212.2 445.3,214.0 445.4,217.1 445.6,220.0 445.7,223.1 445.8,227.1 445.9,228.8 446.1,231.2 446.2,231.4 446.3,231.2 446.4,229.0 446.6,227.0 446.7,224.0 446.8,220.4 446.9,216.2 447.1,213.9 447.2,211.8 447.3,210.2 447.4,208.6 447.6,209.6 447.7,211.5 447.8,213.7 447.9,216.5 448.1,220.7 448.2,223.7 448.3,227.0 448.4,230.0 448.6,230.5 448.7,232.0 448.8,231.4 448.9,229.2 449.1,227.5 449.2,223.5 449.3,220.7 449.4,216.2 449.5,213.4 449.7,211.1 449.8,209.2 449.9,209.1 450.0,208.8 450.2,211.4 450.3,213.6 450.4,217.0 450.5,219.9 450.7,223.4 450.8,226.7 450.9,229.8 451.0,231.7 451.2,232.0 451.3,231.9 451.4,229.5 451.5,227.0 451.7,223.6 451.8,220.8 451.9,216.1 452.0,213.8 452.2,210.4 452.3,209.2 452.4,207.7 452.5,208.3 452.7,210.9 452.8,213.5 452.9,216.3 453.0,219.8 453.2,224.5 453.3,227.7 453.4,230.5 453.5,231.3 453.7,232.8 453.8,231.4 453.9,230.3 454.0,228.0 454.2,224.4 454.3,220.5 454.4,216.0 454.5,212.7 454.7,210.1 454.8,208.6 454.9,208.2 455.0,208.0 455.2,210.1 455.3,212.7 455.4,215.9 455.5,220.8 455.7,224.5 455.8,228.1 455.9,230.4 456.0,232.1 456.2,232.8 456.3,232.7 456.4,230.3 456.5,227.4 456.7,224.2 456.8,219.7 456.9,216.4 457.0,213.0 457.2,209.9 457.3,208.7 457.4,208.2 457.5,208.6 457.7,209.6 457.8,213.3 457.9,216.1 458.0,220.1 458.2,224.8 458.3,227.6 458.4,230.9 458.5,232.5 458.7,232.7 458.8,232.6 458.9,231.2 459.0,228.0 459.2,224.8 459.3,220.7 459.4,215.7 459.5,212.9 459.7,210.2 459.8,207.9 459.9,207.7 460.0,207.7 460.2,210.4 460.3,212.7 460.4,216.8 460.5,220.2 460.7,224.9 460.8,227.4 460.9,231.0 461.0,232.3 461.2,233.8 461.3,232.6 461.4,231.3 461.5,227.6 461.7,223.9 461.8,220.0 461.9,216.7 462.0,212.0 462.1,209.8 462.3,208.1 462.4,207.8 462.5,207.3 462.6,210.1 462.8,212.1 462.9,215.9 463.0,220.0 463.1,224.2 463.3,227.7 463.4,230.5 463.5,232.6 463.6,232.8 463.8,233.4 463.9,230.6 464.0,228.6 464.1,223.9 464.3,220.9 464.4,216.1 464.5,212.7 464.6,209.1 464.8,207.3 464.9,207.4 465.0,207.8 465.1,209.1 465.3,212.2 465.4,216.4 465.5,220.3 465.6,225.0 465.8,227.9 465.9,231.0 466.0,233.4 466.1,233.7 466.3,232.5 466.4,231.5 466.5,228.6 466.6,224.2 466.8,219.7 466.9,215.6 467.0,213.0 467.1,209.2 467.3,207.9 467.4,206.7 467.5,207.8 467.6,208.8 467.8,212.7 467.9,215.9 468.0,220.8 468.1,224.1 468.3,228.6 468.4,230.9 468.5,232.6 468.6,233.3 468.8,232.7 468.9,231.5 469.0,228.6 469.1,224.1 469.3,220.8 469.4,215.6 469.5,212.0 469.6,209.0 469.8,207.6 469.9,206.6 470.0,207.6 470.1,208.8 470.3,212.0 470.4,216.1 470.5,220.8 470.6,224.3 470.8,228.1 470.9,230.8 471.0,233.0 471.1,234.5 471.3,232.9 471.4,231.8 471.5,228.4 471.6,224.4 471.8,219.7 471.9,215.7 472.0,212.1 472.1,209.3 472.3,207.3 472.4,206.3 472.5,207.8 472.6,209.6 472.8,212.7 472.9,216.4 473.0,220.3 473.1,224.0 473.3,228.9 473.4,231.1 473.5,233.7 473.6,233.8 473.8,233.1 473.9,231.2 474.0,228.4 474.1,224.4 474.3,220.4 474.4,215.5 474.5,212.1 474.6,209.0 474.8,207.2 474.9,206.5 475.0,207.5 475.1,208.8 475.2,211.7 475.4,216.3 475.5,219.9 475.6,224.1 475.7,228.8 475.9,231.8 476.0,233.9 476.1,234.2 476.2,233.9 476.4,231.7 476.5,228.8 476.6,224.0 476.7,220.7 476.9,215.5 477.0,212.5 477.1,209.2 477.2,207.2 477.4,206.5 477.5,207.1 477.6,208.8 477.7,211.7 477.9,216.6 478.0,220.6 478.1,224.1 478.2,228.6 478.4,230.9 478.5,233.1 478.6,233.7 478.7,234.1 478.9,231.4 479.0,228.3 479.1,224.1 479.2,220.8 479.4,215.5 479.5,212.4 479.6,209.1 479.7,207.3 479.9,206.2 480.0,206.4 480.1,208.9 480.2,211.5 480.4,215.5 480.5,220.5 480.6,224.5 480.7,229.0 480.9,232.1 481.0,233.9 481.1,234.3 481.2,233.0 481.4,231.3 481.5,228.5 481.6,225.1 481.7,220.3 481.9,216.3 482.0,211.7 482.1,209.3 482.2,207.3 482.4,205.8 482.5,207.4 482.6,208.9 482.7,211.5 482.9,216.0 483.0,220.0 483.1,225.2 483.2,228.1 483.4,232.1 483.5,233.3 483.6,234.3 483.7,233.9 483.9,231.8 484.0,228.3 484.1,224.6 484.2,219.8 484.4,215.6 484.5,212.3 484.6,209.0 484.7,206.3 484.9,206.1 485.0,206.5 485.1,209.0 485.2,211.8 485.4,215.8 485.5,220.2 485.6,224.7 485.7,228.5 485.9,231.3 486.0,233.3 486.1,234.4 486.2,234.2 486.4,231.5 486.5,228.5 486.6,224.7 486.7,220.1 486.9,215.9 487.0,212.2 487.1,208.6 487.2,206.6 487.4,205.6 487.5,207.2 487.6,209.0 487.7,211.7 487.9,216.4 488.0,220.7 488.1,225.2 488.2,228.5 488.3,232.2 488.5,234.3 488.6,234.4 488.7,234.4 488.8,231.8 489.0,229.1 489.1,224.4 489.2,220.2 489.3,216.2 489.5,212.3 489.6,209.0 489.7,206.2 489.8,205.6 490.0,206.6 490.1,208.5 490.2,212.5 490.3,216.3 490.5,220.5 490.6,224.6 490.7,228.1 490.8,232.2 491.0,233.2 491.1,234.1 491.2,233.4 491.3,231.7 491.5,228.2 491.6,224.2 491.7,220.3 491.8,216.2 492.0,211.5 492.1,208.4 492.2,206.1 492.3,206.0 492.5,206.9 492.6,208.2 492.7,212.5 492.8,215.3 493.0,220.6 493.1,225.1 493.2,228.2 493.3,231.6 493.5,233.9 493.6,234.1 493.7,234.2 493.8,231.8 494.0,228.9 494.1,225.2 494.2,219.7 494.3,216.3 494.5,212.5 494.6,208.4 494.7,206.5 494.8,205.4 495.0,207.0 495.1,208.4 495.2,211.4 495.3,216.2 495.5,220.8 495.6,224.8 495.7,228.6 495.8,231.4 496.0,234.3 496.1,234.7 496.2,234.1 496.3,232.0 496.5,228.6 496.6,224.2 496.7,219.9 496.8,216.4 497.0,211.7 497.1,209.3 497.2,206.2 497.3,206.2 497.5,206.3 497.6,208.4 497.7,212.1 497.8,216.0 498.0,220.5 498.1,225.2 498.2,228.8 498.3,231.2 498.5,234.2 498.6,234.0 498.7,233.3 498.8,232.0 499.0,228.3 499.1,225.3 499.2,219.8 499.3,215.5 499.5,211.3 499.6,208.4 499.7,206.3 499.8,206.2 500.0,206.7 500.1,208.3 500.2,212.2 500.3,215.3 500.5,220.5 500.6,225.1 500.7,229.2 500.8,232.1 501.0,234.4 501.1,235.2 501.2,233.5 501.3,232.2 501.4,228.8 501.6,224.3 501.7,220.5 501.8,215.3 501.9,211.8 502.1,209.2 502.2,207.2 502.3,205.5 502.4,206.2 502.6,208.2 502.7,211.3 502.8,215.4 502.9,220.2 503.1,225.3 503.2,229.0 503.3,231.7 503.4,233.8 503.6,235.1 503.7,233.8 503.8,231.4 503.9,229.1 504.1,224.8 504.2,220.0 504.3,215.7 504.4,211.5 504.6,208.2 504.7,206.2 504.8,206.2 504.9,206.0 505.1,208.5 505.2,211.8 505.3,216.0 505.4,219.7 505.6,225.0 505.7,228.7 505.8,231.6 505.9,234.4 506.1,235.0 506.2,233.9 506.3,232.4 506.4,228.8 506.6,224.4 506.7,219.7 506.8,215.5 506.9,211.5 507.1,209.1 507.2,206.0 507.3,205.7 507.4,206.0 507.6,209.0 507.7,211.5 507.8,216.3 507.9,220.0 508.1,224.6 508.2,228.2 508.3,232.5 508.4,233.6 508.6,235.1 508.7,234.3 508.8,231.8 508.9,229.3 509.1,224.2 509.2,219.8 509.3,216.4 509.4,211.8 509.6,209.2 509.7,207.0 509.8,206.2 509.9,206.7 510.1,208.1 510.2,211.2 510.3,215.6 510.4,220.1 510.6,224.9 510.7,228.2 510.8,230.9 510.9,233.3 511.1,233.6 511.2,233.0 511.3,230.9 511.4,226.9 511.6,223.5 511.7,219.9 511.8,216.0 511.9,212.5 512.1,210.0 512.2,208.0 512.3,207.6 512.4,208.3 512.6,210.1 512.7,212.8 512.8,215.5 512.9,219.4 513.1,222.3 513.2,225.4 513.3,227.1 513.4,228.9 513.6,229.3 513.7,227.5 513.8,226.4 513.9,224.0 514.1,221.9 514.2,218.5 514.3,215.8 514.4,213.6 514.5,212.6 514.7,211.2 514.8,211.5 514.9,211.5 515.0,213.2 515.2,214.4 515.3,216.7 515.4,219.0 515.5,220.6 515.7,223.2 515.8,224.6 515.9,225.1 516.0,225.8 516.2,224.6 516.3,224.2 516.4,223.1 516.5,220.8 516.7,218.6 516.8,217.0 516.9,214.7 517.0,214.3 517.2,213.8 517.3,213.6 517.4,213.5 517.5,213.8 517.7,215.2 517.8,216.8 517.9,219.3 518.0,220.1 518.2,221.1 518.3,222.9 518.4,222.8 518.5,223.3 518.7,223.2 518.8,222.8 518.9,221.1 519.0,220.4 519.2,218.6 519.3,217.8 519.4,216.4 519.5,215.8 519.7,215.2 519.8,214.4 519.9,215.2 520.0,215.4 520.2,216.9 520.3,218.0 520.4,218.7 520.5,219.9 520.7,220.9 520.8,221.3 520.9,221.5 521.0,222.1 521.2,221.3 521.3,220.7 521.4,220.8 521.5,219.7 521.7,219.0 521.8,217.2 521.9,217.3 522.0,216.7 522.2,216.0 522.3,216.5 522.4,215.5 522.5,216.8 522.7,216.6 522.8,217.3 522.9,218.9 523.0,219.7 523.2,220.2 523.3,220.2 523.4,221.1 523.5,221.0 523.7,220.6 523.8,220.1 523.9,219.4 524.0,219.7 524.2,218.6 524.3,217.5 524.4,218.0 524.5,216.7 524.7,217.1 524.8,216.8 524.9,216.7 525.0,217.5 525.2,217.7 525.3,218.7 525.4,218.4 525.5,219.3 525.7,219.1 525.8,219.8 525.9,219.9 526.0,220.3 526.2,220.6 526.3,219.9 526.4,219.1 526.5,219.5 526.7,218.7 526.8,218.8 526.9,217.3 527.0,217.3 527.2,217.7 527.3,217.6 527.4,217.3 527.5,218.1 527.6,218.4 527.8,218.2 527.9,219.2 528.0,219.4 528.1,219.7 528.3,219.8 528.4,219.9 528.5,220.2 528.6,219.9 528.8,219.9 528.9,219.2 529.0,218.4 529.1,218.9 529.3,218.1 529.4,218.3 529.5,218.3 529.6,217.4 529.8,217.7 529.9,217.7 530.0,217.4 530.1,218.1 530.3,217.7 530.4,218.6 530.5,218.9 530.6,219.2 530.8,218.7 530.9,219.2 531.0,219.5 531.1,219.5 531.3,219.0 531.4,219.6 531.5,219.4 531.6,218.5 531.8,217.9 531.9,217.8 532.0,218.3 532.1,218.2 532.3,218.0 532.4,217.9 532.5,218.7 532.6,218.5 532.8,218.1 532.9,218.7 533.0,219.3 533.1,219.6 533.3,218.8 533.4,219.3 533.5,218.7 533.6,219.3 533.8,219.2 533.9,218.9 534.0,218.7 534.1,218.2 534.3,218.4 534.4,218.3 534.5,218.1 534.6,218.1 534.8,218.3 534.9,218.1 535.0,218.3 535.1,219.0 535.3,219.0 535.4,218.8 535.5,218.2 535.6,219.1 535.8,218.9 535.9,218.6 536.0,219.0 536.1,218.4 536.3,219.0 536.4,218.3 536.5,218.3 536.6,218.5 536.8,218.4 536.9,218.5 537.0,218.0 537.1,217.8 537.3,217.9 537.4,218.4 537.5,217.9 537.6,218.2 537.8,218.6 537.9,218.8 538.0,218.3 538.1,219.3 538.3,219.3 538.4,219.3 538.5,219.0 538.6,218.8 538.8,218.6 538.9,219.4 539.0,219.1 539.1,218.6 539.3,219.0 539.4,218.0 539.5,218.0 539.6,218.5 539.8,219.0 539.9,218.4 540.0,218.5 540.1,219.1 540.3,218.7 540.4,218.4 540.5,219.1 540.6,218.6 540.7,219.1 540.9,219.4 541.0,218.3 541.1,218.6 541.2,218.5 541.4,218.9 541.5,218.1 541.6,219.2 541.7,218.4 541.9,218.0 542.0,218.4 542.1,218.7 542.2,218.4 542.4,218.1 542.5,218.1 542.6,218.3 542.7,218.1 542.9,219.1 543.0,219.2 543.1,218.8 543.2,218.5 543.4,218.1 543.5,219.3 543.6,218.6 543.7,218.9 543.9,219.2 544.0,218.7 544.1,218.6 544.2,219.0 544.4,219.0 544.5,219.1 544.6,218.6 544.7,218.0 544.9,218.9 545.0,218.3 545.1,218.2 545.2,218.8 545.4,219.2 545.5,219.1 545.6,218.9 545.7,218.1 545.9,219.1 546.0,218.1 546.1,218.4 546.2,218.2 546.4,218.5 546.5,219.0 546.6,218.2 546.7,218.5 546.9,218.0 547.0,218.7 547.1,218.6 547.2,218.2 547.4,218.2 547.5,218.9 547.6,218.0 547.7,219.1 547.9,218.1 548.0,218.9 548.1,218.3 548.2,219.2 548.4,219.0 548.5,218.7 548.6,219.3 548.7,218.6 548.9,218.8 549.0,218.9 549.1,218.8 549.2,218.9 549.4,218.5 549.5,218.6 549.6,219.0 549.7,219.0 549.9,218.0 550.0,218.6 550.1,219.1 550.2,218.7 550.4,218.4 550.5,218.6 550.6,219.2 550.7,218.6 550.9,218.6 551.0,218.4 551.1,219.0 551.2,218.6 551.4,218.4 551.5,219.2 551.6,218.5 551.7,219.0 551.9,218.6 552.0,218.5 552.1,218.0 552.2,218.7 552.4,218.8 552.5,218.6 552.6,219.2 552.7,218.4 552.9,218.7 553.0,219.1 553.1,219.1 553.2,218.4 553.4,219.2 553.5,219.1 553.6,218.2 553.7,218.7 553.8,219.2 554.0,219.1 554.1,219.2 554.2,218.4 554.3,218.7 554.5,218.2 554.6,218.7 554.7,219.2 554.8,218.6 555.0,219.0 555.1,219.2 555.2,219.0 555.3,218.1 555.5,218.5 555.6,218.1 555.7,218.8 555.8,219.1 556.0,219.0 556.1,218.3 556.2,218.4 556.3,218.1 556.5,218.2 556.6,218.6 556.7,218.9 556.8,218.6 557.0,218.0 557.1,219.0 557.2,219.2 557.3,218.3 557.5,218.5 557.6,218.0 557.7,219.0 557.8,218.8 558.0,218.2 558.1,219.2 558.2,218.2 558.3,218.3 558.5,218.5 558.6,219.1 558.7,219.2 558.8,218.7 559.0,218.2 559.1,218.1 559.2,217.7 559.3,216.8 559.5,216.8 559.6,215.9 559.7,216.1 559.8,215.6 560.0,215.5 560.1,215.9 560.2,217.4 560.3,217.9 560.5,218.9 560.6,219.7 560.7,220.0 560.8,221.2 561.0,221.6 561.1,220.6 561.2,220.5 561.3,219.2 561.5,218.7 561.6,218.0 561.7,216.5 561.8,214.6 562.0,214.1 562.1,212.9 562.2,213.7 562.3,212.7 562.5,214.2 562.6,215.3 562.7,215.4 562.8,217.7 563.0,218.2 563.1,219.4 563.2,220.8 563.3,220.9 563.5,221.9 563.6,221.1 563.7,221.0 563.8,219.1 564.0,219.0 564.1,216.7 564.2,215.7 564.3,214.4 564.5,213.2 564.6,212.7 564.7,212.4 564.8,213.0 565.0,213.8 565.1,214.2 565.2,216.1 565.3,216.4 565.5,218.4 565.6,219.2 565.7,220.5 565.8,220.7 566.0,221.5 566.1,221.5 566.2,220.8 566.3,218.8 566.5,218.5 566.6,216.5 566.7,215.9 566.8,214.1 566.9,213.2 567.1,212.9 567.2,212.1 567.3,213.2 567.4,213.1 567.6,214.2 567.7,215.7 567.8,217.0 567.9,217.7 568.1,218.7 568.2,219.9 568.3,220.2 568.4,221.4 568.6,220.3 568.7,219.7 568.8,219.2 568.9,218.3 569.1,217.0 569.2,215.1 569.3,213.8 569.4,213.7 569.6,212.4 569.7,212.2 569.8,212.2 569.9,213.7 570.1,214.9 570.2,215.4 570.3,217.2 570.4,218.5 570.6,218.7 570.7,219.5 570.8,220.6 570.9,220.2 571.1,220.1 571.2,219.5 571.3,218.5 571.4,218.4 571.6,217.0 571.7,215.0 571.8,214.6 571.9,213.1 572.1,213.4 572.2,212.4 572.3,212.8 572.4,213.1 572.6,214.4 572.7,216.0 572.8,217.0 572.9,218.0 573.1,219.0 573.2,219.7 573.3,219.9 573.4,221.1 573.6,220.3 573.7,219.8 573.8,219.0 573.9,217.7 574.1,216.7 574.2,215.4 574.3,215.0 574.4,213.5 574.6,213.1 574.7,213.4 574.8,212.5 574.9,213.1 575.1,214.8 575.2,216.1 575.3,216.5 575.4,217.6 575.6,218.8 575.7,219.4 575.8,220.5 575.9,220.9 576.1,220.2 576.2,219.5 576.3,218.9 576.4,217.3 576.6,217.0 576.7,214.9 576.8,214.3 576.9,213.0 577.1,213.6 577.2,212.4 577.3,213.3 577.4,214.2 577.6,213.9 577.7,215.4 577.8,216.5 577.9,217.4 578.1,219.4 578.2,219.9 578.3,220.7 578.4,220.9 578.6,220.9 578.7,219.9 578.8,219.4 578.9,217.9 579.1,217.2 579.2,214.9 579.3,214.9 579.4,213.6 579.5,212.6 579.7,212.5 579.8,213.2 579.9,213.5 580.0,214.5 580.2,215.8 580.3,216.5 580.4,217.6 580.5,219.0 580.7,219.4 580.8,220.0 580.9,220.3 581.0,220.2 581.2,219.9 581.3,218.5 581.4,217.7 581.5,216.5 581.7,216.1 581.8,214.8 581.9,213.3 582.0,213.1 582.2,212.6 582.3,213.6 582.4,213.1 582.5,214.9 582.7,215.3 582.8,216.7 582.9,218.2 583.0,218.8 583.2,219.5 583.3,220.5 583.4,219.9 583.5,219.9 583.7,219.9 583.8,218.6 583.9,218.1 584.0,216.8 584.2,215.1 584.3,214.1 584.4,214.2 584.5,212.7 584.7,212.7 584.8,213.0 584.9,213.4 585.0,213.9 585.2,215.3 585.3,216.4 585.4,217.8 585.5,218.7 585.7,219.2 585.8,220.7 585.9,220.7 586.0,220.8 586.2,219.8 586.3,219.0 586.4,218.4 586.5,216.4 586.7,215.2 586.8,214.5 586.9,213.9 587.0,213.2 587.2,213.1 587.3,213.2 587.4,213.6 587.5,214.7 587.7,215.2 587.8,216.7 587.9,218.4 588.0,219.2 588.2,219.8 588.3,220.0 588.4,220.5 588.5,219.6 588.7,220.1 588.8,219.3 588.9,218.1 589.0,216.1 589.2,215.8 589.3,214.9 589.4,214.2 589.5,212.7 589.7,212.4 589.8,213.6 589.9,213.4 590.0,214.4 590.2,215.7 590.3,216.3 590.4,217.4 590.5,219.3 590.7,219.8 590.8,220.8 590.9,220.2 591.0,220.3 591.2,219.6 591.3,219.2 591.4,218.3 591.5,216.8 591.7,215.3 591.8,214.1 591.9,213.0 592.0,213.7 592.2,212.8 592.3,213.0 592.4,213.5 592.5,214.5 592.6,215.9 592.8,216.3 592.9,218.2 593.0,218.5 593.1,219.9 593.3,220.7 593.4,219.8 593.5,220.3 593.6,219.8 593.8,218.9 593.9,217.8 594.0,216.2 594.1,215.9 594.3,214.5 594.4,213.4 594.5,212.9 594.6,212.5 594.8,212.7 594.9,213.2 595.0,214.1 595.1,215.2 595.3,216.4 595.4,218.0 595.5,219.4 595.6,219.3 595.8,219.9 595.9,220.3 596.0,220.4 596.1,219.8 596.3,218.9 596.4,217.4 596.5,217.1 596.6,216.0 596.8,214.6 596.9,214.0 597.0,213.2 597.1,212.5 597.3,212.6 597.4,213.5 597.5,215.0 597.6,215.1 597.8,216.4 597.9,218.2 598.0,218.2 598.1,219.2 598.3,220.0 598.4,220.9 598.5,220.7 598.6,220.1 598.8,218.6 598.9,217.9 599.0,217.2 599.1,215.2 599.3,214.0 599.4,213.5 599.5,213.3 599.6,213.3 599.8,213.1 599.9,213.1 600.0,214.5 600.1,215.7 600.3,216.5 600.4,218.2 600.5,218.5 600.6,220.0 600.8,220.1 600.9,219.9 601.0,220.3 601.1,220.0 601.3,218.7 601.4,217.2 601.5,216.8 601.6,215.2 601.8,214.0 601.9,213.5 602.0,213.6 602.1,212.7 602.3,212.5 602.4,213.1 602.5,214.2 602.6,216.0 602.8,216.3 602.9,218.4 603.0,219.0 603.1,220.3 603.3,220.4 603.4,220.4 603.5,219.9 603.6,220.0 603.8,218.9 603.9,217.8 604.0,217.2 604.1,215.7 604.3,214.5 604.4,213.7 604.5,213.0 604.6,212.4 604.8,212.6 604.9,213.3 605.0,214.8 605.1,215.0 605.3,216.3 605.4,218.2 605.5,219.0 605.6,219.6 605.7,219.6 605.9,220.1 606.0,220.4 606.1,219.5 606.2,219.0 606.4,218.3 606.5,216.0 606.6,215.0 606.7,214.6 606.9,214.1 607.0,213.6 607.1,212.8 607.2,212.8 607.4,213.8 607.5,214.2 607.6,215.1 607.7,216.5 607.9,217.9 608.0,219.1 608.1,219.4 608.2,220.4 608.4,219.9 608.5,219.9 608.6,219.9 608.7,218.7 608.9,217.5 609.0,216.7 609.1,215.2 609.2,214.1 609.4,213.7 609.5,213.4 609.6,213.2 609.7,212.8 609.9,213.4 610.0,214.6 610.1,215.9 610.2,216.1 610.4,217.5 610.5,219.5 610.6,219.9 610.7,220.2 610.9,219.9 611.0,220.4 611.1,220.0 611.2,218.7 611.4,217.9 611.5,216.3 611.6,215.3 611.7,214.2 611.9,213.2 612.0,213.4 612.1,212.8 612.2,213.0 612.4,213.3 612.5,213.9 612.6,215.8 612.7,217.1 612.9,217.2 613.0,218.8 613.1,219.4 613.2,220.4 613.4,220.3 613.5,220.4 613.6,219.7 613.7,219.4 613.9,217.6 614.0,217.3 614.1,215.5 614.2,214.0 614.4,213.9 614.5,212.7 614.6,213.1 614.7,213.0 614.9,213.3 615.0,214.2 615.1,215.2 615.2,217.1 615.4,217.3 615.5,218.9 615.6,220.1 615.7,219.8 615.9,220.0 616.0,219.6 616.1,219.6 616.2,218.5 616.4,218.0 616.5,217.2 616.6,215.8 616.7,215.1 616.9,214.1 617.0,213.0 617.1,213.5 617.2,213.7 617.4,213.3 617.5,214.6 617.6,215.4 617.7,216.8 617.9,217.6 618.0,219.3 618.1,219.2 618.2,219.9 618.4,220.0 618.5,220.0 618.6,219.5 618.7,218.7 618.8,217.8 619.0,216.5 619.1,216.1 619.2,214.3 619.3,213.4 619.5,213.6 619.6,212.3 619.7,213.5 619.8,213.1 620.0,214.4 620.1,215.9 620.2,216.8 620.3,218.0 620.5,218.9 620.6,219.6 620.7,219.9 620.8,220.5 621.0,219.6 621.1,219.3 621.2,218.3 621.3,217.8 621.5,216.6 621.6,215.5 621.7,214.6 621.8,213.3 622.0,213.5 622.1,212.8 622.2,212.7 622.3,214.1 622.5,213.9 622.6,215.5 622.7,216.5 622.8,217.3 623.0,218.6 623.1,219.8 623.2,220.6 623.3,220.2 623.5,220.8 623.6,219.4 623.7,218.6 623.8,218.4 624.0,216.0 624.1,215.8 624.2,214.1 624.3,213.7 624.5,212.8 624.6,212.9 624.7,213.6 624.8,213.6 625.0,215.0 625.1,216.1 625.2,216.7 625.3,218.1 625.5,218.4 625.6,219.6 625.7,220.3 625.8,220.5 626.0,220.4 626.1,219.4 626.2,219.0 626.3,217.8 626.5,216.8 626.6,215.6 626.7,214.0 626.8,214.1 627.0,212.5 627.1,212.5 627.2,213.0 627.3,213.7 627.5,214.4 627.6,215.6 627.7,216.9 627.8,217.3 628.0,218.9 628.1,219.5 628.2,220.5 628.3,220.7 628.5,220.1 628.6,219.3 628.7,219.2 628.8,217.4 629.0,217.0 629.1,215.7 629.2,214.1 629.3,213.7 629.5,212.9 629.6,212.9 629.7,212.9 629.8,214.2 630.0,215.0 630.1,215.9 630.2,216.5 630.3,217.7 630.5,219.0 630.6,219.9 630.7,220.2 630.8,220.8 631.0,220.5 631.1,219.4 631.2,218.3 631.3,218.0 631.5,217.3 631.6,215.3 631.7,214.0 631.8,213.6 631.9,213.3 632.1,213.0 632.2,213.1 632.3,213.5 632.4,214.0 632.6,215.2 632.7,216.6 632.8,218.1 632.9,218.8 633.1,220.3 633.2,220.2 633.3,220.4 633.4,220.2 633.6,219.6 633.7,218.5 633.8,217.5 633.9,217.5 634.1,216.2 634.2,215.2 634.3,215.5 634.4,215.2 634.6,214.7 634.7,215.8 634.8,216.4 634.9,215.9 635.1,216.6 635.2,217.5 635.3,218.5 635.4,217.9 635.6,218.5 635.7,218.7 635.8,218.7 635.9,218.9 636.1,218.6 636.2,217.6 636.3,218.0 636.4,218.4 636.6,217.1 636.7,217.6 636.8,218.2 636.9,217.8 637.1,217.7 637.2,217.6 637.3,217.8 637.4,218.3 637.6,218.4 637.7,218.7 637.8,218.0 637.9,218.3 638.1,218.4 638.2,218.2 638.3,218.3 638.4,218.6 638.6,218.7 638.7,218.3 638.8,217.8 638.9,217.7 639.1,218.4 639.2,217.9 639.3,218.0 639.4,218.7 639.6,218.8 639.7,218.4 639.8,218.8 639.9,217.8 640.1,218.9 640.2,218.2 640.3,218.8 640.4,218.7 640.6,219.0 640.7,218.8 640.8,218.4 640.9,218.4 641.1,218.1 641.2,218.0 641.3,217.9 641.4,218.2 641.6,218.6 641.7,218.8 641.8,218.7 641.9,218.4 642.1,218.1 642.2,218.0 642.3,218.2 642.4,219.0 642.6,218.8 642.7,218.4 642.8,218.0 642.9,218.5 643.1,219.1 643.2,219.0 643.3,218.3 643.4,218.6 643.6,219.2 643.7,218.0 643.8,218.0 643.9,218.8 644.1,218.8 644.2,218.1 644.3,218.2 644.4,218.6 644.6,218.7 644.7,219.0 644.8,218.3 644.9,219.0 645.0,218.6 645.2,218.7 645.3,219.1 645.4,219.1 645.5,218.4 645.7,219.1 645.8,218.6 645.9,218.5 646.0,218.8 646.2,218.5 646.3,219.2 646.4,218.9 646.5,219.1 646.7,218.6 646.8,218.3 646.9,218.9 647.0,218.8 647.2,218.3 647.3,219.0 647.4,218.3 647.5,219.1 647.7,218.4 647.8,218.3 647.9,218.5 648.0,218.4 648.2,218.4 648.3,218.4 648.4,218.2 648.5,219.2 648.7,219.0 648.8,218.8 648.9,218.3 649.0,218.2 649.2,218.4 649.3,218.7 649.4,218.4 649.5,218.5 649.7,218.2 649.8,218.7 649.9,218.8 650.0,218.8 650.2,219.0 650.3,219.1 650.4,218.7 650.5,218.3 650.7,218.5 650.8,219.1 650.9,218.4 651.0,219.0 651.2,218.8 651.3,218.7 651.4,219.0 651.5,218.2 651.7,218.3 651.8,218.3 651.9,218.7 652.0,218.9 652.2,218.1 652.3,218.2 652.4,218.5 652.5,219.0 652.7,218.5 652.8,219.2 652.9,219.2 653.0,218.5 653.2,218.6 653.3,219.0 653.4,218.1 653.5,218.1 653.7,218.4 653.8,218.2 653.9,218.5 654.0,218.0 654.2,218.1 654.3,218.5 654.4,218.8 654.5,218.0 654.7,218.1 654.8,218.1 654.9,219.0 655.0,219.1 655.2,218.1 655.3,218.8 655.4,218.6 655.5,218.1 655.7,218.9 655.8,219.1 655.9,218.6 656.0,218.5 656.2,218.1 656.3,218.3 656.4,218.2 656.5,218.8 656.7,218.9 656.8,218.4 656.9,219.1 657.0,219.2 657.2,218.1 657.3,218.8 657.4,218.5 657.5,218.6 657.7,219.0 657.8,218.7 657.9,218.3 658.0,219.1 658.1,218.5 658.3,219.2 658.4,218.3 658.5,219.2 658.6,218.7 658.8,219.1 658.9,218.1 659.0,218.4 659.1,218.9 659.3,218.9 659.4,218.7 659.5,218.7 659.6,219.0 659.8,218.1 659.9,219.1 660.0,219.2 660.1,219.1 660.3,218.7 660.4,218.2 660.5,219.1 660.6,218.4 660.8,218.3 660.9,218.0 661.0,218.8 661.1,218.7 661.3,218.5 661.4,218.4 661.5,219.0 661.6,218.9 661.8,219.1 661.9,218.6 662.0,219.0 662.1,218.9 662.3,218.4 662.4,218.7 662.5,219.2 662.6,218.6 662.8,218.7 662.9,218.8 663.0,219.0 663.1,218.8 663.3,218.3 663.4,218.7 663.5,218.2 663.6,218.8 663.8,218.3 663.9,218.5 664.0,218.3 664.1,218.8 664.3,218.2 664.4,218.4 664.5,219.2 664.6,218.5 664.8,218.1 664.9,219.1 665.0,218.5 665.1,218.0 665.3,218.6 665.4,218.8 665.5,218.6 665.6,218.0 665.8,218.4 665.9,218.0 666.0,218.5 666.1,218.4 666.3,219.1 666.4,218.7 666.5,218.6 666.6,218.6 666.8,218.2 666.9,218.7 667.0,218.6 667.1,219.1 667.3,218.2 667.4,218.2 667.5,218.1 667.6,218.4 667.8,218.6 667.9,218.8 668.0,218.3 668.1,219.2 668.3,218.4 668.4,219.1 668.5,218.4 668.6,218.2 668.8,218.5 668.9,218.9 669.0,219.2 669.1,218.2 669.3,219.0 669.4,218.1 669.5,218.6 669.6,219.2 669.8,218.8 669.9,218.6 670.0,218.7 670.1,218.7 670.3,218.8 670.4,218.4 670.5,218.1 670.6,218.8 670.8,219.1 670.9,218.2 671.0,218.1 671.1,218.6 671.2,218.1 671.4,218.5 671.5,218.2 671.6,218.6 671.7,218.4 671.9,218.4 672.0,218.8 672.1,218.8 672.2,218.6 672.4,218.6 672.5,219.1 672.6,218.2 672.7,218.0 672.9,219.1 673.0,218.8 673.1,219.2 673.2,219.0 673.4,218.7 673.5,218.1 673.6,218.8 673.7,218.3 673.9,219.0 674.0,218.3 674.1,219.0 674.2,218.7 674.4,218.5 674.5,218.9 674.6,218.7 674.7,218.4 674.9,218.3 675.0,218.1 675.1,219.2 675.2,219.1 675.4,219.0 675.5,218.1 675.6,218.8 675.7,219.2 675.9,218.4 676.0,218.9 676.1,218.8 676.2,218.6 676.4,219.2 676.5,218.2 676.6,218.8 676.7,219.0 676.9,218.5 677.0,218.1 677.1,219.0 677.2,218.5 677.4,219.2 677.5,218.7 677.6,218.5 677.7,218.4 677.9,219.1 678.0,218.1 678.1,218.1 678.2,219.1 678.4,218.9 678.5,219.0 678.6,218.3 678.7,218.6 678.9,218.5 679.0,218.8 679.1,218.9 679.2,219.0 679.4,218.1 679.5,219.0 679.6,218.5 679.7,218.5 679.9,218.8 680.0,218.2 680.1,219.0 680.2,218.9 680.4,218.9 680.5,218.3 680.6,218.1 680.7,218.8 680.9,218.1 681.0,218.6 681.1,219.0 681.2,218.5 681.4,219.0 681.5,218.7 681.6,218.2 681.7,219.2 681.9,218.3 682.0,218.5 682.1,218.6 682.2,219.0 682.4,219.1 682.5,218.9 682.6,218.5 682.7,218.8 682.9,218.2 683.0,218.4 683.1,218.2 683.2,218.4 683.4,219.2 683.5,218.6 683.6,218.1 683.7,218.2 683.9,218.3"/>
<polyline fill="none" stroke="#ff0000" stroke-width="2.0" stroke-linejoin="round" points="396.90,218.62 397.40,218.62 397.90,218.62 398.40,218.62 398.90,218.62 399.40,218.62 399.89,218.62 400.39,218.62 400.89,218.62 401.39,218.62 401.89,218.62 402.39,218.62 402.89,218.62 403.39,218.62 403.89,218.62 404.39,218.62 404.88,218.62 405.38,218.62 405.88,218.62 406.38,218.62 406.88,218.62 407.38,218.62 407.88,218.62 408.38,218.62 408.88,218.62 409.38,218.62 409.88,218.62 410.37,218.62 410.87,218.62 411.37,218.62 411.87,218.62 412.37,218.62 412.87,218.62 413.37,218.62 413.87,218.62 414.37,218.62 414.87,218.62 415.36,218.62 415.86,218.62 416.36,218.62 416.86,218.62 417.36,218.62 417.86,218.62 418.36,218.62 418.86,218.62 419.36,218.62 419.86,218.62 420.36,218.62 420.85,218.62 421.35,218.62 421.85,218.62 422.35,218.62 422.85,218.62 423.35,218.62 423.85,218.62 424.35,218.62 424.85,218.62 425.35,218.62 425.84,218.62 426.34,218.62 426.84,218.62 427.34,218.62 427.84,218.62 428.34,218.62 428.84,218.62 429.34,218.62 429.84,218.62 430.34,218.62 430.83,218.62 431.33,218.62 431.83,218.62 432.33,218.62 432.83,218.62 433.33,218.62 433.83,218.62 434.33,218.62 434.83,218.70 435.33,218.86 435.83,219.06 436.32,219.26 436.82,219.45 437.32,219.61 437.82,219.74 438.32,219.86 438.82,219.95 439.32,220.02 439.82,220.08 440.32,220.13 440.82,220.16 441.31,220.19 441.81,220.21 442.31,220.23 442.81,220.24 443.31,220.25 443.81,220.26 444.31,220.26 444.81,220.27 445.31,220.27 445.81,220.27 446.31,220.27 446.80,220.27 447.30,220.28 447.80,220.28 448.30,220.28 448.80,220.28 449.30,220.28 449.80,220.28 450.30,220.28 450.80,220.28 451.30,220.28 451.79,220.28 452.29,220.28 452.79,220.28 453.29,220.28 453.79,220.28 454.29,220.28 454.79,220.28 455.29,220.28 455.79,220.28 456.29,220.28 456.79,220.28 457.28,220.28 457.78,220.28 458.28,220.28 458.78,220.28 459.28,220.28 459.78,220.28 460.28,220.28 460.78,220.28 461.28,220.28 461.78,220.28 462.27,220.28 462.77,220.28 463.27,220.28 463.77,220.28 464.27,220.28 464.77,220.28 465.27,220.28 465.77,220.28 466.27,220.28 466.77,220.28 467.27,220.28 467.76,220.28 468.26,220.28 468.76,220.28 469.26,220.28 469.76,220.28 470.26,220.28 470.76,220.28 471.26,220.28 471.76,220.28 472.26,220.28 472.75,220.28 473.25,220.28 473.75,220.28 474.25,220.28 474.75,220.28 475.25,220.28 475.75,220.28 476.25,220.28 476.75,220.28 477.25,220.28 477.75,220.28 478.24,220.28 478.74,220.28 479.24,220.28 479.74,220.28 480.24,220.28 480.74,220.28 481.24,220.28 481.74,220.28 482.24,220.28 482.74,220.28 483.23,220.28 483.73,220.28 484.23,220.28 484.73,220.28 485.23,220.28 485.73,220.28 486.23,220.28 486.73,220.28 487.23,220.28 487.73,220.28 488.22,220.28 488.72,220.28 489.22,220.28 489.72,220.28 490.22,220.28 490.72,220.28 491.22,220.28 491.72,220.28 492.22,220.28 492.72,220.28 493.22,220.28 493.71,220.28 494.21,220.28 494.71,220.28 495.21,220.28 495.71,220.28 496.21,220.28 496.71,220.28 497.21,220.28 497.71,220.28 498.21,220.28 498.70,220.28 499.20,220.28 499.70,220.28 500.20,220.28 500.70,220.28 501.20,220.28 501.70,220.28 502.20,220.28 502.70,220.28 503.20,220.28 503.70,220.28 504.19,220.28 504.69,220.28 505.19,220.28 505.69,220.28 506.19,220.28 506.69,220.28 507.19,220.28 507.69,220.28 508.19,220.28 508.69,220.28 509.18,220.28 509.68,220.23 510.18,220.13 510.68,219.99 511.18,219.84 511.68,219.69 512.18,219.55 512.68,219.42 513.18,219.30 513.68,219.19 514.18,219.10 514.67,219.02 515.17,218.95 515.67,218.90 516.17,218.85 516.67,218.81 517.17,218.78 517.67,218.75 518.17,218.73 518.67,218.71 519.17,218.69 519.66,218.68 520.16,218.67 520.66,218.66 521.16,218.65 521.66,218.65 522.16,218.64 522.66,218.64 523.16,218.64 523.66,218.63 524.16,218.63 524.66,218.63 525.15,218.63 525.65,218.63 526.15,218.63 526.65,218.63 527.15,218.63 527.65,218.63 528.15,218.63 528.65,218.63 529.15,218.63 529.65,218.63 530.14,218.63 530.64,218.63 531.14,218.63 531.64,218.63 532.14,218.63 532.64,218.63 533.14,218.63 533.64,218.63 534.14,218.63 534.64,218.63 535.14,218.63 535.63,218.63 536.13,218.63 536.63,218.63 537.13,218.63 537.63,218.63 538.13,218.63 538.63,218.63 539.13,218.63 539.63,218.63 540.13,218.63 540.62,218.63 541.12,218.63 541.62,218.63 542.12,218.63 542.62,218.63 543.12,218.63 543.62,218.63 544.12,218.63 544.62,218.63 545.12,218.63 545.61,218.63 546.11,218.63 546.61,218.63 547.11,218.63 547.61,218.63 548.11,218.63 548.61,218.63 549.11,218.63 549.61,218.63 550.11,218.63 550.61,218.63 551.10,218.63 551.60,218.63 552.10,218.63 552.60,218.63 553.10,218.63 553.60,218.63 554.10,218.63 554.60,218.63 555.10,218.63 555.60,218.63 556.09,218.63 556.59,218.63 557.09,218.63 557.59,218.63 558.09,218.63 558.59,218.63 559.09,218.63 559.59,218.59 560.09,218.51 560.59,218.41 561.09,218.30 561.58,218.18 562.08,218.08 562.58,217.98 563.08,217.89 563.58,217.81 564.08,217.74 564.58,217.68 565.08,217.63 565.58,217.59 566.08,217.55 566.57,217.52 567.07,217.50 567.57,217.48 568.07,217.46 568.57,217.45 569.07,217.43 569.57,217.43 570.07,217.42 570.57,217.41 571.07,217.41 571.57,217.40 572.06,217.40 572.56,217.40 573.06,217.39 573.56,217.39 574.06,217.39 574.56,217.39 575.06,217.39 575.56,217.39 576.06,217.39 576.56,217.39 577.05,217.39 577.55,217.39 578.05,217.39 578.55,217.39 579.05,217.39 579.55,217.39 580.05,217.39 580.55,217.39 581.05,217.39 581.55,217.38 582.05,217.38 582.54,217.38 583.04,217.38 583.54,217.38 584.04,217.38 584.54,217.38 585.04,217.38 585.54,217.38 586.04,217.38 586.54,217.38 587.04,217.38 587.53,217.38 588.03,217.38 588.53,217.38 589.03,217.38 589.53,217.38 590.03,217.38 590.53,217.38 591.03,217.38 591.53,217.38 592.03,217.38 592.53,217.38 593.02,217.38 593.52,217.38 594.02,217.38 594.52,217.38 595.02,217.38 595.52,217.38 596.02,217.38 596.52,217.38 597.02,217.38 597.52,217.38 598.01,217.38 598.51,217.38 599.01,217.38 599.51,217.38 600.01,217.38 600.51,217.38 601.01,217.38 601.51,217.38 602.01,217.38 602.51,217.38 603.00,217.38 603.50,217.38 604.00,217.38 604.50,217.38 605.00,217.38 605.50,217.38 606.00,217.38 606.50,217.38 607.00,217.38 607.50,217.38 608.00,217.38 608.49,217.38 608.99,217.38 609.49,217.38 609.99,217.38 610.49,217.38 610.99,217.38 611.49,217.38 611.99,217.38 612.49,217.38 612.99,217.38 613.48,217.38 613.98,217.38 614.48,217.38 614.98,217.38 615.48,217.38 615.98,217.38 616.48,217.38 616.98,217.38 617.48,217.38 617.98,217.38 618.48,217.38 618.97,217.38 619.47,217.38 619.97,217.38 620.47,217.38 620.97,217.38 621.47,217.38 621.97,217.38 622.47,217.38 622.97,217.38 623.47,217.38 623.96,217.38 624.46,217.38 624.96,217.38 625.46,217.38 625.96,217.38 626.46,217.38 626.96,217.38 627.46,217.38 627.96,217.38 628.46,217.38 628.96,217.38 629.45,217.38 629.95,217.38 630.45,217.38 630.95,217.38 631.45,217.38 631.95,217.38 632.45,217.38 632.95,217.38 633.45,217.38 633.95,217.38 634.44,217.42 634.94,217.50 635.44,217.60 635.94,217.71 636.44,217.83 636.94,217.93 637.44,218.03 637.94,218.12 638.44,218.20 638.94,218.27 639.44,218.33 639.93,218.38 640.43,218.42 640.93,218.46 641.43,218.49 641.93,218.51 642.43,218.53 642.93,218.55 643.43,218.56 643.93,218.57 644.43,218.58 644.92,218.59 645.42,218.60 645.92,218.60 646.42,218.61 646.92,218.61 647.42,218.61 647.92,218.62 648.42,218.62 648.92,218.62 649.42,218.62 649.92,218.62 650.41,218.62 650.91,218.62 651.41,218.62 651.91,218.62 652.41,218.62 652.91,218.62 653.41,218.62 653.91,218.62 654.41,218.62 654.91,218.62 655.40,218.62 655.90,218.62 656.40,218.62 656.90,218.62 657.40,218.62 657.90,218.62 658.40,218.62 658.90,218.62 659.40,218.62 659.90,218.62 660.39,218.62 660.89,218.62 661.39,218.62 661.89,218.62 662.39,218.62 662.89,218.62 663.39,218.62 663.89,218.62 664.39,218.62 664.89,218.62 665.39,218.62 665.88,218.62 666.38,218.62 666.88,218.62 667.38,218.62 667.88,218.62 668.38,218.62 668.88,218.62 669.38,218.62 669.88,218.62 670.38,218.62 670.87,218.62 671.37,218.62 671.87,218.62 672.37,218.62 672.87,218.62 673.37,218.62 673.87,218.62 674.37,218.62 674.87,218.62 675.37,218.62 675.87,218.62 676.36,218.62 676.86,218.62 677.36,218.62 677.86,218.62 678.36,218.62 678.86,218.62 679.36,218.62 679.86,218.62 680.36,218.62 680.86,218.62 681.35,218.62 681.85,218.62 682.35,218.62 682.85,218.62 683.35,218.62 683.85,218.62"/>
<line x1="60.39" y1="129.6" x2="60.39" y2="126.8" stroke="#262626" stroke-width="0.6"/>
<line x1="60.39" y1="11.55" x2="60.39" y2="14.350000000000001" stroke="#262626" stroke-width="0.6"/>
<text x="60.39" y="143.65" font-size="10.3" text-anchor="middle">0.2</text>
<line x1="110.17" y1="129.6" x2="110.17" y2="126.8" stroke="#262626" stroke-width="0.6"/>
<line x1="110.17" y1="11.55" x2="110.17" y2="14.350000000000001" stroke="#262626" stroke-width="0.6"/>
<text x="110.17" y="143.65" font-size="10.3" text-anchor="middle">0.4</text>
<line x1="159.94" y1="129.6" x2="159.94" y2="126.8" stroke="#262626" stroke-width="0.6"/>
<line x1="159.94" y1="11.55" x2="159.94" y2="14.350000000000001" stroke="#262626" stroke-width="0.6"/>
<text x="159.94" y="143.65" font-size="10.3" text-anchor="middle">0.6</text>
<line x1="209.72" y1="129.6" x2="209.72" y2="126.8" stroke="#262626" stroke-width="0.6"/>
<line x1="209.72" y1="11.55" x2="209.72" y2="14.350000000000001" stroke="#262626" stroke-width="0.6"/>
<text x="209.72" y="143.65" font-size="10.3" text-anchor="middle">0.8</text>
<line x1="259.49" y1="129.6" x2="259.49" y2="126.8" stroke="#262626" stroke-width="0.6"/>
<line x1="259.49" y1="11.55" x2="259.49" y2="14.350000000000001" stroke="#262626" stroke-width="0.6"/>
<text x="259.49" y="143.65" font-size="10.3" text-anchor="middle">1</text>
<line x1="309.26" y1="129.6" x2="309.26" y2="126.8" stroke="#262626" stroke-width="0.6"/>
<line x1="309.26" y1="11.55" x2="309.26" y2="14.350000000000001" stroke="#262626" stroke-width="0.6"/>
<text x="309.26" y="143.65" font-size="10.3" text-anchor="middle">1.2</text>
<line x1="47.95" y1="129.60" x2="50.75" y2="129.60" stroke="#262626" stroke-width="0.6"/>
<line x1="334.15" y1="129.60" x2="331.34999999999997" y2="129.60" stroke="#262626" stroke-width="0.6"/>
<text x="43.75" y="133.50" font-size="10.3" text-anchor="end">-3000</text>
<line x1="47.95" y1="109.92" x2="50.75" y2="109.92" stroke="#262626" stroke-width="0.6"/>
<line x1="334.15" y1="109.92" x2="331.34999999999997" y2="109.92" stroke="#262626" stroke-width="0.6"/>
<text x="43.75" y="113.83" font-size="10.3" text-anchor="end">-2000</text>
<line x1="47.95" y1="90.25" x2="50.75" y2="90.25" stroke="#262626" stroke-width="0.6"/>
<line x1="334.15" y1="90.25" x2="331.34999999999997" y2="90.25" stroke="#262626" stroke-width="0.6"/>
<text x="43.75" y="94.15" font-size="10.3" text-anchor="end">-1000</text>
<line x1="47.95" y1="70.57" x2="50.75" y2="70.57" stroke="#262626" stroke-width="0.6"/>
<line x1="334.15" y1="70.57" x2="331.34999999999997" y2="70.57" stroke="#262626" stroke-width="0.6"/>
<text x="43.75" y="74.47" font-size="10.3" text-anchor="end">0</text>
<line x1="47.95" y1="50.90" x2="50.75" y2="50.90" stroke="#262626" stroke-width="0.6"/>
<line x1="334.15" y1="50.90" x2="331.34999999999997" y2="50.90" stroke="#262626" stroke-width="0.6"/>
<text x="43.75" y="54.80" font-size="10.3" text-anchor="end">1000</text>
<line x1="47.95" y1="31.22" x2="50.75" y2="31.22" stroke="#262626" stroke-width="0.6"/>
<line x1="334.15" y1="31.22" x2="331.34999999999997" y2="31.22" stroke="#262626" stroke-width="0.6"/>
<text x="43.75" y="35.12" font-size="10.3" text-anchor="end">2000</text>
<line x1="47.95" y1="11.55" x2="50.75" y2="11.55" stroke="#262626" stroke-width="0.6"/>
<line x1="334.15" y1="11.55" x2="331.34999999999997" y2="11.55" stroke="#262626" stroke-width="0.6"/>
<text x="43.75" y="15.45" font-size="10.3" text-anchor="end">3000</text>
<rect x="47.95" y="11.55" width="286.20" height="118.05" fill="none" stroke="#666666" stroke-width="1.1"/>
<text x="190.85" y="7.25" font-size="10.7" text-anchor="middle">(a)</text>
<line x1="409.38" y1="129.5" x2="409.38" y2="126.7" stroke="#262626" stroke-width="0.6"/>
<line x1="409.38" y1="11.55" x2="409.38" y2="14.350000000000001" stroke="#262626" stroke-width="0.6"/>
<text x="409.38" y="143.55" font-size="10.3" text-anchor="middle">0.2</text>
<line x1="459.28" y1="129.5" x2="459.28" y2="126.7" stroke="#262626" stroke-width="0.6"/>
<line x1="459.28" y1="11.55" x2="459.28" y2="14.350000000000001" stroke="#262626" stroke-width="0.6"/>
<text x="459.28" y="143.55" font-size="10.3" text-anchor="middle">0.4</text>
<line x1="509.18" y1="129.5" x2="509.18" y2="126.7" stroke="#262626" stroke-width="0.6"/>
<line x1="509.18" y1="11.55" x2="509.18" y2="14.350000000000001" stroke="#262626" stroke-width="0.6"/>
<text x="509.18" y="143.55" font-size="10.3" text-anchor="middle">0.6</text>
<line x1="559.09" y1="129.5" x2="559.09" y2="126.7" stroke="#262626" stroke-width="0.6"/>
<line x1="559.09" y1="11.55" x2="559.09" y2="14.350000000000001" stroke="#262626" stroke-width="0.6"/>
<text x="559.09" y="143.55" font-size="10.3" text-anchor="middle">0.8</text>
<line x1="608.99" y1="129.5" x2="608.99" y2="126.7" stroke="#262626" stroke-width="0.6"/>
<line x1="608.99" y1="11.55" x2="608.99" y2="14.350000000000001" stroke="#262626" stroke-width="0.6"/>
<text x="608.99" y="143.55" font-size="10.3" text-anchor="middle">1</text>
<line x1="658.90" y1="129.5" x2="658.90" y2="126.7" stroke="#262626" stroke-width="0.6"/>
<line x1="658.90" y1="11.55" x2="658.90" y2="14.350000000000001" stroke="#262626" stroke-width="0.6"/>
<text x="658.90" y="143.55" font-size="10.3" text-anchor="middle">1.2</text>
<line x1="396.9" y1="129.50" x2="399.7" y2="129.50" stroke="#262626" stroke-width="0.6"/>
<line x1="683.85" y1="129.50" x2="681.0500000000001" y2="129.50" stroke="#262626" stroke-width="0.6"/>
<text x="392.70" y="133.40" font-size="10.3" text-anchor="end">-3000</text>
<line x1="396.9" y1="109.84" x2="399.7" y2="109.84" stroke="#262626" stroke-width="0.6"/>
<line x1="683.85" y1="109.84" x2="681.0500000000001" y2="109.84" stroke="#262626" stroke-width="0.6"/>
<text x="392.70" y="113.74" font-size="10.3" text-anchor="end">-2000</text>
<line x1="396.9" y1="90.18" x2="399.7" y2="90.18" stroke="#262626" stroke-width="0.6"/>
<line x1="683.85" y1="90.18" x2="681.0500000000001" y2="90.18" stroke="#262626" stroke-width="0.6"/>
<text x="392.70" y="94.08" font-size="10.3" text-anchor="end">-1000</text>
<line x1="396.9" y1="70.53" x2="399.7" y2="70.53" stroke="#262626" stroke-width="0.6"/>
<line x1="683.85" y1="70.53" x2="681.0500000000001" y2="70.53" stroke="#262626" stroke-width="0.6"/>
<text x="392.70" y="74.43" font-size="10.3" text-anchor="end">0</text>
<line x1="396.9" y1="50.87" x2="399.7" y2="50.87" stroke="#262626" stroke-width="0.6"/>
<line x1="683.85" y1="50.87" x2="681.0500000000001" y2="50.87" stroke="#262626" stroke-width="0.6"/>
<text x="392.70" y="54.77" font-size="10.3" text-anchor="end">1000</text>
<line x1="396.9" y1="31.21" x2="399.7" y2="31.21" stroke="#262626" stroke-width="0.6"/>
<line x1="683.85" y1="31.21" x2="681.0500000000001" y2="31.21" stroke="#262626" stroke-width="0.6"/>
<text x="392.70" y="35.11" font-size="10.3" text-anchor="end">2000</text>
<line x1="396.9" y1="11.55" x2="399.7" y2="11.55" stroke="#262626" stroke-width="0.6"/>
<line x1="683.85" y1="11.55" x2="681.0500000000001" y2="11.55" stroke="#262626" stroke-width="0.6"/>
<text x="392.70" y="15.45" font-size="10.3" text-anchor="end">3000</text>
<rect x="396.9" y="11.55" width="286.95" height="117.95" fill="none" stroke="#666666" stroke-width="1.1"/>
<text x="540.17" y="7.25" font-size="10.7" text-anchor="middle">(a)</text>
<line x1="60.39" y1="270.3" x2="60.39" y2="267.5" stroke="#262626" stroke-width="0.6"/>
<line x1="60.39" y1="166.9" x2="60.39" y2="169.70000000000002" stroke="#262626" stroke-width="0.6"/>
<text x="60.39" y="284.35" font-size="10.3" text-anchor="middle">0.2</text>
<line x1="110.17" y1="270.3" x2="110.17" y2="267.5" stroke="#262626" stroke-width="0.6"/>
<line x1="110.17" y1="166.9" x2="110.17" y2="169.70000000000002" stroke="#262626" stroke-width="0.6"/>
<text x="110.17" y="284.35" font-size="10.3" text-anchor="middle">0.4</text>
<line x1="159.94" y1="270.3" x2="159.94" y2="267.5" stroke="#262626" stroke-width="0.6"/>
<line x1="159.94" y1="166.9" x2="159.94" y2="169.70000000000002" stroke="#262626" stroke-width="0.6"/>
<text x="159.94" y="284.35" font-size="10.3" text-anchor="middle">0.6</text>
<line x1="209.72" y1="270.3" x2="209.72" y2="267.5" stroke="#262626" stroke-width="0.6"/>
<line x1="209.72" y1="166.9" x2="209.72" y2="169.70000000000002" stroke="#262626" stroke-width="0.6"/>
<text x="209.72" y="284.35" font-size="10.3" text-anchor="middle">0.8</text>
<line x1="259.49" y1="270.3" x2="259.49" y2="267.5" stroke="#262626" stroke-width="0.6"/>
<line x1="259.49" y1="166.9" x2="259.49" y2="169.70000000000002" stroke="#262626" stroke-width="0.6"/>
<text x="259.49" y="284.35" font-size="10.3" text-anchor="middle">1</text>
<line x1="309.26" y1="270.3" x2="309.26" y2="267.5" stroke="#262626" stroke-width="0.6"/>
<line x1="309.26" y1="166.9" x2="309.26" y2="169.70000000000002" stroke="#262626" stroke-width="0.6"/>
<text x="309.26" y="284.35" font-size="10.3" text-anchor="middle">1.2</text>
<line x1="47.95" y1="270.30" x2="50.75" y2="270.30" stroke="#262626" stroke-width="0.6"/>
<line x1="334.15" y1="270.30" x2="331.34999999999997" y2="270.30" stroke="#262626" stroke-width="0.6"/>
<text x="43.75" y="274.20" font-size="10.3" text-anchor="end">-1000</text>
<line x1="47.95" y1="244.45" x2="50.75" y2="244.45" stroke="#262626" stroke-width="0.6"/>
<line x1="334.15" y1="244.45" x2="331.34999999999997" y2="244.45" stroke="#262626" stroke-width="0.6"/>
<text x="43.75" y="248.35" font-size="10.3" text-anchor="end">-500</text>
<line x1="47.95" y1="218.60" x2="50.75" y2="218.60" stroke="#262626" stroke-width="0.6"/>
<line x1="334.15" y1="218.60" x2="331.34999999999997" y2="218.60" stroke="#262626" stroke-width="0.6"/>
<text x="43.75" y="222.50" font-size="10.3" text-anchor="end">0</text>
<line x1="47.95" y1="192.75" x2="50.75" y2="192.75" stroke="#262626" stroke-width="0.6"/>
<line x1="334.15" y1="192.75" x2="331.34999999999997" y2="192.75" stroke="#262626" stroke-width="0.6"/>
<text x="43.75" y="196.65" font-size="10.3" text-anchor="end">500</text>
<line x1="47.95" y1="166.90" x2="50.75" y2="166.90" stroke="#262626" stroke-width="0.6"/>
<line x1="334.15" y1="166.90" x2="331.34999999999997" y2="166.90" stroke="#262626" stroke-width="0.6"/>
<text x="43.75" y="170.80" font-size="10.3" text-anchor="end">1000</text>
<rect x="47.95" y="166.9" width="286.20" height="103.40" fill="none" stroke="#666666" stroke-width="1.1"/>
<text x="190.85" y="163.00" font-size="10.7" text-anchor="middle">(b)</text>
<text x="192.65" y="298.20" font-size="11.3" text-anchor="middle">Time(s)</text>
<line x1="409.38" y1="270.3" x2="409.38" y2="267.5" stroke="#262626" stroke-width="0.6"/>
<line x1="409.38" y1="166.95" x2="409.38" y2="169.75" stroke="#262626" stroke-width="0.6"/>
<text x="409.38" y="284.35" font-size="10.3" text-anchor="middle">0.2</text>
<line x1="459.28" y1="270.3" x2="459.28" y2="267.5" stroke="#262626" stroke-width="0.6"/>
<line x1="459.28" y1="166.95" x2="459.28" y2="169.75" stroke="#262626" stroke-width="0.6"/>
<text x="459.28" y="284.35" font-size="10.3" text-anchor="middle">0.4</text>
<line x1="509.18" y1="270.3" x2="509.18" y2="267.5" stroke="#262626" stroke-width="0.6"/>
<line x1="509.18" y1="166.95" x2="509.18" y2="169.75" stroke="#262626" stroke-width="0.6"/>
<text x="509.18" y="284.35" font-size="10.3" text-anchor="middle">0.6</text>
<line x1="559.09" y1="270.3" x2="559.09" y2="267.5" stroke="#262626" stroke-width="0.6"/>
<line x1="559.09" y1="166.95" x2="559.09" y2="169.75" stroke="#262626" stroke-width="0.6"/>
<text x="559.09" y="284.35" font-size="10.3" text-anchor="middle">0.8</text>
<line x1="608.99" y1="270.3" x2="608.99" y2="267.5" stroke="#262626" stroke-width="0.6"/>
<line x1="608.99" y1="166.95" x2="608.99" y2="169.75" stroke="#262626" stroke-width="0.6"/>
<text x="608.99" y="284.35" font-size="10.3" text-anchor="middle">1</text>
<line x1="658.90" y1="270.3" x2="658.90" y2="267.5" stroke="#262626" stroke-width="0.6"/>
<line x1="658.90" y1="166.95" x2="658.90" y2="169.75" stroke="#262626" stroke-width="0.6"/>
<text x="658.90" y="284.35" font-size="10.3" text-anchor="middle">1.2</text>
<line x1="396.9" y1="270.30" x2="399.7" y2="270.30" stroke="#262626" stroke-width="0.6"/>
<line x1="683.85" y1="270.30" x2="681.0500000000001" y2="270.30" stroke="#262626" stroke-width="0.6"/>
<text x="392.70" y="274.20" font-size="10.3" text-anchor="end">-1000</text>
<line x1="396.9" y1="244.46" x2="399.7" y2="244.46" stroke="#262626" stroke-width="0.6"/>
<line x1="683.85" y1="244.46" x2="681.0500000000001" y2="244.46" stroke="#262626" stroke-width="0.6"/>
<text x="392.70" y="248.36" font-size="10.3" text-anchor="end">-500</text>
<line x1="396.9" y1="218.62" x2="399.7" y2="218.62" stroke="#262626" stroke-width="0.6"/>
<line x1="683.85" y1="218.62" x2="681.0500000000001" y2="218.62" stroke="#262626" stroke-width="0.6"/>
<text x="392.70" y="222.53" font-size="10.3" text-anchor="end">0</text>
<line x1="396.9" y1="192.79" x2="399.7" y2="192.79" stroke="#262626" stroke-width="0.6"/>
<line x1="683.85" y1="192.79" x2="681.0500000000001" y2="192.79" stroke="#262626" stroke-width="0.6"/>
<text x="392.70" y="196.69" font-size="10.3" text-anchor="end">500</text>
<line x1="396.9" y1="166.95" x2="399.7" y2="166.95" stroke="#262626" stroke-width="0.6"/>
<line x1="683.85" y1="166.95" x2="681.0500000000001" y2="166.95" stroke="#262626" stroke-width="0.6"/>
<text x="392.70" y="170.85" font-size="10.3" text-anchor="end">1000</text>
<rect x="396.9" y="166.95" width="286.95" height="103.35" fill="none" stroke="#666666" stroke-width="1.1"/>
<text x="540.17" y="163.05" font-size="10.7" text-anchor="middle">(b)</text>
<text x="541.98" y="298.20" font-size="11.3" text-anchor="middle">Time(s)</text>
<text x="54.4" y="11.2" font-size="12.55" font-weight="bold" style="fill:#000;stroke:#000;stroke-width:0.35px">Conventional SVM</text>
<text x="402.9" y="9.0" font-size="12.55" font-weight="bold" style="fill:#000;stroke:#000;stroke-width:0.35px">Proposed MMC</text>
<g transform="translate(8.10,87.68) rotate(-90)"><text x="0" y="0" font-size="11.5">P<tspan dx="-1.1" dy="6.0" font-size="8.8">g</tspan><tspan dx="2.2" dy="-6.0" font-size="11.4"> (W)</tspan></text></g>
<g transform="translate(357.05,87.62) rotate(-90)"><text x="0" y="0" font-size="11.5">P<tspan dx="-1.1" dy="6.0" font-size="8.8">g</tspan><tspan dx="2.2" dy="-6.0" font-size="11.4"> (W)</tspan></text></g>
<g transform="translate(8.10,239.30) rotate(-90)"><text x="0" y="0" font-size="11.5">Q<tspan dx="-1.1" dy="6.0" font-size="8.8">g</tspan><tspan dx="2.2" dy="-6.0" font-size="11.4"> (Var)</tspan></text></g>
<g transform="translate(357.05,239.32) rotate(-90)"><text x="0" y="0" font-size="11.5">Q<tspan dx="-1.1" dy="6.0" font-size="8.8">g</tspan><tspan dx="2.2" dy="-6.0" font-size="11.4"> (Var)</tspan></text></g>
<rect x="87.3" y="28.6" width="114.2" height="23.7" fill="#fff" stroke="#4a4a4a" stroke-width="0.9"/>
<line x1="91.0" y1="35.2" x2="121.7" y2="35.2" stroke="#0000ff" stroke-width="0.9"/>
<line x1="91.0" y1="45.6" x2="121.7" y2="45.6" stroke="#ff0000" stroke-width="2.2"/>
<text x="125.0" y="38.1" font-size="8.35" style="fill:#000;stroke:#000;stroke-width:0.12px">P (Instantaneous)</text>
<text x="125.0" y="48.5" font-size="8.35" style="fill:#000;stroke:#000;stroke-width:0.12px">P (Positive-Sequence)</text>
<rect x="419.0" y="31.4" width="114.7" height="23.3" fill="#fff" stroke="#4a4a4a" stroke-width="0.9"/>
<line x1="422.4" y1="38.0" x2="453.3" y2="38.0" stroke="#0000ff" stroke-width="0.9"/>
<line x1="422.4" y1="48.5" x2="453.3" y2="48.5" stroke="#ff0000" stroke-width="2.2"/>
<text x="456.5" y="40.9" font-size="8.35" style="fill:#000;stroke:#000;stroke-width:0.12px">P (Instantaneous)</text>
<text x="456.5" y="51.4" font-size="8.35" style="fill:#000;stroke:#000;stroke-width:0.12px">P (Positive-Sequence)</text>
<rect x="59.9" y="157.0" width="115.8" height="23.4" fill="#fff" stroke="#4a4a4a" stroke-width="0.9"/>
<line x1="62.9" y1="163.7" x2="94.0" y2="163.7" stroke="#0000ff" stroke-width="0.9"/>
<line x1="62.9" y1="174.1" x2="94.0" y2="174.1" stroke="#ff0000" stroke-width="2.2"/>
<text x="96.9" y="166.6" font-size="8.35" style="fill:#000;stroke:#000;stroke-width:0.12px">Q (Instantaneous)</text>
<text x="96.9" y="177.0" font-size="8.35" style="fill:#000;stroke:#000;stroke-width:0.12px">Q (Positive-Sequence)</text>
<rect x="419.5" y="172.9" width="115.8" height="23.2" fill="#fff" stroke="#4a4a4a" stroke-width="0.9"/>
<line x1="422.9" y1="179.5" x2="453.6" y2="179.5" stroke="#0000ff" stroke-width="0.9"/>
<line x1="422.9" y1="190.0" x2="453.6" y2="190.0" stroke="#ff0000" stroke-width="2.2"/>
<text x="456.5" y="182.4" font-size="8.35" style="fill:#000;stroke:#000;stroke-width:0.12px">Q (Instantaneous)</text>
<text x="456.5" y="192.9" font-size="8.35" style="fill:#000;stroke:#000;stroke-width:0.12px">Q (Positive-Sequence)</text>
</g></svg></body></html>
